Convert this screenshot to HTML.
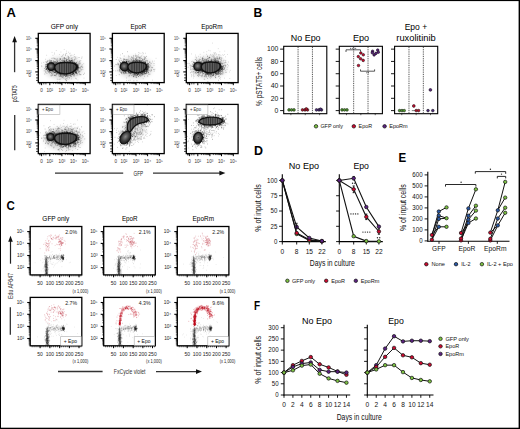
<!DOCTYPE html><html><head><meta charset="utf-8"><style>html,body{margin:0;padding:0;background:#fff;}svg{display:block;font-family:"Liberation Sans", sans-serif;}</style></head><body><svg width="520" height="429" viewBox="0 0 520 429" font-family='"Liberation Sans", sans-serif'><defs><filter id="blur2" x="-50%" y="-50%" width="200%" height="200%"><feGaussianBlur stdDeviation="2.5"/></filter><radialGradient id="sph" cx="0.45" cy="0.45" r="0.6"><stop offset="0" stop-color="#8a8a8a"/><stop offset="0.6" stop-color="#3a3a3a"/><stop offset="1" stop-color="#1a1a1a"/></radialGradient></defs><rect x="0" y="0" width="520" height="429" fill="#000"/><rect x="1" y="1.1" width="517.6" height="426.6" fill="#fff"/><text x="6.6" y="16.8" font-size="13" text-anchor="start" font-weight="bold" fill="#000">A</text><text x="253.6" y="17.1" font-size="13" text-anchor="start" font-weight="bold" fill="#000" textLength="8.8" lengthAdjust="spacingAndGlyphs">B</text><text x="6.6" y="209.5" font-size="13" text-anchor="start" font-weight="bold" fill="#000" textLength="8.3" lengthAdjust="spacingAndGlyphs">C</text><text x="253.9" y="155.4" font-size="13" text-anchor="start" font-weight="bold" fill="#000" textLength="9" lengthAdjust="spacingAndGlyphs">D</text><text x="398.4" y="161.9" font-size="13" text-anchor="start" font-weight="bold" fill="#000" textLength="7.7" lengthAdjust="spacingAndGlyphs">E</text><text x="253.9" y="310" font-size="13" text-anchor="start" font-weight="bold" fill="#000" textLength="6.1" lengthAdjust="spacingAndGlyphs">F</text><rect x="38.3" y="33.4" width="51.8" height="49.2" fill="none" stroke="#000" stroke-width="1.3"/><line x1="35.3" y1="38.3" x2="38.3" y2="38.3" stroke="#000" stroke-width="1.1"/><line x1="36.7" y1="45.78" x2="38.3" y2="45.78" stroke="#000" stroke-width="0.6"/><line x1="36.7" y1="43.89" x2="38.3" y2="43.89" stroke="#000" stroke-width="0.6"/><line x1="36.7" y1="42.56" x2="38.3" y2="42.56" stroke="#000" stroke-width="0.6"/><line x1="36.7" y1="41.52" x2="38.3" y2="41.52" stroke="#000" stroke-width="0.6"/><line x1="36.7" y1="40.67" x2="38.3" y2="40.67" stroke="#000" stroke-width="0.6"/><line x1="36.7" y1="39.96" x2="38.3" y2="39.96" stroke="#000" stroke-width="0.6"/><line x1="36.7" y1="39.34" x2="38.3" y2="39.34" stroke="#000" stroke-width="0.6"/><line x1="36.7" y1="38.79" x2="38.3" y2="38.79" stroke="#000" stroke-width="0.6"/><text x="31.7" y="39.9" font-size="4.6" text-anchor="end" font-weight="normal" fill="#444" textLength="5.8" lengthAdjust="spacingAndGlyphs">10⁵</text><line x1="35.3" y1="49" x2="38.3" y2="49" stroke="#000" stroke-width="1.1"/><line x1="36.7" y1="57.11" x2="38.3" y2="57.11" stroke="#000" stroke-width="0.6"/><line x1="36.7" y1="55.07" x2="38.3" y2="55.07" stroke="#000" stroke-width="0.6"/><line x1="36.7" y1="53.62" x2="38.3" y2="53.62" stroke="#000" stroke-width="0.6"/><line x1="36.7" y1="52.49" x2="38.3" y2="52.49" stroke="#000" stroke-width="0.6"/><line x1="36.7" y1="51.57" x2="38.3" y2="51.57" stroke="#000" stroke-width="0.6"/><line x1="36.7" y1="50.8" x2="38.3" y2="50.8" stroke="#000" stroke-width="0.6"/><line x1="36.7" y1="50.12" x2="38.3" y2="50.12" stroke="#000" stroke-width="0.6"/><line x1="36.7" y1="49.53" x2="38.3" y2="49.53" stroke="#000" stroke-width="0.6"/><text x="31.7" y="50.6" font-size="4.6" text-anchor="end" font-weight="normal" fill="#444" textLength="5.8" lengthAdjust="spacingAndGlyphs">10⁴</text><line x1="35.3" y1="60.6" x2="38.3" y2="60.6" stroke="#000" stroke-width="1.1"/><line x1="36.7" y1="68.5" x2="38.3" y2="68.5" stroke="#000" stroke-width="0.6"/><line x1="36.7" y1="66.51" x2="38.3" y2="66.51" stroke="#000" stroke-width="0.6"/><line x1="36.7" y1="65.1" x2="38.3" y2="65.1" stroke="#000" stroke-width="0.6"/><line x1="36.7" y1="64" x2="38.3" y2="64" stroke="#000" stroke-width="0.6"/><line x1="36.7" y1="63.11" x2="38.3" y2="63.11" stroke="#000" stroke-width="0.6"/><line x1="36.7" y1="62.35" x2="38.3" y2="62.35" stroke="#000" stroke-width="0.6"/><line x1="36.7" y1="61.7" x2="38.3" y2="61.7" stroke="#000" stroke-width="0.6"/><line x1="36.7" y1="61.12" x2="38.3" y2="61.12" stroke="#000" stroke-width="0.6"/><text x="31.7" y="62.2" font-size="4.6" text-anchor="end" font-weight="normal" fill="#444" textLength="5.8" lengthAdjust="spacingAndGlyphs">10³</text><line x1="35.3" y1="71.9" x2="38.3" y2="71.9" stroke="#000" stroke-width="1.1"/><text x="31.7" y="73.5" font-size="4.6" text-anchor="end" font-weight="normal" fill="#444" textLength="5.8" lengthAdjust="spacingAndGlyphs">10²</text><line x1="36.1" y1="74.9" x2="38.3" y2="74.9" stroke="#000" stroke-width="0.8"/><line x1="36.1" y1="77.9" x2="38.3" y2="77.9" stroke="#000" stroke-width="0.8"/><line x1="36.1" y1="80.4" x2="38.3" y2="80.4" stroke="#000" stroke-width="0.8"/><text x="31" y="77.1" font-size="4.6" text-anchor="end" font-weight="normal" fill="#333">0</text><line x1="41.6" y1="82.6" x2="41.6" y2="85.2" stroke="#000" stroke-width="1"/><text x="41.6" y="92.2" font-size="4.6" text-anchor="middle" font-weight="normal" fill="#333">0</text><line x1="49.8" y1="82.6" x2="49.8" y2="85.2" stroke="#000" stroke-width="1"/><text x="49.8" y="92.2" font-size="4.6" text-anchor="middle" font-weight="normal" fill="#333">10²</text><line x1="53.44" y1="82.6" x2="53.44" y2="84.1" stroke="#000" stroke-width="0.6"/><line x1="55.57" y1="82.6" x2="55.57" y2="84.1" stroke="#000" stroke-width="0.6"/><line x1="57.08" y1="82.6" x2="57.08" y2="84.1" stroke="#000" stroke-width="0.6"/><line x1="58.26" y1="82.6" x2="58.26" y2="84.1" stroke="#000" stroke-width="0.6"/><line x1="59.22" y1="82.6" x2="59.22" y2="84.1" stroke="#000" stroke-width="0.6"/><line x1="60.03" y1="82.6" x2="60.03" y2="84.1" stroke="#000" stroke-width="0.6"/><line x1="60.73" y1="82.6" x2="60.73" y2="84.1" stroke="#000" stroke-width="0.6"/><line x1="61.35" y1="82.6" x2="61.35" y2="84.1" stroke="#000" stroke-width="0.6"/><line x1="61.9" y1="82.6" x2="61.9" y2="85.2" stroke="#000" stroke-width="1"/><text x="61.9" y="92.2" font-size="4.6" text-anchor="middle" font-weight="normal" fill="#333">10³</text><line x1="65.39" y1="82.6" x2="65.39" y2="84.1" stroke="#000" stroke-width="0.6"/><line x1="67.43" y1="82.6" x2="67.43" y2="84.1" stroke="#000" stroke-width="0.6"/><line x1="68.88" y1="82.6" x2="68.88" y2="84.1" stroke="#000" stroke-width="0.6"/><line x1="70.01" y1="82.6" x2="70.01" y2="84.1" stroke="#000" stroke-width="0.6"/><line x1="70.93" y1="82.6" x2="70.93" y2="84.1" stroke="#000" stroke-width="0.6"/><line x1="71.7" y1="82.6" x2="71.7" y2="84.1" stroke="#000" stroke-width="0.6"/><line x1="72.38" y1="82.6" x2="72.38" y2="84.1" stroke="#000" stroke-width="0.6"/><line x1="72.97" y1="82.6" x2="72.97" y2="84.1" stroke="#000" stroke-width="0.6"/><line x1="73.5" y1="82.6" x2="73.5" y2="85.2" stroke="#000" stroke-width="1"/><text x="73.5" y="92.2" font-size="4.6" text-anchor="middle" font-weight="normal" fill="#333">10⁴</text><line x1="77.05" y1="82.6" x2="77.05" y2="84.1" stroke="#000" stroke-width="0.6"/><line x1="79.13" y1="82.6" x2="79.13" y2="84.1" stroke="#000" stroke-width="0.6"/><line x1="80.6" y1="82.6" x2="80.6" y2="84.1" stroke="#000" stroke-width="0.6"/><line x1="81.75" y1="82.6" x2="81.75" y2="84.1" stroke="#000" stroke-width="0.6"/><line x1="82.68" y1="82.6" x2="82.68" y2="84.1" stroke="#000" stroke-width="0.6"/><line x1="83.47" y1="82.6" x2="83.47" y2="84.1" stroke="#000" stroke-width="0.6"/><line x1="84.16" y1="82.6" x2="84.16" y2="84.1" stroke="#000" stroke-width="0.6"/><line x1="84.76" y1="82.6" x2="84.76" y2="84.1" stroke="#000" stroke-width="0.6"/><line x1="85.3" y1="82.6" x2="85.3" y2="85.2" stroke="#000" stroke-width="1"/><text x="85.3" y="92.2" font-size="4.6" text-anchor="middle" font-weight="normal" fill="#333">10⁵</text><line x1="39.5" y1="82.6" x2="39.5" y2="84.4" stroke="#000" stroke-width="0.7"/><line x1="40.7" y1="82.6" x2="40.7" y2="84.4" stroke="#000" stroke-width="0.7"/><line x1="43.8" y1="82.6" x2="43.8" y2="84.4" stroke="#000" stroke-width="0.7"/><line x1="45.9" y1="82.6" x2="45.9" y2="84.4" stroke="#000" stroke-width="0.7"/><rect x="38.3" y="104.4" width="51.8" height="49.2" fill="none" stroke="#000" stroke-width="1.3"/><line x1="35.3" y1="109.3" x2="38.3" y2="109.3" stroke="#000" stroke-width="1.1"/><line x1="36.7" y1="116.78" x2="38.3" y2="116.78" stroke="#000" stroke-width="0.6"/><line x1="36.7" y1="114.89" x2="38.3" y2="114.89" stroke="#000" stroke-width="0.6"/><line x1="36.7" y1="113.56" x2="38.3" y2="113.56" stroke="#000" stroke-width="0.6"/><line x1="36.7" y1="112.52" x2="38.3" y2="112.52" stroke="#000" stroke-width="0.6"/><line x1="36.7" y1="111.67" x2="38.3" y2="111.67" stroke="#000" stroke-width="0.6"/><line x1="36.7" y1="110.96" x2="38.3" y2="110.96" stroke="#000" stroke-width="0.6"/><line x1="36.7" y1="110.34" x2="38.3" y2="110.34" stroke="#000" stroke-width="0.6"/><line x1="36.7" y1="109.79" x2="38.3" y2="109.79" stroke="#000" stroke-width="0.6"/><text x="31.7" y="110.9" font-size="4.6" text-anchor="end" font-weight="normal" fill="#444" textLength="5.8" lengthAdjust="spacingAndGlyphs">10⁵</text><line x1="35.3" y1="120" x2="38.3" y2="120" stroke="#000" stroke-width="1.1"/><line x1="36.7" y1="128.11" x2="38.3" y2="128.11" stroke="#000" stroke-width="0.6"/><line x1="36.7" y1="126.07" x2="38.3" y2="126.07" stroke="#000" stroke-width="0.6"/><line x1="36.7" y1="124.62" x2="38.3" y2="124.62" stroke="#000" stroke-width="0.6"/><line x1="36.7" y1="123.49" x2="38.3" y2="123.49" stroke="#000" stroke-width="0.6"/><line x1="36.7" y1="122.57" x2="38.3" y2="122.57" stroke="#000" stroke-width="0.6"/><line x1="36.7" y1="121.8" x2="38.3" y2="121.8" stroke="#000" stroke-width="0.6"/><line x1="36.7" y1="121.12" x2="38.3" y2="121.12" stroke="#000" stroke-width="0.6"/><line x1="36.7" y1="120.53" x2="38.3" y2="120.53" stroke="#000" stroke-width="0.6"/><text x="31.7" y="121.6" font-size="4.6" text-anchor="end" font-weight="normal" fill="#444" textLength="5.8" lengthAdjust="spacingAndGlyphs">10⁴</text><line x1="35.3" y1="131.6" x2="38.3" y2="131.6" stroke="#000" stroke-width="1.1"/><line x1="36.7" y1="139.5" x2="38.3" y2="139.5" stroke="#000" stroke-width="0.6"/><line x1="36.7" y1="137.51" x2="38.3" y2="137.51" stroke="#000" stroke-width="0.6"/><line x1="36.7" y1="136.1" x2="38.3" y2="136.1" stroke="#000" stroke-width="0.6"/><line x1="36.7" y1="135" x2="38.3" y2="135" stroke="#000" stroke-width="0.6"/><line x1="36.7" y1="134.11" x2="38.3" y2="134.11" stroke="#000" stroke-width="0.6"/><line x1="36.7" y1="133.35" x2="38.3" y2="133.35" stroke="#000" stroke-width="0.6"/><line x1="36.7" y1="132.7" x2="38.3" y2="132.7" stroke="#000" stroke-width="0.6"/><line x1="36.7" y1="132.12" x2="38.3" y2="132.12" stroke="#000" stroke-width="0.6"/><text x="31.7" y="133.2" font-size="4.6" text-anchor="end" font-weight="normal" fill="#444" textLength="5.8" lengthAdjust="spacingAndGlyphs">10³</text><line x1="35.3" y1="142.9" x2="38.3" y2="142.9" stroke="#000" stroke-width="1.1"/><text x="31.7" y="144.5" font-size="4.6" text-anchor="end" font-weight="normal" fill="#444" textLength="5.8" lengthAdjust="spacingAndGlyphs">10²</text><line x1="36.1" y1="145.9" x2="38.3" y2="145.9" stroke="#000" stroke-width="0.8"/><line x1="36.1" y1="148.9" x2="38.3" y2="148.9" stroke="#000" stroke-width="0.8"/><line x1="36.1" y1="151.4" x2="38.3" y2="151.4" stroke="#000" stroke-width="0.8"/><text x="31" y="148.1" font-size="4.6" text-anchor="end" font-weight="normal" fill="#333">0</text><line x1="41.6" y1="153.6" x2="41.6" y2="156.2" stroke="#000" stroke-width="1"/><text x="41.6" y="163.2" font-size="4.6" text-anchor="middle" font-weight="normal" fill="#333">0</text><line x1="49.8" y1="153.6" x2="49.8" y2="156.2" stroke="#000" stroke-width="1"/><text x="49.8" y="163.2" font-size="4.6" text-anchor="middle" font-weight="normal" fill="#333">10²</text><line x1="53.44" y1="153.6" x2="53.44" y2="155.1" stroke="#000" stroke-width="0.6"/><line x1="55.57" y1="153.6" x2="55.57" y2="155.1" stroke="#000" stroke-width="0.6"/><line x1="57.08" y1="153.6" x2="57.08" y2="155.1" stroke="#000" stroke-width="0.6"/><line x1="58.26" y1="153.6" x2="58.26" y2="155.1" stroke="#000" stroke-width="0.6"/><line x1="59.22" y1="153.6" x2="59.22" y2="155.1" stroke="#000" stroke-width="0.6"/><line x1="60.03" y1="153.6" x2="60.03" y2="155.1" stroke="#000" stroke-width="0.6"/><line x1="60.73" y1="153.6" x2="60.73" y2="155.1" stroke="#000" stroke-width="0.6"/><line x1="61.35" y1="153.6" x2="61.35" y2="155.1" stroke="#000" stroke-width="0.6"/><line x1="61.9" y1="153.6" x2="61.9" y2="156.2" stroke="#000" stroke-width="1"/><text x="61.9" y="163.2" font-size="4.6" text-anchor="middle" font-weight="normal" fill="#333">10³</text><line x1="65.39" y1="153.6" x2="65.39" y2="155.1" stroke="#000" stroke-width="0.6"/><line x1="67.43" y1="153.6" x2="67.43" y2="155.1" stroke="#000" stroke-width="0.6"/><line x1="68.88" y1="153.6" x2="68.88" y2="155.1" stroke="#000" stroke-width="0.6"/><line x1="70.01" y1="153.6" x2="70.01" y2="155.1" stroke="#000" stroke-width="0.6"/><line x1="70.93" y1="153.6" x2="70.93" y2="155.1" stroke="#000" stroke-width="0.6"/><line x1="71.7" y1="153.6" x2="71.7" y2="155.1" stroke="#000" stroke-width="0.6"/><line x1="72.38" y1="153.6" x2="72.38" y2="155.1" stroke="#000" stroke-width="0.6"/><line x1="72.97" y1="153.6" x2="72.97" y2="155.1" stroke="#000" stroke-width="0.6"/><line x1="73.5" y1="153.6" x2="73.5" y2="156.2" stroke="#000" stroke-width="1"/><text x="73.5" y="163.2" font-size="4.6" text-anchor="middle" font-weight="normal" fill="#333">10⁴</text><line x1="77.05" y1="153.6" x2="77.05" y2="155.1" stroke="#000" stroke-width="0.6"/><line x1="79.13" y1="153.6" x2="79.13" y2="155.1" stroke="#000" stroke-width="0.6"/><line x1="80.6" y1="153.6" x2="80.6" y2="155.1" stroke="#000" stroke-width="0.6"/><line x1="81.75" y1="153.6" x2="81.75" y2="155.1" stroke="#000" stroke-width="0.6"/><line x1="82.68" y1="153.6" x2="82.68" y2="155.1" stroke="#000" stroke-width="0.6"/><line x1="83.47" y1="153.6" x2="83.47" y2="155.1" stroke="#000" stroke-width="0.6"/><line x1="84.16" y1="153.6" x2="84.16" y2="155.1" stroke="#000" stroke-width="0.6"/><line x1="84.76" y1="153.6" x2="84.76" y2="155.1" stroke="#000" stroke-width="0.6"/><line x1="85.3" y1="153.6" x2="85.3" y2="156.2" stroke="#000" stroke-width="1"/><text x="85.3" y="163.2" font-size="4.6" text-anchor="middle" font-weight="normal" fill="#333">10⁵</text><line x1="39.5" y1="153.6" x2="39.5" y2="155.4" stroke="#000" stroke-width="0.7"/><line x1="40.7" y1="153.6" x2="40.7" y2="155.4" stroke="#000" stroke-width="0.7"/><line x1="43.8" y1="153.6" x2="43.8" y2="155.4" stroke="#000" stroke-width="0.7"/><line x1="45.9" y1="153.6" x2="45.9" y2="155.4" stroke="#000" stroke-width="0.7"/><rect x="112.4" y="33.4" width="51.8" height="49.2" fill="none" stroke="#000" stroke-width="1.3"/><line x1="109.4" y1="38.3" x2="112.4" y2="38.3" stroke="#000" stroke-width="1.1"/><line x1="110.8" y1="45.78" x2="112.4" y2="45.78" stroke="#000" stroke-width="0.6"/><line x1="110.8" y1="43.89" x2="112.4" y2="43.89" stroke="#000" stroke-width="0.6"/><line x1="110.8" y1="42.56" x2="112.4" y2="42.56" stroke="#000" stroke-width="0.6"/><line x1="110.8" y1="41.52" x2="112.4" y2="41.52" stroke="#000" stroke-width="0.6"/><line x1="110.8" y1="40.67" x2="112.4" y2="40.67" stroke="#000" stroke-width="0.6"/><line x1="110.8" y1="39.96" x2="112.4" y2="39.96" stroke="#000" stroke-width="0.6"/><line x1="110.8" y1="39.34" x2="112.4" y2="39.34" stroke="#000" stroke-width="0.6"/><line x1="110.8" y1="38.79" x2="112.4" y2="38.79" stroke="#000" stroke-width="0.6"/><text x="105.8" y="39.9" font-size="4.6" text-anchor="end" font-weight="normal" fill="#444" textLength="5.8" lengthAdjust="spacingAndGlyphs">10⁵</text><line x1="109.4" y1="49" x2="112.4" y2="49" stroke="#000" stroke-width="1.1"/><line x1="110.8" y1="57.11" x2="112.4" y2="57.11" stroke="#000" stroke-width="0.6"/><line x1="110.8" y1="55.07" x2="112.4" y2="55.07" stroke="#000" stroke-width="0.6"/><line x1="110.8" y1="53.62" x2="112.4" y2="53.62" stroke="#000" stroke-width="0.6"/><line x1="110.8" y1="52.49" x2="112.4" y2="52.49" stroke="#000" stroke-width="0.6"/><line x1="110.8" y1="51.57" x2="112.4" y2="51.57" stroke="#000" stroke-width="0.6"/><line x1="110.8" y1="50.8" x2="112.4" y2="50.8" stroke="#000" stroke-width="0.6"/><line x1="110.8" y1="50.12" x2="112.4" y2="50.12" stroke="#000" stroke-width="0.6"/><line x1="110.8" y1="49.53" x2="112.4" y2="49.53" stroke="#000" stroke-width="0.6"/><text x="105.8" y="50.6" font-size="4.6" text-anchor="end" font-weight="normal" fill="#444" textLength="5.8" lengthAdjust="spacingAndGlyphs">10⁴</text><line x1="109.4" y1="60.6" x2="112.4" y2="60.6" stroke="#000" stroke-width="1.1"/><line x1="110.8" y1="68.5" x2="112.4" y2="68.5" stroke="#000" stroke-width="0.6"/><line x1="110.8" y1="66.51" x2="112.4" y2="66.51" stroke="#000" stroke-width="0.6"/><line x1="110.8" y1="65.1" x2="112.4" y2="65.1" stroke="#000" stroke-width="0.6"/><line x1="110.8" y1="64" x2="112.4" y2="64" stroke="#000" stroke-width="0.6"/><line x1="110.8" y1="63.11" x2="112.4" y2="63.11" stroke="#000" stroke-width="0.6"/><line x1="110.8" y1="62.35" x2="112.4" y2="62.35" stroke="#000" stroke-width="0.6"/><line x1="110.8" y1="61.7" x2="112.4" y2="61.7" stroke="#000" stroke-width="0.6"/><line x1="110.8" y1="61.12" x2="112.4" y2="61.12" stroke="#000" stroke-width="0.6"/><text x="105.8" y="62.2" font-size="4.6" text-anchor="end" font-weight="normal" fill="#444" textLength="5.8" lengthAdjust="spacingAndGlyphs">10³</text><line x1="109.4" y1="71.9" x2="112.4" y2="71.9" stroke="#000" stroke-width="1.1"/><text x="105.8" y="73.5" font-size="4.6" text-anchor="end" font-weight="normal" fill="#444" textLength="5.8" lengthAdjust="spacingAndGlyphs">10²</text><line x1="110.2" y1="74.9" x2="112.4" y2="74.9" stroke="#000" stroke-width="0.8"/><line x1="110.2" y1="77.9" x2="112.4" y2="77.9" stroke="#000" stroke-width="0.8"/><line x1="110.2" y1="80.4" x2="112.4" y2="80.4" stroke="#000" stroke-width="0.8"/><text x="105.1" y="77.1" font-size="4.6" text-anchor="end" font-weight="normal" fill="#333">0</text><line x1="115.7" y1="82.6" x2="115.7" y2="85.2" stroke="#000" stroke-width="1"/><text x="115.7" y="92.2" font-size="4.6" text-anchor="middle" font-weight="normal" fill="#333">0</text><line x1="123.9" y1="82.6" x2="123.9" y2="85.2" stroke="#000" stroke-width="1"/><text x="123.9" y="92.2" font-size="4.6" text-anchor="middle" font-weight="normal" fill="#333">10²</text><line x1="127.54" y1="82.6" x2="127.54" y2="84.1" stroke="#000" stroke-width="0.6"/><line x1="129.67" y1="82.6" x2="129.67" y2="84.1" stroke="#000" stroke-width="0.6"/><line x1="131.18" y1="82.6" x2="131.18" y2="84.1" stroke="#000" stroke-width="0.6"/><line x1="132.36" y1="82.6" x2="132.36" y2="84.1" stroke="#000" stroke-width="0.6"/><line x1="133.32" y1="82.6" x2="133.32" y2="84.1" stroke="#000" stroke-width="0.6"/><line x1="134.13" y1="82.6" x2="134.13" y2="84.1" stroke="#000" stroke-width="0.6"/><line x1="134.83" y1="82.6" x2="134.83" y2="84.1" stroke="#000" stroke-width="0.6"/><line x1="135.45" y1="82.6" x2="135.45" y2="84.1" stroke="#000" stroke-width="0.6"/><line x1="136" y1="82.6" x2="136" y2="85.2" stroke="#000" stroke-width="1"/><text x="136" y="92.2" font-size="4.6" text-anchor="middle" font-weight="normal" fill="#333">10³</text><line x1="139.49" y1="82.6" x2="139.49" y2="84.1" stroke="#000" stroke-width="0.6"/><line x1="141.53" y1="82.6" x2="141.53" y2="84.1" stroke="#000" stroke-width="0.6"/><line x1="142.98" y1="82.6" x2="142.98" y2="84.1" stroke="#000" stroke-width="0.6"/><line x1="144.11" y1="82.6" x2="144.11" y2="84.1" stroke="#000" stroke-width="0.6"/><line x1="145.03" y1="82.6" x2="145.03" y2="84.1" stroke="#000" stroke-width="0.6"/><line x1="145.8" y1="82.6" x2="145.8" y2="84.1" stroke="#000" stroke-width="0.6"/><line x1="146.48" y1="82.6" x2="146.48" y2="84.1" stroke="#000" stroke-width="0.6"/><line x1="147.07" y1="82.6" x2="147.07" y2="84.1" stroke="#000" stroke-width="0.6"/><line x1="147.6" y1="82.6" x2="147.6" y2="85.2" stroke="#000" stroke-width="1"/><text x="147.6" y="92.2" font-size="4.6" text-anchor="middle" font-weight="normal" fill="#333">10⁴</text><line x1="151.15" y1="82.6" x2="151.15" y2="84.1" stroke="#000" stroke-width="0.6"/><line x1="153.23" y1="82.6" x2="153.23" y2="84.1" stroke="#000" stroke-width="0.6"/><line x1="154.7" y1="82.6" x2="154.7" y2="84.1" stroke="#000" stroke-width="0.6"/><line x1="155.85" y1="82.6" x2="155.85" y2="84.1" stroke="#000" stroke-width="0.6"/><line x1="156.78" y1="82.6" x2="156.78" y2="84.1" stroke="#000" stroke-width="0.6"/><line x1="157.57" y1="82.6" x2="157.57" y2="84.1" stroke="#000" stroke-width="0.6"/><line x1="158.26" y1="82.6" x2="158.26" y2="84.1" stroke="#000" stroke-width="0.6"/><line x1="158.86" y1="82.6" x2="158.86" y2="84.1" stroke="#000" stroke-width="0.6"/><line x1="159.4" y1="82.6" x2="159.4" y2="85.2" stroke="#000" stroke-width="1"/><text x="159.4" y="92.2" font-size="4.6" text-anchor="middle" font-weight="normal" fill="#333">10⁵</text><line x1="113.6" y1="82.6" x2="113.6" y2="84.4" stroke="#000" stroke-width="0.7"/><line x1="114.8" y1="82.6" x2="114.8" y2="84.4" stroke="#000" stroke-width="0.7"/><line x1="117.9" y1="82.6" x2="117.9" y2="84.4" stroke="#000" stroke-width="0.7"/><line x1="120" y1="82.6" x2="120" y2="84.4" stroke="#000" stroke-width="0.7"/><rect x="112.4" y="104.4" width="51.8" height="49.2" fill="none" stroke="#000" stroke-width="1.3"/><line x1="109.4" y1="109.3" x2="112.4" y2="109.3" stroke="#000" stroke-width="1.1"/><line x1="110.8" y1="116.78" x2="112.4" y2="116.78" stroke="#000" stroke-width="0.6"/><line x1="110.8" y1="114.89" x2="112.4" y2="114.89" stroke="#000" stroke-width="0.6"/><line x1="110.8" y1="113.56" x2="112.4" y2="113.56" stroke="#000" stroke-width="0.6"/><line x1="110.8" y1="112.52" x2="112.4" y2="112.52" stroke="#000" stroke-width="0.6"/><line x1="110.8" y1="111.67" x2="112.4" y2="111.67" stroke="#000" stroke-width="0.6"/><line x1="110.8" y1="110.96" x2="112.4" y2="110.96" stroke="#000" stroke-width="0.6"/><line x1="110.8" y1="110.34" x2="112.4" y2="110.34" stroke="#000" stroke-width="0.6"/><line x1="110.8" y1="109.79" x2="112.4" y2="109.79" stroke="#000" stroke-width="0.6"/><text x="105.8" y="110.9" font-size="4.6" text-anchor="end" font-weight="normal" fill="#444" textLength="5.8" lengthAdjust="spacingAndGlyphs">10⁵</text><line x1="109.4" y1="120" x2="112.4" y2="120" stroke="#000" stroke-width="1.1"/><line x1="110.8" y1="128.11" x2="112.4" y2="128.11" stroke="#000" stroke-width="0.6"/><line x1="110.8" y1="126.07" x2="112.4" y2="126.07" stroke="#000" stroke-width="0.6"/><line x1="110.8" y1="124.62" x2="112.4" y2="124.62" stroke="#000" stroke-width="0.6"/><line x1="110.8" y1="123.49" x2="112.4" y2="123.49" stroke="#000" stroke-width="0.6"/><line x1="110.8" y1="122.57" x2="112.4" y2="122.57" stroke="#000" stroke-width="0.6"/><line x1="110.8" y1="121.8" x2="112.4" y2="121.8" stroke="#000" stroke-width="0.6"/><line x1="110.8" y1="121.12" x2="112.4" y2="121.12" stroke="#000" stroke-width="0.6"/><line x1="110.8" y1="120.53" x2="112.4" y2="120.53" stroke="#000" stroke-width="0.6"/><text x="105.8" y="121.6" font-size="4.6" text-anchor="end" font-weight="normal" fill="#444" textLength="5.8" lengthAdjust="spacingAndGlyphs">10⁴</text><line x1="109.4" y1="131.6" x2="112.4" y2="131.6" stroke="#000" stroke-width="1.1"/><line x1="110.8" y1="139.5" x2="112.4" y2="139.5" stroke="#000" stroke-width="0.6"/><line x1="110.8" y1="137.51" x2="112.4" y2="137.51" stroke="#000" stroke-width="0.6"/><line x1="110.8" y1="136.1" x2="112.4" y2="136.1" stroke="#000" stroke-width="0.6"/><line x1="110.8" y1="135" x2="112.4" y2="135" stroke="#000" stroke-width="0.6"/><line x1="110.8" y1="134.11" x2="112.4" y2="134.11" stroke="#000" stroke-width="0.6"/><line x1="110.8" y1="133.35" x2="112.4" y2="133.35" stroke="#000" stroke-width="0.6"/><line x1="110.8" y1="132.7" x2="112.4" y2="132.7" stroke="#000" stroke-width="0.6"/><line x1="110.8" y1="132.12" x2="112.4" y2="132.12" stroke="#000" stroke-width="0.6"/><text x="105.8" y="133.2" font-size="4.6" text-anchor="end" font-weight="normal" fill="#444" textLength="5.8" lengthAdjust="spacingAndGlyphs">10³</text><line x1="109.4" y1="142.9" x2="112.4" y2="142.9" stroke="#000" stroke-width="1.1"/><text x="105.8" y="144.5" font-size="4.6" text-anchor="end" font-weight="normal" fill="#444" textLength="5.8" lengthAdjust="spacingAndGlyphs">10²</text><line x1="110.2" y1="145.9" x2="112.4" y2="145.9" stroke="#000" stroke-width="0.8"/><line x1="110.2" y1="148.9" x2="112.4" y2="148.9" stroke="#000" stroke-width="0.8"/><line x1="110.2" y1="151.4" x2="112.4" y2="151.4" stroke="#000" stroke-width="0.8"/><text x="105.1" y="148.1" font-size="4.6" text-anchor="end" font-weight="normal" fill="#333">0</text><line x1="115.7" y1="153.6" x2="115.7" y2="156.2" stroke="#000" stroke-width="1"/><text x="115.7" y="163.2" font-size="4.6" text-anchor="middle" font-weight="normal" fill="#333">0</text><line x1="123.9" y1="153.6" x2="123.9" y2="156.2" stroke="#000" stroke-width="1"/><text x="123.9" y="163.2" font-size="4.6" text-anchor="middle" font-weight="normal" fill="#333">10²</text><line x1="127.54" y1="153.6" x2="127.54" y2="155.1" stroke="#000" stroke-width="0.6"/><line x1="129.67" y1="153.6" x2="129.67" y2="155.1" stroke="#000" stroke-width="0.6"/><line x1="131.18" y1="153.6" x2="131.18" y2="155.1" stroke="#000" stroke-width="0.6"/><line x1="132.36" y1="153.6" x2="132.36" y2="155.1" stroke="#000" stroke-width="0.6"/><line x1="133.32" y1="153.6" x2="133.32" y2="155.1" stroke="#000" stroke-width="0.6"/><line x1="134.13" y1="153.6" x2="134.13" y2="155.1" stroke="#000" stroke-width="0.6"/><line x1="134.83" y1="153.6" x2="134.83" y2="155.1" stroke="#000" stroke-width="0.6"/><line x1="135.45" y1="153.6" x2="135.45" y2="155.1" stroke="#000" stroke-width="0.6"/><line x1="136" y1="153.6" x2="136" y2="156.2" stroke="#000" stroke-width="1"/><text x="136" y="163.2" font-size="4.6" text-anchor="middle" font-weight="normal" fill="#333">10³</text><line x1="139.49" y1="153.6" x2="139.49" y2="155.1" stroke="#000" stroke-width="0.6"/><line x1="141.53" y1="153.6" x2="141.53" y2="155.1" stroke="#000" stroke-width="0.6"/><line x1="142.98" y1="153.6" x2="142.98" y2="155.1" stroke="#000" stroke-width="0.6"/><line x1="144.11" y1="153.6" x2="144.11" y2="155.1" stroke="#000" stroke-width="0.6"/><line x1="145.03" y1="153.6" x2="145.03" y2="155.1" stroke="#000" stroke-width="0.6"/><line x1="145.8" y1="153.6" x2="145.8" y2="155.1" stroke="#000" stroke-width="0.6"/><line x1="146.48" y1="153.6" x2="146.48" y2="155.1" stroke="#000" stroke-width="0.6"/><line x1="147.07" y1="153.6" x2="147.07" y2="155.1" stroke="#000" stroke-width="0.6"/><line x1="147.6" y1="153.6" x2="147.6" y2="156.2" stroke="#000" stroke-width="1"/><text x="147.6" y="163.2" font-size="4.6" text-anchor="middle" font-weight="normal" fill="#333">10⁴</text><line x1="151.15" y1="153.6" x2="151.15" y2="155.1" stroke="#000" stroke-width="0.6"/><line x1="153.23" y1="153.6" x2="153.23" y2="155.1" stroke="#000" stroke-width="0.6"/><line x1="154.7" y1="153.6" x2="154.7" y2="155.1" stroke="#000" stroke-width="0.6"/><line x1="155.85" y1="153.6" x2="155.85" y2="155.1" stroke="#000" stroke-width="0.6"/><line x1="156.78" y1="153.6" x2="156.78" y2="155.1" stroke="#000" stroke-width="0.6"/><line x1="157.57" y1="153.6" x2="157.57" y2="155.1" stroke="#000" stroke-width="0.6"/><line x1="158.26" y1="153.6" x2="158.26" y2="155.1" stroke="#000" stroke-width="0.6"/><line x1="158.86" y1="153.6" x2="158.86" y2="155.1" stroke="#000" stroke-width="0.6"/><line x1="159.4" y1="153.6" x2="159.4" y2="156.2" stroke="#000" stroke-width="1"/><text x="159.4" y="163.2" font-size="4.6" text-anchor="middle" font-weight="normal" fill="#333">10⁵</text><line x1="113.6" y1="153.6" x2="113.6" y2="155.4" stroke="#000" stroke-width="0.7"/><line x1="114.8" y1="153.6" x2="114.8" y2="155.4" stroke="#000" stroke-width="0.7"/><line x1="117.9" y1="153.6" x2="117.9" y2="155.4" stroke="#000" stroke-width="0.7"/><line x1="120" y1="153.6" x2="120" y2="155.4" stroke="#000" stroke-width="0.7"/><rect x="186.3" y="33.4" width="51.8" height="49.2" fill="none" stroke="#000" stroke-width="1.3"/><line x1="183.3" y1="38.3" x2="186.3" y2="38.3" stroke="#000" stroke-width="1.1"/><line x1="184.7" y1="45.78" x2="186.3" y2="45.78" stroke="#000" stroke-width="0.6"/><line x1="184.7" y1="43.89" x2="186.3" y2="43.89" stroke="#000" stroke-width="0.6"/><line x1="184.7" y1="42.56" x2="186.3" y2="42.56" stroke="#000" stroke-width="0.6"/><line x1="184.7" y1="41.52" x2="186.3" y2="41.52" stroke="#000" stroke-width="0.6"/><line x1="184.7" y1="40.67" x2="186.3" y2="40.67" stroke="#000" stroke-width="0.6"/><line x1="184.7" y1="39.96" x2="186.3" y2="39.96" stroke="#000" stroke-width="0.6"/><line x1="184.7" y1="39.34" x2="186.3" y2="39.34" stroke="#000" stroke-width="0.6"/><line x1="184.7" y1="38.79" x2="186.3" y2="38.79" stroke="#000" stroke-width="0.6"/><text x="179.7" y="39.9" font-size="4.6" text-anchor="end" font-weight="normal" fill="#444" textLength="5.8" lengthAdjust="spacingAndGlyphs">10⁵</text><line x1="183.3" y1="49" x2="186.3" y2="49" stroke="#000" stroke-width="1.1"/><line x1="184.7" y1="57.11" x2="186.3" y2="57.11" stroke="#000" stroke-width="0.6"/><line x1="184.7" y1="55.07" x2="186.3" y2="55.07" stroke="#000" stroke-width="0.6"/><line x1="184.7" y1="53.62" x2="186.3" y2="53.62" stroke="#000" stroke-width="0.6"/><line x1="184.7" y1="52.49" x2="186.3" y2="52.49" stroke="#000" stroke-width="0.6"/><line x1="184.7" y1="51.57" x2="186.3" y2="51.57" stroke="#000" stroke-width="0.6"/><line x1="184.7" y1="50.8" x2="186.3" y2="50.8" stroke="#000" stroke-width="0.6"/><line x1="184.7" y1="50.12" x2="186.3" y2="50.12" stroke="#000" stroke-width="0.6"/><line x1="184.7" y1="49.53" x2="186.3" y2="49.53" stroke="#000" stroke-width="0.6"/><text x="179.7" y="50.6" font-size="4.6" text-anchor="end" font-weight="normal" fill="#444" textLength="5.8" lengthAdjust="spacingAndGlyphs">10⁴</text><line x1="183.3" y1="60.6" x2="186.3" y2="60.6" stroke="#000" stroke-width="1.1"/><line x1="184.7" y1="68.5" x2="186.3" y2="68.5" stroke="#000" stroke-width="0.6"/><line x1="184.7" y1="66.51" x2="186.3" y2="66.51" stroke="#000" stroke-width="0.6"/><line x1="184.7" y1="65.1" x2="186.3" y2="65.1" stroke="#000" stroke-width="0.6"/><line x1="184.7" y1="64" x2="186.3" y2="64" stroke="#000" stroke-width="0.6"/><line x1="184.7" y1="63.11" x2="186.3" y2="63.11" stroke="#000" stroke-width="0.6"/><line x1="184.7" y1="62.35" x2="186.3" y2="62.35" stroke="#000" stroke-width="0.6"/><line x1="184.7" y1="61.7" x2="186.3" y2="61.7" stroke="#000" stroke-width="0.6"/><line x1="184.7" y1="61.12" x2="186.3" y2="61.12" stroke="#000" stroke-width="0.6"/><text x="179.7" y="62.2" font-size="4.6" text-anchor="end" font-weight="normal" fill="#444" textLength="5.8" lengthAdjust="spacingAndGlyphs">10³</text><line x1="183.3" y1="71.9" x2="186.3" y2="71.9" stroke="#000" stroke-width="1.1"/><text x="179.7" y="73.5" font-size="4.6" text-anchor="end" font-weight="normal" fill="#444" textLength="5.8" lengthAdjust="spacingAndGlyphs">10²</text><line x1="184.1" y1="74.9" x2="186.3" y2="74.9" stroke="#000" stroke-width="0.8"/><line x1="184.1" y1="77.9" x2="186.3" y2="77.9" stroke="#000" stroke-width="0.8"/><line x1="184.1" y1="80.4" x2="186.3" y2="80.4" stroke="#000" stroke-width="0.8"/><text x="179" y="77.1" font-size="4.6" text-anchor="end" font-weight="normal" fill="#333">0</text><line x1="189.6" y1="82.6" x2="189.6" y2="85.2" stroke="#000" stroke-width="1"/><text x="189.6" y="92.2" font-size="4.6" text-anchor="middle" font-weight="normal" fill="#333">0</text><line x1="197.8" y1="82.6" x2="197.8" y2="85.2" stroke="#000" stroke-width="1"/><text x="197.8" y="92.2" font-size="4.6" text-anchor="middle" font-weight="normal" fill="#333">10²</text><line x1="201.44" y1="82.6" x2="201.44" y2="84.1" stroke="#000" stroke-width="0.6"/><line x1="203.57" y1="82.6" x2="203.57" y2="84.1" stroke="#000" stroke-width="0.6"/><line x1="205.08" y1="82.6" x2="205.08" y2="84.1" stroke="#000" stroke-width="0.6"/><line x1="206.26" y1="82.6" x2="206.26" y2="84.1" stroke="#000" stroke-width="0.6"/><line x1="207.22" y1="82.6" x2="207.22" y2="84.1" stroke="#000" stroke-width="0.6"/><line x1="208.03" y1="82.6" x2="208.03" y2="84.1" stroke="#000" stroke-width="0.6"/><line x1="208.73" y1="82.6" x2="208.73" y2="84.1" stroke="#000" stroke-width="0.6"/><line x1="209.35" y1="82.6" x2="209.35" y2="84.1" stroke="#000" stroke-width="0.6"/><line x1="209.9" y1="82.6" x2="209.9" y2="85.2" stroke="#000" stroke-width="1"/><text x="209.9" y="92.2" font-size="4.6" text-anchor="middle" font-weight="normal" fill="#333">10³</text><line x1="213.39" y1="82.6" x2="213.39" y2="84.1" stroke="#000" stroke-width="0.6"/><line x1="215.43" y1="82.6" x2="215.43" y2="84.1" stroke="#000" stroke-width="0.6"/><line x1="216.88" y1="82.6" x2="216.88" y2="84.1" stroke="#000" stroke-width="0.6"/><line x1="218.01" y1="82.6" x2="218.01" y2="84.1" stroke="#000" stroke-width="0.6"/><line x1="218.93" y1="82.6" x2="218.93" y2="84.1" stroke="#000" stroke-width="0.6"/><line x1="219.7" y1="82.6" x2="219.7" y2="84.1" stroke="#000" stroke-width="0.6"/><line x1="220.38" y1="82.6" x2="220.38" y2="84.1" stroke="#000" stroke-width="0.6"/><line x1="220.97" y1="82.6" x2="220.97" y2="84.1" stroke="#000" stroke-width="0.6"/><line x1="221.5" y1="82.6" x2="221.5" y2="85.2" stroke="#000" stroke-width="1"/><text x="221.5" y="92.2" font-size="4.6" text-anchor="middle" font-weight="normal" fill="#333">10⁴</text><line x1="225.05" y1="82.6" x2="225.05" y2="84.1" stroke="#000" stroke-width="0.6"/><line x1="227.13" y1="82.6" x2="227.13" y2="84.1" stroke="#000" stroke-width="0.6"/><line x1="228.6" y1="82.6" x2="228.6" y2="84.1" stroke="#000" stroke-width="0.6"/><line x1="229.75" y1="82.6" x2="229.75" y2="84.1" stroke="#000" stroke-width="0.6"/><line x1="230.68" y1="82.6" x2="230.68" y2="84.1" stroke="#000" stroke-width="0.6"/><line x1="231.47" y1="82.6" x2="231.47" y2="84.1" stroke="#000" stroke-width="0.6"/><line x1="232.16" y1="82.6" x2="232.16" y2="84.1" stroke="#000" stroke-width="0.6"/><line x1="232.76" y1="82.6" x2="232.76" y2="84.1" stroke="#000" stroke-width="0.6"/><line x1="233.3" y1="82.6" x2="233.3" y2="85.2" stroke="#000" stroke-width="1"/><text x="233.3" y="92.2" font-size="4.6" text-anchor="middle" font-weight="normal" fill="#333">10⁵</text><line x1="187.5" y1="82.6" x2="187.5" y2="84.4" stroke="#000" stroke-width="0.7"/><line x1="188.7" y1="82.6" x2="188.7" y2="84.4" stroke="#000" stroke-width="0.7"/><line x1="191.8" y1="82.6" x2="191.8" y2="84.4" stroke="#000" stroke-width="0.7"/><line x1="193.9" y1="82.6" x2="193.9" y2="84.4" stroke="#000" stroke-width="0.7"/><rect x="186.3" y="104.4" width="51.8" height="49.2" fill="none" stroke="#000" stroke-width="1.3"/><line x1="183.3" y1="109.3" x2="186.3" y2="109.3" stroke="#000" stroke-width="1.1"/><line x1="184.7" y1="116.78" x2="186.3" y2="116.78" stroke="#000" stroke-width="0.6"/><line x1="184.7" y1="114.89" x2="186.3" y2="114.89" stroke="#000" stroke-width="0.6"/><line x1="184.7" y1="113.56" x2="186.3" y2="113.56" stroke="#000" stroke-width="0.6"/><line x1="184.7" y1="112.52" x2="186.3" y2="112.52" stroke="#000" stroke-width="0.6"/><line x1="184.7" y1="111.67" x2="186.3" y2="111.67" stroke="#000" stroke-width="0.6"/><line x1="184.7" y1="110.96" x2="186.3" y2="110.96" stroke="#000" stroke-width="0.6"/><line x1="184.7" y1="110.34" x2="186.3" y2="110.34" stroke="#000" stroke-width="0.6"/><line x1="184.7" y1="109.79" x2="186.3" y2="109.79" stroke="#000" stroke-width="0.6"/><text x="179.7" y="110.9" font-size="4.6" text-anchor="end" font-weight="normal" fill="#444" textLength="5.8" lengthAdjust="spacingAndGlyphs">10⁵</text><line x1="183.3" y1="120" x2="186.3" y2="120" stroke="#000" stroke-width="1.1"/><line x1="184.7" y1="128.11" x2="186.3" y2="128.11" stroke="#000" stroke-width="0.6"/><line x1="184.7" y1="126.07" x2="186.3" y2="126.07" stroke="#000" stroke-width="0.6"/><line x1="184.7" y1="124.62" x2="186.3" y2="124.62" stroke="#000" stroke-width="0.6"/><line x1="184.7" y1="123.49" x2="186.3" y2="123.49" stroke="#000" stroke-width="0.6"/><line x1="184.7" y1="122.57" x2="186.3" y2="122.57" stroke="#000" stroke-width="0.6"/><line x1="184.7" y1="121.8" x2="186.3" y2="121.8" stroke="#000" stroke-width="0.6"/><line x1="184.7" y1="121.12" x2="186.3" y2="121.12" stroke="#000" stroke-width="0.6"/><line x1="184.7" y1="120.53" x2="186.3" y2="120.53" stroke="#000" stroke-width="0.6"/><text x="179.7" y="121.6" font-size="4.6" text-anchor="end" font-weight="normal" fill="#444" textLength="5.8" lengthAdjust="spacingAndGlyphs">10⁴</text><line x1="183.3" y1="131.6" x2="186.3" y2="131.6" stroke="#000" stroke-width="1.1"/><line x1="184.7" y1="139.5" x2="186.3" y2="139.5" stroke="#000" stroke-width="0.6"/><line x1="184.7" y1="137.51" x2="186.3" y2="137.51" stroke="#000" stroke-width="0.6"/><line x1="184.7" y1="136.1" x2="186.3" y2="136.1" stroke="#000" stroke-width="0.6"/><line x1="184.7" y1="135" x2="186.3" y2="135" stroke="#000" stroke-width="0.6"/><line x1="184.7" y1="134.11" x2="186.3" y2="134.11" stroke="#000" stroke-width="0.6"/><line x1="184.7" y1="133.35" x2="186.3" y2="133.35" stroke="#000" stroke-width="0.6"/><line x1="184.7" y1="132.7" x2="186.3" y2="132.7" stroke="#000" stroke-width="0.6"/><line x1="184.7" y1="132.12" x2="186.3" y2="132.12" stroke="#000" stroke-width="0.6"/><text x="179.7" y="133.2" font-size="4.6" text-anchor="end" font-weight="normal" fill="#444" textLength="5.8" lengthAdjust="spacingAndGlyphs">10³</text><line x1="183.3" y1="142.9" x2="186.3" y2="142.9" stroke="#000" stroke-width="1.1"/><text x="179.7" y="144.5" font-size="4.6" text-anchor="end" font-weight="normal" fill="#444" textLength="5.8" lengthAdjust="spacingAndGlyphs">10²</text><line x1="184.1" y1="145.9" x2="186.3" y2="145.9" stroke="#000" stroke-width="0.8"/><line x1="184.1" y1="148.9" x2="186.3" y2="148.9" stroke="#000" stroke-width="0.8"/><line x1="184.1" y1="151.4" x2="186.3" y2="151.4" stroke="#000" stroke-width="0.8"/><text x="179" y="148.1" font-size="4.6" text-anchor="end" font-weight="normal" fill="#333">0</text><line x1="189.6" y1="153.6" x2="189.6" y2="156.2" stroke="#000" stroke-width="1"/><text x="189.6" y="163.2" font-size="4.6" text-anchor="middle" font-weight="normal" fill="#333">0</text><line x1="197.8" y1="153.6" x2="197.8" y2="156.2" stroke="#000" stroke-width="1"/><text x="197.8" y="163.2" font-size="4.6" text-anchor="middle" font-weight="normal" fill="#333">10²</text><line x1="201.44" y1="153.6" x2="201.44" y2="155.1" stroke="#000" stroke-width="0.6"/><line x1="203.57" y1="153.6" x2="203.57" y2="155.1" stroke="#000" stroke-width="0.6"/><line x1="205.08" y1="153.6" x2="205.08" y2="155.1" stroke="#000" stroke-width="0.6"/><line x1="206.26" y1="153.6" x2="206.26" y2="155.1" stroke="#000" stroke-width="0.6"/><line x1="207.22" y1="153.6" x2="207.22" y2="155.1" stroke="#000" stroke-width="0.6"/><line x1="208.03" y1="153.6" x2="208.03" y2="155.1" stroke="#000" stroke-width="0.6"/><line x1="208.73" y1="153.6" x2="208.73" y2="155.1" stroke="#000" stroke-width="0.6"/><line x1="209.35" y1="153.6" x2="209.35" y2="155.1" stroke="#000" stroke-width="0.6"/><line x1="209.9" y1="153.6" x2="209.9" y2="156.2" stroke="#000" stroke-width="1"/><text x="209.9" y="163.2" font-size="4.6" text-anchor="middle" font-weight="normal" fill="#333">10³</text><line x1="213.39" y1="153.6" x2="213.39" y2="155.1" stroke="#000" stroke-width="0.6"/><line x1="215.43" y1="153.6" x2="215.43" y2="155.1" stroke="#000" stroke-width="0.6"/><line x1="216.88" y1="153.6" x2="216.88" y2="155.1" stroke="#000" stroke-width="0.6"/><line x1="218.01" y1="153.6" x2="218.01" y2="155.1" stroke="#000" stroke-width="0.6"/><line x1="218.93" y1="153.6" x2="218.93" y2="155.1" stroke="#000" stroke-width="0.6"/><line x1="219.7" y1="153.6" x2="219.7" y2="155.1" stroke="#000" stroke-width="0.6"/><line x1="220.38" y1="153.6" x2="220.38" y2="155.1" stroke="#000" stroke-width="0.6"/><line x1="220.97" y1="153.6" x2="220.97" y2="155.1" stroke="#000" stroke-width="0.6"/><line x1="221.5" y1="153.6" x2="221.5" y2="156.2" stroke="#000" stroke-width="1"/><text x="221.5" y="163.2" font-size="4.6" text-anchor="middle" font-weight="normal" fill="#333">10⁴</text><line x1="225.05" y1="153.6" x2="225.05" y2="155.1" stroke="#000" stroke-width="0.6"/><line x1="227.13" y1="153.6" x2="227.13" y2="155.1" stroke="#000" stroke-width="0.6"/><line x1="228.6" y1="153.6" x2="228.6" y2="155.1" stroke="#000" stroke-width="0.6"/><line x1="229.75" y1="153.6" x2="229.75" y2="155.1" stroke="#000" stroke-width="0.6"/><line x1="230.68" y1="153.6" x2="230.68" y2="155.1" stroke="#000" stroke-width="0.6"/><line x1="231.47" y1="153.6" x2="231.47" y2="155.1" stroke="#000" stroke-width="0.6"/><line x1="232.16" y1="153.6" x2="232.16" y2="155.1" stroke="#000" stroke-width="0.6"/><line x1="232.76" y1="153.6" x2="232.76" y2="155.1" stroke="#000" stroke-width="0.6"/><line x1="233.3" y1="153.6" x2="233.3" y2="156.2" stroke="#000" stroke-width="1"/><text x="233.3" y="163.2" font-size="4.6" text-anchor="middle" font-weight="normal" fill="#333">10⁵</text><line x1="187.5" y1="153.6" x2="187.5" y2="155.4" stroke="#000" stroke-width="0.7"/><line x1="188.7" y1="153.6" x2="188.7" y2="155.4" stroke="#000" stroke-width="0.7"/><line x1="191.8" y1="153.6" x2="191.8" y2="155.4" stroke="#000" stroke-width="0.7"/><line x1="193.9" y1="153.6" x2="193.9" y2="155.4" stroke="#000" stroke-width="0.7"/><ellipse cx="63.7" cy="68.2" rx="18.8" ry="10.8" transform="rotate(0 63.7 68.2)" fill="#000" opacity="0.16" filter="url(#blur2)"/><path d="M72.17 72.91h0.7M59.44 73.46h0.7M48.33 68.34h0.7M71.74 63.27h0.7M75.52 65.56h0.7M77.48 69.18h0.7M53.07 71.33h0.7M47.17 63.82h0.7M77.23 70.94h0.7M54.6 72.56h0.7M62.69 72.26h0.7M45.28 64.51h0.7M63.61 74.24h0.7M67.09 63.14h0.7M49.54 61.69h0.7M60.59 72.36h0.7M56.21 67.27h0.7M61.62 63.55h0.7M77.75 66.97h0.7M61.46 62.91h0.7M56.02 69.89h0.7M49.22 71.97h0.7M45.12 66.94h0.7M73.08 64.77h0.7M75.08 63.81h0.7M51.78 71.77h0.7M66.13 74.51h0.7M57 65.07h0.7M56.93 63.57h0.7M69.51 60.36h0.7M57.83 73.05h0.7M54.77 68.87h0.7M77.42 70.24h0.7M51.39 69.82h0.7M72.59 74.46h0.7M76.4 69.26h0.7M54.68 69.15h0.7M64.99 73.79h0.7M54.01 65.35h0.7M73.59 68.63h0.7M61.77 63.5h0.7M49.5 62.48h0.7M69.07 70.92h0.7M70.59 60.35h0.7M47.33 66.44h0.7M50.4 72.23h0.7M58.3 68.76h0.7M58.22 73.85h0.7M50.26 68.19h0.7M52.86 67.1h0.7M51.14 62.25h0.7M55.21 71.13h0.7M70.63 61.99h0.7M76.53 65.35h0.7M55.3 68.28h0.7M54.8 63.08h0.7M54.79 66.47h0.7M55.88 62.61h0.7M74.15 62.86h0.7M62.71 76h0.7M57.51 73.36h0.7M52.06 68.43h0.7M74.18 65.07h0.7M76.45 69.24h0.7M53.02 64.38h0.7M54.1 67.41h0.7M69.49 63.08h0.7M50.79 68.71h0.7M67.63 61.18h0.7M52.12 67.83h0.7M51.28 67.32h0.7M74.92 63.43h0.7M76.95 65.41h0.7M48.61 68.34h0.7M49.99 60.65h0.7M50.03 62.37h0.7M77.67 70.08h0.7M56.59 68.55h0.7M46.66 68.03h0.7M49.61 69.71h0.7M56.06 70.63h0.7M57.6 69.2h0.7M77.92 67.71h0.7M51.78 63.64h0.7M75.97 63.96h0.7M52.61 63.93h0.7M54.14 66.64h0.7M53.07 63.45h0.7M55.86 64.75h0.7M56.73 72.56h0.7M72.74 72.61h0.7M53.98 70.01h0.7M61.83 73.05h0.7M70.63 74.07h0.7M77.07 67.17h0.7M48.11 66.94h0.7M52.67 70.88h0.7M52.7 64.52h0.7M70.94 60.94h0.7M59.67 73.58h0.7M50.96 63.68h0.7M54.54 62.08h0.7M65.88 75.88h0.7M47.44 71.15h0.7M54.72 69.74h0.7M59.77 73.15h0.7M54.57 69.56h0.7M51.98 70.99h0.7M54.55 68.01h0.7M54.3 65.15h0.7M73.22 64.6h0.7M72.25 71.44h0.7M54.51 62.27h0.7M71.13 63.59h0.7M72.42 60.49h0.7M73.95 62.45h0.7M55.65 68.23h0.7M51.39 62.77h0.7M60.7 62.5h0.7M63.96 61.87h0.7M76.23 69.75h0.7M50.72 69.41h0.7M75.89 67.29h0.7M61.2 60.65h0.7M76.55 71.94h0.7M61.62 74.05h0.7M49.83 68.51h0.7M61.31 74.14h0.7M74.91 71.93h0.7M77.81 65.9h0.7M76.09 67.27h0.7M55.11 67.02h0.7M48.21 65.84h0.7M55.65 66.53h0.7M53.87 64.41h0.7M46.46 67.13h0.7M48.14 71.95h0.7M51.57 62.34h0.7M63.91 61.45h0.7M58.36 72.11h0.7M55.2 71.36h0.7M52.4 66.38h0.7M49.99 70.22h0.7M78.64 64.91h0.7M77.15 64.34h0.7M76.59 68.71h0.7M58.47 63.64h0.7M72.61 72.93h0.7M65.9 61.77h0.7M60.84 73.72h0.7M53.89 72.47h0.7M71.5 71.96h0.7M73.32 73.57h0.7M75.52 72.61h0.7M74.51 62.76h0.7M53.39 68.07h0.7M51.22 70.11h0.7M58.33 62.93h0.7M64.67 75.33h0.7M72.63 62.88h0.7M51.44 62.12h0.7M74.99 70.08h0.7M73.8 63.06h0.7M51.34 69.38h0.7M62.32 60.23h0.7M56.9 66.76h0.7M53.77 63.94h0.7M49.84 68.78h0.7M52.85 67.92h0.7M67.46 74.3h0.7M56.26 69.26h0.7M54.33 70.15h0.7M62.34 62.41h0.7M59.52 63.08h0.7M76.09 65.68h0.7M55.16 70.43h0.7M64.03 61.89h0.7M61.71 73.18h0.7M50.55 65.98h0.7M70.38 75.35h0.7M77.49 67.24h0.7M55.12 66.33h0.7M50.46 67.29h0.7M78.35 67.62h0.7M54.6 64.82h0.7M56.49 73.38h0.7M54.67 67.86h0.7M74.83 72.42h0.7M71.35 61.28h0.7M45.52 69.31h0.7M49.02 69.19h0.7M70.13 62h0.7M55.5 67.54h0.7M74.47 65.33h0.7M56.94 66.03h0.7M66.02 74.47h0.7M58.24 63.4h0.7M50.65 66.31h0.7M64.25 75.15h0.7M71.13 71.93h0.7M66.45 61.24h0.7M58.31 72.49h0.7M51.28 63.38h0.7M46.03 68.64h0.7M77.22 68.26h0.7M47.15 65.27h0.7M46.58 67.11h0.7M72 62.47h0.7M61.4 73.75h0.7M69.36 75.16h0.7M52.94 63.59h0.7M76.34 67.86h0.7M59.68 62.99h0.7M72.13 60.06h0.7M50.81 70.74h0.7M56.78 64.52h0.7M54.55 72.43h0.7M73.34 71.06h0.7M49.24 70h0.7M55.78 63.8h0.7M49.11 69.12h0.7M69.51 72.66h0.7M52.87 69.81h0.7M76.48 73.33h0.7M62.15 77.37h0.7M54.26 66.7h0.7M76.73 68.72h0.7M71.83 74.34h0.7M68.43 64h0.7M73.4 73.73h0.7M77.02 65.78h0.7M54.75 68.87h0.7M77.22 66.31h0.7M77.27 67.54h0.7M76.74 67.28h0.7M58.35 71.26h0.7M72.1 72.63h0.7M72.7 62.29h0.7M46.94 68.64h0.7M50.83 67.56h0.7M47.8 64.83h0.7M72.94 71.49h0.7M60.18 74.94h0.7M58.09 63.36h0.7M47.54 64.15h0.7M67.08 62.22h0.7M75.73 73.12h0.7M47.37 67.9h0.7M75.55 69.07h0.7M75.37 70.28h0.7M76.01 69.57h0.7M71.58 65.87h0.7M77.55 66.11h0.7M77.32 66.02h0.7M72.82 72.86h0.7M69.97 73.1h0.7M49.76 70.24h0.7M54.35 72.56h0.7M76 66.34h0.7M46.76 64.96h0.7M52.43 64.76h0.7M54 65.49h0.7M66.33 74.37h0.7M66.01 62.21h0.7M77.19 69.18h0.7M75.6 66.58h0.7M78.02 68.43h0.7M52.38 70.58h0.7M51.57 70.04h0.7M49.89 70.28h0.7M47.25 64.28h0.7M56.27 71.48h0.7M54.92 70.63h0.7M67.2 62.62h0.7M47.82 63.22h0.7M56.77 69.57h0.7M55.78 64.93h0.7M68.71 75.29h0.7M48.36 65.18h0.7M46.46 64.19h0.7M70.59 74.83h0.7M54.47 62.21h0.7M53.22 62.08h0.7M54.71 70.66h0.7M53.68 69.35h0.7M72 62h0.7M55.4 69.13h0.7M59.31 63.1h0.7M77.18 69.75h0.7M76.58 64.9h0.7M60.4 76.58h0.7M59.79 59.19h0.7M71.07 60.45h0.7M62.85 61.5h0.7M51.07 65.37h0.7M57.19 69.08h0.7M73.36 73.17h0.7M57.27 61.5h0.7M46.51 66.42h0.7M77.09 65.28h0.7M77.29 66.59h0.7M56.18 65.45h0.7M70.25 61.8h0.7M54.26 67.85h0.7M56.4 71.23h0.7M62.45 62.89h0.7M55.18 66.6h0.7M45.98 69.4h0.7M61.56 61.94h0.7M75.8 70.89h0.7M52.57 66.55h0.7M45.19 66.94h0.7M46.09 68.74h0.7M76.4 66.91h0.7M55.53 69.44h0.7M51.33 60.84h0.7M57.5 73.92h0.7M75.87 71.26h0.7M52.14 69.4h0.7M74.5 65.44h0.7M66.06 60.03h0.7M61.73 75.86h0.7M65.79 63.13h0.7M56.52 66.22h0.7M66.97 75.51h0.7M72.57 63.58h0.7M48.73 69.77h0.7M72.09 73.72h0.7M55.83 66.5h0.7M68.78 60.77h0.7M49.5 64.33h0.7M75.18 70.9h0.7M53.12 67.11h0.7M46.49 65.56h0.7M53.27 69.91h0.7M66.79 71.81h0.7M63.3 60.64h0.7M53.88 71.69h0.7M48.38 66.38h0.7M64.42 75.16h0.7M54.57 68.92h0.7M49.34 62.28h0.7M78.73 67.59h0.7M53.4 62.4h0.7M45.9 64.4h0.7M59.02 61.98h0.7M77.18 68.09h0.7M69.32 64.53h0.7M76.37 71.69h0.7M46.21 69.37h0.7M64.94 76.58h0.7M54.72 69.43h0.7M69.99 75.96h0.7M56.35 63.81h0.7M53.69 67.25h0.7M69.32 62.65h0.7M74.51 71.61h0.7M63.72 75.16h0.7M72.33 74.03h0.7M65.59 75.9h0.7M57.49 62.38h0.7M75.06 64.06h0.7M69.72 63.94h0.7M80.44 69.02h0.7M66.28 74.93h0.7M51.38 63.57h0.7M70.05 64.5h0.7M66.62 59.62h0.7M72.49 64.74h0.7M62.62 62.92h0.7M64.72 75.18h0.7M75.82 70.61h0.7M51.59 67.63h0.7M51.56 63.82h0.7M70.99 63.85h0.7M74.82 69.67h0.7M47.11 61.5h0.7M75.73 67.38h0.7M76.68 67.75h0.7M72.21 64.49h0.7M67.53 63.3h0.7M55.26 65.14h0.7M55.12 71.76h0.7M75.86 65.31h0.7M60.43 75.59h0.7M70.19 62.56h0.7M55.61 66.76h0.7M54.13 69.2h0.7M70.02 61.13h0.7M57.01 62.04h0.7M67.69 73.08h0.7M75.18 72.27h0.7M74.95 63.93h0.7M67.41 61.68h0.7M54.9 72.43h0.7M77.9 66.22h0.7M54.55 67.53h0.7M56.03 70.39h0.7M77.89 65.62h0.7M74.44 71.26h0.7M56.85 67.02h0.7M57.05 67.2h0.7M54.69 66.06h0.7M72.28 74.71h0.7M72.77 62.69h0.7M59.84 62.85h0.7M76.97 66.61h0.7M49.26 63.11h0.7M65.51 64.18h0.7M75.35 71.77h0.7M61.98 64.39h0.7M57.66 62.24h0.7M70.46 61.29h0.7M65.91 75.58h0.7M70.25 64.17h0.7M70.47 62.04h0.7M73.14 65.51h0.7M75.29 63.38h0.7M49.37 71.1h0.7M76.89 64.75h0.7M72.56 63.08h0.7M68.62 59.66h0.7M73.49 70.64h0.7M52.07 62.51h0.7M59.74 62.73h0.7M66.16 60.51h0.7M52.62 62.19h0.7M76.14 63.36h0.7M56.2 65.64h0.7M48.99 64.35h0.7M54.4 67.84h0.7M58.99 73.82h0.7M71.17 72.75h0.7M81.08 69.84h0.7M53.22 68.33h0.7M57.43 70.29h0.7M76.99 67.13h0.7M53.12 70.17h0.7M70.63 64.44h0.7M75.3 69.92h0.7M54.7 67.34h0.7M76.24 65.36h0.7M75.86 72.65h0.7M54.75 68.7h0.7M75.49 64.3h0.7M60.5 59.09h0.7M53.57 66.44h0.7M60.36 73.02h0.7M49.51 70.58h0.7M71.43 74.41h0.7M77.09 67.86h0.7M55.08 67.96h0.7M75.48 65.23h0.7M55.54 63.47h0.7M60.15 72.2h0.7M73.02 73.56h0.7M56.36 68.2h0.7M56.41 72.37h0.7M60.57 74.95h0.7M77.94 66.97h0.7M53.68 63.55h0.7M63.04 75.21h0.7M80.24 67.81h0.7M50.65 69.92h0.7M62.8 74.23h0.7M59.48 73.56h0.7M54.81 68.43h0.7M67.36 74.07h0.7M51.47 62.09h0.7M53.18 67.57h0.7M67.31 72.94h0.7M55.78 65.52h0.7M55.9 71.21h0.7M61.2 71.44h0.7M78.5 68.02h0.7M65.48 76.73h0.7M70.49 74.86h0.7M46.05 66.66h0.7M51.44 60.61h0.7M61.31 63.56h0.7" stroke="#000" stroke-opacity="0.55" stroke-width="0.7" fill="none"/><path d="M57.14 62.95h0.7M53.72 66.86h0.7M68.18 75.69h0.7M71.78 62.71h0.7M73.66 74.58h0.7M53.81 65.96h0.7M64.79 62.46h0.7M53.82 69.67h0.7M68.27 69.73h0.7M47.84 63.17h0.7M74.02 67.81h0.7M48.59 71.55h0.7M59.74 76.26h0.7M79.44 61.22h0.7M75.8 64.24h0.7M76.34 68.82h0.7M56.94 72.72h0.7M55.74 68.23h0.7M71.55 60.35h0.7M74.97 63.49h0.7M63.51 72.31h0.7M74.37 63.75h0.7M57.45 70h0.7M61.67 65.93h0.7M53.76 71h0.7M73.75 74.38h0.7M55.51 73.87h0.7M49.86 62.06h0.7M60.33 67.6h0.7M52.06 64.13h0.7M66.9 78.03h0.7M58.53 65.18h0.7M63.26 73.27h0.7M75.81 72.66h0.7M56.81 65.77h0.7M43.83 70.8h0.7M56.53 69.01h0.7M46.58 73.36h0.7M74.09 59.84h0.7M65.42 58.51h0.7M64.06 61.31h0.7M77.69 64.41h0.7M74.18 65.38h0.7M71.5 61.85h0.7M54.08 67.38h0.7M52.82 67.81h0.7M69.24 63.1h0.7M52.37 73.19h0.7M77.9 70.23h0.7M73.76 62.32h0.7M76.45 64.91h0.7M58.64 65.82h0.7M73.7 67.74h0.7M54.26 75.37h0.7M75.05 62.9h0.7M45.46 71.47h0.7M77.53 63.12h0.7M60.23 63.69h0.7M71.62 64.74h0.7M69.59 62.49h0.7M65.34 54.1h0.7M56.88 73.27h0.7M54.83 69.77h0.7M50.68 72.02h0.7M72.41 72.65h0.7M64.03 62.4h0.7M54.78 63.22h0.7M54.31 70.44h0.7M74.54 66.69h0.7M53.33 68.26h0.7M47.44 69.06h0.7M70.18 62.48h0.7M59.97 71.11h0.7M56.08 74.08h0.7M56.13 74.24h0.7M47.46 60.48h0.7M57.26 64.78h0.7M70.25 69.11h0.7M55.78 69.57h0.7M76.86 69.22h0.7M65.55 80.1h0.7M68.86 63.98h0.7M72.65 73.56h0.7M71.51 71.74h0.7M80.34 74.64h0.7M66.95 76.78h0.7M53.4 65.05h0.7M52.17 64.35h0.7M68.41 74.72h0.7M69.07 77.34h0.7M78.82 73.68h0.7M65.83 74.9h0.7M68.14 72.13h0.7M64.36 73.19h0.7M70.28 72.29h0.7M63.99 64.87h0.7M60.4 74.86h0.7M51.48 67.61h0.7M45.5 67.9h0.7M75.51 72.73h0.7M49.82 65.97h0.7M71.93 57.97h0.7M55.03 71.09h0.7M55.04 75.56h0.7M67.41 72.2h0.7M75.49 78.32h0.7M63.83 62.29h0.7M51.42 72.88h0.7M48.6 68.59h0.7M54.73 63.26h0.7M60.97 62.54h0.7M67.42 62.85h0.7M58.79 64.92h0.7M53.8 69.47h0.7M74.62 68.62h0.7M70.95 63.93h0.7M59.56 69.14h0.7M69 60.3h0.7M46.78 64.66h0.7M73.83 71.83h0.7M69.41 66.05h0.7M55.98 62.79h0.7M47.17 70.54h0.7M72.09 68.66h0.7M48.15 69.98h0.7M56.89 79.2h0.7M45.02 69.94h0.7M68.63 65.8h0.7M55.02 64.09h0.7M48.99 71.76h0.7M52.01 74.64h0.7M72.98 75.32h0.7M71.81 73.88h0.7M69.85 64.3h0.7M57.71 67.94h0.7M69.61 73.95h0.7M53.68 58.19h0.7M65.64 76.14h0.7M53.11 60.82h0.7M52.69 58.12h0.7M54.39 58.66h0.7M71.54 71.63h0.7M50.84 70.35h0.7M50.92 65.83h0.7M68.48 58.09h0.7M55.49 70.33h0.7M75.18 69.58h0.7M77.82 67.47h0.7M69.88 73.85h0.7M73.55 60.16h0.7M56.46 62.56h0.7M52.13 65.72h0.7M70.72 76.73h0.7M59.42 74.53h0.7M60.91 68.57h0.7M81.2 66.2h0.7M74.65 66.84h0.7M58.52 64.47h0.7M58.71 79.4h0.7M51.17 67.09h0.7M46.48 66.32h0.7M51.54 65.83h0.7M55.68 67.54h0.7M53.57 65.12h0.7M61.78 74.76h0.7M50.61 67.31h0.7M74.88 71.88h0.7M68.77 61.95h0.7M79.21 72.07h0.7M51.56 64.51h0.7M55.25 64.16h0.7M76.79 73.31h0.7M48.71 67h0.7M58.53 68.33h0.7M60.27 62.77h0.7M48.33 67.18h0.7M73.09 64.62h0.7M76.53 65.3h0.7M69.94 70.26h0.7M53.46 62.88h0.7M49.79 64.45h0.7M59.01 70.53h0.7M46.57 69.79h0.7M75.5 70.53h0.7M70.32 62.16h0.7M66.37 73.25h0.7M79.3 74.64h0.7M54.9 72.4h0.7M59.48 69.16h0.7M50.77 76.06h0.7M78.24 72.39h0.7M53.3 67.08h0.7M47.64 65.36h0.7M78.87 68.14h0.7M63.54 77.93h0.7M47.76 64.23h0.7M72.25 67.63h0.7M64.61 58.81h0.7M65.12 68.53h0.7M59.15 67.28h0.7M52.28 65.75h0.7M58.59 72.72h0.7M74.42 68.08h0.7M50.61 71.6h0.7M50.63 64.86h0.7M62.49 75.13h0.7M60.98 70.32h0.7M62.95 71.62h0.7M45.03 65.63h0.7M62.04 64.61h0.7M49.46 65.53h0.7M78.39 71.15h0.7M66.37 75.56h0.7M72.13 61.86h0.7M76.01 66.03h0.7M73.05 65.13h0.7M50.64 62.73h0.7M66.11 78.74h0.7M54.92 69.27h0.7M52.06 69.68h0.7M52.22 67.09h0.7M80.71 66.99h0.7M72.96 67.21h0.7M76.28 73.07h0.7M76.73 68.68h0.7M51.72 63.39h0.7M59.93 71.39h0.7M67.09 59.38h0.7M74.86 68.01h0.7M76.78 66.21h0.7M59.63 60.17h0.7M67.34 73.14h0.7M56.95 70.67h0.7M73.18 72.87h0.7M52.31 63.17h0.7M55.23 65.07h0.7M52.29 66.16h0.7M51.56 75.56h0.7M54.77 64.65h0.7M76.91 64.87h0.7M79.8 63.71h0.7M50.91 73.49h0.7M52.52 65.84h0.7M78.1 71.78h0.7M55.22 62.06h0.7M70.28 65.18h0.7M77.08 68.08h0.7M49.14 67.07h0.7M50.62 68.14h0.7M76.88 66.6h0.7M83.37 74.4h0.7M57.2 68.62h0.7M52.47 68.64h0.7M74.51 59.05h0.7M77.57 74.79h0.7M74.8 69.62h0.7M83.98 73.2h0.7M76.61 66.23h0.7M49.84 72.32h0.7M49.46 62.9h0.7M56.53 66.99h0.7M58.43 62.59h0.7M70.72 74.98h0.7M44.3 68.48h0.7M75.62 64.58h0.7M51.52 58.37h0.7M61.25 63.58h0.7M74.89 69.06h0.7M73.23 73.13h0.7M75.96 69.51h0.7M66.85 75.9h0.7M68.96 61.52h0.7M58.18 70.82h0.7M82.08 67.11h0.7M45.99 62.47h0.7M48.54 60.99h0.7M52.52 71.43h0.7M58.03 71.14h0.7M47.77 70.73h0.7M60.26 61.53h0.7M56.82 67.86h0.7M55.13 65.08h0.7M48.66 64.33h0.7M75.42 63.65h0.7M72.06 61.32h0.7M53.42 72h0.7M52.97 67.73h0.7M76.19 65h0.7M69.26 60.48h0.7M55.73 72.59h0.7M59.06 73.9h0.7M49.62 65.68h0.7M62.91 76.42h0.7M71.55 67.14h0.7M49.02 64.3h0.7M74.18 70.93h0.7M58.82 76.62h0.7M55.78 75.84h0.7M74.52 73.23h0.7M59.28 63.77h0.7M53.81 71.96h0.7M70.18 62.55h0.7M56.08 67.06h0.7M71.41 65.48h0.7M68.58 58.26h0.7M75.3 66.34h0.7M68.71 63.38h0.7M53.76 64h0.7M59.3 67.26h0.7M58.5 70.43h0.7M61.2 64.96h0.7M70.95 76.32h0.7M54.53 68.65h0.7M67.75 71.54h0.7M57.95 72.03h0.7M70.86 60.42h0.7M51.88 67.12h0.7M51.65 67.2h0.7M72.61 72.34h0.7M46.74 69.37h0.7M59.74 79.13h0.7M64.15 58.29h0.7M70.55 67.78h0.7M47.21 67.37h0.7M74.58 69.88h0.7M56.05 62.5h0.7M59.86 64.57h0.7M74.54 72.19h0.7M55.83 61.49h0.7M59.1 69.42h0.7M76.57 75.02h0.7M52.51 65.53h0.7M59.23 73.28h0.7M61.41 72.38h0.7M76.61 67.9h0.7M58.98 67.04h0.7M47.16 64.27h0.7M75.16 71h0.7M80.7 66.68h0.7M59.01 69.83h0.7M69.41 72.25h0.7M55.88 67.47h0.7M75.99 62.5h0.7M70.68 64.91h0.7M76.07 65.24h0.7M54.76 75.1h0.7M51.73 64.09h0.7M70.26 70.08h0.7M57.96 70.47h0.7M51.63 66.56h0.7M56.58 71.13h0.7M51.82 70.3h0.7M54.98 70.05h0.7M70.58 72.52h0.7M49.49 70.53h0.7M58.91 75.76h0.7M54.17 75.32h0.7M81.82 64.88h0.7M64.52 60.15h0.7M52.54 64.83h0.7M45.82 68.62h0.7M73.78 70.35h0.7M67.9 61h0.7M49.06 64.35h0.7M62.64 59.79h0.7M54.82 69.49h0.7M54.75 72.22h0.7M50.08 61.37h0.7M73.75 75.07h0.7M82.48 67.16h0.7M55.3 61.86h0.7M59.43 67.43h0.7M72.33 64.68h0.7M76.16 72.61h0.7M76.71 66.71h0.7M68.01 57.21h0.7M57.44 66.01h0.7M65.77 73.31h0.7M79.54 71.35h0.7M72.04 64.83h0.7M60.12 74.78h0.7M58.76 65.39h0.7M66.19 60.44h0.7M72.32 66.81h0.7M58.85 60.1h0.7M48.95 67h0.7M52.96 69.25h0.7M64.82 78.94h0.7M64.7 75.53h0.7M51.97 65.83h0.7M55.08 64.66h0.7M53.45 69.52h0.7M49.16 60.18h0.7M57.53 67.23h0.7M70.87 72.49h0.7M80.57 74.66h0.7M69.91 65.13h0.7M50.04 62.65h0.7M79.64 62.72h0.7M41.48 66.6h0.7M57.59 60.71h0.7M63.48 60.62h0.7M82.5 69.26h0.7M50.11 67.59h0.7M64.16 61.15h0.7M79.31 71.14h0.7M47.22 64.24h0.7M63.97 60.01h0.7M59.72 73.43h0.7M60.34 58.89h0.7M75.84 62.3h0.7M66.8 71.01h0.7M61.35 76.14h0.7M71.65 71.73h0.7M75.78 73.09h0.7M77.97 69.1h0.7M68.08 77.07h0.7M48.64 72.12h0.7M66.35 80.76h0.7M68.34 58.87h0.7" stroke="#000" stroke-opacity="0.45" stroke-width="0.7" fill="none"/><path d="M64.61 73.99h0.6M57.81 74.22h0.6M44.58 74.51h0.6M57.04 67.1h0.6M60.41 74.18h0.6M71.36 58.31h0.6M72.01 70.82h0.6M67.46 65.51h0.6M63.7 66.69h0.6M53.84 61.41h0.6M56.89 81.41h0.6M63.72 58h0.6M74.08 54.45h0.6M66.3 58.4h0.6M57.06 63.61h0.6M73.82 75.69h0.6M67.27 62.6h0.6M63.32 66.35h0.6M63.52 66.35h0.6M53.01 73.16h0.6M51.64 63.47h0.6M72.05 69.91h0.6M58.95 67.31h0.6M77.23 73.73h0.6M65.84 76.41h0.6M46.71 61.62h0.6M67.68 75.46h0.6M60.83 75.9h0.6M46.47 55.26h0.6M74.74 57.63h0.6M57.08 60.35h0.6M69.12 78.6h0.6M67.2 74.04h0.6M70.42 65.76h0.6M63.73 63.38h0.6M57.13 70.96h0.6M60.39 69.2h0.6M68.76 61.55h0.6M59.5 69.5h0.6M51.3 69.87h0.6M78.58 67.12h0.6M63.54 61.67h0.6M62.83 77.95h0.6M75.36 73.76h0.6M56.17 59.92h0.6M45.6 66.77h0.6M59.44 58.38h0.6M71.05 71.72h0.6M45.41 72.52h0.6M61.41 64.74h0.6M70.33 68.27h0.6M74.61 69.94h0.6M74.52 71.72h0.6M58.12 75.28h0.6M52.66 55.27h0.6M66.82 64.77h0.6M59.85 62.77h0.6M48.74 66.45h0.6M78.44 63.43h0.6M47.81 66.38h0.6M66.49 72.09h0.6M64.69 70.02h0.6M80.44 70.87h0.6M49.68 60.21h0.6M52.49 64.2h0.6M73.52 57.16h0.6M78.53 64.47h0.6M62.47 76.81h0.6M62.46 73.92h0.6M83.5 63.74h0.6M75.13 72.12h0.6M80.58 60.48h0.6M74.54 56.45h0.6M71.03 78.82h0.6M58.2 72.5h0.6M44.61 73.43h0.6M70.16 72.22h0.6M68.05 52.22h0.6M45.05 59.28h0.6M74.06 72.85h0.6M46.41 64.46h0.6M57.14 67.06h0.6M55.1 68.9h0.6M73.76 76.53h0.6M45.78 72.35h0.6M69.8 64.2h0.6M77.67 79.99h0.6M66.34 65.5h0.6M63.93 68.28h0.6M57.29 66.92h0.6M61.61 67.32h0.6M67.72 79.37h0.6M47.17 69.78h0.6M50.05 75.15h0.6M67.58 76.25h0.6M61.89 63.55h0.6M74.41 66.67h0.6M50.47 68.91h0.6M65.7 71.9h0.6M56.02 65.83h0.6M41.49 65.47h0.6M74.41 64.25h0.6M53.38 71.85h0.6M72.44 64.09h0.6M60.82 66.35h0.6M54.1 67.08h0.6M55.02 69.79h0.6M60.21 67.74h0.6M51.73 52.37h0.6M70.82 74.01h0.6M76.17 70.97h0.6M41.07 63.08h0.6M68.94 66.28h0.6M64.94 79.37h0.6M62.54 69.7h0.6M74.44 74.25h0.6M64.84 68.71h0.6M61.05 69.07h0.6M74.58 75.61h0.6M50.76 62.14h0.6M62.87 75.25h0.6M65.8 73.11h0.6M60.35 63.27h0.6M64.02 67.24h0.6M68.14 56.92h0.6M51.17 66.72h0.6M61.03 76.25h0.6M70.23 66.24h0.6M57.87 68.89h0.6M72.07 63.57h0.6M49.42 73.57h0.6M69.75 61.24h0.6M66.79 69.73h0.6M65.09 71.91h0.6M43.51 62.43h0.6M60.18 69.33h0.6M78.57 69.25h0.6M55.9 50.54h0.6M51.04 74.79h0.6M68.96 61.49h0.6M47.83 67.99h0.6M56.61 69.43h0.6M65.6 62.45h0.6M66.68 73.49h0.6M58.63 72.21h0.6M45.74 61.58h0.6M64.78 68.37h0.6M56.71 66.41h0.6M59.59 81.46h0.6M76.18 78.94h0.6M73.89 69.76h0.6M66.71 69.01h0.6M60.02 74.54h0.6M76.21 73.72h0.6M65.45 61.44h0.6M64.77 68.75h0.6M79.72 60.97h0.6M68.85 75.69h0.6M61.13 77.77h0.6M65.47 73.33h0.6M49.96 70.51h0.6M49.11 68.01h0.6M58.26 72.95h0.6M71.85 65.6h0.6M68.99 67.44h0.6M58.95 70.65h0.6M64.8 60.33h0.6M83.7 78.11h0.6M52.16 71.71h0.6M54.26 66.01h0.6M49.94 66.6h0.6M51.9 75.4h0.6M79.48 63.72h0.6M55.83 66.47h0.6M54.31 61.67h0.6M54.23 68.95h0.6M63.45 65.54h0.6M52.97 62.79h0.6M62.38 55.72h0.6M71.26 68.78h0.6M64.44 73.81h0.6M64.89 64.87h0.6M62.96 64.47h0.6M64.95 60.8h0.6M66.12 80.37h0.6M73.82 61.3h0.6M64.36 61.61h0.6M53.1 75.08h0.6M67.13 69.58h0.6M52.06 63.35h0.6M56.05 73.72h0.6M66.5 69.61h0.6M54.4 64.57h0.6M53.5 61.89h0.6M64.2 63.05h0.6M57.95 66.12h0.6M46.87 63.08h0.6M52.44 67.51h0.6M61.98 60.64h0.6M49.02 66.32h0.6M68.84 71.65h0.6M60.84 72.48h0.6M45.68 61.94h0.6M54.18 54.07h0.6M76.82 67.83h0.6M62.14 63.73h0.6M73.31 66.68h0.6M59.56 74.67h0.6M61.74 75.83h0.6M62.78 71.02h0.6M62.45 62.1h0.6M61.91 73.43h0.6M74.18 71.01h0.6M55.91 68.44h0.6M72.85 64.04h0.6M49.01 65.45h0.6" stroke="#000" stroke-opacity="0.38" stroke-width="0.6" fill="none"/><path d="M69.56 64.52h0.6M60.82 66.27h0.6M76.59 64.77h0.6M66.02 51.15h0.6M59.63 66.86h0.6M73.24 62.48h0.6M60.65 52.07h0.6M56.62 59.1h0.6M66.52 65.87h0.6M54.83 67.2h0.6M70.21 66.8h0.6M69.28 61.28h0.6M63.87 57.48h0.6M57.2 64.22h0.6M64.36 64.68h0.6M58.37 66.47h0.6M67.59 61.3h0.6M73.83 62.65h0.6M70.51 55.93h0.6M74.33 62.99h0.6M78.82 63.44h0.6M60.02 59.02h0.6M75.62 59.32h0.6M66.4 53.18h0.6M72.59 62.08h0.6M77.95 57.54h0.6M71.38 60.46h0.6M60.27 62.52h0.6M54.84 59.09h0.6M81.76 56.81h0.6M70.68 61.7h0.6M76.64 58.55h0.6M63.08 54.36h0.6M75.37 57.29h0.6M68.29 56.43h0.6M74.09 66.38h0.6M67.21 56.02h0.6M76.62 57.14h0.6M72.72 55.21h0.6M71.01 58.2h0.6M69.51 64.54h0.6M70.42 60.69h0.6M69.01 66.56h0.6M73.42 61.66h0.6M70.75 55.31h0.6M63.92 58.34h0.6M71.76 59.71h0.6M63.3 66.35h0.6M69.49 53.72h0.6M59.02 54.51h0.6M76.86 65.43h0.6M69.54 64.4h0.6M57.98 69.67h0.6M81.69 57.86h0.6M55.95 60.46h0.6M70.74 55.17h0.6M74.61 56.66h0.6M62.11 61.65h0.6M58.54 64.22h0.6M66.81 57.24h0.6M62.76 55.11h0.6M64.42 60.39h0.6M56.84 58.97h0.6M57.35 58.89h0.6M61.81 56.75h0.6M68.61 63.58h0.6M75.48 67.6h0.6M69.43 57.46h0.6M60.72 65.1h0.6M59.3 64.64h0.6M69.01 62.5h0.6M75.4 70.32h0.6M57.72 66.51h0.6M78.11 62.04h0.6M66.49 53.42h0.6M75.1 58.36h0.6M63.88 58.03h0.6M63.94 57.58h0.6M55.46 58.83h0.6M67.76 61.84h0.6M68.31 64.88h0.6M63.08 58.7h0.6M62.42 58.48h0.6M72.05 62.89h0.6M61.69 63.3h0.6M66.65 64.91h0.6M66.34 59.56h0.6M75.94 63.09h0.6M66.55 64.28h0.6M61.1 56.59h0.6M79.39 62.01h0.6M63.86 49.45h0.6M67.47 66.83h0.6M68.25 63.04h0.6M66.14 59.88h0.6M65.13 55.45h0.6M73.62 62.07h0.6M54.41 52.94h0.6M68.23 60.08h0.6M55.95 64.17h0.6M70.58 58.28h0.6M79.4 57.51h0.6M77.15 61.16h0.6M65.04 66.9h0.6M65.09 55.2h0.6M81.34 58.28h0.6M58.02 63.46h0.6M62.43 64.32h0.6M61.75 66.12h0.6M69.81 53.17h0.6" stroke="#000" stroke-opacity="0.35" stroke-width="0.6" fill="none"/><circle cx="51.2" cy="66.6" r="3.7" fill="url(#sph)" stroke="#111" stroke-width="1.2"/><clipPath id="c267321505"><path d="M54.6 67.27 C54.6 63.79 58.6 62.4 65.7 62.4 C72.8 62.4 76.8 63.33 76.8 66.58 C76.8 70.75 70.58 74 65.26 74 C59.04 74 54.6 71.1 54.6 67.27 Z"/></clipPath><path d="M54.6 67.27 C54.6 63.79 58.6 62.4 65.7 62.4 C72.8 62.4 76.8 63.33 76.8 66.58 C76.8 70.75 70.58 74 65.26 74 C59.04 74 54.6 71.1 54.6 67.27 Z" fill="#5e5e5e"/><path d="M59.48 61.4V75M61.83 61.4V75M64.29 61.4V75M66.52 61.4V75M68.75 61.4V75M70.8 61.4V75M73.23 61.4V75M75.11 61.4V75M77.14 61.4V75" stroke="#2a2a2a" stroke-width="0.8" clip-path="url(#c267321505)"/><path d="M54.6 67.27 C54.6 63.79 58.6 62.4 65.7 62.4 C72.8 62.4 76.8 63.33 76.8 66.58 C76.8 70.75 70.58 74 65.26 74 C59.04 74 54.6 71.1 54.6 67.27 Z" fill="none" stroke="#111" stroke-width="1.5"/><ellipse cx="135.2" cy="67.6" rx="17.05" ry="10.3" transform="rotate(0 135.2 67.6)" fill="#000" opacity="0.16" filter="url(#blur2)"/><path d="M137.24 60.29h0.7M144.47 72.05h0.7M145.12 67.87h0.7M132.22 72.09h0.7M127.21 71.4h0.7M143.11 65.51h0.7M127.05 66.52h0.7M128.77 71.73h0.7M126.63 70.83h0.7M135.25 73.85h0.7M134.63 62.33h0.7M138.27 73.58h0.7M122.08 70.39h0.7M144.56 72.87h0.7M148.37 67.07h0.7M125.28 61.85h0.7M146.14 72.2h0.7M119.96 64.17h0.7M123.97 61.76h0.7M139.07 61.41h0.7M127.68 66.56h0.7M134.16 74.88h0.7M147.21 69.32h0.7M130.54 63.37h0.7M120.07 63.27h0.7M127.16 67.29h0.7M120.62 63.42h0.7M117.9 64.77h0.7M130.71 65.17h0.7M147.19 64.65h0.7M136.31 63.33h0.7M127.49 67.49h0.7M130.1 73.85h0.7M121.18 66.57h0.7M137.11 74.94h0.7M127.65 67.67h0.7M135.82 60.89h0.7M132.24 64.57h0.7M129.47 70.56h0.7M129.56 66.69h0.7M130.81 72.85h0.7M144.33 71.39h0.7M122.37 68.8h0.7M144.51 68.46h0.7M146.6 70.73h0.7M126.64 65.41h0.7M143.56 64.92h0.7M136.92 62.5h0.7M142.45 72.75h0.7M141.15 60.69h0.7M145.06 70.52h0.7M145.12 73.69h0.7M119.86 62.55h0.7M143.31 71.78h0.7M148.39 66.06h0.7M128.75 67.51h0.7M125.51 72.12h0.7M141.91 73.91h0.7M125.62 63.11h0.7M134.04 72.55h0.7M125.82 63.52h0.7M148.09 68.19h0.7M145.8 64.5h0.7M143.36 64.82h0.7M142.11 59.46h0.7M125.44 70.32h0.7M123.62 70.71h0.7M138.54 62.28h0.7M130.4 61.21h0.7M129.96 72.26h0.7M147.47 67.08h0.7M142.03 72.75h0.7M131.58 64.52h0.7M135.97 73.92h0.7M129.57 63.44h0.7M143.33 65.61h0.7M117.97 64.16h0.7M141.7 72.17h0.7M125.69 70.4h0.7M128.51 69.22h0.7M127.08 65.77h0.7M137.18 74.53h0.7M141.71 72.08h0.7M130.3 70.23h0.7M129.34 68.39h0.7M122.87 65.19h0.7M129.74 64.06h0.7M146.33 67.71h0.7M122.99 72.91h0.7M143.91 68.51h0.7M125.56 73.1h0.7M144.19 72.89h0.7M125.66 69.87h0.7M145.3 64.64h0.7M128.24 68.09h0.7M131.92 74.17h0.7M137.25 74.21h0.7M136.31 60.26h0.7M137.3 64.22h0.7M141.56 62.77h0.7M132 62.93h0.7M143.38 68.97h0.7M147 69.43h0.7M127.08 68.12h0.7M131.34 62.94h0.7M146.73 68.92h0.7M127.43 67.36h0.7M129.24 68.89h0.7M133.76 62.71h0.7M146.41 69.59h0.7M133.05 60.8h0.7M146.1 65.03h0.7M130.23 71.44h0.7M138.23 73.37h0.7M125.06 66.05h0.7M131.23 65.82h0.7M120.32 68.5h0.7M142.51 73.54h0.7M144.83 71.7h0.7M132.79 59.87h0.7M139.87 63.22h0.7M128.29 65.22h0.7M140.43 62.23h0.7M131.46 61.66h0.7M145.3 73.4h0.7M127.42 67.72h0.7M145.16 66.24h0.7M147.49 70.57h0.7M140.73 71.06h0.7M134.53 73.1h0.7M130.92 72.18h0.7M144.24 70.71h0.7M133.71 71.96h0.7M138.7 72.59h0.7M129.21 65.63h0.7M147.99 63.84h0.7M122.13 67.07h0.7M123.95 69.62h0.7M145.5 65.59h0.7M134.38 72.32h0.7M125.04 67.9h0.7M129.15 70.45h0.7M129.09 65.25h0.7M128.17 71.8h0.7M119.45 67.69h0.7M127.95 68.19h0.7M140.4 74.48h0.7M126.75 70.6h0.7M145.5 65.41h0.7M129.31 67.82h0.7M143.02 63.13h0.7M148.33 63.66h0.7M146.61 73.27h0.7M137.69 73.59h0.7M142.05 63.7h0.7M136.59 72.59h0.7M133.45 63.34h0.7M128.12 67.96h0.7M136.57 60.84h0.7M143.87 63.82h0.7M143.86 64.32h0.7M130.32 68.62h0.7M131.33 72.92h0.7M134.61 62.76h0.7M146.76 71.12h0.7M136.36 74.75h0.7M126.15 69.76h0.7M133.77 62.79h0.7M132.6 61.53h0.7M122.86 64.04h0.7M129.74 68.97h0.7M146 69.82h0.7M127.56 62.26h0.7M125.24 71.09h0.7M131.01 71.52h0.7M127.96 63.79h0.7M128.89 73.79h0.7M128.35 61.04h0.7M126.89 68.28h0.7M135 72.44h0.7M145.18 66.12h0.7M127.1 67.74h0.7M129.39 67.76h0.7M138.88 60.93h0.7M126.9 69.26h0.7M121.32 66.54h0.7M143.86 69.83h0.7M123.26 72.95h0.7M145.29 62h0.7M143.4 62.42h0.7M123.14 65.07h0.7M123.1 70.04h0.7M134.3 61.1h0.7M142.09 74.69h0.7M136.2 58.25h0.7M131.23 65.61h0.7M142.66 72.05h0.7M140.46 73.17h0.7M133.71 74.38h0.7M148.35 71.2h0.7M125.75 61.03h0.7M143.94 72.17h0.7M148.62 67.29h0.7M134.79 62h0.7M128.32 64.78h0.7M147.39 69.01h0.7M139.85 73.48h0.7M147.7 66.76h0.7M122.79 63.01h0.7M128.43 67.8h0.7M120.83 64.37h0.7M147.63 67.71h0.7M146.15 69.74h0.7M133.45 60.86h0.7M144.79 71.27h0.7M131.17 65h0.7M143.76 71.84h0.7M131.21 64.35h0.7M119.82 64.87h0.7M132.36 69.87h0.7M120.67 69.28h0.7M128.91 72.04h0.7M133.52 72.68h0.7M127.09 68.68h0.7M129.61 73.16h0.7M127.38 67.33h0.7M143.45 62.36h0.7M127.84 65.03h0.7M142.14 72.78h0.7M141.38 65.08h0.7M127.44 63.33h0.7M124.16 70.8h0.7M139.9 63.66h0.7M145.22 62.56h0.7M128.43 64.49h0.7M142.82 67.72h0.7M138.77 74.53h0.7M126.52 69.76h0.7M124.61 71.95h0.7M145.42 63.9h0.7M136.75 72.28h0.7M128.66 76.02h0.7M145.28 68.95h0.7M142.06 62.63h0.7M124.31 70.71h0.7M130.73 71.71h0.7M126.24 71.06h0.7M136.57 62.35h0.7M128.67 70.5h0.7M141.85 64.36h0.7M146.9 68.49h0.7M127.47 61.48h0.7M143.26 69.61h0.7M145.87 71.07h0.7M138.66 71.84h0.7M129.88 63.81h0.7M127.37 69.11h0.7M128.48 65.92h0.7M126.81 65.6h0.7M148.15 66.12h0.7M135.65 60.74h0.7M129.86 62.98h0.7M130.05 67.83h0.7M143.74 65.87h0.7M134.34 72.54h0.7M138.57 60.33h0.7M128.46 70.5h0.7M130.34 71.22h0.7M141.47 74.1h0.7M127.43 69.97h0.7M136.23 62.78h0.7M145.1 62.01h0.7M129.82 69.52h0.7M139.21 75.55h0.7M135.24 75.14h0.7M132.01 73.02h0.7M120.95 68.84h0.7M130.84 71.69h0.7M128.2 71.66h0.7M120.08 67.9h0.7M121.13 66.12h0.7M133.63 63.19h0.7M125.19 70.47h0.7M128.11 66.85h0.7M122.56 64.54h0.7M146.4 69.68h0.7M124.63 67.91h0.7M129.75 63.26h0.7M132.92 72.49h0.7M120.53 66.3h0.7M145.52 68.41h0.7M122.26 66.17h0.7M147.23 68.56h0.7M143.65 73.83h0.7M131.35 72.32h0.7M132.65 71.48h0.7M134.63 75.35h0.7M141.37 73.75h0.7M129.37 66.69h0.7M119.99 62.48h0.7M125.96 69.34h0.7M131.87 65.58h0.7M127.11 65.09h0.7M140.46 72.45h0.7M121.27 62.52h0.7M131.91 71.2h0.7M128.83 67.25h0.7M143.85 61.92h0.7M126.08 64.44h0.7M141.25 63.46h0.7M147.95 72.53h0.7M146.24 69.65h0.7M120.7 66.57h0.7M125.85 71h0.7M121.64 65.8h0.7M137.79 74.41h0.7M142.75 70.82h0.7M145.91 68.82h0.7M145.22 62.94h0.7M123.64 63.76h0.7M129.66 66.43h0.7M125.71 70.85h0.7M145.67 71.12h0.7M123.2 70.6h0.7M123.68 72.49h0.7M133.94 73.79h0.7M129.2 69.86h0.7M127.83 65.39h0.7M146.35 63.97h0.7M129.03 67.09h0.7M128.52 70.15h0.7M138.84 62.88h0.7M135.1 59.21h0.7M128.84 72.28h0.7M129.25 61.84h0.7M143.91 71.68h0.7M126.29 62.51h0.7M128.57 72.44h0.7M122.48 62.15h0.7M146.82 65.93h0.7M147.02 71.34h0.7M121.08 65.41h0.7M141 71.96h0.7M128.35 68.93h0.7M127.69 68.44h0.7M138.15 72.15h0.7M144.14 62.74h0.7M136.05 70.14h0.7M124.04 70.48h0.7M142.63 72.2h0.7M128.98 65.49h0.7M147.75 66.13h0.7M141.31 69.05h0.7M135.26 71.46h0.7M129.11 65.95h0.7M124.21 65.43h0.7M138.61 60.16h0.7M122.63 61.64h0.7M144.62 67.38h0.7M122.17 62.92h0.7M128.18 64.67h0.7M136.05 72.93h0.7M139.37 60.29h0.7M139.41 61.05h0.7M134.31 62.91h0.7M138.29 72.83h0.7M127.69 64.01h0.7M132.41 61.02h0.7M131.98 71.88h0.7M145.86 69.86h0.7M127 66.16h0.7M123.19 70.59h0.7M147.74 68.84h0.7M143.66 59.85h0.7M144.08 71.28h0.7M135.06 74.43h0.7M141.16 73.52h0.7M136.25 75.06h0.7M127.34 64.59h0.7M122.81 61.79h0.7M127.6 64.74h0.7M144.29 63.3h0.7M125.6 66.48h0.7M146.49 68.54h0.7M120.37 67.63h0.7M132.58 63.15h0.7M144.99 71.45h0.7M126.99 65.37h0.7M128.19 64.69h0.7M125.95 62.06h0.7M131.11 70.79h0.7M147 67.32h0.7M143.83 73.87h0.7M126.2 67.95h0.7M125.13 72.85h0.7M144.19 66.94h0.7M128.39 61.53h0.7M146.95 66.34h0.7M137.64 74.89h0.7M147.36 65.24h0.7M122.71 64.93h0.7M131.16 70.99h0.7M132.91 61.5h0.7M120.96 66.02h0.7M144.06 68.72h0.7M144.84 71.22h0.7M129.74 63.51h0.7M144.8 64.42h0.7M129.54 65h0.7M119.36 69.17h0.7M129.33 65.14h0.7M124.87 71.97h0.7M136.3 73.38h0.7M137.92 63.3h0.7M127.81 64.42h0.7M142.88 63.4h0.7M131.82 71.64h0.7M126.16 61.39h0.7M120.29 68.54h0.7M129.69 64.09h0.7M147.4 64.89h0.7M142.63 64.08h0.7M127.84 62.05h0.7M133.63 74.45h0.7M124.55 71.25h0.7M128.97 67.07h0.7M132.42 63.84h0.7M127.34 70.2h0.7M132.64 72.54h0.7M130.04 68.48h0.7M126.65 68.43h0.7M139.58 75.29h0.7M140.11 60.77h0.7M125.81 68.07h0.7M132.51 71.16h0.7M135.9 72.24h0.7M147.34 70.34h0.7M147.19 67.32h0.7M129.52 69.87h0.7M123.5 61.32h0.7M118.93 67h0.7M135.32 61.91h0.7M133.93 73.22h0.7M124.93 70.1h0.7M138.54 73.94h0.7M140.83 73.06h0.7M139.23 62.17h0.7M125.91 69.03h0.7M120.1 65.05h0.7M126.02 62.14h0.7M130.02 70.45h0.7M124.28 63.52h0.7M143.14 69.24h0.7M119.61 68.26h0.7M121.6 65.66h0.7M125.08 67.24h0.7M125.67 69.75h0.7M128.21 70.74h0.7M143.1 63.87h0.7M128.81 70.29h0.7M144.18 70.54h0.7M139.19 72.53h0.7M142.68 71.36h0.7M137.1 61.43h0.7M146.22 65.02h0.7M131.02 65.19h0.7M131.2 71.95h0.7M128.44 64.08h0.7M126.28 61.55h0.7M139.16 60.73h0.7M147.1 64.2h0.7M120.93 66.56h0.7M137.14 62.29h0.7M127.48 65.08h0.7M125.25 64.11h0.7M138.26 71.67h0.7M126.2 63.72h0.7M140.41 72.26h0.7M147.51 68.74h0.7M126.7 68.17h0.7" stroke="#000" stroke-opacity="0.55" stroke-width="0.7" fill="none"/><path d="M126.57 62.59h0.7M125.12 70.65h0.7M133.2 75.34h0.7M126.99 70.19h0.7M127.34 65.73h0.7M114.47 66.03h0.7M123.85 62.82h0.7M123.55 63.07h0.7M135.45 76.94h0.7M130.93 69.11h0.7M128.82 67.16h0.7M126.83 68.08h0.7M135.58 60.58h0.7M127.5 64.92h0.7M132.55 57.36h0.7M123.98 69.4h0.7M129.15 64h0.7M143.53 74.61h0.7M118.85 70.22h0.7M134.37 64.54h0.7M140.5 62.73h0.7M128.03 69.25h0.7M121.95 69.31h0.7M126.4 64.84h0.7M140.95 68.79h0.7M123.43 70.61h0.7M148.63 64.89h0.7M123.35 71.03h0.7M125.53 72.36h0.7M129.85 67.01h0.7M122.16 53.68h0.7M147.18 67.75h0.7M126.59 66.25h0.7M153.36 69.47h0.7M115.81 59.45h0.7M140.22 76.27h0.7M143.43 69.74h0.7M132.61 65.38h0.7M127.3 59.89h0.7M146.09 71.15h0.7M123.8 67.37h0.7M141.05 64.13h0.7M133.54 80.85h0.7M134.98 56.01h0.7M143.21 69.21h0.7M143.58 70.39h0.7M148.4 68.05h0.7M126.93 71.08h0.7M126.74 68.19h0.7M143.48 69.7h0.7M130.1 62.51h0.7M145.83 67.01h0.7M117.5 63.12h0.7M122.13 62.4h0.7M143.14 71.65h0.7M144.1 67.1h0.7M128.15 71.62h0.7M136.41 73.55h0.7M130.93 64.79h0.7M142.49 67.1h0.7M146.27 68.72h0.7M144.19 76.23h0.7M144.44 62.13h0.7M135.09 65.46h0.7M138.75 73.66h0.7M135.18 59.72h0.7M137.04 74.81h0.7M132.86 68.39h0.7M136.21 59.93h0.7M130.02 71.96h0.7M135.91 72.85h0.7M127.84 71.19h0.7M126.31 61.42h0.7M129.91 71.84h0.7M121.55 73.08h0.7M129.82 69.19h0.7M128.5 68.71h0.7M142.41 71.1h0.7M119.66 66.13h0.7M131.17 69.52h0.7M140.8 71.52h0.7M144.53 64.12h0.7M119.95 70.94h0.7M130.49 66.38h0.7M132.07 58.18h0.7M135.54 73.54h0.7M150.51 71.6h0.7M148.41 66.96h0.7M140.85 72.55h0.7M143.48 72.73h0.7M122.77 72.25h0.7M128.3 69.95h0.7M134.49 70.32h0.7M133.86 69.79h0.7M124.72 69.47h0.7M127.43 69.66h0.7M126.35 62.83h0.7M127.1 67.22h0.7M144.89 62.56h0.7M133.29 70.77h0.7M141.21 64.93h0.7M121.94 67.97h0.7M128.23 64.12h0.7M132.41 71.54h0.7M130.23 72.91h0.7M142.1 64.37h0.7M131.88 70.32h0.7M133.72 62.34h0.7M153.76 71.14h0.7M134.12 72.51h0.7M119.06 67.14h0.7M119.18 71.35h0.7M124.29 64.51h0.7M148.7 70.45h0.7M145.9 68.74h0.7M153.67 63.58h0.7M139.04 72.6h0.7M138.8 71.52h0.7M131.31 60.68h0.7M144.34 63.8h0.7M149.48 61.8h0.7M143.36 64.53h0.7M122.9 61.07h0.7M144.25 73.06h0.7M141.98 60.94h0.7M136.21 75.42h0.7M144.52 68.26h0.7M121.38 72.84h0.7M133.09 70.61h0.7M146.38 72.15h0.7M140.29 72.81h0.7M141.36 65.93h0.7M119.07 65.23h0.7M127.95 59.89h0.7M125.97 61.51h0.7M135.63 73.33h0.7M127.48 71.22h0.7M131.14 69.69h0.7M143.91 57.24h0.7M126.09 69.7h0.7M127.95 68.27h0.7M128.9 69.8h0.7M125.64 63.13h0.7M150.54 70.36h0.7M130.3 71.28h0.7M121.96 70.28h0.7M143.31 71.72h0.7M133.54 60.57h0.7M135.71 70.74h0.7M131.1 69.06h0.7M140.46 69.5h0.7M126.62 64.86h0.7M127.81 67.58h0.7M138.3 76.47h0.7M145.87 69.69h0.7M142.56 73.49h0.7M149.28 62.39h0.7M146.98 64.76h0.7M136.56 73.55h0.7M119.89 63.66h0.7M127.94 67.25h0.7M122.39 62.26h0.7M127.22 51.73h0.7M123.01 67.39h0.7M125.89 65.59h0.7M141.39 64.96h0.7M140.28 72.35h0.7M141 61.25h0.7M135.68 55.38h0.7M118.87 74.65h0.7M130.21 63.99h0.7M147.17 69.45h0.7M133.07 76.6h0.7M132.91 63.23h0.7M124.95 71.62h0.7M138.02 67.53h0.7M137.67 63.67h0.7M138.57 62.39h0.7M144.19 59.55h0.7M136.06 63.95h0.7M127.38 69.12h0.7M142.68 72.57h0.7M132.96 65.87h0.7M124.78 68.91h0.7M121.88 66.78h0.7M134.63 75.83h0.7M119.1 61.51h0.7M120.11 72.44h0.7M141.32 61.76h0.7M129.47 67.24h0.7M131.47 68.05h0.7M128.17 71.51h0.7M127.68 73.45h0.7M125.38 68.86h0.7M146.79 66.1h0.7M124.24 68.86h0.7M151.51 67.31h0.7M138.85 61.39h0.7M131.55 70.57h0.7M122.96 71.06h0.7M131.53 68.23h0.7M137.14 75.64h0.7M148.67 74.02h0.7M128.59 65.67h0.7M143.88 69.96h0.7M142.27 72.22h0.7M144.32 71.76h0.7M128.14 69.12h0.7M129.85 72.36h0.7M117.46 64.22h0.7M129.42 75.57h0.7M141.47 72.96h0.7M128.05 67.1h0.7M141.91 74.39h0.7M142.44 62.44h0.7M143.13 72.28h0.7M124.1 59.33h0.7M142.55 71.11h0.7M127.56 62.01h0.7M128.8 72.43h0.7M121.48 71.38h0.7M132.87 76.26h0.7M142.11 71.73h0.7M130.59 64.78h0.7M136.37 77.55h0.7M143.38 72.05h0.7M147.45 65.89h0.7M143.82 68.7h0.7M123.39 64.5h0.7M126.32 63.3h0.7M121.86 67.6h0.7M122.18 61.91h0.7M126.49 65.39h0.7M128.99 62.47h0.7M145.9 68.17h0.7M140.53 75.52h0.7M120.48 66.76h0.7M131.1 56.93h0.7M141.42 63h0.7M147.29 71.82h0.7M138.11 76.52h0.7M124.55 71.42h0.7M144.99 70.19h0.7M123.54 64.72h0.7M123.4 63.04h0.7M124.27 68.57h0.7M129.74 80.24h0.7M140.16 61.38h0.7M141.01 68.15h0.7M126.04 63.98h0.7M115.49 64.37h0.7M146.68 69.93h0.7M138.35 73.4h0.7M149.41 67.25h0.7M146.22 60.86h0.7M141.81 67.13h0.7M126.18 66.22h0.7M143.82 73.3h0.7M147.79 66.2h0.7M121.45 68.38h0.7M148.38 64.1h0.7M124.43 65.08h0.7M130.94 65.18h0.7M122.06 71.34h0.7M134.73 72.08h0.7M127.44 70.7h0.7M129.18 71.27h0.7M131.31 73.26h0.7M123.14 59.19h0.7M151.19 70.51h0.7M147.31 66.75h0.7M139.59 57.23h0.7M145.16 63.39h0.7M125.98 69.1h0.7M138.81 62.85h0.7M131.48 66.32h0.7M121.91 67.92h0.7M139.76 57.84h0.7M143.07 68.67h0.7M138.96 73.17h0.7M150.87 63.38h0.7M126.45 60.93h0.7M142.57 65.81h0.7M131.24 70.74h0.7M130.88 64.35h0.7M124.79 59.73h0.7M142.73 61.34h0.7M124.59 70.27h0.7M126.5 68.55h0.7M144.54 71.47h0.7M137.85 60.71h0.7M128.76 66.53h0.7M147.15 60.83h0.7M127.65 71.98h0.7M119.59 69.32h0.7M145.87 67.4h0.7M129.77 65.45h0.7M121.06 72.74h0.7M143.9 62.72h0.7M116.44 64.67h0.7M120.86 60.42h0.7M140.38 70.15h0.7M132.83 61.08h0.7M134.1 61.01h0.7M146.39 66.13h0.7M124.08 69.88h0.7M136.62 80.69h0.7M136.12 76.84h0.7M133.48 70.42h0.7M131.89 70.5h0.7M124.83 66.65h0.7M135.31 63.35h0.7M132.22 71.09h0.7M126.61 68.16h0.7M133.75 60.16h0.7M146.15 73.45h0.7M123.79 56.06h0.7M127.29 69.02h0.7M130.28 73.7h0.7M133.18 58.9h0.7M140.57 64.85h0.7M129.72 73.42h0.7M140.03 72.57h0.7M146.28 71.55h0.7M143.83 68.84h0.7M145.65 73.78h0.7M145.34 68.48h0.7M143.65 69.72h0.7M135.49 63.07h0.7M128.67 62.7h0.7M148.36 65.39h0.7M129.08 72.55h0.7M129.27 64.21h0.7M146.89 63.57h0.7M148.17 69.54h0.7M131.81 63.76h0.7M138.4 71.34h0.7M145.98 71.91h0.7M131.8 66.97h0.7M145.88 70.17h0.7M126.32 64.73h0.7M124.09 61.61h0.7M125.4 69.92h0.7M139.41 57.86h0.7M146.08 70.44h0.7M141.35 75.72h0.7M144.37 69h0.7M129.46 60.38h0.7M130.8 59.47h0.7M143.26 67.61h0.7M123.9 69.72h0.7M136.57 60.63h0.7M129.4 68.61h0.7M127.37 66.98h0.7M141.05 73.83h0.7M136.53 56.85h0.7M142.71 68.32h0.7M121.43 72.83h0.7M140.41 73.92h0.7M133.21 72.79h0.7M142.71 63.49h0.7M127.83 67.92h0.7M128.15 65.88h0.7M123.18 64.27h0.7M150.35 65.87h0.7M129.65 67.65h0.7M121.58 63.42h0.7M120.82 65.52h0.7M125.78 69.13h0.7M145.83 68.7h0.7M122.53 63.78h0.7M145.04 64.26h0.7M142.22 60.39h0.7M125.94 62.72h0.7M143.5 63.29h0.7M141.82 70.79h0.7M136.31 71.69h0.7M124.23 68.4h0.7M122.08 68.76h0.7M132.28 69.5h0.7M147.78 72.8h0.7M151.74 67.67h0.7M139.6 67.22h0.7M129.14 67.11h0.7M128.13 64.63h0.7M131.3 69.72h0.7M144.03 69.85h0.7M123.82 73.33h0.7M140.15 66.76h0.7M141.93 68.4h0.7M132.08 67.62h0.7M124.27 59.31h0.7M134.51 74.72h0.7M137.48 65.62h0.7M150.9 69.41h0.7M135.92 70.82h0.7M126.06 59.49h0.7M115.47 70.88h0.7M148.62 74.41h0.7M142.43 62.45h0.7M136.42 61.77h0.7M147.71 64.05h0.7M128.64 64.87h0.7M143.6 69.92h0.7M128.38 70.13h0.7M134.09 67.78h0.7M133.66 76.46h0.7M145.46 66.28h0.7M127.32 69.5h0.7M134.34 73.3h0.7M118.98 70.26h0.7M135.27 61.1h0.7M137.9 74.27h0.7M137.32 60.08h0.7M125.71 73.5h0.7M120.56 58.68h0.7M133.01 74.04h0.7M133.87 65.71h0.7M118.54 60.02h0.7M126.11 64.38h0.7" stroke="#000" stroke-opacity="0.45" stroke-width="0.7" fill="none"/><path d="M122.81 61.83h0.6M132.98 76.26h0.6M139.75 72.94h0.6M132.66 68.5h0.6M138.35 64.93h0.6M138.45 64.95h0.6M137.93 72.49h0.6M130.88 65.54h0.6M131.8 70.64h0.6M119.89 58.12h0.6M138.91 74.72h0.6M141.18 69.75h0.6M137.54 73.97h0.6M125.36 68.91h0.6M128.73 67.36h0.6M138.05 54.41h0.6M120.37 71.05h0.6M133.75 65.58h0.6M137.05 74.66h0.6M123.5 60.69h0.6M140.66 68.37h0.6M120.19 65.49h0.6M144.12 66.97h0.6M142.14 66.45h0.6M140.49 67.36h0.6M142.12 75.21h0.6M135.2 61.05h0.6M134.64 68.87h0.6M142.96 74.33h0.6M132.1 66.49h0.6M141.47 58.26h0.6M123.76 65.4h0.6M119.68 57.84h0.6M126.2 61.22h0.6M137.05 67.82h0.6M134.75 61.7h0.6M139.48 71.71h0.6M147.45 62.41h0.6M128.02 71.93h0.6M134.85 69.3h0.6M123.72 74.14h0.6M135.35 64.37h0.6M147.8 67.46h0.6M130.93 62.81h0.6M141.39 61.35h0.6M127.75 68.97h0.6M129.03 67.94h0.6M126.39 71.94h0.6M132.59 66.29h0.6M144.66 61.84h0.6M120.31 54.95h0.6M137.42 65.19h0.6M132.65 62.9h0.6M147.25 75.71h0.6M132.17 65.97h0.6M132.4 71.68h0.6M134.95 64.81h0.6M133.54 70.39h0.6M140.94 64.41h0.6M135.77 77.06h0.6M132.96 71.28h0.6M134.27 73.8h0.6M131.71 64.05h0.6M152.5 67.71h0.6M140.24 66.68h0.6M138.04 63.76h0.6M154.23 69.68h0.6M140.17 70.11h0.6M122.6 72.03h0.6M142.26 62.14h0.6M150.1 62.86h0.6M133.6 58.11h0.6M131.66 61.95h0.6M117.72 71.11h0.6M148.62 69.95h0.6M137.95 60.07h0.6M129.93 61.72h0.6M137.47 65.01h0.6M147.37 69.35h0.6M129.91 58.59h0.6M128.31 71.64h0.6M139.07 62.18h0.6M120.71 71.13h0.6M125.06 67.94h0.6M135.91 71.36h0.6M136.81 63.16h0.6M136.78 59.18h0.6M134.92 68.34h0.6M145.17 69.75h0.6M127.5 68.35h0.6M129.13 68.27h0.6M128.34 73.02h0.6M127.24 64.71h0.6M143.32 67.67h0.6M123.84 63.32h0.6M121.73 73.98h0.6M135.41 58.55h0.6M123.21 62.77h0.6M146.07 70.7h0.6M144.81 64.8h0.6M130.23 72.69h0.6M120.98 68.69h0.6M149.68 64.62h0.6M125.34 67.04h0.6M152.06 80.18h0.6M128.22 64.89h0.6M154.68 69.21h0.6M136.76 57.54h0.6M142.86 78.78h0.6M133.52 70.49h0.6M124.43 69.48h0.6M134.15 66.15h0.6M128.03 72.04h0.6M123.19 59.65h0.6M128.91 69.76h0.6M144.18 58.6h0.6M152.17 61.03h0.6M130 64.27h0.6M133.46 66.63h0.6M127.93 71.8h0.6M128.37 57.94h0.6M123.35 64.88h0.6M139.61 72.27h0.6M121.17 69.93h0.6M147.54 76.35h0.6M133.19 62.76h0.6M141.26 69.65h0.6M129.19 56.77h0.6M149.86 74.19h0.6M128.11 55.97h0.6M139.36 63.83h0.6M137.24 68.66h0.6M124.49 68.33h0.6M117.92 63.68h0.6M120.58 64.82h0.6M134.04 68.4h0.6M134.08 71.62h0.6M115.9 75.5h0.6M131.72 74.25h0.6M117.46 57.36h0.6M132.52 64.51h0.6M138.05 70.56h0.6M140.96 69.94h0.6M140.22 66.86h0.6M119.48 60.91h0.6M136.62 61.26h0.6M128.9 61.1h0.6M129.49 72.59h0.6M129.39 72.21h0.6M123.54 64.81h0.6M127.07 66.32h0.6M130.98 75.65h0.6M123.4 67.16h0.6M128.86 68.12h0.6M124.2 73.62h0.6M135.32 74.1h0.6M134.72 69.94h0.6M137.59 62.83h0.6M136.84 70.15h0.6M132.1 62.18h0.6M147.11 63.62h0.6M137.26 55.82h0.6M142.41 62.39h0.6M125.46 71.67h0.6M125.1 59.87h0.6M124.41 61.57h0.6M131.62 75.51h0.6M125.88 62.08h0.6M131.82 69.92h0.6M117.05 70.35h0.6M130.54 70.03h0.6M126.29 70.25h0.6M126.33 67.09h0.6M133.65 77.23h0.6M148.16 72.62h0.6M117.85 65.83h0.6M134.89 66.62h0.6M113.46 70.43h0.6M137.2 64.36h0.6M126.12 80.43h0.6M120.1 68.78h0.6M119.69 70.11h0.6M142.06 69.09h0.6M141.02 64.76h0.6M130.42 65.21h0.6M135.87 68.48h0.6M140.2 61.87h0.6M136.06 71.26h0.6M125.69 70.21h0.6M145.48 73.74h0.6M128.06 80.42h0.6M136.59 69.17h0.6M146.09 72.06h0.6M132.55 75.6h0.6M139.75 74.02h0.6M137.89 68.85h0.6M138.72 70.74h0.6M146.32 72.6h0.6M136.49 60.15h0.6M142.52 52.43h0.6M126.97 70.87h0.6M124.29 68.4h0.6M135.56 67.86h0.6M136.05 66.57h0.6M125.92 72.91h0.6M141.44 65.01h0.6M137.57 64.36h0.6M132.44 67.73h0.6M136.82 71.16h0.6M152.52 62.03h0.6M123.7 63.55h0.6M126.34 77.98h0.6M137.72 71.2h0.6M134.22 67.66h0.6" stroke="#000" stroke-opacity="0.38" stroke-width="0.6" fill="none"/><path d="M136.01 64.9h0.6M132.95 57.89h0.6M126.1 59.41h0.6M133.17 55.97h0.6M143.03 53.3h0.6M133.42 62.79h0.6M140.99 58.5h0.6M139.81 63.57h0.6M135.72 67.44h0.6M142.08 65.45h0.6M137.05 59.87h0.6M136.67 68.19h0.6M140.63 53.31h0.6M138.45 66.01h0.6M132.2 61.22h0.6M139.99 69.85h0.6M135.07 62.97h0.6M136.42 59.14h0.6M145.67 58.46h0.6M143.6 63.78h0.6M139.7 60.87h0.6M149.09 66.24h0.6M135.56 61.43h0.6M145.18 62.52h0.6M143.03 60.83h0.6M139.07 57.81h0.6M138.22 61.35h0.6M135.48 59.24h0.6M142.64 53.99h0.6M134.65 58.74h0.6M144.95 58.57h0.6M134.95 56.12h0.6M136.23 56.01h0.6M140.44 61.3h0.6M153.93 61.05h0.6M131.6 62.72h0.6M129.33 63.79h0.6M131.71 58.24h0.6M139.85 56.62h0.6M135.36 54.04h0.6M133.58 55.41h0.6M128.45 56.28h0.6M123.6 58.46h0.6M134.16 68h0.6M142.03 59.1h0.6M138.3 57.12h0.6M138.41 56.98h0.6M145.93 60.3h0.6M144.77 60.18h0.6M142.53 66.11h0.6M142.02 62.04h0.6M144.91 56.97h0.6M133.53 65.38h0.6M155.74 58.31h0.6M144.24 58.44h0.6M133.78 64.42h0.6M142.64 65.67h0.6M139.64 61.46h0.6M129.78 66.46h0.6M142.78 62.34h0.6M138.47 57.84h0.6M143.6 56.43h0.6M145.61 62.33h0.6M147.25 63.76h0.6M143.12 59.33h0.6M138.34 70.38h0.6M145.28 53.26h0.6M139.82 58.85h0.6M146.04 56.34h0.6M139.31 62.67h0.6M140.16 61.1h0.6M146.21 56.5h0.6M132.43 60.86h0.6M136.2 57.71h0.6M153.73 65.44h0.6M143.81 61.65h0.6M133.17 56.19h0.6M141.61 55.51h0.6M138.26 55.93h0.6M131 59.59h0.6M134.4 60.66h0.6M140.61 58.17h0.6M145.3 57.57h0.6M132.84 59.9h0.6M131.89 62.74h0.6M137.7 62.2h0.6M137.34 56.87h0.6M139.06 53.06h0.6M138.39 52.48h0.6M143.45 61.56h0.6M141.28 56.38h0.6M147.2 61.01h0.6M141.25 60.87h0.6M131.4 57.65h0.6M137.13 65.92h0.6M140.33 63.24h0.6M128.76 64.24h0.6M140.1 64.16h0.6M144.32 57.08h0.6M132.81 62.78h0.6M137.05 62.12h0.6M139.59 62.68h0.6M140.3 59.96h0.6M145.09 60.69h0.6M127.47 59.96h0.6M145.33 57.4h0.6M143.82 58.77h0.6M136.33 64.59h0.6M139.08 58.25h0.6M144.23 64.6h0.6" stroke="#000" stroke-opacity="0.35" stroke-width="0.6" fill="none"/><circle cx="124.5" cy="66.6" r="4.2" fill="url(#sph)" stroke="#111" stroke-width="1.2"/><clipPath id="c458515596"><path d="M127.8 66.75 C127.8 63.57 131.18 62.3 137.2 62.3 C143.22 62.3 146.6 63.15 146.6 66.12 C146.6 69.93 141.34 72.9 136.82 72.9 C131.56 72.9 127.8 70.25 127.8 66.75 Z"/></clipPath><path d="M127.8 66.75 C127.8 63.57 131.18 62.3 137.2 62.3 C143.22 62.3 146.6 63.15 146.6 66.12 C146.6 69.93 141.34 72.9 136.82 72.9 C131.56 72.9 127.8 70.25 127.8 66.75 Z" fill="#5e5e5e"/><path d="M131.94 61.3V73.9M134.4 61.3V73.9M136.8 61.3V73.9M139.3 61.3V73.9M141.69 61.3V73.9M143.68 61.3V73.9M145.87 61.3V73.9" stroke="#2a2a2a" stroke-width="0.8" clip-path="url(#c458515596)"/><path d="M127.8 66.75 C127.8 63.57 131.18 62.3 137.2 62.3 C143.22 62.3 146.6 63.15 146.6 66.12 C146.6 69.93 141.34 72.9 136.82 72.9 C131.56 72.9 127.8 70.25 127.8 66.75 Z" fill="none" stroke="#111" stroke-width="1.5"/><ellipse cx="208.9" cy="67.5" rx="17.3" ry="10.4" transform="rotate(0 208.9 67.5)" fill="#000" opacity="0.16" filter="url(#blur2)"/><path d="M210.57 73.54h0.7M198.06 68.57h0.7M200.52 64.75h0.7M197.99 60.93h0.7M214.83 60.08h0.7M222.11 68.45h0.7M211.48 62.62h0.7M196.86 63.4h0.7M213.94 61.16h0.7M215.5 71.24h0.7M205.3 63.38h0.7M201.33 63.89h0.7M215.38 58.81h0.7M199.1 68.57h0.7M220.44 64.16h0.7M220.96 67.8h0.7M217.76 69.51h0.7M210.58 59.7h0.7M210.15 71.87h0.7M199.02 69.18h0.7M204.92 71.85h0.7M198.78 64.21h0.7M194.16 69.48h0.7M202.23 71.76h0.7M196.27 63.15h0.7M202.42 69.13h0.7M220.68 65.05h0.7M213.32 74.53h0.7M218.13 71.26h0.7M204.04 70.43h0.7M204.14 71.89h0.7M216.76 64.69h0.7M202.24 71.44h0.7M203.83 70.42h0.7M202.58 66.21h0.7M213.97 72.31h0.7M200.04 66.35h0.7M214.87 73.34h0.7M202.4 72.18h0.7M199.75 61.64h0.7M202.46 70.53h0.7M223.45 65.65h0.7M219 70.67h0.7M215.38 72.35h0.7M199.35 63.24h0.7M213.39 63.75h0.7M200.6 69.69h0.7M210.44 75.79h0.7M202.17 63.49h0.7M204.18 64.17h0.7M215.63 62.08h0.7M204.59 61.04h0.7M217.35 62.3h0.7M221.27 67.06h0.7M203.05 70.44h0.7M212.66 75.55h0.7M219.94 71.11h0.7M205.83 74.04h0.7M203.09 71.13h0.7M194.68 68.82h0.7M200.65 63.53h0.7M201.22 70.02h0.7M207.46 73.14h0.7M218.77 71.22h0.7M212.69 72.93h0.7M208.54 71.63h0.7M219.39 67h0.7M204.98 73.05h0.7M197.16 63.87h0.7M207.8 61.74h0.7M223.41 69.31h0.7M194.55 68.55h0.7M214.99 72.86h0.7M204.1 64.74h0.7M213.22 59.83h0.7M194.18 68.59h0.7M218.13 70.63h0.7M200.38 63.75h0.7M201.85 64.84h0.7M211.81 72.55h0.7M211.63 76.25h0.7M200.21 71.55h0.7M197.62 64.69h0.7M201.71 64.07h0.7M201.98 63.32h0.7M202 66.64h0.7M218.53 70.43h0.7M193.81 67.07h0.7M201.39 66.35h0.7M204.81 67.74h0.7M196 63.89h0.7M197.27 66.27h0.7M218.9 63.51h0.7M210.09 73.24h0.7M199.91 66.95h0.7M208.09 60.35h0.7M220.73 65.74h0.7M217.71 64.78h0.7M208.79 75.21h0.7M202.92 68.11h0.7M211.16 73.85h0.7M215.79 61.44h0.7M194.43 68.31h0.7M217.44 73.17h0.7M221.13 68.9h0.7M200.11 68.65h0.7M217.9 72.42h0.7M194.84 64.9h0.7M195.84 63.75h0.7M194.44 66.56h0.7M202.43 65.43h0.7M200.2 68.77h0.7M208.68 63.03h0.7M194.54 68.26h0.7M209.64 62.02h0.7M217.95 63.9h0.7M207.37 61.98h0.7M215.12 62.77h0.7M203.43 62.93h0.7M215.39 72.17h0.7M207.72 74.43h0.7M205.91 64.55h0.7M217.98 63.03h0.7M210.41 61.32h0.7M197.89 61.33h0.7M195.36 66.04h0.7M199.79 72.39h0.7M217.98 64.15h0.7M217.61 71.85h0.7M204.42 71.8h0.7M215.03 64.19h0.7M217.03 61.23h0.7M205.95 59.65h0.7M201.34 62.55h0.7M207.27 74.32h0.7M212.47 71.84h0.7M206.34 70.78h0.7M208.63 60.35h0.7M210.97 72.6h0.7M220.43 69.95h0.7M215.21 72.01h0.7M222.16 67.7h0.7M213.06 62.4h0.7M219.82 67.64h0.7M199.88 62.73h0.7M220.33 68.41h0.7M200.55 62.76h0.7M196.47 63.45h0.7M199.91 68.99h0.7M209.69 71.28h0.7M204.39 65.77h0.7M201.11 66.86h0.7M220.51 67.43h0.7M221.42 66.58h0.7M222.84 67.21h0.7M215.18 72.69h0.7M201.81 65.14h0.7M202.34 63.88h0.7M199.93 62.52h0.7M195.92 66.1h0.7M215.92 59.92h0.7M195.62 68.36h0.7M204.94 71.84h0.7M206.94 74.25h0.7M217.81 72.84h0.7M205.73 59.95h0.7M195.11 66.53h0.7M210.49 72.52h0.7M207.13 63.99h0.7M222.12 70.43h0.7M207.8 60.7h0.7M214.94 61.58h0.7M198.9 70.81h0.7M205.97 72.25h0.7M219.36 63.13h0.7M215.05 73.44h0.7M204.42 66.97h0.7M217.83 63.17h0.7M202.57 73.35h0.7M206.4 73.2h0.7M220.25 64.42h0.7M208.32 73.47h0.7M216.39 72.62h0.7M194.64 63.86h0.7M220.95 60.6h0.7M198.38 68.86h0.7M198.48 65.42h0.7M218.26 72.7h0.7M199.87 65.01h0.7M201.21 69.42h0.7M202.31 68.17h0.7M198.61 69.31h0.7M212.8 73.29h0.7M211.28 63.14h0.7M219.02 69.18h0.7M203.74 65.11h0.7M211.54 60.74h0.7M202 67.59h0.7M202.04 69.06h0.7M219.99 65.96h0.7M198.67 71.99h0.7M203.4 68.84h0.7M198.8 63.32h0.7M193.64 67.16h0.7M213.5 74.48h0.7M200.74 70.01h0.7M196.1 60.86h0.7M201.68 69.73h0.7M200.96 70.3h0.7M202.64 70.15h0.7M209.62 74.45h0.7M202.42 64.29h0.7M198.39 64.06h0.7M211.89 72.26h0.7M200 63.51h0.7M220.27 67.24h0.7M217.09 61.51h0.7M220.78 66.33h0.7M195.56 70.91h0.7M220 70.1h0.7M195.49 65.81h0.7M217.13 62.96h0.7M195 63.54h0.7M196.81 61.95h0.7M192.3 64.13h0.7M220.52 69.21h0.7M205.72 71.09h0.7M194.09 67.25h0.7M194.95 69.21h0.7M197.84 63.04h0.7M220.22 64.63h0.7M200.96 67.83h0.7M214.28 70.24h0.7M201.23 66.13h0.7M197.81 62.04h0.7M200.79 70.51h0.7M211.18 72.56h0.7M202.21 70.75h0.7M201.91 66.16h0.7M217.89 62.98h0.7M201.56 70.49h0.7M200.86 70.73h0.7M195.42 65.15h0.7M200.57 65.35h0.7M215.22 73.76h0.7M209.02 73.62h0.7M202.29 66.48h0.7M199.34 69.83h0.7M218.96 65.5h0.7M219.38 62.12h0.7M204.83 68.02h0.7M219.4 63.3h0.7M209.83 74.27h0.7M219.48 66.51h0.7M215.28 61.2h0.7M195.55 65.35h0.7M211.38 72.93h0.7M214.17 60.51h0.7M205.79 62.57h0.7M219.65 63.4h0.7M201.79 64.88h0.7M211.18 71.46h0.7M202.28 70.33h0.7M206.74 73.23h0.7M201.51 71.19h0.7M198.06 64.01h0.7M211.87 75.25h0.7M220.33 65.41h0.7M197.96 71.56h0.7M203.09 65.31h0.7M195.87 69.74h0.7M198.79 69.33h0.7M205.77 74.9h0.7M197.45 62.52h0.7M202.19 66.45h0.7M204.5 61.74h0.7M218.36 64.72h0.7M216.88 60.54h0.7M220.72 67.86h0.7M199.33 71.79h0.7M210.51 71.37h0.7M204.99 71.79h0.7M201.29 68.82h0.7M202.16 68.23h0.7M206.84 72.91h0.7M221.47 66.21h0.7M216.3 62.8h0.7M201.41 66.42h0.7M219.91 67.13h0.7M203.88 68.07h0.7M199.15 69.52h0.7M218.15 73.09h0.7M217.96 62.69h0.7M194.71 66.07h0.7M204.01 61.19h0.7M196.92 62.54h0.7M205.79 74.21h0.7M216.48 74.06h0.7M194.2 66.21h0.7M214.79 74.63h0.7M199 67.89h0.7M220.47 66.98h0.7M203.39 63.39h0.7M218.86 71.98h0.7M200.43 67.93h0.7M200.83 65.38h0.7M221.02 69.77h0.7M205.66 62.55h0.7M199.92 70.47h0.7M199.86 66.26h0.7M203.86 68.37h0.7M201.66 72.29h0.7M195.37 66.99h0.7M221.95 69.28h0.7M208.63 73.45h0.7M218.27 70.54h0.7M209.87 61.92h0.7M218.02 61.55h0.7M213.39 71.31h0.7M222.71 65.69h0.7M201.29 65.19h0.7M224.22 68.8h0.7M196.52 70.29h0.7M216.96 64.28h0.7M194.08 62.57h0.7M207.39 72.91h0.7M198.45 62.41h0.7M200.21 65.43h0.7M205.38 61.62h0.7M218.05 65.61h0.7M194.03 67.27h0.7M203.78 71.18h0.7M206.26 62.91h0.7M203.6 67.48h0.7M219.66 71h0.7M210.7 74.33h0.7M197.94 70.34h0.7M217.74 73.61h0.7M207.06 73.57h0.7M203.78 70.64h0.7M210.69 61.95h0.7M219.24 65.45h0.7M214.03 70.58h0.7M204.3 68.41h0.7M197.77 66.19h0.7M202.24 69.59h0.7M195.19 66.7h0.7M201.78 65.65h0.7M201.37 66.7h0.7M200.65 69.99h0.7M201.46 67h0.7M219.19 65.46h0.7M193.57 66.47h0.7M202.04 65.27h0.7M221.83 70.25h0.7M201.5 66.62h0.7M201.85 70.89h0.7M202.96 68.3h0.7M222.96 66.3h0.7M209.51 72.07h0.7M216.86 70.19h0.7M217.28 74.11h0.7M202.75 62.91h0.7M201.59 64.06h0.7M204.59 62.77h0.7M202.46 64.73h0.7M208.41 74.02h0.7M202.52 68.34h0.7M213.54 72.47h0.7M204.26 64.19h0.7M192.79 66.37h0.7M202.14 67.73h0.7M216.75 62.51h0.7M199.48 64.62h0.7M219.68 70.55h0.7M211.59 63.63h0.7M200.55 68.34h0.7M193.21 65.22h0.7M219.24 72.15h0.7M195.74 67.81h0.7M204.65 63.04h0.7M209.8 63.62h0.7M221.22 69.33h0.7M220.6 64.11h0.7M219.84 67.53h0.7M199.23 60.83h0.7M204.54 64.5h0.7M200.45 64.27h0.7M221.24 68.75h0.7M202.01 63.5h0.7M216.49 64.79h0.7M217.22 63.92h0.7M212.47 75.41h0.7M220.36 65.88h0.7M199.72 62.88h0.7M219.4 66.28h0.7M195.96 70.08h0.7M218.21 74.11h0.7M217.3 70.6h0.7M195.46 70.03h0.7M218.88 68.71h0.7M196.76 63.62h0.7M200.78 65.3h0.7M201.8 71.01h0.7M201.86 64.75h0.7M200.1 69.93h0.7M204.35 62.71h0.7M199.65 64.89h0.7M220.05 69.08h0.7M219 63.3h0.7M215.56 63.79h0.7M200.55 67.68h0.7M219.92 72.24h0.7M200.17 70.44h0.7M204.32 72.91h0.7M201.94 64.57h0.7M202.5 65.4h0.7M202.62 65.5h0.7M220.23 67.37h0.7M213.44 72.53h0.7M210.17 61.06h0.7M210.13 73.98h0.7M206.79 72.75h0.7M201.8 68.89h0.7M199.12 64.64h0.7M219.87 71.51h0.7M197.63 69.94h0.7M211.59 61.85h0.7M206.53 73.46h0.7M219.35 67.89h0.7M213.35 74.24h0.7M214.74 62.51h0.7M222.63 68.31h0.7M215.24 75.41h0.7M221.41 67.26h0.7M196.69 65.46h0.7M209.56 74.48h0.7M220.62 68.25h0.7M217.5 73.36h0.7M221.27 63.18h0.7M204.01 64.07h0.7M199.54 71.17h0.7M210.7 60.76h0.7M196.49 70.44h0.7M219.88 63.42h0.7M192.66 69.16h0.7M201.31 64.03h0.7M203.59 68.93h0.7M222.39 68.81h0.7M207.67 74.04h0.7M218.56 70.49h0.7M192.95 65.18h0.7M199.87 69.58h0.7M200.24 67.56h0.7M202.48 64.59h0.7M221.52 69.06h0.7M204.51 64.49h0.7M214.94 73.1h0.7M219.67 66.1h0.7M217.05 70.16h0.7M196.5 70.65h0.7M203.08 64.4h0.7M193.23 62.67h0.7M216.48 70.98h0.7M194.25 67.27h0.7M202.15 64.95h0.7M201.98 64.35h0.7M221.77 71.66h0.7M203.37 66.77h0.7M194.08 62.58h0.7M214.07 73.27h0.7M212.94 73.36h0.7M214.18 72.13h0.7M218.49 61.49h0.7M199.85 62.23h0.7M201.72 71.01h0.7M205.35 64.2h0.7M197.63 70.83h0.7M216.02 61.27h0.7M205.32 72.43h0.7" stroke="#000" stroke-opacity="0.55" stroke-width="0.7" fill="none"/><path d="M202.3 58.2h0.7M198.39 65.03h0.7M218.29 66.05h0.7M203.82 76.66h0.7M208.01 61.41h0.7M214.23 58.44h0.7M224.16 68.07h0.7M196.95 66.57h0.7M219.02 66.37h0.7M203.27 61.29h0.7M225.88 72.31h0.7M225.47 65.41h0.7M193.86 64.84h0.7M202.63 73.37h0.7M218.28 60.04h0.7M196.57 68.21h0.7M204.44 62.63h0.7M216.97 63.31h0.7M200.27 72.7h0.7M215.25 69.12h0.7M209.14 61.57h0.7M199.25 61.7h0.7M204.94 68.16h0.7M214.01 67.55h0.7M216.81 58.52h0.7M198.37 68.5h0.7M202.63 65.87h0.7M199.45 61.22h0.7M204.8 70.7h0.7M217.86 61.9h0.7M215.61 63.6h0.7M197.18 68.22h0.7M222.45 66.96h0.7M195.09 69.29h0.7M212.44 63.7h0.7M205.46 67.02h0.7M200.87 67.02h0.7M197.32 62.47h0.7M217.78 72.31h0.7M197.91 62.06h0.7M199.71 69.06h0.7M203 65.23h0.7M197.04 64.47h0.7M205.64 74.7h0.7M204.5 68.68h0.7M197.93 68.2h0.7M187.62 63.4h0.7M208.58 76.1h0.7M223.62 69.62h0.7M206.92 70.38h0.7M199.05 63.06h0.7M206.19 68.43h0.7M195.11 72.6h0.7M201.81 69.1h0.7M205.13 69.19h0.7M199.12 68.16h0.7M191.57 66.32h0.7M200.87 67.64h0.7M221.14 71.3h0.7M218.74 71.44h0.7M216.53 73.9h0.7M215.71 60.95h0.7M214.55 62.94h0.7M200.97 63.15h0.7M202.44 63.06h0.7M205.28 65.09h0.7M199.55 68.34h0.7M196.12 71.56h0.7M211.18 71.13h0.7M209.91 66.98h0.7M219.86 65.34h0.7M203.24 61h0.7M218.98 68.09h0.7M202.77 60.93h0.7M215.44 61.18h0.7M214.83 63.73h0.7M215.31 77.47h0.7M216.8 68.31h0.7M198.6 74.21h0.7M191.47 65.87h0.7M217.64 66.06h0.7M198.84 63.9h0.7M199.14 59.6h0.7M220.65 69.88h0.7M208.63 62.7h0.7M207.2 78.42h0.7M196.3 62.55h0.7M218.25 61.07h0.7M211 74.21h0.7M201.16 63.67h0.7M198.08 72.56h0.7M201.49 65.68h0.7M207.34 65.14h0.7M221.45 69.21h0.7M206.34 68.75h0.7M193.4 62.66h0.7M204.83 74.23h0.7M211.79 74.37h0.7M205.76 61.26h0.7M214.16 59.14h0.7M219.96 64.91h0.7M208.66 63.12h0.7M205.47 63.65h0.7M211.6 59.73h0.7M205.61 64.88h0.7M207.11 63.85h0.7M208.37 75.62h0.7M219.12 71.09h0.7M207.35 71.4h0.7M192.51 66.42h0.7M198.98 65.79h0.7M212.14 69.85h0.7M198.97 70.44h0.7M201.42 75.9h0.7M212.5 64.54h0.7M221.29 69.05h0.7M213.13 75.31h0.7M214.87 61.19h0.7M204.27 63.35h0.7M217.6 74.47h0.7M225.54 62.56h0.7M202.92 69.28h0.7M202.8 71.1h0.7M198.22 68.58h0.7M221.75 63.22h0.7M225.05 65.22h0.7M198.21 63.43h0.7M200.71 62.63h0.7M199.71 66.11h0.7M216.41 62.55h0.7M202.25 58.62h0.7M207.28 63.6h0.7M200.2 69.92h0.7M220.45 73.46h0.7M197.82 65.48h0.7M215.99 66.57h0.7M190.02 67.05h0.7M195.64 59.32h0.7M205.55 59.9h0.7M205.25 67.96h0.7M210.96 63.23h0.7M204.73 69.31h0.7M203.19 64.35h0.7M190.99 71.98h0.7M197.22 67.61h0.7M215.73 70.22h0.7M201.76 71.9h0.7M202.4 74.43h0.7M192.76 68.75h0.7M206.93 73.4h0.7M203.06 73.59h0.7M216.26 73.53h0.7M193.29 66.96h0.7M218.26 70.95h0.7M192.56 71.99h0.7M206.94 69.06h0.7M214.84 66.48h0.7M198.02 65.53h0.7M198.31 72.51h0.7M218.36 70.62h0.7M204.24 70.8h0.7M203.3 60.81h0.7M204.59 62.4h0.7M218.1 80.21h0.7M222.55 71.84h0.7M222.02 66.44h0.7M220.86 59.45h0.7M201.75 58.31h0.7M212.48 66.72h0.7M218.93 69.8h0.7M210.99 60.02h0.7M195.85 69.5h0.7M219.18 73.81h0.7M210.91 61.01h0.7M194.88 59.6h0.7M216.51 73.41h0.7M212.76 68.38h0.7M204.98 65.7h0.7M220.24 62.7h0.7M210.15 64.51h0.7M201.01 67.34h0.7M201.09 67.65h0.7M195.88 64.87h0.7M204.29 64.7h0.7M200.12 68.71h0.7M206.57 62.41h0.7M202.62 63.53h0.7M221.03 66.64h0.7M209.48 57.91h0.7M201.59 67.05h0.7M214.48 64.15h0.7M218.09 76.22h0.7M201.65 76.68h0.7M215.94 69.93h0.7M197.62 70.02h0.7M204.42 79.24h0.7M198.23 69.85h0.7M205 63.61h0.7M197.06 66.78h0.7M198.41 73.26h0.7M205.86 61.42h0.7M203.55 58.99h0.7M200.57 64.61h0.7M202.06 60.13h0.7M223.88 62.79h0.7M203.88 70.61h0.7M223.41 72.94h0.7M215.95 72.41h0.7M204.53 76.6h0.7M216.82 70.07h0.7M221.19 66.96h0.7M201.17 67.67h0.7M204.52 71.24h0.7M219.87 68.88h0.7M213.14 64.78h0.7M196.3 70.2h0.7M219.6 57.23h0.7M212.24 65.23h0.7M203.01 65.76h0.7M190.45 68.88h0.7M212.59 71.14h0.7M212.7 61.24h0.7M212.42 62.56h0.7M207.39 56.57h0.7M196.36 57.99h0.7M219.36 63.72h0.7M204.98 63.13h0.7M221.76 68.66h0.7M202.62 66.91h0.7M193.33 69.26h0.7M217.55 69.34h0.7M202.09 75.57h0.7M203.62 69.12h0.7M207.99 73.17h0.7M202.97 66.36h0.7M205.63 75.46h0.7M222.66 66.92h0.7M211.53 70.57h0.7M201.09 70.66h0.7M198.96 75.23h0.7M212.18 62.48h0.7M202.44 64.37h0.7M216.2 70.83h0.7M203.43 69.29h0.7M204 67.62h0.7M189.99 72.72h0.7M222.33 68.57h0.7M201.7 66.95h0.7M196.18 66.99h0.7M196.22 60.94h0.7M222.81 60.9h0.7M210.89 64.9h0.7M205.19 73.7h0.7M215.41 61.83h0.7M197.87 71.88h0.7M200.31 73.11h0.7M197.42 75.19h0.7M216.76 64.37h0.7M221.74 73.53h0.7M214.77 76.54h0.7M199.98 66.73h0.7M203.07 63.54h0.7M193.6 76.33h0.7M209.38 62.2h0.7M189.67 65.21h0.7M213.29 62.3h0.7M218.18 71.63h0.7M201.73 67.98h0.7M200.86 65.22h0.7M206.81 58.91h0.7M202.77 63.92h0.7M193.61 63.16h0.7M201.35 63.74h0.7M208.45 74.38h0.7M204.76 60.18h0.7M195.87 69.43h0.7M220.43 68.06h0.7M223.88 67.74h0.7M207.58 81.64h0.7M200.64 66.68h0.7M217.86 70.86h0.7M198.89 71.17h0.7M227.36 64.45h0.7M201.44 68.11h0.7M210.97 61.15h0.7M196.92 72.46h0.7M201.62 61.98h0.7M193.68 73.08h0.7M222.33 66.64h0.7M216.03 67.02h0.7M197.29 72.56h0.7M220.13 74.6h0.7M215.39 60.17h0.7M219.16 73.77h0.7M215.13 71.66h0.7M200.17 65.27h0.7M204.59 64.41h0.7M217.37 65.05h0.7M199.66 66.25h0.7M200.43 63.68h0.7M212.03 68.89h0.7M225.18 66.73h0.7M213.68 61.4h0.7M203.26 63.39h0.7M202.49 65.61h0.7M216.65 69.03h0.7M217.82 58.06h0.7M199.54 62.49h0.7M200.05 59.6h0.7M219.25 76.14h0.7M209.69 71.96h0.7M200.58 75.63h0.7M203.79 69.72h0.7M213.06 75.55h0.7M194.86 72.34h0.7M220.61 61.98h0.7M205.3 65.21h0.7M217.94 65.34h0.7M194.84 67.56h0.7M220.65 74.1h0.7M219.51 67.39h0.7M199.71 70.22h0.7M187.71 67.22h0.7M222.45 74.26h0.7M211.13 64.35h0.7M201.23 71.6h0.7M209.18 62.31h0.7M207.38 63.46h0.7M197.04 66.44h0.7M192.01 66.38h0.7M211.47 67.9h0.7M221.97 69.51h0.7M213.67 71.33h0.7M210.11 76.35h0.7M197.51 64.07h0.7M209.62 77.24h0.7M215.47 63.43h0.7M215.42 69.31h0.7M220.53 73.96h0.7M222.07 67.16h0.7M216.53 62.34h0.7M202.44 71.37h0.7M196.3 66.04h0.7M198.12 75.95h0.7M195.09 63.26h0.7M219.57 67.91h0.7M201.65 62.97h0.7M200.49 71.01h0.7M200.65 61.55h0.7M206.28 76.93h0.7M210.32 72.04h0.7M205.88 60.73h0.7M208.71 65.78h0.7M206 73.17h0.7M217.61 71.72h0.7M219.52 70.36h0.7M210.38 72.37h0.7M196.24 68.3h0.7M207.99 72.21h0.7M219.94 72.51h0.7M190.63 69.73h0.7M204.14 59.91h0.7M217.26 72.54h0.7M213.51 66.62h0.7M222.34 63.45h0.7M205.34 69.56h0.7M215.87 72.91h0.7M219.37 57.57h0.7M198.51 74.4h0.7M214.54 63.1h0.7M216.12 74.85h0.7M220.79 73.89h0.7M197 63.66h0.7M202.91 70.13h0.7M203.76 59.32h0.7M214.62 62.05h0.7M203.48 68.65h0.7M216.15 70.51h0.7M199.02 67.01h0.7M217.68 60.96h0.7M197.43 72.29h0.7M209.48 57.73h0.7M199.08 63.29h0.7M214.97 63.91h0.7M205.17 64.66h0.7M220.1 70.22h0.7M193.17 61.84h0.7M197.6 60.01h0.7M200.85 66.39h0.7M209.41 57.33h0.7M221.49 67.83h0.7M195.32 70.28h0.7M216 74.41h0.7M201.31 62.91h0.7M204.88 69.95h0.7M193.36 71.59h0.7M211.09 61.73h0.7M224 65.18h0.7M196.77 69.95h0.7M195.8 72.75h0.7M203.62 67.41h0.7M212.19 69.09h0.7M205.85 76.39h0.7M212.95 60.16h0.7M207.93 75.98h0.7M200.92 66.03h0.7M216.69 70.33h0.7M218.19 66.25h0.7M218.14 70.45h0.7M201.47 66.07h0.7M211.74 74.96h0.7M195.63 70.28h0.7M202.92 69.44h0.7M210.21 66.49h0.7M215.96 72.21h0.7M207.42 66.77h0.7M217.95 63.31h0.7M204.91 75.14h0.7M191.17 74.97h0.7" stroke="#000" stroke-opacity="0.45" stroke-width="0.7" fill="none"/><path d="M211.7 56.77h0.6M213.59 52.7h0.6M197.31 64.46h0.6M209.75 64.93h0.6M196.45 73.58h0.6M204.64 69.53h0.6M211.36 74.84h0.6M215.15 59.19h0.6M218.68 67.12h0.6M196.09 65.27h0.6M208.86 64.05h0.6M197.29 70.24h0.6M193.36 74.37h0.6M217.25 65.62h0.6M219.54 68.69h0.6M214.73 58.22h0.6M229.91 70.3h0.6M219.8 62.72h0.6M219 73.49h0.6M197.17 75.62h0.6M195.9 57.2h0.6M223.31 69.6h0.6M215.15 77.59h0.6M199.61 62.07h0.6M205.05 64.39h0.6M216.21 73.88h0.6M211.16 62.46h0.6M211.04 67.1h0.6M225.27 72.41h0.6M190.19 65.25h0.6M220.69 67.95h0.6M216.62 61.25h0.6M209.01 57.43h0.6M201.99 64.57h0.6M210.67 67.05h0.6M214.76 71.84h0.6M206.72 67.63h0.6M194.42 65.85h0.6M218.6 58.81h0.6M210.06 54.41h0.6M210.56 61.7h0.6M218.22 73.8h0.6M197.16 72.73h0.6M200.06 57.09h0.6M210.42 69.23h0.6M218.47 71.54h0.6M204.92 74.65h0.6M213.97 62.87h0.6M208.34 64.01h0.6M204.07 67.59h0.6M191.11 76.68h0.6M205.18 72.51h0.6M209.34 65.55h0.6M218.1 69.87h0.6M205.82 70.4h0.6M208.79 71.98h0.6M207.16 67.53h0.6M225.05 70.65h0.6M201.57 68.02h0.6M210.36 65.21h0.6M194.29 70.6h0.6M213.02 66.31h0.6M207.45 69.84h0.6M218.47 74.6h0.6M224.68 60.34h0.6M208.01 67.98h0.6M207.38 66.39h0.6M192.85 75.49h0.6M213.54 65.15h0.6M197.12 61.41h0.6M206.16 61.71h0.6M209.8 69.8h0.6M195.88 68.35h0.6M197.77 64.32h0.6M218.89 67.81h0.6M205.17 71.07h0.6M199.19 63.28h0.6M202.95 71.82h0.6M209.04 69.55h0.6M210.03 75.65h0.6M213.74 70.89h0.6M198.31 71.96h0.6M202.53 60.48h0.6M199.83 54.3h0.6M207.29 60.79h0.6M219.39 78.46h0.6M223.51 63.3h0.6M192.98 78.04h0.6M229.38 72.03h0.6M207.31 74.3h0.6M204.09 75.46h0.6M210.98 76.12h0.6M216.63 68.99h0.6M197.48 63.48h0.6M200.29 66.16h0.6M213.84 64.02h0.6M195.53 73.74h0.6M215.32 62.97h0.6M194.62 70.98h0.6M218.31 65.67h0.6M220.64 55.61h0.6M225.02 56.84h0.6M218.05 76.76h0.6M219.39 67.8h0.6M212.44 62.67h0.6M203.7 70.61h0.6M211.42 60.33h0.6M216.57 54.76h0.6M208.66 68.22h0.6M197.99 56.37h0.6M207.21 72.8h0.6M195.09 55.06h0.6M196.86 65.56h0.6M202.79 70.34h0.6M191.33 53.95h0.6M199.05 66.51h0.6M201.29 60.38h0.6M203.72 79.09h0.6M204.35 63.24h0.6M193.47 65.73h0.6M212.55 72.81h0.6M215.04 60.4h0.6M194.09 62.19h0.6M216.2 70.64h0.6M202.32 66.99h0.6M203.42 66.28h0.6M198.38 76.24h0.6M215.7 77.93h0.6M222.18 64.45h0.6M215.85 63.51h0.6M208.41 65.79h0.6M217.27 74.43h0.6M199.59 65.84h0.6M209.21 63.02h0.6M224.22 78.18h0.6M189.16 63.42h0.6M210.78 66.31h0.6M201.53 61.53h0.6M217.48 63.38h0.6M204.91 76.87h0.6M219.67 69.13h0.6M196.5 60.91h0.6M216.37 62.13h0.6M211.93 72.5h0.6M197.1 69.1h0.6M205.19 69.97h0.6M209.39 66.83h0.6M221.9 72.59h0.6M202.58 57.54h0.6M194.09 65.59h0.6M226.93 67.27h0.6M219.65 67.82h0.6M213.9 67.81h0.6M196.82 65.15h0.6M200.77 67.18h0.6M207.13 58.41h0.6M221.23 71.28h0.6M216.17 73.82h0.6M199.36 68.12h0.6M199.31 66.67h0.6M216.1 70.67h0.6M208.56 50.35h0.6M202.62 63h0.6M206.54 60.4h0.6M204.89 72.99h0.6M206.32 65.79h0.6M205.53 67.1h0.6M218.18 62.12h0.6M194.88 56.99h0.6M214.79 73.24h0.6M211.7 63.19h0.6M206.2 69.63h0.6M210.16 78.36h0.6M193.06 64.47h0.6M215.93 66.18h0.6M201.8 64.36h0.6M206.49 69.56h0.6M208.84 74.52h0.6M195.47 63.2h0.6M207.37 65.86h0.6M199.74 69.97h0.6M215.23 70.67h0.6M200.2 66.66h0.6M217.06 58.09h0.6M198.88 67.26h0.6M201.84 59.78h0.6M191.22 61.58h0.6M203.34 68.71h0.6M208.35 62.06h0.6M198.61 63.76h0.6M200.93 64.31h0.6M201.32 61.93h0.6M209.99 65.45h0.6M215.18 65.64h0.6M208.07 74.49h0.6M206.39 73.86h0.6M217.37 59.58h0.6M213.72 55.37h0.6M203.55 71.58h0.6M206.18 63.28h0.6M207.64 64.99h0.6M201.46 72.47h0.6M220.16 79.18h0.6M214.45 68.88h0.6M220.97 57.34h0.6M229.54 78.51h0.6M204.6 68.99h0.6M192.29 61.27h0.6M210.96 77.45h0.6M198.85 73.37h0.6M208.24 58.13h0.6M219.89 77.51h0.6M214.34 72.27h0.6M217.38 58.06h0.6M216.02 60.81h0.6M205.52 69.98h0.6M228.01 62.04h0.6M208.06 62.28h0.6M221.7 71.59h0.6" stroke="#000" stroke-opacity="0.38" stroke-width="0.6" fill="none"/><path d="M207.26 56.58h0.6M209.79 63.89h0.6M206.48 60.48h0.6M203.34 58.68h0.6M216.63 60.25h0.6M207.26 63.95h0.6M218.28 63.66h0.6M220.15 61.13h0.6M215.54 55.08h0.6M218.63 54.73h0.6M198.61 60.38h0.6M228.04 65.75h0.6M206.2 54.33h0.6M219.14 59.33h0.6M219.68 63.98h0.6M213.18 63.5h0.6M213.62 57.38h0.6M214.25 64.76h0.6M213.94 59.54h0.6M224.27 54.56h0.6M215.31 62.03h0.6M214.47 57.42h0.6M212.51 54.41h0.6M212.02 65.8h0.6M201.81 60.11h0.6M203.32 62.75h0.6M224.97 62.65h0.6M213.89 63.72h0.6M213.73 66.56h0.6M222.11 54.8h0.6M209.99 68.34h0.6M218.75 55.67h0.6M222.54 58.11h0.6M224.52 51.11h0.6M211.6 59.31h0.6M212.15 56.63h0.6M215.72 63.04h0.6M214.7 52.92h0.6M221.8 69.45h0.6M217.07 61.4h0.6M206.7 59.2h0.6M213.74 54.29h0.6M214.18 53.33h0.6M218.4 65.14h0.6M207.93 65.11h0.6M215.23 59.23h0.6M213.41 55.66h0.6M218.17 54.77h0.6M208.62 63.24h0.6M197.27 66.14h0.6M207.06 55.59h0.6M226.72 69.51h0.6M220.24 58.71h0.6M219.63 54.57h0.6M206.53 51.73h0.6M202 59.22h0.6M217.36 64.21h0.6M206.27 61.89h0.6M227.18 54.45h0.6M214.02 56.65h0.6M212.94 63.88h0.6M213.68 59.92h0.6M212.85 57.97h0.6M214.54 65.56h0.6M216.29 53.89h0.6M218.7 58.98h0.6M203.88 67.9h0.6M219.38 56.82h0.6M217.84 59.1h0.6M218.97 58.49h0.6M220.51 61.59h0.6M202.34 61.96h0.6M202.7 64.61h0.6M208.76 60.12h0.6M221.45 66.02h0.6M218.65 61.54h0.6M216.26 57.74h0.6M213.5 56.16h0.6M210.69 67.17h0.6M211.82 55.47h0.6M217.06 57.06h0.6M215.48 68.63h0.6M218.69 64.64h0.6M212.49 63.71h0.6M211.07 60.19h0.6M225.6 60.65h0.6M209.85 50.86h0.6M221.13 58.55h0.6M219.56 51.78h0.6M216.66 63.72h0.6M211.9 64.17h0.6M208.83 57.19h0.6M209.47 57.61h0.6M212.25 61.09h0.6M216.28 56.67h0.6M210.87 61.38h0.6M215.26 62.47h0.6M218.76 63.9h0.6M223.22 55.33h0.6M210.88 61.47h0.6M214.65 70.34h0.6M215.61 63.87h0.6M213.89 59.59h0.6M220.09 59.5h0.6M217.34 59.84h0.6M211.89 61.97h0.6M218.75 62.6h0.6M211.12 58.44h0.6M204.48 67.75h0.6M206.77 63.05h0.6M221.63 63.37h0.6M212.17 61.71h0.6M208.66 69.92h0.6M205.13 59.06h0.6M204.35 61.63h0.6M218.98 58.2h0.6M215.46 66.95h0.6M200.14 64.87h0.6M204.48 62.62h0.6M202.48 58.01h0.6M212 60.11h0.6M216.89 58.41h0.6M216.64 61.11h0.6M198.87 58.79h0.6M215.72 63.15h0.6M213.89 60.4h0.6M223.6 60.05h0.6M207.22 60.39h0.6M208.61 67.17h0.6M211.75 60.3h0.6M208.28 60.47h0.6M209.7 55.81h0.6M220.48 57.58h0.6M207.1 58.96h0.6M225.14 61.27h0.6M208.6 58.66h0.6M215.48 60.98h0.6M221.33 58.18h0.6M215.36 52.85h0.6M215.84 65.06h0.6M209.82 67.28h0.6M213.99 60.53h0.6M214.5 65.48h0.6M207.97 57.65h0.6M202.32 59.41h0.6M209 65.77h0.6M217.98 61.29h0.6M206.34 70.38h0.6M217.89 48.65h0.6M203.59 52.31h0.6M211.99 43.12h0.6M210.82 55.1h0.6M217.44 65.66h0.6M207.93 66.21h0.6M215.68 58.91h0.6M216.31 58.26h0.6M215.35 59.59h0.6M217.62 56.38h0.6M219.17 58.41h0.6M214.58 54.2h0.6M215.46 57.73h0.6M209 61.51h0.6M208.53 62.51h0.6M213.84 61.23h0.6M203.06 56.3h0.6M208.15 58.75h0.6M213.62 58.52h0.6M207.64 65.53h0.6M211.78 59.17h0.6M219.36 58.26h0.6M210.47 69.42h0.6M213.44 56.84h0.6M215.11 65.01h0.6M207.11 65.59h0.6M210.96 65.07h0.6M209.62 61.55h0.6" stroke="#000" stroke-opacity="0.35" stroke-width="0.6" fill="none"/><circle cx="198" cy="66.4" r="4.1" fill="url(#sph)" stroke="#111" stroke-width="1.2"/><clipPath id="c640861274"><path d="M201.2 66.64 C201.2 63.4 204.69 62.1 210.9 62.1 C217.11 62.1 220.6 62.96 220.6 65.99 C220.6 69.88 215.17 72.9 210.51 72.9 C205.08 72.9 201.2 70.2 201.2 66.64 Z"/></clipPath><path d="M201.2 66.64 C201.2 63.4 204.69 62.1 210.9 62.1 C217.11 62.1 220.6 62.96 220.6 65.99 C220.6 69.88 215.17 72.9 210.51 72.9 C205.08 72.9 201.2 70.2 201.2 66.64 Z" fill="#5e5e5e"/><path d="M205.47 61.1V73.9M207.38 61.1V73.9M209.91 61.1V73.9M212.41 61.1V73.9M214.86 61.1V73.9M216.93 61.1V73.9M219.46 61.1V73.9" stroke="#2a2a2a" stroke-width="0.8" clip-path="url(#c640861274)"/><path d="M201.2 66.64 C201.2 63.4 204.69 62.1 210.9 62.1 C217.11 62.1 220.6 62.96 220.6 65.99 C220.6 69.88 215.17 72.9 210.51 72.9 C205.08 72.9 201.2 70.2 201.2 66.64 Z" fill="none" stroke="#111" stroke-width="1.5"/><ellipse cx="63.55" cy="138.85" rx="19" ry="10.65" transform="rotate(0 63.55 138.85)" fill="#000" opacity="0.16" filter="url(#blur2)"/><path d="M59.67 143.83h0.7M74.39 134.28h0.7M66.29 133.26h0.7M54.72 137.91h0.7M61.29 147.08h0.7M55.4 133.66h0.7M72.41 134.57h0.7M54.88 134.48h0.7M52.56 137.53h0.7M74.09 144.33h0.7M64.65 129.92h0.7M49.92 134.66h0.7M58.19 134.54h0.7M64.91 132.36h0.7M78.32 138.23h0.7M77.61 137.01h0.7M62.05 133.91h0.7M53.81 139.31h0.7M48.88 132.72h0.7M75.22 139.02h0.7M73.61 138.16h0.7M56.53 134.83h0.7M66.92 132.87h0.7M59.68 146.4h0.7M78.46 140.33h0.7M77.16 133.98h0.7M54.68 143.18h0.7M68.53 141.76h0.7M68.65 146.24h0.7M47.02 136.46h0.7M47.55 137.26h0.7M60.2 144.13h0.7M61.72 144.58h0.7M65.06 144.76h0.7M55.43 134.55h0.7M74.17 143.55h0.7M66.95 132.58h0.7M46.44 139.99h0.7M56.57 136.32h0.7M78.93 139.25h0.7M78.57 137.08h0.7M57.54 131.85h0.7M66.77 144.85h0.7M78.03 139.46h0.7M77.11 139.45h0.7M68.16 146.83h0.7M74.25 142.54h0.7M54.57 140.18h0.7M77.53 142.27h0.7M57.58 135.95h0.7M45.68 135.76h0.7M65.78 132.77h0.7M76.71 139.32h0.7M69.61 133.61h0.7M51.39 140.62h0.7M75.41 134.88h0.7M54.84 137.58h0.7M52.22 138.53h0.7M59.63 144.23h0.7M66.37 130.79h0.7M57.23 133.83h0.7M77.36 135.99h0.7M55.94 138.13h0.7M76.53 139.97h0.7M73.61 145.62h0.7M73.36 144.85h0.7M76.99 140.22h0.7M52.39 134.72h0.7M49.94 134.38h0.7M64.62 131.97h0.7M52.42 137.69h0.7M53.17 140.26h0.7M56.36 133.64h0.7M47.66 136.57h0.7M66.32 132.48h0.7M63.8 134.25h0.7M66.6 131.84h0.7M52 141.77h0.7M74 134.07h0.7M52.96 139.81h0.7M59.39 139.81h0.7M58.67 144.81h0.7M72.64 133.9h0.7M60.38 144.26h0.7M59.88 145.39h0.7M75.8 144.7h0.7M57.17 140.51h0.7M50.77 132.62h0.7M77.18 135.75h0.7M45.95 134.93h0.7M62.04 134.41h0.7M75.04 135.3h0.7M77.59 136.89h0.7M64.18 140.6h0.7M67.58 134.52h0.7M47.6 138.23h0.7M72.8 135.22h0.7M66.67 142.27h0.7M64.29 132.15h0.7M68.18 144.58h0.7M53.44 134.54h0.7M73.27 135.12h0.7M55.79 142.67h0.7M77.96 138.66h0.7M53.66 135.3h0.7M51.01 135.68h0.7M75.33 143.74h0.7M53.57 141.09h0.7M60.55 135.65h0.7M53.75 138.1h0.7M58.64 132.22h0.7M50.17 139.52h0.7M52.91 139.11h0.7M59.87 142.69h0.7M47.6 137.38h0.7M47.56 137.9h0.7M48.11 139.36h0.7M75.08 146.15h0.7M55.79 137.81h0.7M54.95 134.43h0.7M49.25 138.74h0.7M60.84 146.35h0.7M55.25 140.85h0.7M47.46 133.39h0.7M52.03 139.13h0.7M54.82 141.52h0.7M50.59 133.14h0.7M75.54 137.29h0.7M54.61 139.15h0.7M64.88 133.08h0.7M76.93 136.04h0.7M65.86 144.83h0.7M59 133.72h0.7M55.76 140.45h0.7M66.58 134.54h0.7M55.09 141.17h0.7M62.4 132.61h0.7M55.98 132.89h0.7M46.42 134.52h0.7M66.04 132.91h0.7M77.07 138.68h0.7M56.22 138.97h0.7M50.97 132.58h0.7M68.38 145.85h0.7M46.92 140.69h0.7M56.67 141.03h0.7M75.11 139.45h0.7M50.12 135.49h0.7M67.17 133.06h0.7M74.47 140.45h0.7M47.37 134.88h0.7M74.35 140.81h0.7M76.52 143.04h0.7M46.6 134.73h0.7M48.8 136.51h0.7M61.61 132.21h0.7M76.83 139.6h0.7M61.5 130.89h0.7M55.8 141.4h0.7M58.62 144.16h0.7M60.72 145.38h0.7M73.25 143.26h0.7M71.89 133.34h0.7M70.32 142.1h0.7M68.34 144.82h0.7M65.66 145.91h0.7M67.83 144.84h0.7M69.59 132.31h0.7M52.3 139.6h0.7M61.08 145.39h0.7M56.32 136.35h0.7M69.75 145.56h0.7M71.44 135.28h0.7M47.34 140.08h0.7M48.06 136.28h0.7M55.78 139.37h0.7M46.56 134.65h0.7M65.77 145.85h0.7M50.13 138.65h0.7M76.32 140.22h0.7M61.68 133.6h0.7M68.61 133.69h0.7M51.6 131.54h0.7M75.51 140.56h0.7M64.48 145.69h0.7M68.8 134.28h0.7M45.86 134.98h0.7M59.4 143.26h0.7M56.29 136.31h0.7M47.26 139.87h0.7M67.83 144.33h0.7M54.06 136.24h0.7M58.16 133.92h0.7M58.45 133.64h0.7M76.17 140.21h0.7M60.9 132.21h0.7M55.73 139.89h0.7M64.8 145.13h0.7M73.83 138.12h0.7M72.66 137.04h0.7M50.19 140.63h0.7M54.98 138.42h0.7M49.36 139.86h0.7M76.77 137.62h0.7M57.69 135.67h0.7M49.87 136.68h0.7M76.21 135.72h0.7M64.48 145.17h0.7M51.63 139.25h0.7M70.56 132.56h0.7M75.17 136.25h0.7M70.92 134.12h0.7M66.45 145.27h0.7M75.66 138.26h0.7M66.56 133.27h0.7M65.27 135.06h0.7M62.28 147.42h0.7M51.33 133.95h0.7M55.49 137.7h0.7M75.09 143.88h0.7M71.71 135.58h0.7M72.01 137.5h0.7M66.55 145.07h0.7M46.66 137.62h0.7M50.35 134.24h0.7M77.39 142.45h0.7M56.3 137.5h0.7M65.61 146.35h0.7M55.51 136.53h0.7M49.23 133.5h0.7M50.61 134.92h0.7M68.31 146.89h0.7M62.98 146.72h0.7M55.33 136.44h0.7M50.49 140.05h0.7M60.9 142.31h0.7M53.32 137.1h0.7M56.36 143.39h0.7M55.54 139.91h0.7M60.65 145.67h0.7M59.58 142.13h0.7M74.64 136.34h0.7M65.72 144.15h0.7M76.36 136.51h0.7M62.67 130.6h0.7M58.41 143.25h0.7M50.06 135.28h0.7M66.75 133.56h0.7M69.43 144.64h0.7M64.65 146.02h0.7M55.55 137.73h0.7M78.59 139.6h0.7M72.66 142.95h0.7M67.63 143.74h0.7M53.93 138.13h0.7M74.81 135.95h0.7M59.21 144.4h0.7M77.99 135.75h0.7M74.81 134.66h0.7M72.52 136.15h0.7M56.09 137.42h0.7M53.06 133.24h0.7M73.39 142.19h0.7M63.53 134.27h0.7M50.52 138.68h0.7M55.45 136.34h0.7M63.33 133.39h0.7M68.88 132.43h0.7M57.19 143.38h0.7M59.04 134.51h0.7M70.17 146.34h0.7M55.96 141.44h0.7M52.82 136.34h0.7M53.05 133.3h0.7M51.75 139.66h0.7M62.42 133.56h0.7M77.88 142.17h0.7M53.76 134.78h0.7M46.62 136.69h0.7M61.96 132.22h0.7M74.28 137.32h0.7M74.21 143.03h0.7M56.06 135.83h0.7M63.38 145.98h0.7M56.8 134.45h0.7M72.28 133.51h0.7M75.82 136.9h0.7M65.28 145.96h0.7M77.72 139.7h0.7M74.09 135.45h0.7M67.48 132.51h0.7M58.09 144.2h0.7M49.49 139.57h0.7M51.44 135.43h0.7M60.11 133.68h0.7M76.33 140.6h0.7M69.21 145.82h0.7M55.81 141.66h0.7M76.53 140.51h0.7M70.37 131.19h0.7M54.73 135.14h0.7M67.36 132.1h0.7M60.4 143.04h0.7M64.4 143.71h0.7M76.87 135.07h0.7M69.96 142.89h0.7M69.24 145.33h0.7M51.78 134.09h0.7M62.08 146.14h0.7M51.96 141.15h0.7M58.06 142.08h0.7M50.82 137.11h0.7M75.58 136.53h0.7M54.81 141.8h0.7M59.6 131.45h0.7M49.12 134.46h0.7M78 139.17h0.7M54.25 137.55h0.7M76.16 135.99h0.7M75.19 134.41h0.7M66.13 131.31h0.7M52.9 136.4h0.7M54.92 138.8h0.7M52.77 133.14h0.7M59.57 133.14h0.7M57.4 135.86h0.7M72.77 140.74h0.7M55.3 143.05h0.7M53.32 137.17h0.7M51.87 134.74h0.7M69.78 132.8h0.7M54.72 138.02h0.7M57.31 143.07h0.7M75.7 134.5h0.7M53.82 137.6h0.7M52.7 136.58h0.7M75.55 143.59h0.7M54.77 139.99h0.7M55.27 138.71h0.7M75.43 143.76h0.7M48.15 139.3h0.7M77.28 141.58h0.7M54.27 133.85h0.7M53.84 132.56h0.7M74.43 143.11h0.7M52.25 139.82h0.7M57.22 136.21h0.7M75.7 140.13h0.7M46.94 140h0.7M45.96 134.27h0.7M77.43 134.39h0.7M72.26 143.11h0.7M47.37 138.11h0.7M50.38 137.82h0.7M78.08 137.53h0.7M53.18 137.7h0.7M54.55 140.04h0.7M67.11 136.48h0.7M52.34 133.19h0.7M60.36 142.95h0.7M57.37 137.46h0.7M69.42 134.3h0.7M49.67 137.61h0.7M56.65 138.76h0.7M76.16 134.43h0.7M76.04 140.52h0.7M51.22 135.99h0.7M53.53 137.39h0.7M63.84 132.65h0.7M52.33 137.88h0.7M55.95 142.97h0.7M70.31 135.25h0.7M75.79 142.06h0.7M52.91 133.05h0.7M64.74 133.02h0.7M45.94 136.14h0.7M63.32 146.94h0.7M53.34 134.06h0.7M56.21 135.31h0.7M69.64 132.38h0.7M79 137.5h0.7M63.6 132.73h0.7M75.41 137.57h0.7M52.09 139.3h0.7M76.48 136.75h0.7M53.4 141.93h0.7M46.43 136.05h0.7M54.34 137.96h0.7M45.69 137.56h0.7M75.69 138.67h0.7M64.94 142.67h0.7M70.74 135.92h0.7M46.11 137.65h0.7M66.36 133.63h0.7M48.71 140.41h0.7M67.57 131.84h0.7M66.67 145.48h0.7M73.83 146.04h0.7M71.94 132.68h0.7M54.46 140.28h0.7M55.9 142.92h0.7M77.99 137.55h0.7M71.26 144.57h0.7M77.37 137.58h0.7M76.19 138.84h0.7M62.24 132.69h0.7M53.52 134.75h0.7M52.15 139.58h0.7M65.44 146.21h0.7M70.2 146.03h0.7M71.24 131.2h0.7M75.3 137.64h0.7M48.47 141.44h0.7M66.68 132.45h0.7M57.81 142.02h0.7M59.33 141.43h0.7M68.76 130.31h0.7M72.93 141.91h0.7M74.42 137.79h0.7M73.14 143.65h0.7M75.38 137.51h0.7M53.64 132.19h0.7M47.28 133.31h0.7M50.85 133.14h0.7M49.72 133.01h0.7M59.92 143.68h0.7M55.52 141.23h0.7M50.93 138.36h0.7M60.09 133.82h0.7M55.37 135.8h0.7M68.08 133h0.7M76.16 140.01h0.7M48.8 136.92h0.7M75 143.83h0.7M61.76 132.92h0.7M70.21 145.38h0.7M57.5 145.34h0.7M56.03 137.32h0.7M74.2 136.09h0.7M61.99 134.08h0.7M49.83 135.83h0.7M55.7 135.69h0.7M65.63 131.97h0.7M54.22 138.7h0.7M76.46 137.24h0.7M58.13 143.66h0.7M52.17 131.63h0.7M60.21 143.62h0.7M57.3 141.48h0.7M47.72 133.69h0.7M70.08 142.78h0.7M71.53 140.89h0.7M71.75 146.46h0.7M54.27 137.35h0.7M53.58 140.99h0.7M74.76 136.26h0.7M77.35 136.16h0.7M55.59 140.75h0.7M59.33 133.24h0.7M49.69 134.33h0.7M53.18 138.57h0.7M59.27 133.56h0.7M48.44 131.02h0.7M63.22 132.4h0.7M74.44 132.95h0.7M56.32 134.21h0.7M75.37 141.45h0.7M74.64 134.2h0.7M54.6 137.42h0.7M50.81 135.09h0.7M60.91 144.47h0.7M75.33 141.49h0.7M54.27 134.44h0.7M62.42 133.25h0.7M52.2 139.4h0.7M74.52 141.33h0.7M59.3 133.14h0.7M58.28 137.12h0.7M61.77 135.44h0.7M67.89 134.27h0.7" stroke="#000" stroke-opacity="0.55" stroke-width="0.7" fill="none"/><path d="M54.4 133.2h0.7M50.71 138.57h0.7M50.43 145.44h0.7M80.03 134.26h0.7M71.06 136.04h0.7M76.87 132.28h0.7M52.65 132.03h0.7M72.63 129.94h0.7M56.9 132.67h0.7M72.45 130.06h0.7M77.14 138.35h0.7M80.12 137.1h0.7M50.58 140.88h0.7M75.28 145.96h0.7M65 128.1h0.7M73.36 137.1h0.7M58.87 144.07h0.7M48.65 136.9h0.7M49.17 139.97h0.7M52.06 134.21h0.7M50.68 129.76h0.7M55.1 137.36h0.7M63.42 144.07h0.7M61.51 143.39h0.7M81.97 135.33h0.7M50.99 141.21h0.7M68.72 132.79h0.7M48.39 143.75h0.7M47.97 135.79h0.7M59.62 133.94h0.7M53.69 136.67h0.7M72.96 140.88h0.7M50.38 137.65h0.7M60.62 137.56h0.7M55.35 145.07h0.7M57.64 137.05h0.7M58.9 133.27h0.7M48.81 134.99h0.7M51.12 143.13h0.7M79.7 147.51h0.7M75.16 134.52h0.7M56.58 145.6h0.7M67.02 132.57h0.7M81.8 142.58h0.7M51.42 129.07h0.7M73.43 138.31h0.7M61.17 133.44h0.7M50.66 130.91h0.7M53.03 141.76h0.7M52.38 137.43h0.7M52.13 134.66h0.7M50.11 137.65h0.7M62.58 144.2h0.7M79.81 142.39h0.7M54.69 132.39h0.7M75.54 139.53h0.7M57.91 134.18h0.7M61.67 144.3h0.7M70.77 131.7h0.7M47.06 143.13h0.7M76.56 139.81h0.7M73.76 143.77h0.7M64.81 129.68h0.7M66.18 150.66h0.7M57.78 143.75h0.7M57.15 144.75h0.7M64.3 141.1h0.7M60.49 142.95h0.7M75.76 137.67h0.7M75.82 140.62h0.7M56.94 134.22h0.7M44.73 129.05h0.7M59.55 135.38h0.7M59.76 133.62h0.7M53.24 131.43h0.7M60.66 132.71h0.7M44.72 135.44h0.7M69.85 128.4h0.7M71.69 140.44h0.7M71.83 133.5h0.7M69.49 135.53h0.7M69.95 147.03h0.7M76.42 138.08h0.7M56.7 140.34h0.7M60.81 138.78h0.7M55.07 134.26h0.7M55.01 139.57h0.7M68.3 134.17h0.7M57.61 137.06h0.7M74.87 137.22h0.7M49.95 132.33h0.7M48.59 140.76h0.7M69.81 136.63h0.7M53.13 138.28h0.7M73.34 145.86h0.7M74.87 136.47h0.7M75.12 135.68h0.7M66.22 134.29h0.7M54.88 136.32h0.7M52.39 132.9h0.7M63.52 146.3h0.7M76.06 131.74h0.7M64.51 146.4h0.7M41.21 138.11h0.7M51.86 142.26h0.7M75.4 133.75h0.7M56.77 126.44h0.7M49.33 132.18h0.7M75.53 138.05h0.7M48.28 134.02h0.7M46.3 138.31h0.7M53.85 140.7h0.7M49.16 135.42h0.7M71.75 140.43h0.7M75.44 139.26h0.7M60.79 132.91h0.7M52.91 135.85h0.7M76.52 138.26h0.7M63.73 126.27h0.7M55.41 131.65h0.7M51.62 138.53h0.7M52.13 136.22h0.7M47.82 133.89h0.7M58.65 136.44h0.7M49.56 129.71h0.7M58.37 133.91h0.7M52.99 141.52h0.7M63.79 131.53h0.7M73.29 128.97h0.7M54.34 133.56h0.7M56.19 134.07h0.7M62.58 146.11h0.7M72.4 141.79h0.7M57.84 149.95h0.7M49.79 141.88h0.7M56.98 135.26h0.7M69.65 146.4h0.7M76.42 131.14h0.7M75.14 141.85h0.7M79.94 141.57h0.7M76.42 137.8h0.7M49.56 132.72h0.7M50.83 138.34h0.7M63.27 146.61h0.7M71.37 138.95h0.7M65.26 129.53h0.7M47.18 134.61h0.7M77.59 137.05h0.7M66.89 132.03h0.7M62.77 132.04h0.7M66.95 147.78h0.7M58.93 145.77h0.7M77.45 135.43h0.7M61.75 142.6h0.7M80.4 143.53h0.7M54.52 132.79h0.7M78.94 137.21h0.7M71.43 129.83h0.7M56.83 139.81h0.7M73.91 137h0.7M72.05 143.79h0.7M54.22 142.11h0.7M72.68 135.86h0.7M53.45 139.54h0.7M54.02 136.27h0.7M70.79 129.44h0.7M61.15 144.91h0.7M51.2 139.78h0.7M56.95 129.17h0.7M79.21 132.69h0.7M70.94 142.87h0.7M82.74 136.64h0.7M55.61 135.72h0.7M65.97 145.01h0.7M57.41 136.27h0.7M50.07 139.88h0.7M62.08 135.42h0.7M54.71 134.11h0.7M55.79 135.15h0.7M74.08 139.71h0.7M48.36 140.39h0.7M70.4 146.8h0.7M56.44 143.92h0.7M61.11 149.51h0.7M68.09 141.92h0.7M68.64 132.91h0.7M77.41 143.36h0.7M50.01 131.92h0.7M58.29 132.86h0.7M48.17 141.26h0.7M72.73 139.31h0.7M77.73 132.09h0.7M50.5 137.49h0.7M75.1 142.48h0.7M59.02 149h0.7M74.06 139.79h0.7M50.4 135.88h0.7M66.71 132.56h0.7M75.05 137.61h0.7M54.05 133.26h0.7M45.92 141.71h0.7M53.66 135.47h0.7M76.2 139.75h0.7M72.84 135.52h0.7M72.85 141.22h0.7M60.15 147.72h0.7M56.53 135.28h0.7M71.66 128.86h0.7M57.8 142.01h0.7M74.55 142.05h0.7M52.99 135.86h0.7M71.34 137.18h0.7M70.51 145.81h0.7M49.08 140.25h0.7M61.12 136.81h0.7M73.6 137.12h0.7M62.12 132.38h0.7M66.12 147.85h0.7M45.47 139.25h0.7M84.47 138.93h0.7M48.68 140.19h0.7M53.6 136.23h0.7M78.32 146.68h0.7M78.49 135.49h0.7M50.5 135.18h0.7M56.98 133.99h0.7M69.12 140.71h0.7M59.77 146.5h0.7M78.75 139.06h0.7M72.84 143.62h0.7M43.16 135.74h0.7M59.75 140.1h0.7M66.52 141.01h0.7M52.28 137h0.7M51.41 134.8h0.7M51.31 138.18h0.7M54.9 140.26h0.7M73.55 139.88h0.7M43.84 138.23h0.7M55.94 130.53h0.7M48.61 132.57h0.7M55.03 138.9h0.7M52.39 137.97h0.7M49.92 136.15h0.7M50.77 143.88h0.7M58.7 132.77h0.7M49.75 134.39h0.7M53.41 147.85h0.7M71.59 142.52h0.7M49.19 142.25h0.7M55.48 138.46h0.7M60.93 139.82h0.7M65.9 134.05h0.7M64.64 129.2h0.7M71.89 136.82h0.7M51.56 146.06h0.7M72.04 132.48h0.7M52.59 131.85h0.7M67.81 147.96h0.7M77.62 135.14h0.7M71.76 132.13h0.7M62.39 144.66h0.7M73.59 144.22h0.7M72.07 134.49h0.7M53.37 129.65h0.7M76.27 136.46h0.7M72.25 139.97h0.7M65.66 142.67h0.7M69.66 132.76h0.7M61.63 146.84h0.7M53.14 135.55h0.7M50.58 138.86h0.7M74.04 139.8h0.7M66.4 143.28h0.7M73.77 144.39h0.7M47.63 139.06h0.7M73.84 135.8h0.7M68.45 150.09h0.7M78.03 135.38h0.7M76.43 140.04h0.7M59.37 138.7h0.7M57.16 135.88h0.7M52.62 131.56h0.7M78.83 136.66h0.7M62.61 136.89h0.7M51.07 139.58h0.7M52.35 137.1h0.7M45.3 134.2h0.7M61.13 144.51h0.7M54.36 141.93h0.7M79.59 140.02h0.7M45.04 138.25h0.7M78.38 139.76h0.7M52.3 140.49h0.7M57.86 128.02h0.7M58.64 140.45h0.7M73.48 139.32h0.7M77.74 138.23h0.7M70.49 141.93h0.7M52.59 139.82h0.7M57.18 136.6h0.7M57.75 139.45h0.7M53.48 142.44h0.7M60.67 147.98h0.7M54.86 134.22h0.7M74.77 142.35h0.7M77.51 135.04h0.7M67.02 142.65h0.7M53.5 134.79h0.7M45.02 132.78h0.7M80.66 140.56h0.7M58.88 144.39h0.7M45.67 135.47h0.7M50.56 139.36h0.7M60.25 140.75h0.7M75.49 143.99h0.7M81.8 132.14h0.7M49.08 126.79h0.7M49.72 138.57h0.7M70.32 143.37h0.7M53.6 139.24h0.7M62.26 140.17h0.7M73.68 139.75h0.7M54.96 133.38h0.7M70.33 133.62h0.7M48.48 135.11h0.7M68.24 148.87h0.7M52.13 142.89h0.7M70.01 132.22h0.7M68.13 145.44h0.7M73.08 137.78h0.7M55.38 140.68h0.7M73.87 142.55h0.7M52.76 131.77h0.7M71.86 131.53h0.7M77.42 149.56h0.7M74.04 139h0.7M70.24 144.59h0.7M60.77 136.51h0.7M66.05 134.03h0.7M63.86 133.91h0.7M49.79 137.77h0.7M73.62 132.58h0.7M45.96 133.26h0.7M68.26 129.7h0.7M61.6 129.92h0.7M71.6 134.02h0.7M58.57 138.41h0.7M49.15 138.64h0.7M54.58 139.17h0.7M45.23 143.14h0.7M66.46 145.57h0.7M62.54 138.67h0.7M68.16 145.33h0.7M58.51 139.31h0.7M72.41 131.61h0.7M44.39 135.09h0.7M69.84 132.23h0.7M53.65 147.07h0.7M62.32 140.87h0.7M56.08 142.31h0.7M51.26 141.16h0.7M65.79 139.69h0.7M56.39 140.75h0.7M76.8 141h0.7M57.75 142.5h0.7M46.45 139.15h0.7M56.92 132.98h0.7M51.89 142.77h0.7M68.27 128.47h0.7M49.11 139.76h0.7M64.4 134.66h0.7M62.35 150.32h0.7M68.46 137.52h0.7M64.27 132.23h0.7M66.45 141.71h0.7M52.73 139.74h0.7M66.75 129.11h0.7M60.8 142.45h0.7M48.89 129.46h0.7M74.42 141.35h0.7M78.76 144.56h0.7M73.96 141.8h0.7M46.35 133.73h0.7M56.2 141.68h0.7M63.71 131.87h0.7M78.34 139.11h0.7M76.15 134.84h0.7M72.68 145.61h0.7M68.3 132.28h0.7M55.66 133.86h0.7M60.39 135.74h0.7M78.48 142.34h0.7M63.29 141.13h0.7M77.84 138.73h0.7M75.63 144.81h0.7M58.66 134.13h0.7M48.85 136.85h0.7M68.48 138.65h0.7M56.58 133.34h0.7M64.54 138.05h0.7M52.24 139.97h0.7M58.17 130.62h0.7M47.75 144.06h0.7M76.13 136.6h0.7M75.8 140.18h0.7M70.45 133.65h0.7M51.16 136.4h0.7M52.78 129.11h0.7M49.29 136.54h0.7M56.53 134.03h0.7M53.32 140.37h0.7M52.46 137.93h0.7M59.53 132.65h0.7M56.75 138.05h0.7M77.85 137.8h0.7M64.99 135.89h0.7M50.71 133.32h0.7M73.86 140.03h0.7" stroke="#000" stroke-opacity="0.45" stroke-width="0.7" fill="none"/><path d="M52.92 129.17h0.6M48.28 134.58h0.6M63.43 137.24h0.6M49.07 135.36h0.6M68.06 137.41h0.6M78.16 144.62h0.6M56 129.04h0.6M62.32 135.58h0.6M74.47 146.57h0.6M65.87 147.09h0.6M53.91 143.64h0.6M67.75 127.66h0.6M51.5 145.6h0.6M52.07 133.76h0.6M49.31 141.58h0.6M48.52 138.86h0.6M50.28 126.68h0.6M44.48 137.9h0.6M76.63 134.05h0.6M54.24 133.55h0.6M55.05 140.98h0.6M48.37 128.09h0.6M66.48 129.75h0.6M52.46 144.13h0.6M66.02 141h0.6M45.38 143.52h0.6M48.39 138.2h0.6M75.55 137.98h0.6M65.41 151.58h0.6M69.76 137.11h0.6M74.75 144.46h0.6M45.79 142.82h0.6M57.68 135.1h0.6M63.72 143.48h0.6M73.43 134.04h0.6M72.01 129.56h0.6M68.54 147.1h0.6M71.46 146.21h0.6M58.2 131.73h0.6M68.47 136.46h0.6M54.51 143.22h0.6M70.53 129.14h0.6M61.71 135.21h0.6M61.42 138.74h0.6M45.08 132.31h0.6M68.71 137.62h0.6M43.42 141.33h0.6M74.99 148.34h0.6M69.74 140.38h0.6M56.47 131.35h0.6M69.06 132.97h0.6M54.78 138.74h0.6M59.93 144.97h0.6M60.42 137.62h0.6M62.44 138.95h0.6M72.36 150.52h0.6M42.87 137.5h0.6M61.92 130.52h0.6M50.13 128.48h0.6M61.82 134.1h0.6M62.58 135.73h0.6M70.29 141.44h0.6M47.85 142.98h0.6M64.17 137.77h0.6M63.04 123.46h0.6M74.96 131.49h0.6M60.52 133.96h0.6M53.44 134.61h0.6M61.96 138.23h0.6M67.01 133.71h0.6M61.14 137.28h0.6M66.21 142.4h0.6M66.44 139.4h0.6M67.9 142.07h0.6M43.77 139.36h0.6M64.86 141.84h0.6M57.95 127.91h0.6M48.18 139.09h0.6M52.8 135.07h0.6M53.74 124.44h0.6M50.6 144.56h0.6M58.48 138.61h0.6M46.17 135.29h0.6M47.84 143.22h0.6M57.26 133.42h0.6M66.02 143.76h0.6M68.6 142.04h0.6M66.84 137.22h0.6M68.84 145.06h0.6M68.31 145.64h0.6M59.48 128.66h0.6M73.69 123.88h0.6M55.08 135.39h0.6M63.06 135.71h0.6M67.88 140.35h0.6M61.82 145.94h0.6M54.63 143.38h0.6M79.17 136.17h0.6M79.88 129.82h0.6M55.89 134.91h0.6M72.21 130.72h0.6M50.72 139.25h0.6M76.84 128.54h0.6M44.83 148h0.6M50.52 130.53h0.6M69.21 126.44h0.6M59.39 134.56h0.6M47.19 138.61h0.6M70.12 126.27h0.6M65.97 129.19h0.6M56.02 134.63h0.6M57.68 149.58h0.6M45.56 140.68h0.6M62.85 141.77h0.6M61.52 136.77h0.6M79.43 129.85h0.6M79.22 131.34h0.6M52.2 132.05h0.6M56.87 142.88h0.6M53.79 135.28h0.6M58.65 135.97h0.6M61.18 139.29h0.6M78.46 145.57h0.6M80.45 138.63h0.6M62.89 140.04h0.6M55.42 138.06h0.6M77.55 138.8h0.6M49.25 134.33h0.6M57.91 137.48h0.6M65.84 126.91h0.6M57.73 128.11h0.6M67.7 133.38h0.6M61.36 127.49h0.6M80.56 135.3h0.6M58.76 136.94h0.6M75.16 141.31h0.6M53.48 139.89h0.6M50.8 132.73h0.6M39.23 144.04h0.6M55.2 144.4h0.6M70.7 130.19h0.6M59.02 151.02h0.6M58.18 149.25h0.6M64.34 133h0.6M49.37 130.5h0.6M68.32 136.84h0.6M66.09 143.25h0.6M46.55 132.64h0.6M57.65 144.81h0.6M64.37 137.72h0.6M66.61 150.09h0.6M58.14 149.66h0.6M56.67 131.11h0.6M54.19 132.06h0.6M69.2 131.92h0.6M47.49 137.38h0.6M55.16 128.79h0.6M73.23 133.37h0.6M41.68 138.45h0.6M43.67 125.79h0.6M71.46 136.33h0.6M75.34 139.63h0.6M76.06 136.27h0.6M65.35 131.92h0.6M59.69 140h0.6M74.65 146.47h0.6M60.55 144.13h0.6M76.36 140.36h0.6M69.62 138.9h0.6M48.56 127.76h0.6M59.77 142.84h0.6M62.85 138.01h0.6M64.05 138.36h0.6M76.02 135.51h0.6M60.54 141.15h0.6M45.71 131.38h0.6M69.64 149.51h0.6M45.95 131.72h0.6M51.08 139.05h0.6M47.28 140.67h0.6M57.9 143.39h0.6M66.83 136.82h0.6M65.93 146.83h0.6M62.36 147.46h0.6M81.06 126.86h0.6M72.69 147.38h0.6M51.79 136.01h0.6M46.68 142.03h0.6M47.6 136.62h0.6M46.51 138.34h0.6M47.04 136.56h0.6M39.24 135.42h0.6M73.59 143h0.6M75.54 146.79h0.6M63.96 138.24h0.6M73.91 140.72h0.6M67.98 137.76h0.6M63.91 140.64h0.6M75.49 142.92h0.6M77.87 131.98h0.6M73.5 141.35h0.6M57.88 144.67h0.6M81.16 138.4h0.6M70.35 134.1h0.6M50.23 120.66h0.6M61.98 135.34h0.6M63.5 136.56h0.6M43.46 140.6h0.6M50.96 131.78h0.6M54.8 142.41h0.6M44.38 151.46h0.6M67.03 139h0.6M70.7 135.34h0.6M40.24 132.8h0.6M66.6 138.61h0.6M57.08 134.99h0.6M70.33 135.85h0.6M48.43 127.57h0.6" stroke="#000" stroke-opacity="0.38" stroke-width="0.6" fill="none"/><path d="M71.53 134.9h0.6M74.26 127.95h0.6M59.67 127.05h0.6M75.59 134.13h0.6M66.94 127.37h0.6M76.48 134.31h0.6M72.94 124.53h0.6M63.97 129h0.6M83.59 131.29h0.6M57.83 128.89h0.6M74.87 124.16h0.6M67.09 130.56h0.6M57.04 128.57h0.6M53.74 131.04h0.6M60.37 125.09h0.6M60.96 134.12h0.6M65.88 133.38h0.6M66.82 126.4h0.6M75.47 130.95h0.6M77.42 133.69h0.6M75.95 130.14h0.6M57.29 129.92h0.6M58.65 129.26h0.6M67.58 134.17h0.6M74.23 131.1h0.6M68.75 128.31h0.6M66.37 139.27h0.6M70.46 130.24h0.6M68.92 129.3h0.6M72.82 128.52h0.6M67.47 132.65h0.6M76.93 128.01h0.6M71.08 133.3h0.6M57.74 137.21h0.6M73.59 133.04h0.6M63.71 120.25h0.6M67.7 130.23h0.6M67.7 134.12h0.6M62.41 136.81h0.6M66.5 126.42h0.6M58.14 128.86h0.6M61 140.78h0.6M47.5 132.41h0.6M68.55 130.25h0.6M64.55 132.23h0.6M74 137.91h0.6M65.68 132.7h0.6M76.53 130.79h0.6M75.82 131.13h0.6M74.47 130.81h0.6M69.41 136.05h0.6M66.79 132.77h0.6M61.92 131.05h0.6M67.12 124.98h0.6M71.62 127.23h0.6M84.5 133.43h0.6M73.63 132.05h0.6M62.65 134.29h0.6M63.18 142.1h0.6M67.46 134.74h0.6M76.74 134.85h0.6M60.01 129.05h0.6M66.3 131.56h0.6M58.63 133.52h0.6M59.88 138.13h0.6M68.02 136.81h0.6M75.65 127.36h0.6M77.11 139.07h0.6M76.73 128.21h0.6M64.87 127.59h0.6M79.23 128.69h0.6M60.95 132.86h0.6M77.1 128.13h0.6M68.03 133.23h0.6M74.81 128.71h0.6M65.8 127.15h0.6M55.11 143.92h0.6M71.36 129.75h0.6M66.48 131.53h0.6M66.89 134.89h0.6M55.57 130.61h0.6M59.27 128.47h0.6M64.81 130.97h0.6M70.99 125.84h0.6M68.12 132.92h0.6M66.69 132.44h0.6M56.81 130.76h0.6M77.8 126.94h0.6M61.73 131.23h0.6M55.81 135.05h0.6M82.37 137.16h0.6M60.42 133.04h0.6M81.5 126.85h0.6M77 120.09h0.6M65.33 133.87h0.6M59.14 130.56h0.6M65.27 136.08h0.6M70.55 123.48h0.6M73.39 132.48h0.6M78.05 132.75h0.6M79.91 134.62h0.6M58.47 128.27h0.6M61.58 129.65h0.6M66.42 133.53h0.6M70.71 126.5h0.6M62.53 126.28h0.6M59.46 144.57h0.6M64.12 129.03h0.6M70.16 133.72h0.6M61.78 137.08h0.6" stroke="#000" stroke-opacity="0.35" stroke-width="0.6" fill="none"/><circle cx="50.6" cy="137" r="3.5" fill="url(#sph)" stroke="#111" stroke-width="1.2"/><clipPath id="c841020752"><path d="M54.5 137.95 C54.5 134.56 58.48 133.2 65.55 133.2 C72.62 133.2 76.6 134.1 76.6 137.27 C76.6 141.34 70.41 144.5 65.11 144.5 C58.92 144.5 54.5 141.68 54.5 137.95 Z"/></clipPath><path d="M54.5 137.95 C54.5 134.56 58.48 133.2 65.55 133.2 C72.62 133.2 76.6 134.1 76.6 137.27 C76.6 141.34 70.41 144.5 65.11 144.5 C58.92 144.5 54.5 141.68 54.5 137.95 Z" fill="#5e5e5e"/><path d="M59.36 132.2V145.5M61.53 132.2V145.5M64.01 132.2V145.5M66.03 132.2V145.5M68.56 132.2V145.5M70.86 132.2V145.5M73.14 132.2V145.5M75.11 132.2V145.5M77.25 132.2V145.5" stroke="#2a2a2a" stroke-width="0.8" clip-path="url(#c841020752)"/><path d="M54.5 137.95 C54.5 134.56 58.48 133.2 65.55 133.2 C72.62 133.2 76.6 134.1 76.6 137.27 C76.6 141.34 70.41 144.5 65.11 144.5 C58.92 144.5 54.5 141.68 54.5 137.95 Z" fill="none" stroke="#111" stroke-width="1.5"/><ellipse cx="134" cy="128" rx="12" ry="10" transform="rotate(-35 134 128)" fill="#000" opacity="0.12" filter="url(#blur2)"/><path d="M144.33 114.97h0.7M129.99 129.44h0.7M132.02 122.51h0.7M118.66 140.75h0.7M145.12 117.34h0.7M140.95 121.75h0.7M123.2 142.47h0.7M143.77 121.13h0.7M129.02 122.98h0.7M142.51 122.6h0.7M143.85 116.86h0.7M129.68 121.88h0.7M129.36 135.73h0.7M149.01 121.07h0.7M141.49 119.47h0.7M131.77 117.57h0.7M142.69 114.77h0.7M132.15 124.33h0.7M138.02 117.79h0.7M125.79 129.05h0.7M127.5 141.91h0.7M128.9 133.1h0.7M139.9 121.86h0.7M130.43 119.16h0.7M142.92 119.08h0.7M131.32 122.94h0.7M131.68 128.87h0.7M133.67 123.36h0.7M124.44 128.9h0.7M130.77 123.76h0.7M128.69 121.03h0.7M127.36 141.42h0.7M144.27 120.52h0.7M131.33 139.92h0.7M144.81 115.3h0.7M121.44 137.87h0.7M130.53 132.08h0.7M145.78 121.04h0.7M135.06 116.29h0.7M143.14 119.61h0.7M132.71 123.92h0.7M148.2 119.76h0.7M127.62 132.71h0.7M141.07 116.38h0.7M134.66 120.13h0.7M132.37 116.24h0.7M146.43 120.56h0.7M145.04 118.51h0.7M129.91 134.98h0.7M141.29 124.44h0.7M143.95 121.23h0.7M130.31 120.3h0.7M144.52 114.43h0.7M130.8 118.88h0.7M150.25 119.21h0.7M126.84 124.48h0.7M143.96 121.92h0.7M146.04 117.78h0.7M137.06 122.68h0.7M127.87 128.44h0.7M146.08 119.49h0.7M126.96 127.23h0.7M129.92 133.23h0.7M147.37 118.4h0.7M145.13 119.14h0.7M127.34 125.18h0.7M141.52 121.51h0.7M120.37 139.16h0.7M135.3 115.05h0.7M137.53 121.51h0.7M135.63 117.02h0.7M128.76 133.25h0.7M144.06 119.38h0.7M143.63 120.69h0.7M147.63 117.47h0.7M143.01 122.98h0.7M129.57 126.44h0.7M137.09 117.22h0.7M141.38 120.17h0.7M133.47 121.41h0.7M127.75 115.14h0.7M138.06 121.26h0.7M126.4 122.63h0.7M144.45 115.05h0.7M145.14 119.52h0.7M140.91 121.32h0.7M141.9 116.13h0.7M140.87 120.84h0.7M120.4 136.75h0.7M123.31 134.57h0.7M135.16 118.59h0.7M143.38 120.56h0.7M134.97 123.69h0.7M142 118.37h0.7M127.15 143.16h0.7M128.52 132h0.7M129.96 138.92h0.7M134.68 123.21h0.7M142.75 121.53h0.7M125.15 141.92h0.7M132.56 121.93h0.7M131.54 127.36h0.7M121.99 142.9h0.7M129.97 121.83h0.7M128.93 135.89h0.7M140.85 114.26h0.7M126.23 135.85h0.7M141.08 120.33h0.7M133.09 117.26h0.7M146.51 120.97h0.7M124.29 142.43h0.7M120.35 136.73h0.7M146.57 120.87h0.7M143.97 120.53h0.7M128.37 141.44h0.7M128.29 134.56h0.7M131.43 135.25h0.7M132.43 127.99h0.7M141.65 121.72h0.7M141.67 116.59h0.7M125.62 125.65h0.7M132.72 122.74h0.7M123.39 141.08h0.7M123.25 131.94h0.7M131.62 142.83h0.7M121.55 137.65h0.7M146.24 122.6h0.7M128.8 129.81h0.7M143.19 118.93h0.7M128.48 120.9h0.7M129.59 121.8h0.7M119.73 138.23h0.7M122.32 131.85h0.7M147.99 121.31h0.7M143 122.05h0.7M142.89 119.79h0.7M132.41 121.25h0.7M144.74 119.61h0.7M127.82 124.46h0.7M136.49 121.65h0.7M136.96 123.23h0.7M133.79 115.55h0.7M137.9 115.98h0.7M130.86 118.62h0.7M130.94 127.4h0.7M144.35 116.93h0.7M133.45 118.07h0.7M140.72 123.31h0.7M131.4 120.56h0.7M141.63 119.24h0.7M129.24 137.56h0.7M135.67 121.19h0.7M125.14 145.01h0.7M129.76 142.75h0.7M137.24 121.61h0.7M130.38 121.28h0.7M122.28 140.72h0.7M146.38 119.98h0.7M135.83 116.42h0.7M128.62 118.03h0.7M126.04 144.63h0.7M147.21 116.17h0.7M139.31 117.65h0.7M143.95 116.28h0.7M136.62 118.32h0.7M131.19 122.48h0.7M122.28 127.23h0.7M142.56 115.09h0.7M123.57 132.67h0.7M127.35 122.72h0.7M143.56 118.61h0.7M143.51 126.05h0.7M131.25 121.38h0.7M135.17 123.05h0.7M137.77 124.69h0.7M131.71 129.36h0.7M133.39 120.7h0.7M129.59 139.74h0.7M135.28 121.9h0.7M136.75 114.9h0.7M127.49 143.94h0.7M141.94 121.76h0.7M122.39 133.92h0.7M144.54 120.38h0.7M133.42 118.99h0.7M127.14 143.66h0.7M130.2 122.11h0.7M127.73 143.5h0.7M147.25 119.38h0.7M125.93 130.67h0.7M126.96 129.19h0.7M130.55 119.01h0.7M119.04 136.54h0.7M132.15 136.6h0.7M144 118.05h0.7M130.28 116.85h0.7M134.78 121.56h0.7M145.36 120.36h0.7M147.37 120.72h0.7M131.22 115.07h0.7M121.45 142.09h0.7M142.42 119.16h0.7M134.83 126.81h0.7M122.73 133.42h0.7M145.53 114.21h0.7M142.47 116.92h0.7M143.27 121.71h0.7M130.29 127.14h0.7M145.64 121.49h0.7M138.72 122.49h0.7M126.96 138.03h0.7M129.83 137.96h0.7M143.3 120.21h0.7M131.28 133.02h0.7M136.78 115.42h0.7M128.43 133.91h0.7M142.16 115.87h0.7M133.78 120.47h0.7M128.97 144.08h0.7M122.67 136.13h0.7M145.93 119.72h0.7M129.19 129.5h0.7M130.79 129.67h0.7M143.51 116.91h0.7M127.42 130.84h0.7M131 117.3h0.7M140.62 119.41h0.7M121.35 135.87h0.7M144.68 117.49h0.7M133.68 121.49h0.7M129.31 133.41h0.7M129.46 128.88h0.7M143.17 119.62h0.7M140.98 123.81h0.7M131.77 126.12h0.7M127.05 143.26h0.7M126.7 130.74h0.7M119.23 137.46h0.7M142.08 116.65h0.7M144.06 118.1h0.7M132.16 127.5h0.7M132.36 126.87h0.7M141.34 116.7h0.7M128.98 141.12h0.7M132.78 121.89h0.7M122.98 140.98h0.7M147.45 120.16h0.7M131.84 118.02h0.7M120.72 139.89h0.7M144.59 117.08h0.7M128.73 127.5h0.7M142.31 120.21h0.7M144.2 117.12h0.7M120.12 144.63h0.7M134.35 117.66h0.7M149.18 121.35h0.7M122.67 135.66h0.7M128.49 120.15h0.7M139.42 116.91h0.7M128 126.28h0.7M122.36 135.93h0.7M123.91 131.61h0.7M132.31 123.93h0.7M124.82 132.4h0.7M127.41 144.54h0.7M120.97 134.86h0.7M141.27 117.17h0.7M144.04 122.02h0.7M131.25 121.48h0.7M126.72 142.87h0.7M145.05 119.56h0.7M141.96 118.74h0.7M117.88 141.31h0.7M129.2 130.52h0.7M142.97 117.78h0.7M130.58 120.61h0.7M129.9 121.44h0.7M143.33 119.58h0.7M139.82 122.94h0.7M142.23 120.6h0.7M129.87 142.35h0.7M141.4 117.51h0.7M121.94 133.28h0.7M129.43 132.37h0.7M132.05 136.27h0.7M130.26 120.91h0.7M147.81 122.34h0.7M149.56 119.33h0.7M140.8 123.35h0.7M129.61 126.99h0.7M128.86 133.6h0.7M129.18 134.38h0.7M130.63 133.4h0.7M130.97 121.4h0.7M129.48 120.61h0.7M130.54 121.37h0.7M130.27 137.66h0.7M132.87 122.29h0.7M133.6 122.15h0.7M141.93 119.52h0.7M144.29 119.44h0.7M144.85 119.86h0.7M133.1 117.67h0.7M130.54 128.34h0.7M129.01 145.63h0.7M130.43 138.26h0.7M127.57 142.69h0.7M129.44 121.98h0.7M130.44 138.75h0.7M131.65 136.14h0.7M132.02 117.92h0.7M141.55 124.76h0.7M129.12 120.44h0.7M146.46 122.44h0.7M130.44 131.47h0.7M132.31 122.6h0.7M122.02 138.38h0.7M135.36 115.67h0.7M128.22 133h0.7M144.38 119.3h0.7M134.24 123.08h0.7M122.23 134.42h0.7M143.08 116.21h0.7M144.32 118.06h0.7M131.18 120.13h0.7M143.8 118.98h0.7M130.97 120.51h0.7M118.64 136.27h0.7M146.08 116.45h0.7M120.41 138.43h0.7M121.48 134.25h0.7M126.39 145.25h0.7M130.56 118.28h0.7M134.27 121.29h0.7M128.82 119.08h0.7M129.54 119.11h0.7M137.8 125.63h0.7M132.19 118.65h0.7M126.05 143.33h0.7M122.15 132.89h0.7M142.53 116.73h0.7M130.86 118.33h0.7M132.15 128.35h0.7M128.08 125.28h0.7M130.8 118.6h0.7M135.49 121.99h0.7M119.91 133.05h0.7M147.12 117.1h0.7M141.12 120.17h0.7M129.44 121.35h0.7M131.52 127.22h0.7M144.66 118.87h0.7M118.6 134.22h0.7M130.22 122.23h0.7M127.48 123.48h0.7M129.7 141.3h0.7M125.76 127.11h0.7M127.21 137.99h0.7M132.85 118.31h0.7M143.48 117.83h0.7M138.84 119.6h0.7M141.23 119.24h0.7M123.91 142.39h0.7M125.77 130.12h0.7M140.79 115.43h0.7M120.59 145.38h0.7M122.26 133.68h0.7M127.39 125.76h0.7M143.99 121.4h0.7M119.94 137.33h0.7M124.87 132.44h0.7M141.49 114.84h0.7M134.13 122.08h0.7M127.31 143.05h0.7M144.46 117.4h0.7M131.04 121.39h0.7M121.1 137.24h0.7M129.42 125.38h0.7M125.81 132.24h0.7M144.12 120.3h0.7M137.28 118.57h0.7M129.02 144h0.7M142.86 122.57h0.7M145.59 122.54h0.7M143.67 117.59h0.7M131.47 123.51h0.7M131.55 145.53h0.7M119.81 141.25h0.7M137.03 115.59h0.7M142.52 116.94h0.7M145.75 118.87h0.7M129.62 117.83h0.7M140.67 121.65h0.7M148.88 120.38h0.7M143.16 121.03h0.7M123.71 131.79h0.7M121.45 135.64h0.7M147.2 116.22h0.7M132.56 127.99h0.7M142.48 118.95h0.7M137.46 117.52h0.7M121.06 143.29h0.7M135.41 121.93h0.7M128.62 132.73h0.7M126.04 132.95h0.7M126.25 122.19h0.7M140.49 116.6h0.7M137.84 114.28h0.7M126.49 124.1h0.7M143.49 119.88h0.7M141.39 115.16h0.7M133.63 115.82h0.7M132.82 127.9h0.7M141.86 117.93h0.7M119.48 139.88h0.7M129.97 121.35h0.7M140.52 121.57h0.7M119.4 133.93h0.7M134.94 122.14h0.7M126.7 132.26h0.7" stroke="#000" stroke-opacity="0.6" stroke-width="0.7" fill="none"/><path d="M120.59 145.84h0.7M120.61 130.93h0.7M149 121.84h0.7M127.98 117.7h0.7M151.69 114.49h0.7M131.86 126.01h0.7M134.63 118.17h0.7M126.13 118.36h0.7M143.54 115.4h0.7M141.73 114.87h0.7M139.86 119.82h0.7M136.27 113.15h0.7M154.03 116.67h0.7M125.15 127.47h0.7M126.98 135.71h0.7M129.66 142.78h0.7M145.56 118.69h0.7M142.32 117.48h0.7M123.8 134.34h0.7M127.37 136.47h0.7M146 121.73h0.7M138.99 112.33h0.7M127.9 128.86h0.7M128.55 127.41h0.7M127 120.79h0.7M126.71 128.37h0.7M119.92 135.76h0.7M129.75 121.2h0.7M143.25 118.26h0.7M118.05 138.48h0.7M140.09 110.85h0.7M147.55 126.39h0.7M147.25 115.79h0.7M129.41 114.11h0.7M136.36 123.15h0.7M125.55 140.78h0.7M147.21 115.66h0.7M143.56 115.84h0.7M143.88 120.27h0.7M129.98 140.37h0.7M145.49 126.72h0.7M121.51 143.52h0.7M123.19 131.52h0.7M129.32 119.1h0.7M129.48 145.15h0.7M132.51 125.35h0.7M132.55 115.97h0.7M144.62 120.66h0.7M128.69 142.03h0.7M130.93 124.07h0.7M137.24 125.1h0.7M122.63 126.54h0.7M121.62 131.44h0.7M129.05 117.91h0.7M128.69 126.81h0.7M124.72 143.48h0.7M122.08 148.45h0.7M129.2 118.48h0.7M135.54 121.15h0.7M130.33 117.77h0.7M146.73 113.46h0.7M142.05 125.06h0.7M135.38 121.33h0.7M129.6 119.48h0.7M140.17 115.36h0.7M148 118.15h0.7M144.5 124.28h0.7M125 130.6h0.7M126.58 147.71h0.7M122.51 130.62h0.7M136.5 120.13h0.7M128.91 146.3h0.7M148.98 118.5h0.7M141.42 125.91h0.7M127.63 124.33h0.7M136.65 122.34h0.7M140.12 123h0.7M129.61 126.82h0.7M130.01 137.01h0.7M142.67 121.4h0.7M143.97 120.7h0.7M141.75 120.67h0.7M121.82 138.53h0.7M136.2 116.07h0.7M141.72 115.95h0.7M144.22 116.67h0.7M122.71 147.9h0.7M127.13 126.87h0.7M124.13 140.38h0.7M128.24 138.09h0.7M125.75 142.43h0.7M150.53 119.87h0.7M149.96 122.84h0.7M134.99 124.59h0.7M134.41 121.53h0.7M132.84 125.09h0.7M143.14 124.77h0.7M140.02 120.54h0.7M144.2 124.56h0.7M125.06 131.02h0.7M130.95 124.73h0.7M127.6 123.03h0.7M141.03 117.77h0.7M133.76 133.69h0.7M137.48 116.42h0.7M137.36 129.05h0.7M132.13 130.77h0.7M132.96 122.65h0.7M132.56 116.57h0.7M130.25 121.98h0.7M123.9 115.77h0.7M131.32 116.5h0.7M120.78 135.16h0.7M124.16 144.79h0.7M133.04 132.54h0.7M146.72 117.72h0.7M138.26 118.05h0.7M123.92 144.98h0.7M131.32 124.43h0.7M143.1 116.57h0.7M144.65 117.7h0.7M136.27 134.99h0.7M126.91 140.4h0.7M146.18 120.24h0.7M144.89 124.97h0.7M147.02 113.6h0.7M130.74 122.37h0.7M135.34 120.53h0.7M125.28 140.04h0.7M143.76 120.63h0.7M121.7 131.98h0.7M129 117.08h0.7M124.66 122.61h0.7M127.22 123.06h0.7M123.81 137.81h0.7M129.31 118.93h0.7M151.33 121.6h0.7M120.17 136.47h0.7M122.37 135.39h0.7M130.71 119.54h0.7M133.4 128.05h0.7M142.32 120.58h0.7M136.73 114.39h0.7M133.56 135.31h0.7M134.98 136.88h0.7M127.72 138.98h0.7M131.9 124.66h0.7M130.56 141.3h0.7M132.13 123.06h0.7M125.99 138.25h0.7M131.28 127.24h0.7M144.49 115.2h0.7M130.19 131.84h0.7M122.93 143.48h0.7M143.53 118.49h0.7M119.68 132.07h0.7M131.61 127.46h0.7M138.25 121h0.7M143.05 119.66h0.7M139.35 121.49h0.7M144.66 116.02h0.7M133.18 120.44h0.7M141.61 120.21h0.7M138.7 114.86h0.7M125.73 121.94h0.7M127.96 117.65h0.7M122.3 137.96h0.7M122.07 135.08h0.7M125.32 141.04h0.7M131.99 126.32h0.7M126.41 118.9h0.7M143.5 121.91h0.7M128.51 134.54h0.7M132.55 112.5h0.7M136.37 124.3h0.7M121.64 144.24h0.7M137.06 115.63h0.7M128.01 132.98h0.7M129 120.8h0.7M135.28 131.14h0.7M131.15 117.09h0.7M116.44 132.58h0.7M139.83 119.25h0.7M128.25 127.55h0.7M129.14 121.74h0.7M126.42 132.4h0.7M130.09 143.86h0.7M132.45 121.39h0.7M121.07 140.99h0.7M135.87 116.88h0.7M139.29 121.59h0.7M128.57 137.74h0.7M129.48 126.54h0.7M145.1 116.57h0.7M142.29 114.03h0.7M129.61 127.48h0.7M142.75 123.57h0.7M126.74 129.58h0.7M131.84 117.93h0.7M141.7 119.89h0.7M146.95 121.32h0.7M146.37 118.72h0.7M136.03 117.57h0.7M131.44 123.49h0.7M128.2 130.27h0.7M130.59 113.23h0.7M129.9 129.66h0.7M133.5 135.34h0.7M136.46 124.61h0.7M148.88 125.1h0.7M128.74 128.43h0.7M132.54 120.62h0.7M132.52 124.39h0.7M130.46 115.57h0.7M128.47 121.64h0.7M140.3 120.95h0.7M125.65 130.19h0.7M133.93 124.16h0.7M133.35 121.29h0.7M145.13 115.16h0.7M127.6 142.39h0.7M129.72 118.71h0.7M128.38 117.37h0.7M130.67 128.16h0.7M119.21 140.07h0.7M133.04 117.13h0.7M135.32 120.39h0.7M133.19 139.79h0.7M127.76 116.91h0.7M145.36 125.04h0.7M114.63 137.28h0.7M125.52 128.04h0.7M146.01 119.95h0.7M132.03 128.31h0.7M144.35 117.89h0.7M133.64 116.74h0.7M147.79 119.65h0.7M130 130.6h0.7M148.48 123.13h0.7M130.22 118.16h0.7M128.74 139.4h0.7M143.83 121.74h0.7M134.89 121.59h0.7M130.32 118.2h0.7M151.81 115.05h0.7M130.01 123.35h0.7M127.22 133.93h0.7M131.67 110.58h0.7M134.07 115.5h0.7M144.54 121.62h0.7M140.44 118.07h0.7M130.55 139h0.7M134.06 138.93h0.7M136.4 128.91h0.7M120.96 133.79h0.7M134.89 120.41h0.7M127.49 121.23h0.7M131.61 119.64h0.7M126.42 121.72h0.7M142.3 119.74h0.7M123.58 133.09h0.7M143.84 112.66h0.7M133.68 122.49h0.7M143.29 113.03h0.7M135.88 119.59h0.7M121.52 138.8h0.7M122.63 138.5h0.7M134.4 123.4h0.7M129.8 116.9h0.7M117.51 138.02h0.7M151.75 119.32h0.7M121.98 141.81h0.7M132.05 134.35h0.7M120.46 136.1h0.7M138.21 119.42h0.7M143.65 122.94h0.7M130.33 141.27h0.7M148.87 115.93h0.7M145.17 118.28h0.7M140.54 120.5h0.7M132.36 118.03h0.7M146.98 120.02h0.7M146.03 122.79h0.7M143.03 118.31h0.7M119.45 137.52h0.7M145.81 126.44h0.7M125.54 149.06h0.7M126.15 123.98h0.7M143.71 121.59h0.7M140.88 120.44h0.7M126.75 118.91h0.7M131.86 136.21h0.7M130.85 120.8h0.7M129.83 114.9h0.7M128.6 112.37h0.7M134.84 120.53h0.7M142.24 120.89h0.7M131.78 114.62h0.7M131.67 119.58h0.7M137.42 114.74h0.7" stroke="#000" stroke-opacity="0.5" stroke-width="0.7" fill="none"/><path d="M130.62 139.19h0.6M146.47 121.78h0.6M126.93 143.46h0.6M135.95 124.18h0.6M129.08 126.38h0.6M147.77 121.84h0.6M142.11 117.81h0.6M141.99 122.62h0.6M126.39 132.63h0.6M143.91 120.26h0.6M136.41 113.31h0.6M129.86 125.47h0.6M135.04 124.73h0.6M136.86 121.96h0.6M125.18 119.02h0.6M128.74 141.32h0.6M117.08 142.51h0.6M125.31 142.67h0.6M135.51 128.41h0.6M122.29 143.2h0.6M138.63 118.75h0.6M138.08 126.25h0.6M125.47 119.87h0.6M148.14 120.63h0.6M140.75 122.64h0.6M146.89 105.21h0.6M130.29 129.5h0.6M127.83 118.84h0.6M137.97 123.33h0.6M129.83 119.06h0.6M134.56 127.72h0.6M131.83 129.41h0.6M143.72 129.96h0.6M131.22 142.47h0.6M141.66 126.71h0.6M145.42 112.02h0.6M125.92 132.94h0.6M133.09 125.97h0.6M132.89 123.39h0.6M132.64 120.65h0.6M133.34 123.37h0.6M129.63 125.69h0.6M126.1 121.48h0.6M131.41 119.72h0.6M120.32 135.32h0.6M134.39 117.95h0.6M146.73 113.07h0.6M144.59 117.68h0.6M136.93 116.2h0.6M132.73 140.58h0.6M128.85 142.47h0.6M132.22 116.29h0.6M142.06 132.16h0.6M137.17 141.34h0.6M132.82 126h0.6M134.15 125.8h0.6M151.96 121.69h0.6M149.5 121.5h0.6M133.07 136.91h0.6M125.82 119.45h0.6M131.7 120.99h0.6M141.93 114.44h0.6M130.18 129.27h0.6M122.68 145.65h0.6M136.26 114.35h0.6M131.52 116.89h0.6M134.43 133.24h0.6M117.38 147.41h0.6M139.45 123.51h0.6M131.61 117.07h0.6M143.89 123.34h0.6M131.8 116.03h0.6M131.32 108.96h0.6M145.55 116.47h0.6M143.39 113.84h0.6M127.76 123.49h0.6M133.28 117.34h0.6M123.02 135.32h0.6M124.57 126.23h0.6M123.11 137.05h0.6M147.56 125.86h0.6M134.61 121.21h0.6M127.31 119.8h0.6M132.06 117.06h0.6M132.77 134.29h0.6M147.86 126.68h0.6M126.57 123.17h0.6M130.81 137.04h0.6M150.37 116.72h0.6M139.98 116.61h0.6M128.12 139.58h0.6M135.39 129.13h0.6M150.38 122.32h0.6M142.38 130h0.6M135.05 118.25h0.6M149.5 124.33h0.6M134.22 137.2h0.6M122.17 139.74h0.6M137.14 125.03h0.6M139.06 118.09h0.6M113.85 144.11h0.6M124.38 141.3h0.6M130.74 127.03h0.6M131.57 121.41h0.6M133.68 143.82h0.6M137.98 133.98h0.6M140.29 121.65h0.6M129.31 138.19h0.6M119.57 143.75h0.6M123.13 122.15h0.6M130 114.71h0.6M139.4 117.68h0.6M132.51 128.39h0.6M130.42 118.44h0.6M136.06 117.74h0.6M129.98 131.63h0.6M116.79 128.35h0.6M136.02 117.38h0.6M148.8 120.69h0.6M145.76 126.76h0.6M118.44 131.15h0.6M121.62 139.28h0.6M130.96 118.96h0.6M139.81 119.39h0.6M140.03 113.89h0.6M143.16 118.17h0.6M142.44 111.48h0.6M133.09 115.31h0.6M121.09 132.48h0.6M126.98 138.26h0.6M145.11 118.01h0.6M134.33 128.84h0.6M134.39 131.78h0.6M139.32 121.91h0.6M128.86 137.22h0.6M141.76 114.97h0.6M136.67 122.86h0.6M127.74 133.06h0.6M122.27 131.14h0.6M124.63 133.07h0.6M125.99 118.78h0.6M135.81 120.96h0.6M114.37 128.64h0.6M115.98 130.22h0.6M128.91 151.44h0.6M130.6 135.22h0.6M131.43 127.4h0.6M144.21 116.28h0.6M148.1 121.85h0.6M144.11 114.11h0.6M134.76 131.76h0.6M124.39 122.31h0.6M129.76 138.4h0.6M138.38 116.13h0.6M130.56 140.98h0.6M128.23 123.74h0.6M143.56 123.7h0.6M142.16 121.91h0.6" stroke="#000" stroke-opacity="0.45" stroke-width="0.6" fill="none"/><path d="M134.39 131.03h0.6M139.05 132.64h0.6M129.37 132.68h0.6M142.54 135.31h0.6M140.89 139.55h0.6M129.34 136.98h0.6M141.14 133.62h0.6M135.49 127.35h0.6M137.07 129.3h0.6M141.07 128.56h0.6M144.15 137.09h0.6M135.22 136.88h0.6M139.78 134.71h0.6M139.8 132.55h0.6M135.64 136.5h0.6M136.02 133.48h0.6M138.65 140.05h0.6M137.25 138.71h0.6M150.59 133.9h0.6M135.66 132.61h0.6M150.38 134.6h0.6M139.57 129.23h0.6M131.86 134.13h0.6M135.06 128.79h0.6M137.99 139.1h0.6M140.03 131.62h0.6M141 136.86h0.6M144.12 126.1h0.6M136.89 126.77h0.6M140.53 134.51h0.6M138.97 133.01h0.6M139.86 124.58h0.6M129.98 135.17h0.6M150.72 131.38h0.6M137.15 128.15h0.6M137.73 130.57h0.6M132.92 127.84h0.6M133.3 139.11h0.6M143.5 137.66h0.6M133.88 129.81h0.6M131.3 130.05h0.6M134.19 136.97h0.6M146.31 129.5h0.6M130.62 137.92h0.6M137.02 123.51h0.6M134.85 142.28h0.6M138.77 138.5h0.6M140.91 132.99h0.6M138.15 132.45h0.6M140.57 129.35h0.6M143.77 131h0.6M129.69 136.24h0.6M135.22 140.26h0.6M142.28 130.93h0.6M145.81 134.68h0.6M134.87 139.64h0.6M140.66 138.8h0.6M139.66 137.77h0.6M145.42 130.99h0.6M132.96 134.2h0.6M142.19 129.38h0.6M131.62 129.22h0.6M141.78 126.82h0.6M140.73 127.89h0.6M135.18 131.95h0.6M144.97 135.37h0.6M136.02 134.17h0.6M131.62 128.83h0.6M139.7 131.53h0.6M142.36 129.88h0.6M142.35 141.92h0.6M133.96 136.61h0.6M146.15 126.48h0.6M138.97 133.18h0.6M138.04 142.38h0.6M136.63 132.91h0.6M134.23 126.26h0.6M135.04 132.11h0.6M130.5 132.52h0.6M125.96 130.17h0.6M137.62 134.25h0.6M134.18 139.33h0.6M137.39 133.8h0.6M134.36 135.31h0.6M132.48 129.91h0.6M135.17 136.27h0.6M133.86 138.57h0.6M133.04 144.64h0.6M144.56 138.49h0.6M143.51 138.54h0.6M139.79 139.55h0.6M134.18 133.45h0.6M141.43 133.43h0.6M136.22 139.22h0.6M134.95 129.61h0.6M137.21 136.98h0.6M140.63 136.77h0.6M132.04 140.9h0.6M137.26 138.07h0.6M137.27 139.31h0.6M146.59 131h0.6M135.4 136.56h0.6M136.01 133.04h0.6M130.6 126.14h0.6M137.49 132.89h0.6M136.64 132.57h0.6M137.24 130.74h0.6M135.85 136h0.6M143.02 134.25h0.6M140.46 138.75h0.6M138.83 138.05h0.6M133.71 134.12h0.6M132.42 131.78h0.6M146.69 136.56h0.6M131.19 128.97h0.6M140.36 132.98h0.6M140.3 134.26h0.6M137.64 135.94h0.6M141.23 132.3h0.6M134.57 140.46h0.6M138.3 138.36h0.6M142 134.15h0.6M141.51 134.08h0.6M147.26 133.28h0.6M140.49 130.79h0.6M140.84 136.89h0.6M139.53 127.52h0.6M137.91 134.39h0.6M136.69 136.88h0.6M139.14 134.66h0.6M145.25 132.2h0.6M149.5 135.53h0.6M130.95 138.31h0.6M145.93 132.72h0.6M138.21 127.26h0.6M131.23 134.07h0.6M133.52 133.44h0.6M134.36 131.84h0.6M141.4 138.9h0.6M134.4 122.57h0.6" stroke="#000" stroke-opacity="0.4" stroke-width="0.6" fill="none"/><clipPath id="c220503116"><ellipse cx="125.4" cy="137.6" rx="4.7" ry="6.9" transform="rotate(35 125.4 137.6)"/></clipPath><ellipse cx="125.4" cy="137.6" rx="4.7" ry="6.9" transform="rotate(35 125.4 137.6)" fill="url(#sph)"/><ellipse cx="125.4" cy="137.6" rx="4.7" ry="6.9" transform="rotate(35 125.4 137.6)" fill="none" stroke="#111" stroke-width="1.1"/><clipPath id="c437212745"><path d="M127.4 129.5 C126.8 125.5 128 121.5 131 119.3 C134 117.2 138 116.4 142 116.6 C145.5 116.8 148 118.2 148.4 120.2 C146.5 122 143 122.5 139.5 123.4 C135.5 124.5 133 127.5 130.8 131.2 C129.5 132.3 128 131.5 127.4 129.5 Z"/></clipPath><path d="M127.4 129.5 C126.8 125.5 128 121.5 131 119.3 C134 117.2 138 116.4 142 116.6 C145.5 116.8 148 118.2 148.4 120.2 C146.5 122 143 122.5 139.5 123.4 C135.5 124.5 133 127.5 130.8 131.2 C129.5 132.3 128 131.5 127.4 129.5 Z" fill="#626262"/><path d="M130.5 115V133M133.01 115V133M135.36 115V133M137.47 115V133M139.87 115V133M141.9 115V133M144.32 115V133M146.66 115V133M148.6 115V133" stroke="#2a2a2a" stroke-width="0.8" clip-path="url(#c437212745)"/><path d="M127.4 129.5 C126.8 125.5 128 121.5 131 119.3 C134 117.2 138 116.4 142 116.6 C145.5 116.8 148 118.2 148.4 120.2 C146.5 122 143 122.5 139.5 123.4 C135.5 124.5 133 127.5 130.8 131.2 C129.5 132.3 128 131.5 127.4 129.5 Z" fill="none" stroke="#111" stroke-width="1.3"/><path d="M194.08 137.86h0.7M204.3 140.13h0.7M198.23 122.63h0.7M193.86 137.78h0.7M199.67 119.65h0.7M214.75 114.95h0.7M217.08 125.19h0.7M204.22 125.7h0.7M204.46 126.36h0.7M196.21 120.41h0.7M202 117.48h0.7M221.36 119.58h0.7M203.13 141.25h0.7M196.32 134.87h0.7M195.59 131.88h0.7M220.55 124.95h0.7M193.08 135.37h0.7M201.32 117.84h0.7M222.41 120.21h0.7M200.69 122.18h0.7M204.06 131.7h0.7M201.89 140.99h0.7M196.92 123.49h0.7M194.34 132.03h0.7M223.39 121.13h0.7M194.85 132.41h0.7M201.48 135.72h0.7M208.05 124.02h0.7M203.84 124.82h0.7M196.06 135.15h0.7M203.27 124.18h0.7M196.25 134.42h0.7M223.98 122.1h0.7M206.18 119.69h0.7M201.66 125.82h0.7M218.11 120.82h0.7M218.32 115.9h0.7M220.27 124.45h0.7M197.76 142.14h0.7M222.62 121.38h0.7M222.02 122.05h0.7M198.48 145.62h0.7M215.7 116.78h0.7M216.75 124.26h0.7M202.81 116.78h0.7M205.52 122.86h0.7M193.9 138.45h0.7M202.18 118.82h0.7M198.49 141.17h0.7M221.8 117.35h0.7M198.5 120.3h0.7M193.63 139h0.7M196.58 142.88h0.7M197.53 121.77h0.7M200.36 133.49h0.7M215.08 115.77h0.7M197.91 143.4h0.7M200.36 122.95h0.7M194.24 133.84h0.7M192.91 140.35h0.7M203.11 141.04h0.7M205.98 117.3h0.7M197.92 121.69h0.7M196.08 143.52h0.7M199.63 118.71h0.7M199.67 122.41h0.7M201.66 136.77h0.7M198.5 121.77h0.7M211.11 126.56h0.7M199.53 121h0.7M221.03 119.9h0.7M207.53 123.04h0.7M193.71 136.65h0.7M223.44 121.29h0.7M222.32 125.02h0.7M209.13 116h0.7M215.41 125.83h0.7M205.41 117.2h0.7M203.09 137.31h0.7M205.87 138.53h0.7M201.55 121.99h0.7M222.56 120.2h0.7M202.33 134.5h0.7M202.07 131.63h0.7M199.18 121.26h0.7M203.2 117.71h0.7M193.45 136.85h0.7M208.88 117.35h0.7M209.66 119.2h0.7M201.27 121.21h0.7M201.2 122.76h0.7M220.77 121.12h0.7M203.37 135.79h0.7M215.13 114.12h0.7M203.53 138.17h0.7M222.11 122.84h0.7M201.57 122.72h0.7M222.2 118.5h0.7M202.32 142.11h0.7M220.46 124.39h0.7M194.89 143.48h0.7M202.35 134.68h0.7M204 141.2h0.7M220.36 123.46h0.7M212.76 118.27h0.7M201.9 123.74h0.7M221.64 119.03h0.7M195.47 139.22h0.7M197.82 119.85h0.7M210.3 125.35h0.7M198.21 133.49h0.7M196.49 140.56h0.7M212.31 126.83h0.7M203.07 133.77h0.7M219.85 124.47h0.7M218.38 117.47h0.7M218.04 118.37h0.7M194.08 134.07h0.7M214.94 124.23h0.7M191.56 136.96h0.7M198.57 117.36h0.7M204.02 135.33h0.7M219.4 124.29h0.7M198.97 122.46h0.7M202.06 115.99h0.7M199.47 121.39h0.7M202.84 122.35h0.7M203.83 125.84h0.7M195.63 138.52h0.7M211.77 119.99h0.7M219.37 124.91h0.7M194.36 139.15h0.7M194.76 135.45h0.7M199.74 134.33h0.7M198.25 124.44h0.7M197.6 120.88h0.7M199.04 134.31h0.7M203.2 125.1h0.7M198.16 143.92h0.7M202.1 123.9h0.7M207.61 115.54h0.7M222.66 119.14h0.7M205.57 123.79h0.7M206.76 126.26h0.7M216.64 119.88h0.7M193.67 131.78h0.7M195.14 134.4h0.7M222.92 123.09h0.7M197.33 119.84h0.7M213.12 116.46h0.7M194.67 138.75h0.7M199.61 120.6h0.7M207.12 114.95h0.7M219.84 122.23h0.7M222.62 120.2h0.7M218.86 116.22h0.7M202.05 124.98h0.7M200.43 120.14h0.7M198.98 143.04h0.7M199.9 123.94h0.7M201.26 129.99h0.7M211.96 125.57h0.7M203.7 115.89h0.7M202.86 115.86h0.7M201.84 138.67h0.7M199.98 132.29h0.7M218.86 124.48h0.7M195.28 131.16h0.7M220.61 117.85h0.7M200.14 118.84h0.7M221.19 118.2h0.7M219.91 121.72h0.7M196.36 130.9h0.7M193 135.07h0.7M211.65 126.64h0.7M195.13 135.49h0.7M207.4 117.95h0.7M211.19 122.92h0.7M198.57 122.43h0.7M204.34 116.5h0.7M203.33 118.01h0.7M209.04 126.09h0.7M202.71 138.83h0.7M201.46 135.98h0.7M203.98 125.07h0.7M201.34 141.45h0.7M193.6 136.77h0.7M221.9 121.51h0.7M200.95 134.17h0.7M196.98 143.03h0.7M210.16 116.98h0.7M196.24 143.07h0.7M201.22 120.71h0.7M205.32 125.62h0.7M200.85 141.38h0.7M202.66 122.33h0.7M215.48 115.83h0.7M200.28 141.7h0.7M218.6 125.53h0.7M201.37 118.84h0.7M198.04 130.55h0.7M206.99 118.32h0.7M197.39 143.68h0.7M201.17 116.67h0.7M220.62 121.78h0.7M222.72 117.85h0.7M199.73 121.26h0.7M204.72 119.48h0.7M198.77 122.17h0.7M213.8 119.4h0.7M196.11 133.92h0.7M221.02 119.6h0.7M203.22 124.26h0.7M219.29 125.2h0.7M205.92 118.94h0.7M212.67 119.37h0.7M199.45 121.22h0.7M202.99 139.76h0.7M202.03 117.45h0.7M213.62 125.22h0.7M199.07 123.92h0.7M198.55 121.65h0.7M212.37 117.25h0.7M203.26 119.87h0.7M217.86 119.25h0.7M205.9 125.24h0.7M207.68 123.97h0.7M199.64 133.55h0.7M223.85 120.81h0.7M199.88 126.03h0.7M213.17 124.49h0.7M202.33 138.15h0.7M193.73 138.94h0.7M222.09 120.47h0.7M214.04 124.37h0.7M220.41 119.91h0.7M218.33 122.92h0.7M204.07 136.91h0.7M202.33 118.48h0.7M197.65 119.04h0.7M215.14 125.37h0.7M194.7 143.09h0.7M222.09 118.85h0.7M200.34 121.84h0.7M205.23 138.03h0.7M216.68 126.51h0.7M196.38 143.48h0.7M199.78 142.32h0.7M197.78 132.59h0.7M204.11 119.02h0.7M201.33 137.15h0.7M199.07 120.57h0.7M207.15 117.14h0.7M194.56 134.2h0.7M202.6 142.67h0.7M220.41 120.53h0.7M224.32 122.15h0.7M194.95 142.69h0.7M211.68 114.88h0.7M219.83 118.6h0.7M200.92 122.78h0.7M195.49 136.34h0.7M199.03 132.85h0.7M204.69 118.22h0.7M220.63 125.94h0.7M215.23 114.98h0.7M194.27 136.01h0.7M201.09 136.04h0.7M199.17 131.16h0.7M210.61 126.61h0.7M215.67 117.97h0.7M201.69 120.97h0.7M200.82 132.6h0.7M214.96 125.53h0.7M200.81 121.34h0.7M222.18 119.53h0.7M223.19 117.95h0.7M214.89 114.86h0.7M219.3 123.46h0.7M193.67 136.83h0.7M223.84 119.81h0.7M194.72 136.87h0.7M203.03 124.22h0.7M206.28 117.28h0.7M221.34 121.41h0.7M218.91 123.57h0.7M200.07 133.16h0.7M201.17 117.08h0.7M214.74 125.54h0.7M210.67 117.57h0.7M223.63 125.67h0.7M202.56 141.85h0.7M218.38 118.8h0.7M222.43 122.12h0.7M223.36 122.39h0.7M198.2 133.5h0.7M198.64 142.61h0.7M212.87 123.54h0.7M199.31 143.93h0.7M192.24 140.14h0.7M204.75 119.24h0.7M199.77 142.3h0.7M194.54 141.63h0.7M199.43 134.55h0.7M202.5 117.84h0.7M223.5 121.01h0.7M199.55 135.19h0.7M203.45 116.63h0.7M200.31 142.24h0.7M201.42 141.59h0.7M223.87 121.08h0.7M201.4 141.08h0.7M202.21 116h0.7M215.74 114.67h0.7M214.22 117.72h0.7M196.93 144.81h0.7M204.96 117.99h0.7M213.86 124.71h0.7M219.49 115.64h0.7M197.45 144.59h0.7M199.84 143.15h0.7M194.75 143.8h0.7M198.59 125.06h0.7M203.9 117.27h0.7M200.41 138.55h0.7M206.17 117.71h0.7M203.09 118.04h0.7M218.37 120.01h0.7M201.14 125.58h0.7M201.24 124.92h0.7M200.3 124.58h0.7M207.39 118.35h0.7M221.66 121.69h0.7M220.29 119.36h0.7M201.43 135.06h0.7M195.61 140.01h0.7M204.39 122.14h0.7M217.38 119.35h0.7M210.42 125.11h0.7M221 122.36h0.7M198.52 120.97h0.7M193.43 137.79h0.7M215.77 127.14h0.7M197.94 144.32h0.7M201.07 135.87h0.7M212.97 118.09h0.7M215.7 124.88h0.7M200.49 131.8h0.7M224.96 125.62h0.7M210.51 116.17h0.7M197.66 131.65h0.7M223.09 119.38h0.7M222.61 123.04h0.7M201.4 136.41h0.7M220.46 120.52h0.7M200.12 130.28h0.7M199.82 121.22h0.7M216.11 119.22h0.7M197.82 131.92h0.7M217.28 116.26h0.7M204.54 119.3h0.7M197.9 132.62h0.7M222.88 121.66h0.7M194.57 137.13h0.7M198.94 134.56h0.7M217.8 124.39h0.7M202.68 132.22h0.7M194.29 137.92h0.7M203.78 125.97h0.7M199.12 143.11h0.7M204.12 123.6h0.7M208.9 124.28h0.7M198.27 143.18h0.7M221.53 121.58h0.7M201.35 118.19h0.7M201.14 133.4h0.7M193.8 140.54h0.7M201.68 118.17h0.7M202.91 118.91h0.7M201.54 132.18h0.7M198.64 140.59h0.7M205.74 125h0.7M195.16 139.75h0.7M207.43 117.25h0.7M205.18 121.88h0.7M206.65 116.6h0.7M203.42 118.29h0.7M207.81 117.42h0.7M204.18 126.75h0.7M201.6 134.56h0.7M202.25 136.82h0.7M198.24 122.44h0.7M207.15 115.85h0.7M222.74 123.45h0.7M201.1 137.43h0.7M200.96 120.64h0.7M205.92 118.85h0.7M207.57 116.68h0.7M199.09 118.24h0.7M199.54 133.14h0.7M224.22 120.65h0.7M198.41 122.44h0.7M203 125.02h0.7M212.52 117.18h0.7M200.42 133.54h0.7M203.11 137.44h0.7M222.03 120.08h0.7M197.79 142.69h0.7M199.26 144.23h0.7M209.08 125.08h0.7M202.83 136.69h0.7M195.89 144.6h0.7M217.21 126.33h0.7M207.62 117.71h0.7M194.72 138.04h0.7M192.97 138.61h0.7M196.75 133.39h0.7M199.16 143.36h0.7M200.61 117h0.7M207.69 116.32h0.7" stroke="#000" stroke-opacity="0.6" stroke-width="0.7" fill="none"/><path d="M218.01 129.29h0.7M215.01 117.27h0.7M203.82 123.85h0.7M195.79 133.55h0.7M206.36 122.6h0.7M197.54 144h0.7M201.61 120h0.7M203.6 134.59h0.7M225.05 116.16h0.7M210.94 124.5h0.7M200.97 137.13h0.7M209.89 122.68h0.7M195.23 121.3h0.7M200.47 117.63h0.7M199.39 120.81h0.7M208.67 126.13h0.7M199.62 134.75h0.7M196.77 141.7h0.7M194.9 147.03h0.7M188.01 141.06h0.7M195.65 134.2h0.7M196.9 139.87h0.7M199.98 134.84h0.7M199.8 140.67h0.7M209.86 117.93h0.7M215.02 115.06h0.7M206.53 141.83h0.7M203.66 128.31h0.7M201.18 145.99h0.7M214.18 125.58h0.7M201.98 141.8h0.7M208.51 115.5h0.7M218.2 122.51h0.7M194.78 137.17h0.7M203.97 124.11h0.7M191.97 146.04h0.7M198.35 124.46h0.7M197.75 119.73h0.7M223.26 118.67h0.7M216.25 118.27h0.7M205.82 124.81h0.7M209.83 126.06h0.7M212.49 126.33h0.7M198.65 142.86h0.7M221.08 124.53h0.7M223.31 119.9h0.7M223.88 122.04h0.7M193.46 129.17h0.7M195.95 121.08h0.7M206.2 117.55h0.7M201.47 122.55h0.7M192.47 139.98h0.7M195.7 137.7h0.7M216.91 126.06h0.7M199.81 122.5h0.7M219.97 124.85h0.7M210.79 124.82h0.7M208.32 126.59h0.7M209.64 115.33h0.7M195.36 140.66h0.7M210.97 125.73h0.7M204.99 141.55h0.7M207.44 119.7h0.7M202.35 116.48h0.7M197.43 115.04h0.7M194.87 130.75h0.7M199.91 120.51h0.7M192.19 146.44h0.7M195.04 141.69h0.7M220.65 123.66h0.7M198.36 141.2h0.7M221.76 119.1h0.7M206.14 136.56h0.7M227.5 114.31h0.7M196.92 138.13h0.7M197.05 111.45h0.7M203.56 113.99h0.7M220.59 123.43h0.7M200.43 124.18h0.7M222.46 123.58h0.7M219.48 119.13h0.7M221.21 127.7h0.7M198.44 125.59h0.7M201.53 147.04h0.7M204.58 127.9h0.7M194.96 140.86h0.7M217.56 122.4h0.7M195.97 121.89h0.7M196 144.53h0.7M201.35 120.93h0.7M208.42 120.1h0.7M196.31 139.1h0.7M195.29 138.52h0.7M197.95 122.17h0.7M201.53 121.52h0.7M225.44 123.86h0.7M200.81 123.26h0.7M222.63 117.3h0.7M197.79 135.83h0.7M217.16 120.81h0.7M203.35 122.94h0.7M220.19 119.21h0.7M215.62 124.44h0.7M201.27 126.52h0.7M202.81 137.94h0.7M210.78 127.61h0.7M205.2 126.88h0.7M218.86 121.89h0.7M201.74 127.33h0.7M205.98 123.37h0.7M199.48 114.89h0.7M196.3 125.91h0.7M207.03 114.11h0.7M201.12 120.89h0.7M198.39 115.4h0.7M200.28 147.28h0.7M210.25 118.19h0.7M196.37 131.71h0.7M206.99 124.31h0.7M187.46 141.77h0.7M203.29 134.23h0.7M214.25 124.73h0.7M192.93 122.92h0.7M193.81 139.03h0.7M218.64 123.66h0.7M190.18 133.52h0.7M194.1 127.66h0.7M203.72 120.94h0.7M211.31 120.44h0.7M205.59 126.77h0.7M199.87 130.82h0.7M206.15 123.53h0.7M202.71 143.58h0.7M197.53 145.02h0.7M207.33 143.99h0.7M193.13 134.03h0.7M222.27 120.08h0.7M224.9 119.66h0.7M210.24 120.54h0.7M203.89 143.7h0.7M213.44 117.99h0.7M204.55 132.79h0.7M201.8 123.96h0.7M198.22 134.42h0.7M192.46 131.45h0.7M206.14 115.05h0.7M201.07 126.1h0.7M218.35 127.7h0.7M204.94 122.54h0.7M219.07 123.94h0.7M217.66 119.94h0.7M192.56 149.72h0.7M197.01 135.24h0.7M219.46 124.76h0.7M208.47 120.01h0.7M216.32 127.66h0.7M215.7 116.98h0.7M203.69 130.27h0.7M217.05 115.83h0.7M222.11 118.62h0.7M199.24 136.38h0.7M221.84 118.14h0.7M199.27 117.58h0.7M203.69 115.7h0.7M202.74 139h0.7M193.39 136.69h0.7M203.69 121.09h0.7M206.41 135.94h0.7M223.46 121.4h0.7M199.62 135.65h0.7M210.24 122.5h0.7M216.61 114.54h0.7M203.55 123.31h0.7M225.86 119.3h0.7M214.94 116.65h0.7M217.93 117.55h0.7M221.55 127.08h0.7M206.65 118.75h0.7M203.63 127.83h0.7M199.01 137.63h0.7M215.37 120.01h0.7M221.1 120.12h0.7M201.94 134.23h0.7M220.86 115.86h0.7M201.76 139.7h0.7M199.93 121.61h0.7M219.13 125.33h0.7M220.09 119.9h0.7M206.83 113.78h0.7M200.99 114.96h0.7M209.98 126.34h0.7M210.34 111.59h0.7M201.9 122.92h0.7M223.53 121.7h0.7M221 127.79h0.7M222.76 120.42h0.7M200.64 120.7h0.7M203.02 134.03h0.7M202.5 137.53h0.7M198.98 122.76h0.7M201.15 139.35h0.7M192.19 132.43h0.7M213.74 118.35h0.7M192.66 136.85h0.7M217.36 120.79h0.7M199.84 134.89h0.7M222.77 128.12h0.7M196.37 120.08h0.7M212.25 127.05h0.7M199.99 130.38h0.7M207.66 116.91h0.7M200.91 120.56h0.7M206.64 133.94h0.7M221.2 119.15h0.7M196.5 137.72h0.7M218.28 115h0.7M221.28 123.19h0.7M223.67 121.85h0.7M195.38 127.39h0.7M218.1 124.73h0.7M217.6 115.18h0.7M202.81 137.4h0.7M213.15 125.16h0.7M210.92 128.1h0.7M192.64 134.08h0.7M198.97 124.76h0.7M198.87 120.79h0.7M202.7 122.54h0.7M209.03 123.39h0.7M198.09 135.28h0.7M195.42 134.07h0.7M196.87 146.55h0.7M221.45 120.3h0.7M197.43 135.79h0.7M198.78 123.38h0.7M191.87 135.03h0.7M211.55 130.47h0.7M197.8 130.81h0.7M194.12 144.48h0.7M198.04 141.43h0.7M194.85 137.36h0.7M205.57 122.57h0.7M203.38 137.44h0.7M225.6 118.41h0.7M222.27 117.64h0.7M205.46 147.9h0.7M203.94 110.26h0.7M220.8 125.11h0.7M209.06 122.42h0.7M211.4 118.65h0.7M223.26 129.15h0.7M204.96 121.44h0.7M191.28 125.43h0.7M202.93 138.29h0.7M221.04 115.52h0.7M206.73 123.45h0.7M201.66 118.55h0.7M220.04 119.15h0.7M216.02 122h0.7M195.05 141.76h0.7M200.24 120.68h0.7M204.54 124.21h0.7M196.8 135.18h0.7M211.07 119.56h0.7M223.89 117.38h0.7M203.24 139.28h0.7M202.5 123.35h0.7M216.39 121.97h0.7M204.55 119.11h0.7M223.8 121.18h0.7M202.86 134h0.7M210.68 117.56h0.7M224.99 122.72h0.7M197.4 133.94h0.7M207.6 125.77h0.7M209.16 116.48h0.7M209.5 116.91h0.7M217.95 121.81h0.7M222.21 119.1h0.7" stroke="#000" stroke-opacity="0.5" stroke-width="0.7" fill="none"/><path d="M213.76 123.62h0.6M202.59 122.49h0.6M203.31 132.54h0.6M219.61 119.27h0.6M214.58 126.16h0.6M194.61 136.06h0.6M211.47 119.98h0.6M188.03 119.41h0.6M198.39 128.85h0.6M201.75 118.74h0.6M212.16 112.86h0.6M200.04 145.3h0.6M216.27 127.3h0.6M206.69 138.18h0.6M215.19 119.56h0.6M207.64 123.43h0.6M216.92 112.94h0.6M218.38 123.99h0.6M201.11 147.51h0.6M203.8 115.7h0.6M198.91 142.08h0.6M198.55 145.33h0.6M221.83 125.03h0.6M200.07 133.17h0.6M193.46 140.63h0.6M207.38 134.28h0.6M195.49 137.72h0.6M215.33 128.75h0.6M210.76 112.8h0.6M218.2 133.38h0.6M193.05 144.97h0.6M205.66 118.51h0.6M187.24 136.48h0.6M204.66 117.1h0.6M204.6 111.58h0.6M214.11 121.12h0.6M194.88 145.04h0.6M200.56 121.56h0.6M204.09 142.28h0.6M210.43 123.8h0.6M215.79 115.98h0.6M201.65 121.31h0.6M197.25 131.59h0.6M210.84 114.92h0.6M196.27 137.19h0.6M197.45 124.84h0.6M198.76 120.36h0.6M213.14 108.69h0.6M203.27 119.5h0.6M204.17 128.84h0.6M206.4 126.71h0.6M203.45 120.22h0.6M218.81 109.77h0.6M212.82 115.39h0.6M197 136.42h0.6M198.32 128.98h0.6M212.34 139.3h0.6M203.48 125.16h0.6M207.02 111.81h0.6M216.25 131.53h0.6M227.67 124.01h0.6M213.63 130.65h0.6M208.19 115.9h0.6M199.54 127.22h0.6M204.69 146.81h0.6M204.63 137.16h0.6M201.25 127.65h0.6M210.19 133.67h0.6M204.81 122.76h0.6M204.98 116.61h0.6M195.45 120.47h0.6M194.73 136.99h0.6M219.18 123.05h0.6M207.5 126.17h0.6M203.59 114.14h0.6M213.01 113.5h0.6M195.55 133.32h0.6M220.66 115.26h0.6M213.2 116.6h0.6M226.62 123.16h0.6M194.68 110.64h0.6M193.17 125.51h0.6M223.83 124.87h0.6M218.66 126.79h0.6M215.8 133.08h0.6M220.98 125.09h0.6M223.63 123.2h0.6M208.21 120.42h0.6M200.03 137.89h0.6M196.37 148.18h0.6M218.49 120.72h0.6M205.73 128.3h0.6M199.85 137.97h0.6M215.05 117.46h0.6M212.34 127.58h0.6M203.57 121.55h0.6M201.81 131.97h0.6M208.43 117.55h0.6M204.1 120.97h0.6M198.73 142.35h0.6M216.58 123.6h0.6M198.67 137.94h0.6M196.7 141.75h0.6M208.81 130.24h0.6M199.39 139.89h0.6M203.39 119.46h0.6M191.87 138.95h0.6M194.7 141.06h0.6M206.25 140.54h0.6M216.05 126.86h0.6M189.44 138.49h0.6M216.94 122.62h0.6M207.82 121.53h0.6M217.95 116.09h0.6M214.45 107.93h0.6M213.46 127.51h0.6M217.06 117.96h0.6M211.1 119.04h0.6M217.43 128.94h0.6M206.37 121.65h0.6M187.88 147.98h0.6M201.85 120.47h0.6M202.82 128.11h0.6M221.45 109.74h0.6M196.91 115.18h0.6M223.63 127.34h0.6M204.58 125.79h0.6M218.16 117.42h0.6M212.2 127.39h0.6M204.08 118.35h0.6M206.72 131.62h0.6M202.8 137.21h0.6M201.35 140.02h0.6M215.09 111.34h0.6M191.41 144.1h0.6M224.41 120.51h0.6M203.33 129.83h0.6M206.71 132.82h0.6M197.21 140.56h0.6" stroke="#000" stroke-opacity="0.45" stroke-width="0.6" fill="none"/><path d="M204.93 130.96h0.6M201.65 128.17h0.6M196.09 130.57h0.6M206.21 125.95h0.6M211.45 137.35h0.6M206.55 131.7h0.6M201.12 128.29h0.6M199.8 129.27h0.6M206.38 124.45h0.6M204.7 136.07h0.6M198.6 125.27h0.6M209.32 127.24h0.6M201.9 132.26h0.6M218.21 136.07h0.6M206.01 134.83h0.6M209.47 134.54h0.6M204.58 124.28h0.6M203.93 124.95h0.6M204.19 133.09h0.6M210.61 132.31h0.6M205.71 124.52h0.6M207.99 132.39h0.6M204.52 124.65h0.6M212.81 133.19h0.6M198.34 132.11h0.6M207.34 127.41h0.6M205.69 135.35h0.6M208.45 127.57h0.6M203.72 127.46h0.6M209.52 134.41h0.6M200.11 134.72h0.6M204.66 125.11h0.6M202.97 132.15h0.6M203.66 140.38h0.6M198.24 134.33h0.6M209.28 126.14h0.6M203.29 120.36h0.6M206.58 129.67h0.6M201.38 136.73h0.6M214.51 132.21h0.6M205.81 133.59h0.6M202.1 127.62h0.6M200.68 124.6h0.6M207.52 128.81h0.6M210.88 127.5h0.6M209.74 124.58h0.6M199.15 120.23h0.6M207.01 140.4h0.6M208.99 132.33h0.6M203.7 134.97h0.6M195.27 128.04h0.6M204.31 130.31h0.6M210.25 122.98h0.6M202.47 133.79h0.6M204.27 138.25h0.6M207.15 138.35h0.6M207.93 136.2h0.6M213.89 135.65h0.6M190.8 133.04h0.6M204.5 132.68h0.6M210.98 123.23h0.6M197.43 129.8h0.6M204.9 127.69h0.6M212.45 135.51h0.6M212.48 136.61h0.6M208.13 134.16h0.6M211.85 133.29h0.6M206.49 134.81h0.6M211.25 134.98h0.6M196.52 127.86h0.6M199.5 126.65h0.6M209.14 131.13h0.6M203.26 127.37h0.6M207.7 127.94h0.6M208.88 122.75h0.6M203.65 133.7h0.6M202.05 133.85h0.6M207.66 127.09h0.6M208.26 121.57h0.6M206.64 127.87h0.6M197.98 125.95h0.6M207.37 127.6h0.6M212.39 134.63h0.6M214.5 130.73h0.6M208.06 128h0.6M204.82 128.83h0.6M207.4 127.78h0.6M206.11 127.44h0.6M199.71 133.33h0.6M210.3 125.11h0.6M205.13 129.6h0.6M208.6 125.41h0.6M210.85 134.51h0.6M212.04 134.58h0.6M204.99 132.88h0.6M209.17 130.16h0.6M204 133.89h0.6M202.6 137.88h0.6M213.04 130.35h0.6M201.18 128.97h0.6M208.78 132.47h0.6M208.26 126.38h0.6M206.07 136.41h0.6M201.93 135.61h0.6M218.94 134.42h0.6M203.28 134.56h0.6M209.79 126.75h0.6M206.36 127.07h0.6M212.28 139.36h0.6M210.13 129.7h0.6M200.8 139.47h0.6M206.16 129.78h0.6M209.03 134.91h0.6M211.89 130.55h0.6M202.04 132.75h0.6M208.35 134.26h0.6M211.21 136.03h0.6M209.04 131.85h0.6M191.03 129.2h0.6M205.71 133.38h0.6" stroke="#000" stroke-opacity="0.38" stroke-width="0.6" fill="none"/><clipPath id="c435645243"><ellipse cx="210.8" cy="121.1" rx="11.6" ry="3.9" transform="rotate(-1.5 210.8 121.1)"/></clipPath><ellipse cx="210.8" cy="121.1" rx="11.6" ry="3.9" transform="rotate(-1.5 210.8 121.1)" fill="#626262"/><path d="M203.84 105.6V136.6M206.11 105.6V136.6M208.45 105.6V136.6M210.6 105.6V136.6M212.77 105.6V136.6M215.2 105.6V136.6M217.5 105.6V136.6M219.95 105.6V136.6M221.86 105.6V136.6" stroke="#2a2a2a" stroke-width="0.8" clip-path="url(#c435645243)"/><ellipse cx="210.8" cy="121.1" rx="11.6" ry="3.9" transform="rotate(-1.5 210.8 121.1)" fill="none" stroke="#111" stroke-width="1.3"/><clipPath id="c747678738"><ellipse cx="198.1" cy="137.8" rx="4.4" ry="5.5" transform="rotate(12 198.1 137.8)"/></clipPath><ellipse cx="198.1" cy="137.8" rx="4.4" ry="5.5" transform="rotate(12 198.1 137.8)" fill="url(#sph)"/><ellipse cx="198.1" cy="137.8" rx="4.4" ry="5.5" transform="rotate(12 198.1 137.8)" fill="none" stroke="#111" stroke-width="1.1"/><circle cx="198.2" cy="137.6" r="0.6" fill="#222"/><rect x="38.9" y="105" width="21" height="9.4" fill="#fff" stroke="#b0b0b0" stroke-width="0.6"/><text x="41.9" y="111.4" font-size="4.5" text-anchor="start" font-weight="normal" fill="#333" textLength="11.2" lengthAdjust="spacingAndGlyphs">+ Epo</text><rect x="113" y="105" width="21" height="9.4" fill="#fff" stroke="#b0b0b0" stroke-width="0.6"/><text x="116" y="111.4" font-size="4.5" text-anchor="start" font-weight="normal" fill="#333" textLength="11.2" lengthAdjust="spacingAndGlyphs">+ Epo</text><rect x="186.9" y="105" width="21" height="9.4" fill="#fff" stroke="#b0b0b0" stroke-width="0.6"/><text x="189.9" y="111.4" font-size="4.5" text-anchor="start" font-weight="normal" fill="#333" textLength="11.2" lengthAdjust="spacingAndGlyphs">+ Epo</text><text x="64.3" y="28.6" font-size="7.3" text-anchor="middle" font-weight="normal" fill="#000" textLength="27.3" lengthAdjust="spacingAndGlyphs">GFP only</text><text x="138.4" y="28.6" font-size="7.3" text-anchor="middle" font-weight="normal" fill="#000" textLength="15.7" lengthAdjust="spacingAndGlyphs">EpoR</text><text x="211.9" y="28.6" font-size="7.3" text-anchor="middle" font-weight="normal" fill="#000" textLength="21.3" lengthAdjust="spacingAndGlyphs">EpoRm</text><line x1="14.6" y1="40" x2="14.6" y2="72.2" stroke="#333" stroke-width="1.3"/><path d="M14.6 36 L12.2 42.2 L17 42.2 Z" fill="#111"/><text x="17.1" y="93.6" font-size="6.4" text-anchor="middle" font-weight="normal" fill="#222" textLength="16.6" lengthAdjust="spacingAndGlyphs" transform="rotate(-90 17.1 93.6)">pSTAT5</text><line x1="14.7" y1="115" x2="14.7" y2="150.2" stroke="#333" stroke-width="1.3"/><line x1="55" y1="173.1" x2="123.2" y2="173.1" stroke="#333" stroke-width="1.3"/><text x="138.3" y="175.6" font-size="6.4" text-anchor="middle" font-weight="normal" fill="#222" textLength="9.6" lengthAdjust="spacingAndGlyphs">GFP</text><line x1="153" y1="173.1" x2="221" y2="173.1" stroke="#333" stroke-width="1.3"/><path d="M225.4 173.1 L219.4 170.7 L219.4 175.5 Z" fill="#111"/><rect x="283.7" y="46.3" width="43.1" height="67.4" fill="none" stroke="#000" stroke-width="1.1"/><line x1="280.1" y1="110.6" x2="283.7" y2="110.6" stroke="#000" stroke-width="0.9"/><text x="278.3" y="112.9" font-size="6.6" text-anchor="end" font-weight="normal" fill="#111" textLength="3.8" lengthAdjust="spacingAndGlyphs">0</text><line x1="280.1" y1="98.31" x2="283.7" y2="98.31" stroke="#000" stroke-width="0.9"/><text x="278.3" y="100.61" font-size="6.6" text-anchor="end" font-weight="normal" fill="#111" textLength="7.6" lengthAdjust="spacingAndGlyphs">20</text><line x1="280.1" y1="86.01" x2="283.7" y2="86.01" stroke="#000" stroke-width="0.9"/><text x="278.3" y="88.31" font-size="6.6" text-anchor="end" font-weight="normal" fill="#111" textLength="7.6" lengthAdjust="spacingAndGlyphs">40</text><line x1="280.1" y1="73.72" x2="283.7" y2="73.72" stroke="#000" stroke-width="0.9"/><text x="278.3" y="76.02" font-size="6.6" text-anchor="end" font-weight="normal" fill="#111" textLength="7.6" lengthAdjust="spacingAndGlyphs">60</text><line x1="280.1" y1="61.42" x2="283.7" y2="61.42" stroke="#000" stroke-width="0.9"/><text x="278.3" y="63.72" font-size="6.6" text-anchor="end" font-weight="normal" fill="#111" textLength="7.6" lengthAdjust="spacingAndGlyphs">80</text><line x1="280.1" y1="49.13" x2="283.7" y2="49.13" stroke="#000" stroke-width="0.9"/><text x="278.3" y="51.43" font-size="6.6" text-anchor="end" font-weight="normal" fill="#111" textLength="11.4" lengthAdjust="spacingAndGlyphs">100</text><line x1="298.07" y1="47.1" x2="298.07" y2="112.9" stroke="#111" stroke-width="0.8" stroke-dasharray="0.9 0.9"/><line x1="312.43" y1="47.1" x2="312.43" y2="112.9" stroke="#111" stroke-width="0.8" stroke-dasharray="0.9 0.9"/><line x1="290.88" y1="113.7" x2="290.88" y2="115.2" stroke="#000" stroke-width="0.6"/><line x1="305.25" y1="113.7" x2="305.25" y2="115.2" stroke="#000" stroke-width="0.6"/><line x1="319.62" y1="113.7" x2="319.62" y2="115.2" stroke="#000" stroke-width="0.6"/><rect x="339.3" y="46.3" width="43.1" height="67.4" fill="none" stroke="#000" stroke-width="1.1"/><line x1="335.7" y1="110.6" x2="339.3" y2="110.6" stroke="#000" stroke-width="0.9"/><line x1="335.7" y1="98.31" x2="339.3" y2="98.31" stroke="#000" stroke-width="0.9"/><line x1="335.7" y1="86.01" x2="339.3" y2="86.01" stroke="#000" stroke-width="0.9"/><line x1="335.7" y1="73.72" x2="339.3" y2="73.72" stroke="#000" stroke-width="0.9"/><line x1="335.7" y1="61.42" x2="339.3" y2="61.42" stroke="#000" stroke-width="0.9"/><line x1="335.7" y1="49.13" x2="339.3" y2="49.13" stroke="#000" stroke-width="0.9"/><line x1="353.67" y1="47.1" x2="353.67" y2="112.9" stroke="#111" stroke-width="0.8" stroke-dasharray="0.9 0.9"/><line x1="368.03" y1="47.1" x2="368.03" y2="112.9" stroke="#111" stroke-width="0.8" stroke-dasharray="0.9 0.9"/><line x1="346.48" y1="113.7" x2="346.48" y2="115.2" stroke="#000" stroke-width="0.6"/><line x1="360.85" y1="113.7" x2="360.85" y2="115.2" stroke="#000" stroke-width="0.6"/><line x1="375.22" y1="113.7" x2="375.22" y2="115.2" stroke="#000" stroke-width="0.6"/><rect x="394.6" y="46.3" width="43.1" height="67.4" fill="none" stroke="#000" stroke-width="1.1"/><line x1="391" y1="110.6" x2="394.6" y2="110.6" stroke="#000" stroke-width="0.9"/><line x1="391" y1="98.31" x2="394.6" y2="98.31" stroke="#000" stroke-width="0.9"/><line x1="391" y1="86.01" x2="394.6" y2="86.01" stroke="#000" stroke-width="0.9"/><line x1="391" y1="73.72" x2="394.6" y2="73.72" stroke="#000" stroke-width="0.9"/><line x1="391" y1="61.42" x2="394.6" y2="61.42" stroke="#000" stroke-width="0.9"/><line x1="391" y1="49.13" x2="394.6" y2="49.13" stroke="#000" stroke-width="0.9"/><line x1="408.97" y1="47.1" x2="408.97" y2="112.9" stroke="#111" stroke-width="0.8" stroke-dasharray="0.9 0.9"/><line x1="423.33" y1="47.1" x2="423.33" y2="112.9" stroke="#111" stroke-width="0.8" stroke-dasharray="0.9 0.9"/><line x1="401.78" y1="113.7" x2="401.78" y2="115.2" stroke="#000" stroke-width="0.6"/><line x1="416.15" y1="113.7" x2="416.15" y2="115.2" stroke="#000" stroke-width="0.6"/><line x1="430.52" y1="113.7" x2="430.52" y2="115.2" stroke="#000" stroke-width="0.6"/><text x="261.8" y="81.4" font-size="8.6" text-anchor="middle" font-weight="normal" fill="#111" textLength="49" lengthAdjust="spacingAndGlyphs" transform="rotate(-90 261.8 81.4)">% pSTAT5+ cells</text><text x="305.7" y="40.9" font-size="9" text-anchor="middle" font-weight="normal" fill="#000" textLength="29.8" lengthAdjust="spacingAndGlyphs">No Epo</text><text x="361" y="40.9" font-size="9" text-anchor="middle" font-weight="normal" fill="#000" textLength="16.2" lengthAdjust="spacingAndGlyphs">Epo</text><text x="415.9" y="30.3" font-size="9" text-anchor="middle" font-weight="normal" fill="#000" textLength="22.5" lengthAdjust="spacingAndGlyphs">Epo +</text><text x="416" y="40.9" font-size="9" text-anchor="middle" font-weight="normal" fill="#000" textLength="39.4" lengthAdjust="spacingAndGlyphs">ruxolitinib</text><circle cx="289" cy="109.9" r="1.35" fill="#4f9a2c" stroke="#111" stroke-width="0.5"/><circle cx="291.5" cy="109.9" r="1.35" fill="#4f9a2c" stroke="#111" stroke-width="0.5"/><circle cx="294" cy="109.9" r="1.35" fill="#4f9a2c" stroke="#111" stroke-width="0.5"/><circle cx="302.5" cy="109.9" r="1.35" fill="#b0142a" stroke="#111" stroke-width="0.5"/><circle cx="305" cy="109.9" r="1.35" fill="#b0142a" stroke="#111" stroke-width="0.5"/><circle cx="307.5" cy="109.9" r="1.35" fill="#b0142a" stroke="#111" stroke-width="0.5"/><circle cx="306.3" cy="108.9" r="1.35" fill="#b0142a" stroke="#111" stroke-width="0.5"/><circle cx="316.5" cy="109.9" r="1.35" fill="#4c2a7a" stroke="#111" stroke-width="0.5"/><circle cx="319" cy="109.9" r="1.35" fill="#4c2a7a" stroke="#111" stroke-width="0.5"/><circle cx="321.5" cy="109.9" r="1.35" fill="#4c2a7a" stroke="#111" stroke-width="0.5"/><circle cx="320.5" cy="109.2" r="1.35" fill="#4c2a7a" stroke="#111" stroke-width="0.5"/><circle cx="342" cy="109.9" r="1.35" fill="#4f9a2c" stroke="#111" stroke-width="0.5"/><circle cx="344.5" cy="109.9" r="1.35" fill="#4f9a2c" stroke="#111" stroke-width="0.5"/><circle cx="347" cy="109.9" r="1.35" fill="#4f9a2c" stroke="#111" stroke-width="0.5"/><circle cx="360.8" cy="53" r="1.3" fill="#cc0a2f" stroke="#111" stroke-width="0.55"/><circle cx="363.3" cy="54.8" r="1.3" fill="#cc0a2f" stroke="#111" stroke-width="0.55"/><circle cx="358.3" cy="56.6" r="1.3" fill="#cc0a2f" stroke="#111" stroke-width="0.55"/><circle cx="360.6" cy="58.8" r="1.3" fill="#cc0a2f" stroke="#111" stroke-width="0.55"/><circle cx="363.2" cy="60.4" r="1.3" fill="#cc0a2f" stroke="#111" stroke-width="0.55"/><circle cx="358.5" cy="65.5" r="1.3" fill="#cc0a2f" stroke="#111" stroke-width="0.55"/><circle cx="372.6" cy="51.2" r="1.3" fill="#5b2281" stroke="#111" stroke-width="0.55"/><circle cx="377.7" cy="50.1" r="1.3" fill="#5b2281" stroke="#111" stroke-width="0.55"/><circle cx="378.3" cy="52.2" r="1.3" fill="#5b2281" stroke="#111" stroke-width="0.55"/><circle cx="375.9" cy="53.4" r="1.3" fill="#5b2281" stroke="#111" stroke-width="0.55"/><circle cx="374.1" cy="54.9" r="1.3" fill="#5b2281" stroke="#111" stroke-width="0.55"/><circle cx="372.3" cy="52.8" r="1.3" fill="#5b2281" stroke="#111" stroke-width="0.55"/><path d="M346 52 V49.8 H360.5 V51.6" fill="none" stroke="#111" stroke-width="0.7"/><circle cx="350.6" cy="48.3" r="0.5" fill="#222"/><circle cx="352.3" cy="48.3" r="0.5" fill="#222"/><circle cx="354" cy="48.3" r="0.5" fill="#222"/><circle cx="355.7" cy="48.3" r="0.5" fill="#222"/><path d="M360.5 69.4 V71.2 H374.6 V69.4" fill="none" stroke="#111" stroke-width="0.7"/><circle cx="366.8" cy="72.8" r="0.5" fill="#222"/><circle cx="368.5" cy="72.8" r="0.5" fill="#222"/><circle cx="399.6" cy="110.6" r="1.35" fill="#4f9a2c" stroke="#111" stroke-width="0.5"/><circle cx="402" cy="110.6" r="1.35" fill="#4f9a2c" stroke="#111" stroke-width="0.5"/><circle cx="404.2" cy="110.6" r="1.35" fill="#4f9a2c" stroke="#111" stroke-width="0.5"/><circle cx="413.8" cy="106" r="1.4" fill="#cc0a2f" stroke="#111" stroke-width="0.55"/><line x1="411.8" y1="110.6" x2="415" y2="110.6" stroke="#000" stroke-width="0.5"/><circle cx="416.2" cy="110.6" r="1.35" fill="#b0142a" stroke="#111" stroke-width="0.5"/><circle cx="418.6" cy="110.6" r="1.35" fill="#b0142a" stroke="#111" stroke-width="0.5"/><circle cx="430.4" cy="89.9" r="1.4" fill="#5b2281" stroke="#111" stroke-width="0.55"/><circle cx="428" cy="110.6" r="1.35" fill="#4c2a7a" stroke="#111" stroke-width="0.5"/><circle cx="432.8" cy="110.6" r="1.35" fill="#4c2a7a" stroke="#111" stroke-width="0.5"/><circle cx="316" cy="126.3" r="1.75" fill="#7dc243" stroke="#111" stroke-width="0.7"/><text x="320.4" y="128.3" font-size="6.1" text-anchor="start" font-weight="normal" fill="#111" textLength="22.5" lengthAdjust="spacingAndGlyphs">GFP only</text><circle cx="353.8" cy="126.3" r="1.75" fill="#cc0a2f" stroke="#111" stroke-width="0.7"/><text x="358.6" y="128.3" font-size="6.1" text-anchor="start" font-weight="normal" fill="#111" textLength="13.5" lengthAdjust="spacingAndGlyphs">EpoR</text><circle cx="384.6" cy="126.3" r="1.75" fill="#5b2281" stroke="#111" stroke-width="0.7"/><text x="389.2" y="128.3" font-size="6.1" text-anchor="start" font-weight="normal" fill="#111" textLength="18.5" lengthAdjust="spacingAndGlyphs">EpoRm</text><rect x="30.2" y="226.5" width="51.6" height="48.4" fill="none" stroke="#000" stroke-width="1.3"/><line x1="27.2" y1="231.6" x2="30.2" y2="231.6" stroke="#000" stroke-width="1.1"/><text x="24" y="233.3" font-size="4.8" text-anchor="end" font-weight="normal" fill="#222">10⁵</text><line x1="28.7" y1="239.85" x2="30.2" y2="239.85" stroke="#000" stroke-width="0.6"/><line x1="28.7" y1="237.77" x2="30.2" y2="237.77" stroke="#000" stroke-width="0.6"/><line x1="28.7" y1="236.3" x2="30.2" y2="236.3" stroke="#000" stroke-width="0.6"/><line x1="28.7" y1="235.15" x2="30.2" y2="235.15" stroke="#000" stroke-width="0.6"/><line x1="28.7" y1="234.22" x2="30.2" y2="234.22" stroke="#000" stroke-width="0.6"/><line x1="28.7" y1="233.43" x2="30.2" y2="233.43" stroke="#000" stroke-width="0.6"/><line x1="28.7" y1="232.74" x2="30.2" y2="232.74" stroke="#000" stroke-width="0.6"/><line x1="28.7" y1="232.14" x2="30.2" y2="232.14" stroke="#000" stroke-width="0.6"/><line x1="27.2" y1="243.4" x2="30.2" y2="243.4" stroke="#000" stroke-width="1.1"/><text x="24" y="245.1" font-size="4.8" text-anchor="end" font-weight="normal" fill="#222">10⁴</text><line x1="28.7" y1="251.86" x2="30.2" y2="251.86" stroke="#000" stroke-width="0.6"/><line x1="28.7" y1="249.73" x2="30.2" y2="249.73" stroke="#000" stroke-width="0.6"/><line x1="28.7" y1="248.22" x2="30.2" y2="248.22" stroke="#000" stroke-width="0.6"/><line x1="28.7" y1="247.04" x2="30.2" y2="247.04" stroke="#000" stroke-width="0.6"/><line x1="28.7" y1="246.08" x2="30.2" y2="246.08" stroke="#000" stroke-width="0.6"/><line x1="28.7" y1="245.27" x2="30.2" y2="245.27" stroke="#000" stroke-width="0.6"/><line x1="28.7" y1="244.57" x2="30.2" y2="244.57" stroke="#000" stroke-width="0.6"/><line x1="28.7" y1="243.95" x2="30.2" y2="243.95" stroke="#000" stroke-width="0.6"/><line x1="27.2" y1="255.5" x2="30.2" y2="255.5" stroke="#000" stroke-width="1.1"/><text x="24" y="257.2" font-size="4.8" text-anchor="end" font-weight="normal" fill="#222">10³</text><line x1="28.7" y1="263.96" x2="30.2" y2="263.96" stroke="#000" stroke-width="0.6"/><line x1="28.7" y1="261.83" x2="30.2" y2="261.83" stroke="#000" stroke-width="0.6"/><line x1="28.7" y1="260.32" x2="30.2" y2="260.32" stroke="#000" stroke-width="0.6"/><line x1="28.7" y1="259.14" x2="30.2" y2="259.14" stroke="#000" stroke-width="0.6"/><line x1="28.7" y1="258.18" x2="30.2" y2="258.18" stroke="#000" stroke-width="0.6"/><line x1="28.7" y1="257.37" x2="30.2" y2="257.37" stroke="#000" stroke-width="0.6"/><line x1="28.7" y1="256.67" x2="30.2" y2="256.67" stroke="#000" stroke-width="0.6"/><line x1="28.7" y1="256.05" x2="30.2" y2="256.05" stroke="#000" stroke-width="0.6"/><line x1="27.2" y1="267.6" x2="30.2" y2="267.6" stroke="#000" stroke-width="1.1"/><text x="24" y="269.3" font-size="4.8" text-anchor="end" font-weight="normal" fill="#222">10²</text><line x1="28.7" y1="273.93" x2="30.2" y2="273.93" stroke="#000" stroke-width="0.6"/><line x1="28.7" y1="272.42" x2="30.2" y2="272.42" stroke="#000" stroke-width="0.6"/><line x1="28.7" y1="271.24" x2="30.2" y2="271.24" stroke="#000" stroke-width="0.6"/><line x1="28.7" y1="270.28" x2="30.2" y2="270.28" stroke="#000" stroke-width="0.6"/><line x1="28.7" y1="269.47" x2="30.2" y2="269.47" stroke="#000" stroke-width="0.6"/><line x1="28.7" y1="268.77" x2="30.2" y2="268.77" stroke="#000" stroke-width="0.6"/><line x1="28.7" y1="268.15" x2="30.2" y2="268.15" stroke="#000" stroke-width="0.6"/><line x1="40.1" y1="274.9" x2="40.1" y2="277.3" stroke="#000" stroke-width="1"/><text x="40.1" y="285.3" font-size="5" text-anchor="middle" font-weight="normal" fill="#222">50</text><line x1="49.9" y1="274.9" x2="49.9" y2="277.3" stroke="#000" stroke-width="1"/><text x="49.9" y="285.3" font-size="5" text-anchor="middle" font-weight="normal" fill="#222">100</text><line x1="59.7" y1="274.9" x2="59.7" y2="277.3" stroke="#000" stroke-width="1"/><text x="59.7" y="285.3" font-size="5" text-anchor="middle" font-weight="normal" fill="#222">150</text><line x1="69.4" y1="274.9" x2="69.4" y2="277.3" stroke="#000" stroke-width="1"/><text x="69.4" y="285.3" font-size="5" text-anchor="middle" font-weight="normal" fill="#222">200</text><line x1="79" y1="274.9" x2="79" y2="277.3" stroke="#000" stroke-width="1"/><text x="79" y="285.3" font-size="5" text-anchor="middle" font-weight="normal" fill="#222">250</text><line x1="32.15" y1="274.9" x2="32.15" y2="276.4" stroke="#000" stroke-width="0.6"/><line x1="34.1" y1="274.9" x2="34.1" y2="276.4" stroke="#000" stroke-width="0.6"/><line x1="36.05" y1="274.9" x2="36.05" y2="276.4" stroke="#000" stroke-width="0.6"/><line x1="38" y1="274.9" x2="38" y2="276.4" stroke="#000" stroke-width="0.6"/><line x1="39.95" y1="274.9" x2="39.95" y2="276.4" stroke="#000" stroke-width="0.6"/><line x1="41.9" y1="274.9" x2="41.9" y2="276.4" stroke="#000" stroke-width="0.6"/><line x1="43.85" y1="274.9" x2="43.85" y2="276.4" stroke="#000" stroke-width="0.6"/><line x1="45.8" y1="274.9" x2="45.8" y2="276.4" stroke="#000" stroke-width="0.6"/><line x1="47.75" y1="274.9" x2="47.75" y2="276.4" stroke="#000" stroke-width="0.6"/><line x1="49.7" y1="274.9" x2="49.7" y2="276.4" stroke="#000" stroke-width="0.6"/><line x1="51.65" y1="274.9" x2="51.65" y2="276.4" stroke="#000" stroke-width="0.6"/><line x1="53.6" y1="274.9" x2="53.6" y2="276.4" stroke="#000" stroke-width="0.6"/><line x1="55.55" y1="274.9" x2="55.55" y2="276.4" stroke="#000" stroke-width="0.6"/><line x1="57.5" y1="274.9" x2="57.5" y2="276.4" stroke="#000" stroke-width="0.6"/><line x1="59.45" y1="274.9" x2="59.45" y2="276.4" stroke="#000" stroke-width="0.6"/><line x1="61.4" y1="274.9" x2="61.4" y2="276.4" stroke="#000" stroke-width="0.6"/><line x1="63.35" y1="274.9" x2="63.35" y2="276.4" stroke="#000" stroke-width="0.6"/><line x1="65.3" y1="274.9" x2="65.3" y2="276.4" stroke="#000" stroke-width="0.6"/><line x1="67.25" y1="274.9" x2="67.25" y2="276.4" stroke="#000" stroke-width="0.6"/><line x1="69.2" y1="274.9" x2="69.2" y2="276.4" stroke="#000" stroke-width="0.6"/><line x1="71.15" y1="274.9" x2="71.15" y2="276.4" stroke="#000" stroke-width="0.6"/><line x1="73.1" y1="274.9" x2="73.1" y2="276.4" stroke="#000" stroke-width="0.6"/><line x1="75.05" y1="274.9" x2="75.05" y2="276.4" stroke="#000" stroke-width="0.6"/><line x1="77" y1="274.9" x2="77" y2="276.4" stroke="#000" stroke-width="0.6"/><line x1="78.95" y1="274.9" x2="78.95" y2="276.4" stroke="#000" stroke-width="0.6"/><line x1="80.9" y1="274.9" x2="80.9" y2="276.4" stroke="#000" stroke-width="0.6"/><text x="88.2" y="292.5" font-size="5" text-anchor="end" font-weight="normal" fill="#222" textLength="15.6" lengthAdjust="spacingAndGlyphs">(x 1,000)</text><rect x="30.2" y="297.4" width="51.6" height="48.4" fill="none" stroke="#000" stroke-width="1.3"/><line x1="27.2" y1="302.5" x2="30.2" y2="302.5" stroke="#000" stroke-width="1.1"/><text x="24" y="304.2" font-size="4.8" text-anchor="end" font-weight="normal" fill="#222">10⁵</text><line x1="28.7" y1="310.75" x2="30.2" y2="310.75" stroke="#000" stroke-width="0.6"/><line x1="28.7" y1="308.67" x2="30.2" y2="308.67" stroke="#000" stroke-width="0.6"/><line x1="28.7" y1="307.2" x2="30.2" y2="307.2" stroke="#000" stroke-width="0.6"/><line x1="28.7" y1="306.05" x2="30.2" y2="306.05" stroke="#000" stroke-width="0.6"/><line x1="28.7" y1="305.12" x2="30.2" y2="305.12" stroke="#000" stroke-width="0.6"/><line x1="28.7" y1="304.33" x2="30.2" y2="304.33" stroke="#000" stroke-width="0.6"/><line x1="28.7" y1="303.64" x2="30.2" y2="303.64" stroke="#000" stroke-width="0.6"/><line x1="28.7" y1="303.04" x2="30.2" y2="303.04" stroke="#000" stroke-width="0.6"/><line x1="27.2" y1="314.3" x2="30.2" y2="314.3" stroke="#000" stroke-width="1.1"/><text x="24" y="316" font-size="4.8" text-anchor="end" font-weight="normal" fill="#222">10⁴</text><line x1="28.7" y1="322.76" x2="30.2" y2="322.76" stroke="#000" stroke-width="0.6"/><line x1="28.7" y1="320.63" x2="30.2" y2="320.63" stroke="#000" stroke-width="0.6"/><line x1="28.7" y1="319.12" x2="30.2" y2="319.12" stroke="#000" stroke-width="0.6"/><line x1="28.7" y1="317.94" x2="30.2" y2="317.94" stroke="#000" stroke-width="0.6"/><line x1="28.7" y1="316.98" x2="30.2" y2="316.98" stroke="#000" stroke-width="0.6"/><line x1="28.7" y1="316.17" x2="30.2" y2="316.17" stroke="#000" stroke-width="0.6"/><line x1="28.7" y1="315.47" x2="30.2" y2="315.47" stroke="#000" stroke-width="0.6"/><line x1="28.7" y1="314.85" x2="30.2" y2="314.85" stroke="#000" stroke-width="0.6"/><line x1="27.2" y1="326.4" x2="30.2" y2="326.4" stroke="#000" stroke-width="1.1"/><text x="24" y="328.1" font-size="4.8" text-anchor="end" font-weight="normal" fill="#222">10³</text><line x1="28.7" y1="334.86" x2="30.2" y2="334.86" stroke="#000" stroke-width="0.6"/><line x1="28.7" y1="332.73" x2="30.2" y2="332.73" stroke="#000" stroke-width="0.6"/><line x1="28.7" y1="331.22" x2="30.2" y2="331.22" stroke="#000" stroke-width="0.6"/><line x1="28.7" y1="330.04" x2="30.2" y2="330.04" stroke="#000" stroke-width="0.6"/><line x1="28.7" y1="329.08" x2="30.2" y2="329.08" stroke="#000" stroke-width="0.6"/><line x1="28.7" y1="328.27" x2="30.2" y2="328.27" stroke="#000" stroke-width="0.6"/><line x1="28.7" y1="327.57" x2="30.2" y2="327.57" stroke="#000" stroke-width="0.6"/><line x1="28.7" y1="326.95" x2="30.2" y2="326.95" stroke="#000" stroke-width="0.6"/><line x1="27.2" y1="338.5" x2="30.2" y2="338.5" stroke="#000" stroke-width="1.1"/><text x="24" y="340.2" font-size="4.8" text-anchor="end" font-weight="normal" fill="#222">10²</text><line x1="28.7" y1="344.83" x2="30.2" y2="344.83" stroke="#000" stroke-width="0.6"/><line x1="28.7" y1="343.32" x2="30.2" y2="343.32" stroke="#000" stroke-width="0.6"/><line x1="28.7" y1="342.14" x2="30.2" y2="342.14" stroke="#000" stroke-width="0.6"/><line x1="28.7" y1="341.18" x2="30.2" y2="341.18" stroke="#000" stroke-width="0.6"/><line x1="28.7" y1="340.37" x2="30.2" y2="340.37" stroke="#000" stroke-width="0.6"/><line x1="28.7" y1="339.67" x2="30.2" y2="339.67" stroke="#000" stroke-width="0.6"/><line x1="28.7" y1="339.05" x2="30.2" y2="339.05" stroke="#000" stroke-width="0.6"/><line x1="40.1" y1="345.8" x2="40.1" y2="348.2" stroke="#000" stroke-width="1"/><text x="40.1" y="356.2" font-size="5" text-anchor="middle" font-weight="normal" fill="#222">50</text><line x1="49.9" y1="345.8" x2="49.9" y2="348.2" stroke="#000" stroke-width="1"/><text x="49.9" y="356.2" font-size="5" text-anchor="middle" font-weight="normal" fill="#222">100</text><line x1="59.7" y1="345.8" x2="59.7" y2="348.2" stroke="#000" stroke-width="1"/><text x="59.7" y="356.2" font-size="5" text-anchor="middle" font-weight="normal" fill="#222">150</text><line x1="69.4" y1="345.8" x2="69.4" y2="348.2" stroke="#000" stroke-width="1"/><text x="69.4" y="356.2" font-size="5" text-anchor="middle" font-weight="normal" fill="#222">200</text><line x1="79" y1="345.8" x2="79" y2="348.2" stroke="#000" stroke-width="1"/><text x="79" y="356.2" font-size="5" text-anchor="middle" font-weight="normal" fill="#222">250</text><line x1="32.15" y1="345.8" x2="32.15" y2="347.3" stroke="#000" stroke-width="0.6"/><line x1="34.1" y1="345.8" x2="34.1" y2="347.3" stroke="#000" stroke-width="0.6"/><line x1="36.05" y1="345.8" x2="36.05" y2="347.3" stroke="#000" stroke-width="0.6"/><line x1="38" y1="345.8" x2="38" y2="347.3" stroke="#000" stroke-width="0.6"/><line x1="39.95" y1="345.8" x2="39.95" y2="347.3" stroke="#000" stroke-width="0.6"/><line x1="41.9" y1="345.8" x2="41.9" y2="347.3" stroke="#000" stroke-width="0.6"/><line x1="43.85" y1="345.8" x2="43.85" y2="347.3" stroke="#000" stroke-width="0.6"/><line x1="45.8" y1="345.8" x2="45.8" y2="347.3" stroke="#000" stroke-width="0.6"/><line x1="47.75" y1="345.8" x2="47.75" y2="347.3" stroke="#000" stroke-width="0.6"/><line x1="49.7" y1="345.8" x2="49.7" y2="347.3" stroke="#000" stroke-width="0.6"/><line x1="51.65" y1="345.8" x2="51.65" y2="347.3" stroke="#000" stroke-width="0.6"/><line x1="53.6" y1="345.8" x2="53.6" y2="347.3" stroke="#000" stroke-width="0.6"/><line x1="55.55" y1="345.8" x2="55.55" y2="347.3" stroke="#000" stroke-width="0.6"/><line x1="57.5" y1="345.8" x2="57.5" y2="347.3" stroke="#000" stroke-width="0.6"/><line x1="59.45" y1="345.8" x2="59.45" y2="347.3" stroke="#000" stroke-width="0.6"/><line x1="61.4" y1="345.8" x2="61.4" y2="347.3" stroke="#000" stroke-width="0.6"/><line x1="63.35" y1="345.8" x2="63.35" y2="347.3" stroke="#000" stroke-width="0.6"/><line x1="65.3" y1="345.8" x2="65.3" y2="347.3" stroke="#000" stroke-width="0.6"/><line x1="67.25" y1="345.8" x2="67.25" y2="347.3" stroke="#000" stroke-width="0.6"/><line x1="69.2" y1="345.8" x2="69.2" y2="347.3" stroke="#000" stroke-width="0.6"/><line x1="71.15" y1="345.8" x2="71.15" y2="347.3" stroke="#000" stroke-width="0.6"/><line x1="73.1" y1="345.8" x2="73.1" y2="347.3" stroke="#000" stroke-width="0.6"/><line x1="75.05" y1="345.8" x2="75.05" y2="347.3" stroke="#000" stroke-width="0.6"/><line x1="77" y1="345.8" x2="77" y2="347.3" stroke="#000" stroke-width="0.6"/><line x1="78.95" y1="345.8" x2="78.95" y2="347.3" stroke="#000" stroke-width="0.6"/><line x1="80.9" y1="345.8" x2="80.9" y2="347.3" stroke="#000" stroke-width="0.6"/><text x="88.2" y="363.4" font-size="5" text-anchor="end" font-weight="normal" fill="#222" textLength="15.6" lengthAdjust="spacingAndGlyphs">(x 1,000)</text><rect x="103.7" y="226.5" width="51.6" height="48.4" fill="none" stroke="#000" stroke-width="1.3"/><line x1="100.7" y1="231.6" x2="103.7" y2="231.6" stroke="#000" stroke-width="1.1"/><text x="97.5" y="233.3" font-size="4.8" text-anchor="end" font-weight="normal" fill="#222">10⁵</text><line x1="102.2" y1="239.85" x2="103.7" y2="239.85" stroke="#000" stroke-width="0.6"/><line x1="102.2" y1="237.77" x2="103.7" y2="237.77" stroke="#000" stroke-width="0.6"/><line x1="102.2" y1="236.3" x2="103.7" y2="236.3" stroke="#000" stroke-width="0.6"/><line x1="102.2" y1="235.15" x2="103.7" y2="235.15" stroke="#000" stroke-width="0.6"/><line x1="102.2" y1="234.22" x2="103.7" y2="234.22" stroke="#000" stroke-width="0.6"/><line x1="102.2" y1="233.43" x2="103.7" y2="233.43" stroke="#000" stroke-width="0.6"/><line x1="102.2" y1="232.74" x2="103.7" y2="232.74" stroke="#000" stroke-width="0.6"/><line x1="102.2" y1="232.14" x2="103.7" y2="232.14" stroke="#000" stroke-width="0.6"/><line x1="100.7" y1="243.4" x2="103.7" y2="243.4" stroke="#000" stroke-width="1.1"/><text x="97.5" y="245.1" font-size="4.8" text-anchor="end" font-weight="normal" fill="#222">10⁴</text><line x1="102.2" y1="251.86" x2="103.7" y2="251.86" stroke="#000" stroke-width="0.6"/><line x1="102.2" y1="249.73" x2="103.7" y2="249.73" stroke="#000" stroke-width="0.6"/><line x1="102.2" y1="248.22" x2="103.7" y2="248.22" stroke="#000" stroke-width="0.6"/><line x1="102.2" y1="247.04" x2="103.7" y2="247.04" stroke="#000" stroke-width="0.6"/><line x1="102.2" y1="246.08" x2="103.7" y2="246.08" stroke="#000" stroke-width="0.6"/><line x1="102.2" y1="245.27" x2="103.7" y2="245.27" stroke="#000" stroke-width="0.6"/><line x1="102.2" y1="244.57" x2="103.7" y2="244.57" stroke="#000" stroke-width="0.6"/><line x1="102.2" y1="243.95" x2="103.7" y2="243.95" stroke="#000" stroke-width="0.6"/><line x1="100.7" y1="255.5" x2="103.7" y2="255.5" stroke="#000" stroke-width="1.1"/><text x="97.5" y="257.2" font-size="4.8" text-anchor="end" font-weight="normal" fill="#222">10³</text><line x1="102.2" y1="263.96" x2="103.7" y2="263.96" stroke="#000" stroke-width="0.6"/><line x1="102.2" y1="261.83" x2="103.7" y2="261.83" stroke="#000" stroke-width="0.6"/><line x1="102.2" y1="260.32" x2="103.7" y2="260.32" stroke="#000" stroke-width="0.6"/><line x1="102.2" y1="259.14" x2="103.7" y2="259.14" stroke="#000" stroke-width="0.6"/><line x1="102.2" y1="258.18" x2="103.7" y2="258.18" stroke="#000" stroke-width="0.6"/><line x1="102.2" y1="257.37" x2="103.7" y2="257.37" stroke="#000" stroke-width="0.6"/><line x1="102.2" y1="256.67" x2="103.7" y2="256.67" stroke="#000" stroke-width="0.6"/><line x1="102.2" y1="256.05" x2="103.7" y2="256.05" stroke="#000" stroke-width="0.6"/><line x1="100.7" y1="267.6" x2="103.7" y2="267.6" stroke="#000" stroke-width="1.1"/><text x="97.5" y="269.3" font-size="4.8" text-anchor="end" font-weight="normal" fill="#222">10²</text><line x1="102.2" y1="273.93" x2="103.7" y2="273.93" stroke="#000" stroke-width="0.6"/><line x1="102.2" y1="272.42" x2="103.7" y2="272.42" stroke="#000" stroke-width="0.6"/><line x1="102.2" y1="271.24" x2="103.7" y2="271.24" stroke="#000" stroke-width="0.6"/><line x1="102.2" y1="270.28" x2="103.7" y2="270.28" stroke="#000" stroke-width="0.6"/><line x1="102.2" y1="269.47" x2="103.7" y2="269.47" stroke="#000" stroke-width="0.6"/><line x1="102.2" y1="268.77" x2="103.7" y2="268.77" stroke="#000" stroke-width="0.6"/><line x1="102.2" y1="268.15" x2="103.7" y2="268.15" stroke="#000" stroke-width="0.6"/><line x1="113.6" y1="274.9" x2="113.6" y2="277.3" stroke="#000" stroke-width="1"/><text x="113.6" y="285.3" font-size="5" text-anchor="middle" font-weight="normal" fill="#222">50</text><line x1="123.4" y1="274.9" x2="123.4" y2="277.3" stroke="#000" stroke-width="1"/><text x="123.4" y="285.3" font-size="5" text-anchor="middle" font-weight="normal" fill="#222">100</text><line x1="133.2" y1="274.9" x2="133.2" y2="277.3" stroke="#000" stroke-width="1"/><text x="133.2" y="285.3" font-size="5" text-anchor="middle" font-weight="normal" fill="#222">150</text><line x1="142.9" y1="274.9" x2="142.9" y2="277.3" stroke="#000" stroke-width="1"/><text x="142.9" y="285.3" font-size="5" text-anchor="middle" font-weight="normal" fill="#222">200</text><line x1="152.5" y1="274.9" x2="152.5" y2="277.3" stroke="#000" stroke-width="1"/><text x="152.5" y="285.3" font-size="5" text-anchor="middle" font-weight="normal" fill="#222">250</text><line x1="105.65" y1="274.9" x2="105.65" y2="276.4" stroke="#000" stroke-width="0.6"/><line x1="107.6" y1="274.9" x2="107.6" y2="276.4" stroke="#000" stroke-width="0.6"/><line x1="109.55" y1="274.9" x2="109.55" y2="276.4" stroke="#000" stroke-width="0.6"/><line x1="111.5" y1="274.9" x2="111.5" y2="276.4" stroke="#000" stroke-width="0.6"/><line x1="113.45" y1="274.9" x2="113.45" y2="276.4" stroke="#000" stroke-width="0.6"/><line x1="115.4" y1="274.9" x2="115.4" y2="276.4" stroke="#000" stroke-width="0.6"/><line x1="117.35" y1="274.9" x2="117.35" y2="276.4" stroke="#000" stroke-width="0.6"/><line x1="119.3" y1="274.9" x2="119.3" y2="276.4" stroke="#000" stroke-width="0.6"/><line x1="121.25" y1="274.9" x2="121.25" y2="276.4" stroke="#000" stroke-width="0.6"/><line x1="123.2" y1="274.9" x2="123.2" y2="276.4" stroke="#000" stroke-width="0.6"/><line x1="125.15" y1="274.9" x2="125.15" y2="276.4" stroke="#000" stroke-width="0.6"/><line x1="127.1" y1="274.9" x2="127.1" y2="276.4" stroke="#000" stroke-width="0.6"/><line x1="129.05" y1="274.9" x2="129.05" y2="276.4" stroke="#000" stroke-width="0.6"/><line x1="131" y1="274.9" x2="131" y2="276.4" stroke="#000" stroke-width="0.6"/><line x1="132.95" y1="274.9" x2="132.95" y2="276.4" stroke="#000" stroke-width="0.6"/><line x1="134.9" y1="274.9" x2="134.9" y2="276.4" stroke="#000" stroke-width="0.6"/><line x1="136.85" y1="274.9" x2="136.85" y2="276.4" stroke="#000" stroke-width="0.6"/><line x1="138.8" y1="274.9" x2="138.8" y2="276.4" stroke="#000" stroke-width="0.6"/><line x1="140.75" y1="274.9" x2="140.75" y2="276.4" stroke="#000" stroke-width="0.6"/><line x1="142.7" y1="274.9" x2="142.7" y2="276.4" stroke="#000" stroke-width="0.6"/><line x1="144.65" y1="274.9" x2="144.65" y2="276.4" stroke="#000" stroke-width="0.6"/><line x1="146.6" y1="274.9" x2="146.6" y2="276.4" stroke="#000" stroke-width="0.6"/><line x1="148.55" y1="274.9" x2="148.55" y2="276.4" stroke="#000" stroke-width="0.6"/><line x1="150.5" y1="274.9" x2="150.5" y2="276.4" stroke="#000" stroke-width="0.6"/><line x1="152.45" y1="274.9" x2="152.45" y2="276.4" stroke="#000" stroke-width="0.6"/><line x1="154.4" y1="274.9" x2="154.4" y2="276.4" stroke="#000" stroke-width="0.6"/><text x="161.7" y="292.5" font-size="5" text-anchor="end" font-weight="normal" fill="#222" textLength="15.6" lengthAdjust="spacingAndGlyphs">(x 1,000)</text><rect x="103.7" y="297.4" width="51.6" height="48.4" fill="none" stroke="#000" stroke-width="1.3"/><line x1="100.7" y1="302.5" x2="103.7" y2="302.5" stroke="#000" stroke-width="1.1"/><text x="97.5" y="304.2" font-size="4.8" text-anchor="end" font-weight="normal" fill="#222">10⁵</text><line x1="102.2" y1="310.75" x2="103.7" y2="310.75" stroke="#000" stroke-width="0.6"/><line x1="102.2" y1="308.67" x2="103.7" y2="308.67" stroke="#000" stroke-width="0.6"/><line x1="102.2" y1="307.2" x2="103.7" y2="307.2" stroke="#000" stroke-width="0.6"/><line x1="102.2" y1="306.05" x2="103.7" y2="306.05" stroke="#000" stroke-width="0.6"/><line x1="102.2" y1="305.12" x2="103.7" y2="305.12" stroke="#000" stroke-width="0.6"/><line x1="102.2" y1="304.33" x2="103.7" y2="304.33" stroke="#000" stroke-width="0.6"/><line x1="102.2" y1="303.64" x2="103.7" y2="303.64" stroke="#000" stroke-width="0.6"/><line x1="102.2" y1="303.04" x2="103.7" y2="303.04" stroke="#000" stroke-width="0.6"/><line x1="100.7" y1="314.3" x2="103.7" y2="314.3" stroke="#000" stroke-width="1.1"/><text x="97.5" y="316" font-size="4.8" text-anchor="end" font-weight="normal" fill="#222">10⁴</text><line x1="102.2" y1="322.76" x2="103.7" y2="322.76" stroke="#000" stroke-width="0.6"/><line x1="102.2" y1="320.63" x2="103.7" y2="320.63" stroke="#000" stroke-width="0.6"/><line x1="102.2" y1="319.12" x2="103.7" y2="319.12" stroke="#000" stroke-width="0.6"/><line x1="102.2" y1="317.94" x2="103.7" y2="317.94" stroke="#000" stroke-width="0.6"/><line x1="102.2" y1="316.98" x2="103.7" y2="316.98" stroke="#000" stroke-width="0.6"/><line x1="102.2" y1="316.17" x2="103.7" y2="316.17" stroke="#000" stroke-width="0.6"/><line x1="102.2" y1="315.47" x2="103.7" y2="315.47" stroke="#000" stroke-width="0.6"/><line x1="102.2" y1="314.85" x2="103.7" y2="314.85" stroke="#000" stroke-width="0.6"/><line x1="100.7" y1="326.4" x2="103.7" y2="326.4" stroke="#000" stroke-width="1.1"/><text x="97.5" y="328.1" font-size="4.8" text-anchor="end" font-weight="normal" fill="#222">10³</text><line x1="102.2" y1="334.86" x2="103.7" y2="334.86" stroke="#000" stroke-width="0.6"/><line x1="102.2" y1="332.73" x2="103.7" y2="332.73" stroke="#000" stroke-width="0.6"/><line x1="102.2" y1="331.22" x2="103.7" y2="331.22" stroke="#000" stroke-width="0.6"/><line x1="102.2" y1="330.04" x2="103.7" y2="330.04" stroke="#000" stroke-width="0.6"/><line x1="102.2" y1="329.08" x2="103.7" y2="329.08" stroke="#000" stroke-width="0.6"/><line x1="102.2" y1="328.27" x2="103.7" y2="328.27" stroke="#000" stroke-width="0.6"/><line x1="102.2" y1="327.57" x2="103.7" y2="327.57" stroke="#000" stroke-width="0.6"/><line x1="102.2" y1="326.95" x2="103.7" y2="326.95" stroke="#000" stroke-width="0.6"/><line x1="100.7" y1="338.5" x2="103.7" y2="338.5" stroke="#000" stroke-width="1.1"/><text x="97.5" y="340.2" font-size="4.8" text-anchor="end" font-weight="normal" fill="#222">10²</text><line x1="102.2" y1="344.83" x2="103.7" y2="344.83" stroke="#000" stroke-width="0.6"/><line x1="102.2" y1="343.32" x2="103.7" y2="343.32" stroke="#000" stroke-width="0.6"/><line x1="102.2" y1="342.14" x2="103.7" y2="342.14" stroke="#000" stroke-width="0.6"/><line x1="102.2" y1="341.18" x2="103.7" y2="341.18" stroke="#000" stroke-width="0.6"/><line x1="102.2" y1="340.37" x2="103.7" y2="340.37" stroke="#000" stroke-width="0.6"/><line x1="102.2" y1="339.67" x2="103.7" y2="339.67" stroke="#000" stroke-width="0.6"/><line x1="102.2" y1="339.05" x2="103.7" y2="339.05" stroke="#000" stroke-width="0.6"/><line x1="113.6" y1="345.8" x2="113.6" y2="348.2" stroke="#000" stroke-width="1"/><text x="113.6" y="356.2" font-size="5" text-anchor="middle" font-weight="normal" fill="#222">50</text><line x1="123.4" y1="345.8" x2="123.4" y2="348.2" stroke="#000" stroke-width="1"/><text x="123.4" y="356.2" font-size="5" text-anchor="middle" font-weight="normal" fill="#222">100</text><line x1="133.2" y1="345.8" x2="133.2" y2="348.2" stroke="#000" stroke-width="1"/><text x="133.2" y="356.2" font-size="5" text-anchor="middle" font-weight="normal" fill="#222">150</text><line x1="142.9" y1="345.8" x2="142.9" y2="348.2" stroke="#000" stroke-width="1"/><text x="142.9" y="356.2" font-size="5" text-anchor="middle" font-weight="normal" fill="#222">200</text><line x1="152.5" y1="345.8" x2="152.5" y2="348.2" stroke="#000" stroke-width="1"/><text x="152.5" y="356.2" font-size="5" text-anchor="middle" font-weight="normal" fill="#222">250</text><line x1="105.65" y1="345.8" x2="105.65" y2="347.3" stroke="#000" stroke-width="0.6"/><line x1="107.6" y1="345.8" x2="107.6" y2="347.3" stroke="#000" stroke-width="0.6"/><line x1="109.55" y1="345.8" x2="109.55" y2="347.3" stroke="#000" stroke-width="0.6"/><line x1="111.5" y1="345.8" x2="111.5" y2="347.3" stroke="#000" stroke-width="0.6"/><line x1="113.45" y1="345.8" x2="113.45" y2="347.3" stroke="#000" stroke-width="0.6"/><line x1="115.4" y1="345.8" x2="115.4" y2="347.3" stroke="#000" stroke-width="0.6"/><line x1="117.35" y1="345.8" x2="117.35" y2="347.3" stroke="#000" stroke-width="0.6"/><line x1="119.3" y1="345.8" x2="119.3" y2="347.3" stroke="#000" stroke-width="0.6"/><line x1="121.25" y1="345.8" x2="121.25" y2="347.3" stroke="#000" stroke-width="0.6"/><line x1="123.2" y1="345.8" x2="123.2" y2="347.3" stroke="#000" stroke-width="0.6"/><line x1="125.15" y1="345.8" x2="125.15" y2="347.3" stroke="#000" stroke-width="0.6"/><line x1="127.1" y1="345.8" x2="127.1" y2="347.3" stroke="#000" stroke-width="0.6"/><line x1="129.05" y1="345.8" x2="129.05" y2="347.3" stroke="#000" stroke-width="0.6"/><line x1="131" y1="345.8" x2="131" y2="347.3" stroke="#000" stroke-width="0.6"/><line x1="132.95" y1="345.8" x2="132.95" y2="347.3" stroke="#000" stroke-width="0.6"/><line x1="134.9" y1="345.8" x2="134.9" y2="347.3" stroke="#000" stroke-width="0.6"/><line x1="136.85" y1="345.8" x2="136.85" y2="347.3" stroke="#000" stroke-width="0.6"/><line x1="138.8" y1="345.8" x2="138.8" y2="347.3" stroke="#000" stroke-width="0.6"/><line x1="140.75" y1="345.8" x2="140.75" y2="347.3" stroke="#000" stroke-width="0.6"/><line x1="142.7" y1="345.8" x2="142.7" y2="347.3" stroke="#000" stroke-width="0.6"/><line x1="144.65" y1="345.8" x2="144.65" y2="347.3" stroke="#000" stroke-width="0.6"/><line x1="146.6" y1="345.8" x2="146.6" y2="347.3" stroke="#000" stroke-width="0.6"/><line x1="148.55" y1="345.8" x2="148.55" y2="347.3" stroke="#000" stroke-width="0.6"/><line x1="150.5" y1="345.8" x2="150.5" y2="347.3" stroke="#000" stroke-width="0.6"/><line x1="152.45" y1="345.8" x2="152.45" y2="347.3" stroke="#000" stroke-width="0.6"/><line x1="154.4" y1="345.8" x2="154.4" y2="347.3" stroke="#000" stroke-width="0.6"/><text x="161.7" y="363.4" font-size="5" text-anchor="end" font-weight="normal" fill="#222" textLength="15.6" lengthAdjust="spacingAndGlyphs">(x 1,000)</text><rect x="177.3" y="226.5" width="51.6" height="48.4" fill="none" stroke="#000" stroke-width="1.3"/><line x1="174.3" y1="231.6" x2="177.3" y2="231.6" stroke="#000" stroke-width="1.1"/><text x="171.1" y="233.3" font-size="4.8" text-anchor="end" font-weight="normal" fill="#222">10⁵</text><line x1="175.8" y1="239.85" x2="177.3" y2="239.85" stroke="#000" stroke-width="0.6"/><line x1="175.8" y1="237.77" x2="177.3" y2="237.77" stroke="#000" stroke-width="0.6"/><line x1="175.8" y1="236.3" x2="177.3" y2="236.3" stroke="#000" stroke-width="0.6"/><line x1="175.8" y1="235.15" x2="177.3" y2="235.15" stroke="#000" stroke-width="0.6"/><line x1="175.8" y1="234.22" x2="177.3" y2="234.22" stroke="#000" stroke-width="0.6"/><line x1="175.8" y1="233.43" x2="177.3" y2="233.43" stroke="#000" stroke-width="0.6"/><line x1="175.8" y1="232.74" x2="177.3" y2="232.74" stroke="#000" stroke-width="0.6"/><line x1="175.8" y1="232.14" x2="177.3" y2="232.14" stroke="#000" stroke-width="0.6"/><line x1="174.3" y1="243.4" x2="177.3" y2="243.4" stroke="#000" stroke-width="1.1"/><text x="171.1" y="245.1" font-size="4.8" text-anchor="end" font-weight="normal" fill="#222">10⁴</text><line x1="175.8" y1="251.86" x2="177.3" y2="251.86" stroke="#000" stroke-width="0.6"/><line x1="175.8" y1="249.73" x2="177.3" y2="249.73" stroke="#000" stroke-width="0.6"/><line x1="175.8" y1="248.22" x2="177.3" y2="248.22" stroke="#000" stroke-width="0.6"/><line x1="175.8" y1="247.04" x2="177.3" y2="247.04" stroke="#000" stroke-width="0.6"/><line x1="175.8" y1="246.08" x2="177.3" y2="246.08" stroke="#000" stroke-width="0.6"/><line x1="175.8" y1="245.27" x2="177.3" y2="245.27" stroke="#000" stroke-width="0.6"/><line x1="175.8" y1="244.57" x2="177.3" y2="244.57" stroke="#000" stroke-width="0.6"/><line x1="175.8" y1="243.95" x2="177.3" y2="243.95" stroke="#000" stroke-width="0.6"/><line x1="174.3" y1="255.5" x2="177.3" y2="255.5" stroke="#000" stroke-width="1.1"/><text x="171.1" y="257.2" font-size="4.8" text-anchor="end" font-weight="normal" fill="#222">10³</text><line x1="175.8" y1="263.96" x2="177.3" y2="263.96" stroke="#000" stroke-width="0.6"/><line x1="175.8" y1="261.83" x2="177.3" y2="261.83" stroke="#000" stroke-width="0.6"/><line x1="175.8" y1="260.32" x2="177.3" y2="260.32" stroke="#000" stroke-width="0.6"/><line x1="175.8" y1="259.14" x2="177.3" y2="259.14" stroke="#000" stroke-width="0.6"/><line x1="175.8" y1="258.18" x2="177.3" y2="258.18" stroke="#000" stroke-width="0.6"/><line x1="175.8" y1="257.37" x2="177.3" y2="257.37" stroke="#000" stroke-width="0.6"/><line x1="175.8" y1="256.67" x2="177.3" y2="256.67" stroke="#000" stroke-width="0.6"/><line x1="175.8" y1="256.05" x2="177.3" y2="256.05" stroke="#000" stroke-width="0.6"/><line x1="174.3" y1="267.6" x2="177.3" y2="267.6" stroke="#000" stroke-width="1.1"/><text x="171.1" y="269.3" font-size="4.8" text-anchor="end" font-weight="normal" fill="#222">10²</text><line x1="175.8" y1="273.93" x2="177.3" y2="273.93" stroke="#000" stroke-width="0.6"/><line x1="175.8" y1="272.42" x2="177.3" y2="272.42" stroke="#000" stroke-width="0.6"/><line x1="175.8" y1="271.24" x2="177.3" y2="271.24" stroke="#000" stroke-width="0.6"/><line x1="175.8" y1="270.28" x2="177.3" y2="270.28" stroke="#000" stroke-width="0.6"/><line x1="175.8" y1="269.47" x2="177.3" y2="269.47" stroke="#000" stroke-width="0.6"/><line x1="175.8" y1="268.77" x2="177.3" y2="268.77" stroke="#000" stroke-width="0.6"/><line x1="175.8" y1="268.15" x2="177.3" y2="268.15" stroke="#000" stroke-width="0.6"/><line x1="187.2" y1="274.9" x2="187.2" y2="277.3" stroke="#000" stroke-width="1"/><text x="187.2" y="285.3" font-size="5" text-anchor="middle" font-weight="normal" fill="#222">50</text><line x1="197" y1="274.9" x2="197" y2="277.3" stroke="#000" stroke-width="1"/><text x="197" y="285.3" font-size="5" text-anchor="middle" font-weight="normal" fill="#222">100</text><line x1="206.8" y1="274.9" x2="206.8" y2="277.3" stroke="#000" stroke-width="1"/><text x="206.8" y="285.3" font-size="5" text-anchor="middle" font-weight="normal" fill="#222">150</text><line x1="216.5" y1="274.9" x2="216.5" y2="277.3" stroke="#000" stroke-width="1"/><text x="216.5" y="285.3" font-size="5" text-anchor="middle" font-weight="normal" fill="#222">200</text><line x1="226.1" y1="274.9" x2="226.1" y2="277.3" stroke="#000" stroke-width="1"/><text x="226.1" y="285.3" font-size="5" text-anchor="middle" font-weight="normal" fill="#222">250</text><line x1="179.25" y1="274.9" x2="179.25" y2="276.4" stroke="#000" stroke-width="0.6"/><line x1="181.2" y1="274.9" x2="181.2" y2="276.4" stroke="#000" stroke-width="0.6"/><line x1="183.15" y1="274.9" x2="183.15" y2="276.4" stroke="#000" stroke-width="0.6"/><line x1="185.1" y1="274.9" x2="185.1" y2="276.4" stroke="#000" stroke-width="0.6"/><line x1="187.05" y1="274.9" x2="187.05" y2="276.4" stroke="#000" stroke-width="0.6"/><line x1="189" y1="274.9" x2="189" y2="276.4" stroke="#000" stroke-width="0.6"/><line x1="190.95" y1="274.9" x2="190.95" y2="276.4" stroke="#000" stroke-width="0.6"/><line x1="192.9" y1="274.9" x2="192.9" y2="276.4" stroke="#000" stroke-width="0.6"/><line x1="194.85" y1="274.9" x2="194.85" y2="276.4" stroke="#000" stroke-width="0.6"/><line x1="196.8" y1="274.9" x2="196.8" y2="276.4" stroke="#000" stroke-width="0.6"/><line x1="198.75" y1="274.9" x2="198.75" y2="276.4" stroke="#000" stroke-width="0.6"/><line x1="200.7" y1="274.9" x2="200.7" y2="276.4" stroke="#000" stroke-width="0.6"/><line x1="202.65" y1="274.9" x2="202.65" y2="276.4" stroke="#000" stroke-width="0.6"/><line x1="204.6" y1="274.9" x2="204.6" y2="276.4" stroke="#000" stroke-width="0.6"/><line x1="206.55" y1="274.9" x2="206.55" y2="276.4" stroke="#000" stroke-width="0.6"/><line x1="208.5" y1="274.9" x2="208.5" y2="276.4" stroke="#000" stroke-width="0.6"/><line x1="210.45" y1="274.9" x2="210.45" y2="276.4" stroke="#000" stroke-width="0.6"/><line x1="212.4" y1="274.9" x2="212.4" y2="276.4" stroke="#000" stroke-width="0.6"/><line x1="214.35" y1="274.9" x2="214.35" y2="276.4" stroke="#000" stroke-width="0.6"/><line x1="216.3" y1="274.9" x2="216.3" y2="276.4" stroke="#000" stroke-width="0.6"/><line x1="218.25" y1="274.9" x2="218.25" y2="276.4" stroke="#000" stroke-width="0.6"/><line x1="220.2" y1="274.9" x2="220.2" y2="276.4" stroke="#000" stroke-width="0.6"/><line x1="222.15" y1="274.9" x2="222.15" y2="276.4" stroke="#000" stroke-width="0.6"/><line x1="224.1" y1="274.9" x2="224.1" y2="276.4" stroke="#000" stroke-width="0.6"/><line x1="226.05" y1="274.9" x2="226.05" y2="276.4" stroke="#000" stroke-width="0.6"/><line x1="228" y1="274.9" x2="228" y2="276.4" stroke="#000" stroke-width="0.6"/><text x="235.3" y="292.5" font-size="5" text-anchor="end" font-weight="normal" fill="#222" textLength="15.6" lengthAdjust="spacingAndGlyphs">(x 1,000)</text><rect x="177.3" y="297.4" width="51.6" height="48.4" fill="none" stroke="#000" stroke-width="1.3"/><line x1="174.3" y1="302.5" x2="177.3" y2="302.5" stroke="#000" stroke-width="1.1"/><text x="171.1" y="304.2" font-size="4.8" text-anchor="end" font-weight="normal" fill="#222">10⁵</text><line x1="175.8" y1="310.75" x2="177.3" y2="310.75" stroke="#000" stroke-width="0.6"/><line x1="175.8" y1="308.67" x2="177.3" y2="308.67" stroke="#000" stroke-width="0.6"/><line x1="175.8" y1="307.2" x2="177.3" y2="307.2" stroke="#000" stroke-width="0.6"/><line x1="175.8" y1="306.05" x2="177.3" y2="306.05" stroke="#000" stroke-width="0.6"/><line x1="175.8" y1="305.12" x2="177.3" y2="305.12" stroke="#000" stroke-width="0.6"/><line x1="175.8" y1="304.33" x2="177.3" y2="304.33" stroke="#000" stroke-width="0.6"/><line x1="175.8" y1="303.64" x2="177.3" y2="303.64" stroke="#000" stroke-width="0.6"/><line x1="175.8" y1="303.04" x2="177.3" y2="303.04" stroke="#000" stroke-width="0.6"/><line x1="174.3" y1="314.3" x2="177.3" y2="314.3" stroke="#000" stroke-width="1.1"/><text x="171.1" y="316" font-size="4.8" text-anchor="end" font-weight="normal" fill="#222">10⁴</text><line x1="175.8" y1="322.76" x2="177.3" y2="322.76" stroke="#000" stroke-width="0.6"/><line x1="175.8" y1="320.63" x2="177.3" y2="320.63" stroke="#000" stroke-width="0.6"/><line x1="175.8" y1="319.12" x2="177.3" y2="319.12" stroke="#000" stroke-width="0.6"/><line x1="175.8" y1="317.94" x2="177.3" y2="317.94" stroke="#000" stroke-width="0.6"/><line x1="175.8" y1="316.98" x2="177.3" y2="316.98" stroke="#000" stroke-width="0.6"/><line x1="175.8" y1="316.17" x2="177.3" y2="316.17" stroke="#000" stroke-width="0.6"/><line x1="175.8" y1="315.47" x2="177.3" y2="315.47" stroke="#000" stroke-width="0.6"/><line x1="175.8" y1="314.85" x2="177.3" y2="314.85" stroke="#000" stroke-width="0.6"/><line x1="174.3" y1="326.4" x2="177.3" y2="326.4" stroke="#000" stroke-width="1.1"/><text x="171.1" y="328.1" font-size="4.8" text-anchor="end" font-weight="normal" fill="#222">10³</text><line x1="175.8" y1="334.86" x2="177.3" y2="334.86" stroke="#000" stroke-width="0.6"/><line x1="175.8" y1="332.73" x2="177.3" y2="332.73" stroke="#000" stroke-width="0.6"/><line x1="175.8" y1="331.22" x2="177.3" y2="331.22" stroke="#000" stroke-width="0.6"/><line x1="175.8" y1="330.04" x2="177.3" y2="330.04" stroke="#000" stroke-width="0.6"/><line x1="175.8" y1="329.08" x2="177.3" y2="329.08" stroke="#000" stroke-width="0.6"/><line x1="175.8" y1="328.27" x2="177.3" y2="328.27" stroke="#000" stroke-width="0.6"/><line x1="175.8" y1="327.57" x2="177.3" y2="327.57" stroke="#000" stroke-width="0.6"/><line x1="175.8" y1="326.95" x2="177.3" y2="326.95" stroke="#000" stroke-width="0.6"/><line x1="174.3" y1="338.5" x2="177.3" y2="338.5" stroke="#000" stroke-width="1.1"/><text x="171.1" y="340.2" font-size="4.8" text-anchor="end" font-weight="normal" fill="#222">10²</text><line x1="175.8" y1="344.83" x2="177.3" y2="344.83" stroke="#000" stroke-width="0.6"/><line x1="175.8" y1="343.32" x2="177.3" y2="343.32" stroke="#000" stroke-width="0.6"/><line x1="175.8" y1="342.14" x2="177.3" y2="342.14" stroke="#000" stroke-width="0.6"/><line x1="175.8" y1="341.18" x2="177.3" y2="341.18" stroke="#000" stroke-width="0.6"/><line x1="175.8" y1="340.37" x2="177.3" y2="340.37" stroke="#000" stroke-width="0.6"/><line x1="175.8" y1="339.67" x2="177.3" y2="339.67" stroke="#000" stroke-width="0.6"/><line x1="175.8" y1="339.05" x2="177.3" y2="339.05" stroke="#000" stroke-width="0.6"/><line x1="187.2" y1="345.8" x2="187.2" y2="348.2" stroke="#000" stroke-width="1"/><text x="187.2" y="356.2" font-size="5" text-anchor="middle" font-weight="normal" fill="#222">50</text><line x1="197" y1="345.8" x2="197" y2="348.2" stroke="#000" stroke-width="1"/><text x="197" y="356.2" font-size="5" text-anchor="middle" font-weight="normal" fill="#222">100</text><line x1="206.8" y1="345.8" x2="206.8" y2="348.2" stroke="#000" stroke-width="1"/><text x="206.8" y="356.2" font-size="5" text-anchor="middle" font-weight="normal" fill="#222">150</text><line x1="216.5" y1="345.8" x2="216.5" y2="348.2" stroke="#000" stroke-width="1"/><text x="216.5" y="356.2" font-size="5" text-anchor="middle" font-weight="normal" fill="#222">200</text><line x1="226.1" y1="345.8" x2="226.1" y2="348.2" stroke="#000" stroke-width="1"/><text x="226.1" y="356.2" font-size="5" text-anchor="middle" font-weight="normal" fill="#222">250</text><line x1="179.25" y1="345.8" x2="179.25" y2="347.3" stroke="#000" stroke-width="0.6"/><line x1="181.2" y1="345.8" x2="181.2" y2="347.3" stroke="#000" stroke-width="0.6"/><line x1="183.15" y1="345.8" x2="183.15" y2="347.3" stroke="#000" stroke-width="0.6"/><line x1="185.1" y1="345.8" x2="185.1" y2="347.3" stroke="#000" stroke-width="0.6"/><line x1="187.05" y1="345.8" x2="187.05" y2="347.3" stroke="#000" stroke-width="0.6"/><line x1="189" y1="345.8" x2="189" y2="347.3" stroke="#000" stroke-width="0.6"/><line x1="190.95" y1="345.8" x2="190.95" y2="347.3" stroke="#000" stroke-width="0.6"/><line x1="192.9" y1="345.8" x2="192.9" y2="347.3" stroke="#000" stroke-width="0.6"/><line x1="194.85" y1="345.8" x2="194.85" y2="347.3" stroke="#000" stroke-width="0.6"/><line x1="196.8" y1="345.8" x2="196.8" y2="347.3" stroke="#000" stroke-width="0.6"/><line x1="198.75" y1="345.8" x2="198.75" y2="347.3" stroke="#000" stroke-width="0.6"/><line x1="200.7" y1="345.8" x2="200.7" y2="347.3" stroke="#000" stroke-width="0.6"/><line x1="202.65" y1="345.8" x2="202.65" y2="347.3" stroke="#000" stroke-width="0.6"/><line x1="204.6" y1="345.8" x2="204.6" y2="347.3" stroke="#000" stroke-width="0.6"/><line x1="206.55" y1="345.8" x2="206.55" y2="347.3" stroke="#000" stroke-width="0.6"/><line x1="208.5" y1="345.8" x2="208.5" y2="347.3" stroke="#000" stroke-width="0.6"/><line x1="210.45" y1="345.8" x2="210.45" y2="347.3" stroke="#000" stroke-width="0.6"/><line x1="212.4" y1="345.8" x2="212.4" y2="347.3" stroke="#000" stroke-width="0.6"/><line x1="214.35" y1="345.8" x2="214.35" y2="347.3" stroke="#000" stroke-width="0.6"/><line x1="216.3" y1="345.8" x2="216.3" y2="347.3" stroke="#000" stroke-width="0.6"/><line x1="218.25" y1="345.8" x2="218.25" y2="347.3" stroke="#000" stroke-width="0.6"/><line x1="220.2" y1="345.8" x2="220.2" y2="347.3" stroke="#000" stroke-width="0.6"/><line x1="222.15" y1="345.8" x2="222.15" y2="347.3" stroke="#000" stroke-width="0.6"/><line x1="224.1" y1="345.8" x2="224.1" y2="347.3" stroke="#000" stroke-width="0.6"/><line x1="226.05" y1="345.8" x2="226.05" y2="347.3" stroke="#000" stroke-width="0.6"/><line x1="228" y1="345.8" x2="228" y2="347.3" stroke="#000" stroke-width="0.6"/><text x="235.3" y="363.4" font-size="5" text-anchor="end" font-weight="normal" fill="#222" textLength="15.6" lengthAdjust="spacingAndGlyphs">(x 1,000)</text><path d="M46.47 271.43h0.7M46.55 264.31h0.7M45.43 259.34h0.7M46.84 258.32h0.7M46.42 263.41h0.7M46.7 267.83h0.7M44.96 273.55h0.7M47.04 267.3h0.7M46.65 273.07h0.7M45.49 262.51h0.7M43.75 267.49h0.7M46.75 271h0.7M45.94 269.4h0.7M44.8 270.75h0.7M46.48 270.42h0.7M45.4 262.68h0.7M45.51 264.92h0.7M47.57 270.09h0.7M44.14 274.04h0.7M46.3 260.03h0.7M45.75 267.85h0.7M45.6 273.74h0.7M45.58 273.25h0.7M45.19 261.21h0.7M45.3 261.61h0.7M46.72 272.31h0.7M44.86 266.95h0.7M46.2 269.58h0.7M44.78 266.9h0.7M46.11 272.72h0.7M44.19 265.29h0.7M46.18 261.29h0.7M46.65 272.72h0.7M47.04 269.64h0.7M46.96 271.16h0.7M46.04 260.08h0.7M46.08 270.41h0.7M46.75 267.18h0.7M46.43 273.2h0.7M46.38 270.61h0.7M46.04 273.49h0.7M46.66 270.61h0.7M46.82 273.6h0.7M46.33 259.8h0.7M45.48 270.22h0.7M43.87 272.04h0.7M45.13 266.43h0.7M46.4 264.52h0.7M47.61 273.39h0.7M45.14 270.5h0.7M46.4 256.93h0.7M46.58 272.74h0.7M46.49 270.66h0.7M45.83 264.35h0.7M44.68 266.81h0.7M44.58 265.68h0.7M46.22 269.51h0.7M47.33 270.99h0.7M45.95 267.6h0.7M47.14 267.53h0.7M47.1 269.54h0.7M47.06 260.04h0.7M46.97 257.61h0.7M45.93 264.22h0.7M47.02 273.62h0.7M46.49 263.03h0.7M46.62 257.82h0.7M46.26 268.8h0.7M45.87 273.01h0.7M46.51 265.1h0.7M46.49 269.08h0.7M46.52 266.75h0.7M45.57 271.5h0.7M45.77 269.87h0.7M45.63 269.93h0.7M46.71 264.91h0.7M46.59 265.45h0.7M47.01 268.81h0.7M46.81 272.63h0.7M45.75 258.85h0.7M47.63 272.23h0.7M45.34 271.52h0.7M47.02 262.38h0.7M47.12 272.1h0.7M46.31 264.3h0.7M45.5 271.11h0.7M47.65 271.69h0.7M47.35 267.25h0.7M45.78 256.77h0.7M48.02 261.57h0.7M45 261.13h0.7M46.46 264.31h0.7M46.44 272.02h0.7M47.23 264.27h0.7M45.92 273.63h0.7M47.34 271.16h0.7M45.71 263.65h0.7M45.63 265.7h0.7M45.32 258.06h0.7M44.18 264.22h0.7M44.68 269.81h0.7M46.39 273.83h0.7M45.07 272.81h0.7M45.92 265.92h0.7M46.04 273.43h0.7M45.75 270.24h0.7M46.36 267.1h0.7M45.99 272.62h0.7M46.05 267.33h0.7M47.03 273.31h0.7M46.83 263.14h0.7M47.19 261.1h0.7M46.12 266.07h0.7M45.13 272.88h0.7M46.33 270.79h0.7M47.28 267.84h0.7M45.22 272.95h0.7M46.84 265.35h0.7M46.74 270.33h0.7M47.15 273.59h0.7M47.01 260.72h0.7M45.96 265.03h0.7M45.62 272.35h0.7M45.61 264.85h0.7M47.15 268.55h0.7M47.76 269.78h0.7M44.7 263.79h0.7M45.87 273.27h0.7M45.72 260.31h0.7M46.23 272.16h0.7M46.13 274.09h0.7M47.63 263.13h0.7M46.02 273.01h0.7M45.27 263.79h0.7M46.36 262.46h0.7M44.81 273.97h0.7M45.64 271.67h0.7M45.91 263.62h0.7M45.11 260.14h0.7M46.53 265.37h0.7M47.89 265.57h0.7M44.98 267.67h0.7M46.02 262.24h0.7M47.23 262.19h0.7M46.09 267.16h0.7M46.54 266.33h0.7M46.54 269.08h0.7M46.19 266.75h0.7M46.74 267.39h0.7M45.4 264.17h0.7M46.73 272.6h0.7M45.96 269.45h0.7M45.92 270.94h0.7M44.65 265.99h0.7M44.15 257.14h0.7M45.67 261.5h0.7M45.31 271.44h0.7M45.87 258.78h0.7M46.23 269.44h0.7M46.49 268.88h0.7M46.53 273.57h0.7M45.37 270.62h0.7M46.32 271.49h0.7M46.1 263.07h0.7M46.16 272.43h0.7M46.09 273.92h0.7M46.33 267.12h0.7M46.2 267.57h0.7M45.75 261.93h0.7M46.26 273.17h0.7M45.46 264.52h0.7M46.96 261.87h0.7M45.61 262.1h0.7M46.25 272.23h0.7M44.71 266.18h0.7M46.21 273.8h0.7M46.87 267.27h0.7M45.89 261.19h0.7M44.56 266.68h0.7M46.44 268.48h0.7M45.63 271.97h0.7M46.76 264.14h0.7M47.2 266.43h0.7M44.84 273.92h0.7M47.21 272.82h0.7M45.25 273.96h0.7M46.31 266.85h0.7M44.18 255.57h0.7M46.93 269.19h0.7M46.85 270.95h0.7M45.45 271.84h0.7" stroke="#000" stroke-opacity="0.28" stroke-width="0.7" fill="none"/><path d="M46.81 257.78h0.6M44.29 262.37h0.6M45.11 267.59h0.6M45.05 270.27h0.6M46.26 269.05h0.6M45.27 266.24h0.6M44.99 264.44h0.6M44.24 259.63h0.6M46.04 261.47h0.6M43.64 268.42h0.6M47.54 268.3h0.6M46.41 259.26h0.6M45.3 266.19h0.6M44.81 269.25h0.6M44.93 267.01h0.6M47.68 269.12h0.6M46.41 266.34h0.6M45.52 258.06h0.6M44.11 270.68h0.6M47.45 267h0.6M46.05 259.46h0.6M45.66 257.85h0.6M42.56 258.78h0.6M44.51 258.89h0.6M42.66 268.88h0.6M46.74 264.9h0.6M45.48 263.65h0.6M46.56 266.35h0.6M47.41 270.72h0.6M48.67 267.66h0.6M47.64 259.36h0.6M43.62 261.88h0.6M44.15 266.34h0.6M45.54 261.06h0.6M47.85 261.04h0.6M46 259.19h0.6M45.55 265.72h0.6M47.43 265.15h0.6M44.7 265.32h0.6M44.35 258.88h0.6M46.1 266.67h0.6M45.37 262.12h0.6M47.92 268.2h0.6M46.04 266.19h0.6M43.79 259.69h0.6M45.49 260.32h0.6M45.68 267.13h0.6M46.21 259.81h0.6M45.14 260.09h0.6M45.2 266.82h0.6M45.49 269.16h0.6M46.02 270.09h0.6M43.13 271.02h0.6M49.6 257.59h0.6M45.76 264.16h0.6M44.93 260.6h0.6M44.2 269.27h0.6M45.6 259.86h0.6M45.12 270.14h0.6M45.26 262.41h0.6M44.68 270.04h0.6M46.49 267.14h0.6M47.68 259h0.6M44.14 267.71h0.6M46.31 260.05h0.6M47.03 265.57h0.6M46.18 271.07h0.6M46.79 264.48h0.6M42.47 262.65h0.6M45.1 264.24h0.6M47.89 269.29h0.6M44.37 264.89h0.6M46.6 263.42h0.6M46.58 258.06h0.6M46.52 269.26h0.6M47.48 263.4h0.6M43.68 266.44h0.6M44.8 268.48h0.6M48.27 264.67h0.6M46.74 264.16h0.6M46.31 264.75h0.6M44.6 264.67h0.6M46.33 265.95h0.6M47.28 265.9h0.6M46.71 264.52h0.6M45.92 265.86h0.6M45.09 258.19h0.6M46.68 263.4h0.6M45.79 270.11h0.6M45.6 258h0.6" stroke="#000" stroke-opacity="0.22" stroke-width="0.6" fill="none"/><path d="M46.1 254.9 Q48.1 263.5 46.1 274.3 Q44.1 263.5 46.1 254.9 Z" fill="#2a2a2a" opacity="0.55"/><path d="M61.66 257.02h0.7M62.48 258.56h0.7M62.83 259.5h0.7M61.65 255.58h0.7M62.2 258.52h0.7M60.66 257.41h0.7M63.34 255.31h0.7M61.42 255.2h0.7M61.75 261.61h0.7M60.98 256.79h0.7M62.19 257.92h0.7M63.21 259.51h0.7M61.63 258.15h0.7M62.11 256.38h0.7M62.8 255.63h0.7M61.61 258.16h0.7M61.51 257.19h0.7M62.18 257.93h0.7M60.94 255.32h0.7M62.91 256.58h0.7M62.1 259.53h0.7M62.49 258.62h0.7M61.93 256.39h0.7M62.74 257.55h0.7M61.58 255.56h0.7M61.62 257.19h0.7M61.94 257.84h0.7M61.12 256.15h0.7M63.17 258.81h0.7M63.02 258.91h0.7M63.3 257.85h0.7M62.75 259.61h0.7M63.48 255.29h0.7M62.56 258.61h0.7M61.42 258.04h0.7M63.12 258.39h0.7M63.24 254.55h0.7M61.92 257.6h0.7M62.14 261.16h0.7M62.06 257.2h0.7M63.55 257.68h0.7M62.98 258.56h0.7M63.06 258.24h0.7M63.41 257.49h0.7M60.94 257.01h0.7M63.02 258.79h0.7M61.81 257.96h0.7M63.09 256.89h0.7M63.11 257.4h0.7M63.19 259.67h0.7M62.94 259.94h0.7M61.74 258.1h0.7M61.28 255.47h0.7M63.25 255.9h0.7M60.46 256.45h0.7M61.68 257.31h0.7M62.86 258.15h0.7M62.97 258.83h0.7M62.48 257.35h0.7M63.03 258.3h0.7M62.56 256.74h0.7M62.96 254.69h0.7M61.49 257.48h0.7M62.23 258.78h0.7M63.5 255.55h0.7M62.68 257.63h0.7M63.56 259.4h0.7M63.51 257.53h0.7M60.22 259.31h0.7M62.01 259.66h0.7M63 257.87h0.7M60.97 256.81h0.7M63.28 258.41h0.7M61.93 256.72h0.7M62.6 256.07h0.7M61.59 260.61h0.7M61.88 257.52h0.7M62.07 256.82h0.7M62.2 257.55h0.7M62.99 258.08h0.7" stroke="#000" stroke-opacity="0.32" stroke-width="0.7" fill="none"/><ellipse cx="62.4" cy="257.7" rx="0.9" ry="1.9" fill="#333" opacity="0.35"/><path d="M63.58 258.33h0.6M52.93 258.05h0.6M60.59 258.64h0.6M50.24 258.18h0.6M55.78 254.78h0.6M54.37 257.98h0.6M59.36 256.7h0.6M46.17 256.7h0.6M59.95 255.79h0.6M57.45 256.25h0.6M58.71 257.32h0.6M61.56 257.01h0.6M50.02 259.72h0.6M53.57 255.96h0.6M60.23 257.96h0.6M53.17 258.48h0.6M48.34 257.55h0.6M56.94 257.5h0.6M47.68 258.66h0.6M59.84 256.05h0.6M49.18 256.52h0.6M60.72 257.19h0.6M54.13 257.74h0.6M56.57 257.61h0.6M61.69 258.63h0.6M59.06 258.57h0.6M53.37 256.49h0.6M54.98 257.36h0.6M51.43 257.72h0.6M61.55 256.67h0.6M61.11 257.69h0.6M55.64 258.2h0.6M50.45 258h0.6M57.87 259.38h0.6M61.41 257.81h0.6M51.19 256.04h0.6M57.58 255.87h0.6M53.71 257.62h0.6M58.01 256.8h0.6M57.71 257.31h0.6M60.57 259.54h0.6M56.65 255.85h0.6M47.49 259.15h0.6M53.1 256.26h0.6M59.3 255.31h0.6M47.19 257.43h0.6M60.58 257.55h0.6M56.7 257.62h0.6M56.65 256.97h0.6M53.21 257.8h0.6M53.59 257.14h0.6M56.4 259.27h0.6M56.19 257.2h0.6M57.1 258.55h0.6M47.83 257.84h0.6M51.82 258.02h0.6M58.45 256.01h0.6M53.31 258.07h0.6M60.06 256.48h0.6M59.75 257.88h0.6M49.69 257.09h0.6M54.24 258.5h0.6M48.42 257.97h0.6M49.62 255.64h0.6M57.18 259.04h0.6M51.3 258.34h0.6M61.74 255.85h0.6M54.94 257.96h0.6M47.27 258.25h0.6M55.7 258.01h0.6M49.4 256.85h0.6M61.19 255.12h0.6M57.65 255.16h0.6M49.24 256.45h0.6M58.94 258.46h0.6M52.18 258.51h0.6M58.63 256.06h0.6M49.65 254.91h0.6M56.67 258.95h0.6M57.11 257h0.6M52.07 258.92h0.6M46.81 255.81h0.6M53.01 256.94h0.6M49.25 257.59h0.6M50.57 259.12h0.6M57.27 256.18h0.6M54.63 255.28h0.6M48.94 258.04h0.6M60.29 259.7h0.6M48.35 259.15h0.6M56.81 257.77h0.6M60.5 257.88h0.6M49.73 258.49h0.6M53.12 257.24h0.6M57.56 256.48h0.6M61.78 254.81h0.6M61.63 258.58h0.6M58.39 259.49h0.6M50.75 259.38h0.6M54.13 255.72h0.6M55.98 255.08h0.6M59.59 259.81h0.6M56.27 256.95h0.6M56.92 259.63h0.6M48.53 257.58h0.6M48.41 258.33h0.6M56.38 256.96h0.6M54.26 257.5h0.6M54.55 258.53h0.6M58.37 259.24h0.6M58.5 255.28h0.6M53.57 256.07h0.6M53.95 257.08h0.6M61.82 255.9h0.6M55.83 259.61h0.6M61.41 256.64h0.6M50.42 259.2h0.6M52.28 254.48h0.6M60.81 255.22h0.6M53.95 255.64h0.6M58.38 257.34h0.6M53.57 256.04h0.6M54.22 258.21h0.6M52.16 258.04h0.6M53.87 255.64h0.6M61.68 257.62h0.6M49.75 258.56h0.6M49.79 259.18h0.6M49.03 257.11h0.6M47.44 257.3h0.6" stroke="#000" stroke-opacity="0.3" stroke-width="0.6" fill="none"/><path d="M54.05 265.72h0.6M52.18 264.28h0.6M40.88 270.89h0.6M44.81 256.03h0.6M45.48 255.65h0.6M54.24 258.77h0.6M47.2 257.65h0.6M52.89 262.46h0.6M51.8 264.32h0.6M55.11 263.97h0.6M63.32 258.05h0.6M63.29 258.55h0.6M49.46 260.07h0.6M68.89 262.77h0.6M66.07 259.71h0.6M56.49 255.15h0.6M53.71 264.18h0.6M49.87 261.08h0.6M45.03 255.5h0.6M52.96 267.11h0.6M57.52 262.76h0.6M51.81 251.54h0.6M49.78 263.37h0.6M62.13 254.25h0.6M40.46 260.28h0.6M54.15 256.63h0.6M34.76 262.75h0.6M70.26 262.24h0.6M57.74 258.27h0.6M56.6 263.18h0.6M53.53 256.81h0.6M52.76 256.11h0.6M55.12 256.24h0.6M61.62 266.72h0.6M62.04 259.51h0.6M47.7 262.08h0.6M58.98 260.68h0.6M49.11 257.13h0.6M63.41 258.82h0.6M60.39 262.12h0.6M50.5 261.92h0.6M51.22 263.92h0.6M53.6 258.12h0.6M51.29 256.27h0.6M44.91 255.89h0.6M47.55 270.2h0.6M58.01 261.29h0.6M53.24 257.37h0.6M59.37 253.82h0.6M50.72 252.28h0.6" stroke="#000" stroke-opacity="0.2" stroke-width="0.6" fill="none"/><path d="M44.85 242.36h0.68M61.98 237.65h0.68M60.32 246.27h0.68M46.35 245.43h0.68M60.96 241.49h0.68M46.46 243.53h0.68M48.36 244.95h0.68M48.69 245.66h0.68M63.77 240.38h0.68M53.44 237.88h0.68M46.21 243.59h0.68M62.67 243.05h0.68M60.22 238.53h0.68M51.67 239.36h0.68M45.69 249.17h0.68M46.91 244.17h0.68M45.76 250.64h0.68M51.19 235.42h0.68M51.35 238.6h0.68M46.85 246.55h0.68M48.91 242.98h0.68M45.18 244.83h0.68M48.67 235.75h0.68M50.2 241.88h0.68M47.98 243.32h0.68M56.74 237.58h0.68M47.95 249.34h0.68M56.42 237.64h0.68M45.81 248.03h0.68M50.44 236.42h0.68M65.06 244h0.68M58.81 239.25h0.68M58.96 234.95h0.68M46.09 245.55h0.68M49.69 235.81h0.68M57.92 235.95h0.68M48.7 240.38h0.68M39.77 248.64h0.68M62.56 238.01h0.68M60.46 242.01h0.68M62.76 243.32h0.68M57.84 239.53h0.68M57.05 236.95h0.68M54.64 238.47h0.68M62 242.87h0.68M55.01 235.16h0.68M61.71 242.21h0.68M46.86 238.92h0.68M54.66 235.82h0.68M46.5 250.82h0.68M46.63 249.42h0.68M55.62 237.42h0.68M48.4 250.7h0.68M61.37 242.75h0.68M43.39 244.38h0.68M47.35 243.51h0.68M47.99 241.26h0.68M59.11 239.5h0.68M56.48 236.38h0.68M47.07 247.66h0.68M48.85 247.62h0.68M58.34 237.1h0.68M61.26 242.87h0.68M58.59 236.4h0.68M45.46 240.57h0.68M64.74 241.27h0.68M45.47 246.08h0.68M47.57 246.34h0.68M50.54 234.77h0.68M52.86 237.05h0.68M47.87 243.92h0.68M44.44 252.99h0.68M44.73 243.99h0.68M55.67 237.81h0.68M52.71 237.76h0.68M47.1 246.52h0.68M46.13 242.37h0.68M52.62 239.69h0.68M56.21 238.83h0.68M59.03 241.31h0.68M50.98 238.55h0.68M60.35 240.35h0.68M48.48 248.21h0.68M61.17 244.54h0.68M57.81 236.65h0.68M50.18 237.85h0.68M58.63 244.57h0.68M48.13 240.84h0.68M51.61 239.19h0.68M55.24 238.89h0.68M49.24 243.95h0.68M60.22 237.78h0.68M47.44 236.77h0.68M51.69 243.76h0.68M54.78 245.44h0.68M60 250.29h0.68M48.4 246.19h0.68M58.65 248.59h0.68M61.04 238.06h0.68M51.16 238.43h0.68M58.53 238.12h0.68M48.6 250.23h0.68M59.36 244.3h0.68M61.93 243.09h0.68M61.15 244.23h0.68M60.22 244.29h0.68M59.31 244.8h0.68M57.09 244.62h0.68M57.99 242.01h0.68M61.61 245.48h0.68M60.37 248.31h0.68M61.51 243.21h0.68M60.98 243.24h0.68M59.57 242.85h0.68M61.75 242.62h0.68M61.46 243.45h0.68M59.92 242.94h0.68M62.04 243.64h0.68M59.68 241.24h0.68M60.07 241.64h0.68M63.12 242.56h0.68M59.29 241.4h0.68M60.26 241.11h0.68M61.48 239.4h0.68M58.88 240.64h0.68M58.79 244.77h0.68M62.02 239.41h0.68M61.45 244.74h0.68M59.97 243.65h0.68M59.65 241.37h0.68M59.49 241.89h0.68M60.93 245.1h0.68M58.18 242.61h0.68M61.21 245.48h0.68M60.9 240.18h0.68M60.57 241.86h0.68M59.66 241.93h0.68M60.45 243.29h0.68M56.2 244.23h0.68M58.22 241.69h0.68" stroke="#b82030" stroke-opacity="0.45" stroke-width="0.68" fill="none"/><text x="77.1" y="234.3" font-size="5.2" text-anchor="end" font-weight="normal" fill="#222">2.0%</text><path d="M118.25 273.27h0.7M120.99 271.11h0.7M119.32 266.89h0.7M118.8 264.45h0.7M119.1 269.18h0.7M117.87 260.47h0.7M118.49 270.98h0.7M119.71 256.42h0.7M118.62 273.38h0.7M120.16 265.34h0.7M118.97 268.44h0.7M119.78 262.55h0.7M117.91 271.8h0.7M118.85 265.55h0.7M120.19 264.48h0.7M118.69 271.66h0.7M118.82 273.48h0.7M117.56 264.84h0.7M118.42 262.65h0.7M119.2 270.47h0.7M120.13 266.32h0.7M119.44 271.39h0.7M119.82 273.14h0.7M118.7 272.9h0.7M119.49 269.27h0.7M118.05 271.82h0.7M118.26 273.18h0.7M118.48 269.91h0.7M118.22 271.48h0.7M117.73 268.62h0.7M118.65 266.88h0.7M119.19 269.27h0.7M118.9 265.91h0.7M118.78 274.05h0.7M118.36 263.19h0.7M117.08 267.13h0.7M117.05 270.12h0.7M118.99 269.33h0.7M119.74 273.33h0.7M118.59 270.33h0.7M117.44 269.53h0.7M118.65 265.92h0.7M118.05 266.82h0.7M117.91 264.74h0.7M118.62 269.51h0.7M119.5 268.65h0.7M117.57 256.5h0.7M118.44 272.26h0.7M119.09 272.16h0.7M118.19 271.03h0.7M120.74 273.67h0.7M116.81 266.06h0.7M118.89 274h0.7M118.56 268.14h0.7M118.38 272.26h0.7M118.92 273.86h0.7M119.23 270.91h0.7M118.41 265.88h0.7M117.65 259.54h0.7M120.63 271.94h0.7M117.79 267.33h0.7M118.83 255.78h0.7M118.6 264.28h0.7M117.07 266.02h0.7M119.67 261.94h0.7M119.28 273.65h0.7M118.38 269.06h0.7M117.99 267.27h0.7M118.06 266.6h0.7M119.41 262.64h0.7M118.23 264.24h0.7M119.47 267.61h0.7M118.59 263.56h0.7M118.62 272.64h0.7M119.87 265.91h0.7M118.11 268.74h0.7M118.17 272.93h0.7M118.52 270.6h0.7M119.01 272.81h0.7M118.77 273.23h0.7M118.51 269.23h0.7M118.09 271.88h0.7M119.04 268.05h0.7M119.88 260.71h0.7M118.05 273.75h0.7M120.67 273.92h0.7M117.57 272.83h0.7M118.26 261.24h0.7M117.9 269.55h0.7M118.13 266.44h0.7M119.82 257.91h0.7M119.12 272.84h0.7M119.99 272.91h0.7M120.67 263.57h0.7M117.5 257.07h0.7M117.61 265.87h0.7M118.72 273.09h0.7M120.71 268.92h0.7M119.07 269.98h0.7M120 272.05h0.7M119.04 263.17h0.7M118.01 270.05h0.7M118.95 270h0.7M119.19 258.04h0.7M121.46 272.83h0.7M117.94 262.46h0.7M118.65 264.66h0.7M119.5 270.18h0.7M118.38 273.63h0.7M118.9 272.09h0.7M118.03 264.64h0.7M118.21 269.66h0.7M118.57 268.56h0.7M119.46 261.4h0.7M117.59 273.04h0.7M117.4 266.15h0.7M119.42 267.03h0.7M118.53 262.25h0.7M119.04 270.13h0.7M117.89 272.01h0.7M118.77 273.83h0.7M119.3 261.85h0.7M118.58 266.86h0.7M115.99 273.63h0.7M117.88 273.21h0.7M119.26 267.76h0.7M117.66 272.93h0.7M119.7 263.62h0.7M117.5 269.36h0.7M120.22 270.92h0.7M118.01 271.03h0.7M118.54 268.5h0.7M119.68 270.12h0.7M118.68 269.15h0.7M120.01 258.73h0.7M118.78 263.87h0.7M119.69 272.04h0.7M118.38 265.8h0.7M117.2 261.04h0.7M119.45 261.97h0.7M119.22 270.91h0.7M118.35 267.54h0.7M119.59 268.09h0.7M117.79 271.5h0.7M119.39 268.85h0.7M119.52 263.12h0.7M120.13 259.49h0.7M117.23 263.61h0.7M118.92 263.37h0.7M117.43 263.32h0.7M120.4 269.35h0.7M119.42 263.47h0.7M117.31 266.43h0.7M118.58 257.93h0.7M119.24 263.89h0.7M119.95 258.74h0.7M117.79 271.45h0.7M119.16 266.43h0.7M117.24 271.52h0.7M116.9 269.29h0.7M119.09 265.59h0.7M118.97 270.96h0.7M117.8 268.06h0.7M118.72 271.32h0.7M117.25 267.37h0.7M119.16 271.86h0.7M118.7 267.15h0.7M119.93 270.64h0.7M119.71 270.71h0.7M118.54 267.68h0.7M119.29 271.94h0.7M118.67 271.29h0.7M119.17 271.58h0.7M117.82 262.23h0.7M118.51 269.65h0.7M118.16 264.53h0.7M118.78 260.13h0.7M119.92 262.22h0.7M117.82 269.68h0.7M118.66 267.79h0.7M118.73 265.58h0.7M118.12 266.35h0.7M116.96 272.18h0.7M120.6 270.03h0.7M119.19 259.72h0.7M119.09 261.72h0.7M118.09 274.08h0.7M117.74 266.26h0.7M119.48 269.67h0.7M119.1 272.35h0.7M119.25 268.83h0.7M118.74 270.83h0.7M117.29 270.3h0.7M119.1 273.56h0.7M119.37 269.49h0.7M118.31 268.46h0.7M117.71 266.25h0.7" stroke="#000" stroke-opacity="0.28" stroke-width="0.7" fill="none"/><path d="M118.88 259.39h0.6M117.53 268.59h0.6M118.44 261.9h0.6M115.85 269.1h0.6M118.47 271.01h0.6M116.46 269.79h0.6M117.69 268.23h0.6M117.34 259.45h0.6M118.94 260.06h0.6M118.07 263.45h0.6M120.62 270.55h0.6M116.77 264.16h0.6M120.46 257.96h0.6M117.74 271.34h0.6M120.02 264.23h0.6M119.93 258.77h0.6M117.65 270.74h0.6M118.61 268.87h0.6M114.69 265.22h0.6M118.18 261.57h0.6M114.13 259.74h0.6M117.24 268.14h0.6M120.53 258.51h0.6M118.83 262.77h0.6M118.67 264.49h0.6M118.52 268.56h0.6M120.12 267.54h0.6M120.19 271.37h0.6M119.21 260.02h0.6M120.15 264.12h0.6M119.09 265.58h0.6M119.02 260.67h0.6M118.88 261.44h0.6M119.07 269.09h0.6M118.94 260.12h0.6M116.35 270.91h0.6M117.18 271.42h0.6M118.64 258.16h0.6M118.7 261.33h0.6M120.45 264.62h0.6M118.74 269.99h0.6M119.66 266.18h0.6M120.3 260.5h0.6M115.01 264.74h0.6M119.55 260.66h0.6M118.5 270.76h0.6M118.41 259.02h0.6M116.46 261.28h0.6M117.91 268.39h0.6M120.05 258.18h0.6M118.23 268.74h0.6M117.66 262.38h0.6M116.93 269.74h0.6M118.03 271.36h0.6M116.82 263.3h0.6M118.02 262.53h0.6M118.22 270.43h0.6M118.93 257.66h0.6M117.28 268.15h0.6M121.19 263.93h0.6M116.53 259.42h0.6M112.97 268.14h0.6M119.13 263.37h0.6M117.53 260.15h0.6M120.17 264.61h0.6M121.64 257.79h0.6M118.5 262.59h0.6M119.86 262.29h0.6M116.96 270.18h0.6M119.95 270.94h0.6M115.37 263.69h0.6M116.77 264.23h0.6M119.24 264.62h0.6M117.39 264.32h0.6M117.34 268.25h0.6M117.15 265.86h0.6M118.91 262.97h0.6M115.96 258.44h0.6M116.17 267.8h0.6M120.65 269.56h0.6M117.48 267.01h0.6M116.83 265.74h0.6M118.79 265.82h0.6M117.7 270.2h0.6M117.25 266.02h0.6M119.42 270.58h0.6M119.47 267.31h0.6M118.22 270.04h0.6M118.11 264.65h0.6M117.5 269.24h0.6" stroke="#000" stroke-opacity="0.22" stroke-width="0.6" fill="none"/><path d="M118.8 254.9 Q120.8 263.5 118.8 274.3 Q116.8 263.5 118.8 254.9 Z" fill="#2a2a2a" opacity="0.55"/><path d="M133.32 255.86h0.7M132.91 255.87h0.7M135.06 256.33h0.7M134.71 259.34h0.7M134.71 258.98h0.7M132.69 257.13h0.7M132.94 256.99h0.7M134.15 258.92h0.7M134.02 258.12h0.7M135.2 258.22h0.7M133.71 258.11h0.7M133.82 257.63h0.7M133.85 256.19h0.7M133.54 256.46h0.7M133.9 257.1h0.7M133.51 258.74h0.7M133.68 259.91h0.7M133.35 258.29h0.7M133.89 256.79h0.7M133.71 257.56h0.7M134.12 256.27h0.7M132.9 258.08h0.7M133.57 255.65h0.7M133.87 257.83h0.7M133.59 257.22h0.7M133.07 258.57h0.7M133.11 258.69h0.7M133.06 258.13h0.7M132.59 258.84h0.7M132.97 257.98h0.7M133.68 257.86h0.7M133.15 255.56h0.7M132.79 255.74h0.7M132.02 258.41h0.7M133.13 258.27h0.7M133.61 256.92h0.7M132.94 258.33h0.7M133.64 258.24h0.7M134.18 257.17h0.7M133.64 257.48h0.7M133.71 257.85h0.7M132.03 257.52h0.7M134.18 259.63h0.7M132.88 257.11h0.7M132.96 257.65h0.7M132.62 258.17h0.7M133.54 258.75h0.7M134.46 258.1h0.7M132.47 258.46h0.7M132.78 258.21h0.7M132.88 256.16h0.7M133.87 256.97h0.7M133.17 257.65h0.7M133.85 256.76h0.7M133.66 257.29h0.7M134.46 259.96h0.7M133.23 256.55h0.7M132.48 260.19h0.7M134.69 258.67h0.7M132.93 257.18h0.7M133.74 260.37h0.7M131.96 258.31h0.7M133.78 259.28h0.7M134.04 257.38h0.7M133.58 257.14h0.7M133.28 256.46h0.7M133.4 259.05h0.7M134.75 258.62h0.7M132.92 257.56h0.7M133.32 257.06h0.7M133.77 255.11h0.7M133.27 257h0.7M134.68 258.92h0.7M133.43 256.68h0.7M132.54 257.49h0.7M133.96 259.42h0.7M132.61 257.55h0.7M133.85 258.37h0.7M132.43 258.37h0.7M133.47 257.77h0.7" stroke="#000" stroke-opacity="0.32" stroke-width="0.7" fill="none"/><ellipse cx="133.5" cy="257.7" rx="0.9" ry="1.9" fill="#333" opacity="0.35"/><path d="M123.65 258.05h0.6M126.08 258.05h0.6M124.57 260.98h0.6M124.6 257.7h0.6M129.69 257.67h0.6M121.6 256.68h0.6M128.51 257.57h0.6M122.85 258.85h0.6M128.43 257.54h0.6M124.7 258.36h0.6M121.77 258.42h0.6M133.36 256.73h0.6M119.24 255.76h0.6M128.5 256.85h0.6M130.69 256.1h0.6M124.18 257.47h0.6M121.62 257.96h0.6M124.5 258.34h0.6M127.87 258.81h0.6M131.04 256.72h0.6M129.09 258.51h0.6M120.38 257.35h0.6M120.84 257.63h0.6M124.86 256.42h0.6M126.52 256.58h0.6M131.35 256.7h0.6M130.42 256.8h0.6M120.66 257.48h0.6M127.55 255.8h0.6M121.88 256.56h0.6M126.5 255.73h0.6M120.88 258.24h0.6M121.06 256.38h0.6M123.07 258.34h0.6M133.73 256.76h0.6M121.28 256.75h0.6M124.98 259.52h0.6M120.47 256.37h0.6M133.52 255.57h0.6M127.54 257.67h0.6M130.18 256.38h0.6M132.38 260.11h0.6M130.45 259.82h0.6M130.29 256.04h0.6M125.44 258.89h0.6M121.92 257.34h0.6M129.73 257.18h0.6M120.15 257.5h0.6M132.38 255.15h0.6M129.89 255.21h0.6M128.35 257.42h0.6M123.14 255.3h0.6M132.18 258.59h0.6M125.64 258.5h0.6M125.52 255.94h0.6M121.72 260.24h0.6M128.19 257.52h0.6M133.36 257.36h0.6M127.39 256.97h0.6M132.54 257.5h0.6M124.12 257.39h0.6M119.95 258.2h0.6M123.63 260.67h0.6M125.13 259.23h0.6M125.37 257.05h0.6M127.07 258.28h0.6M129.45 257.25h0.6M133.51 255.8h0.6M127.03 255.44h0.6M131.12 255.59h0.6M130.14 257.15h0.6M133.07 254.77h0.6M120.39 257.06h0.6M125.01 255.74h0.6M130.25 257.33h0.6M125.54 259.24h0.6M123.54 257.43h0.6M130.47 255.76h0.6M121.52 260.04h0.6M128.04 258.39h0.6M119.37 256.39h0.6M127.26 258.16h0.6M126.95 257.92h0.6M124.41 258.09h0.6M126.48 259.92h0.6M122.97 257.23h0.6M129.98 258.07h0.6M132.99 257.35h0.6M129.01 256.19h0.6M122.92 256.06h0.6M124.06 258.02h0.6M126.07 257.27h0.6M129.19 256.89h0.6M119.94 258.29h0.6M131.86 258.08h0.6M125.67 259.37h0.6M121.17 260.22h0.6M125.74 257.82h0.6M120.35 258.43h0.6M123.65 257.43h0.6M123.78 260.43h0.6M131.1 258.91h0.6M130.52 257.44h0.6M131.04 258.39h0.6M127.1 257.95h0.6M123.04 257.92h0.6M131.64 258.04h0.6M129.86 258.06h0.6M124.81 257.66h0.6M122.33 256.14h0.6M127.77 259.62h0.6M128.64 255.37h0.6M129.54 257.6h0.6M120.5 258.58h0.6M130.37 257.68h0.6M121.06 257.06h0.6M121.94 258.07h0.6M131.3 255.93h0.6M127.72 256.67h0.6M132.9 256.4h0.6M128.95 255.18h0.6M123.84 258.35h0.6M131.57 257.4h0.6M125.67 257.28h0.6M124.61 256.56h0.6M125.88 259.17h0.6M133.06 257.65h0.6M121.85 258.57h0.6M128.22 258.5h0.6M120.08 256.53h0.6" stroke="#000" stroke-opacity="0.3" stroke-width="0.6" fill="none"/><path d="M117.42 261.18h0.6M123.86 265.15h0.6M124.48 262.27h0.6M134.1 261.69h0.6M130.29 257.51h0.6M127.3 269.17h0.6M127.62 251.54h0.6M130.38 252.75h0.6M139.75 267.94h0.6M140.45 250.06h0.6M127.27 244.13h0.6M140.26 263.95h0.6M119.08 266.41h0.6M115.96 262.72h0.6M133.76 266.59h0.6M126.27 260.57h0.6M128.27 261.74h0.6M125.68 263.14h0.6M132.97 263.28h0.6M122.2 266.45h0.6M121.08 256.23h0.6M129.78 253.05h0.6M127.59 266.96h0.6M128.88 253.59h0.6M127.97 259.5h0.6M122.09 257.52h0.6M133.05 263.74h0.6M126.33 261.06h0.6M125.25 262.45h0.6M121.93 267.03h0.6M132.19 262.23h0.6M119.03 262.95h0.6M128.36 250.45h0.6M121.33 258.8h0.6M117.5 257.18h0.6M134.71 267.9h0.6M131.9 256.04h0.6M119.3 259.37h0.6M126.53 254.11h0.6M126.4 260.67h0.6M124.23 257.76h0.6M134.91 258.82h0.6M127.83 252.61h0.6M129.71 252.36h0.6M127.53 251.01h0.6M127.8 258.05h0.6M125.84 253.93h0.6M130.67 255.48h0.6M117.04 264.39h0.6M129.33 267.46h0.6" stroke="#000" stroke-opacity="0.2" stroke-width="0.6" fill="none"/><path d="M126.56 237.33h0.68M132.13 238.73h0.68M132.8 244.48h0.68M118.28 248.11h0.68M129.98 238.64h0.68M121.13 238.77h0.68M126.98 236.62h0.68M123.62 237.02h0.68M133.61 242.12h0.68M129.2 236.29h0.68M125.5 233.77h0.68M124.13 236.11h0.68M122.74 238.42h0.68M119.7 244.85h0.68M119.57 250.7h0.68M128.28 238.82h0.68M126.33 239.49h0.68M128.37 238.35h0.68M131.28 238.34h0.68M133.19 237.8h0.68M119.08 248.68h0.68M131.48 243.24h0.68M117.73 248.39h0.68M118.39 241.16h0.68M123.08 236.88h0.68M130.25 239.1h0.68M119.17 241.34h0.68M121.93 242.81h0.68M117.98 252.44h0.68M133.64 238.25h0.68M134.27 241.7h0.68M123.02 236.01h0.68M135.45 243.25h0.68M119.74 245.84h0.68M126.38 234.31h0.68M120.68 239.54h0.68M119.79 244.98h0.68M126.06 236.86h0.68M118.5 245.31h0.68M131.84 242.86h0.68M119.47 249.32h0.68M132.68 238.27h0.68M128.62 241.15h0.68M128.56 237.86h0.68M120.98 238.94h0.68M117.65 251.14h0.68M121.19 239.59h0.68M127.04 236.62h0.68M128.07 239h0.68M118.22 241.98h0.68M131.99 245.45h0.68M130.97 246.47h0.68M123.21 237.24h0.68M131.29 240.5h0.68M137.02 246.61h0.68M117.21 247.66h0.68M135.41 245.57h0.68M133.58 243.03h0.68M130.02 236.55h0.68M133.78 233.36h0.68M118.5 249.22h0.68M120.39 252.03h0.68M130.08 244.82h0.68M117.13 250h0.68M120.63 240.7h0.68M132.39 239.27h0.68M116.47 250.7h0.68M121.15 244.87h0.68M119.8 243.27h0.68M133.65 246.29h0.68M132.03 241.47h0.68M119.83 249.05h0.68M121.56 241.4h0.68M133.96 242.02h0.68M133.55 243.85h0.68M135.78 243.08h0.68M119.82 241.6h0.68M119.11 243.67h0.68M131.28 236.53h0.68M118.65 244.04h0.68M121.39 244.65h0.68M124.73 245.17h0.68M121.88 236.8h0.68M121.24 245.54h0.68M120.58 242.1h0.68M127.19 240.45h0.68M131.45 245.71h0.68M128.76 239.5h0.68M126.91 240.44h0.68M129.93 241.69h0.68M130.84 241.11h0.68M120.46 243.24h0.68M126.06 241.17h0.68M126.43 245.04h0.68M126.15 246.86h0.68M131.51 247.92h0.68M124.42 239.24h0.68M131.56 238.88h0.68M120.84 242.14h0.68M124.85 247.5h0.68M127.54 245.5h0.68M130.11 246.61h0.68M130.84 243.18h0.68M132.64 240.17h0.68M131.36 243.17h0.68M129.82 239.73h0.68M129.86 242.6h0.68M130.5 243.33h0.68M129.91 241.7h0.68M130.15 241.29h0.68M128.01 241.13h0.68M130.25 241.46h0.68M128.53 241.2h0.68M131.16 244.32h0.68M129.72 241.84h0.68M129.73 242.67h0.68M130 244.96h0.68M131.81 243.91h0.68M130.85 242.48h0.68M133.53 242.87h0.68M133.72 243.4h0.68M131.41 241.74h0.68M130.46 236.67h0.68M132.79 242.51h0.68M129.98 242.73h0.68M127.9 241.92h0.68M129.19 243.99h0.68M133.1 241.97h0.68M133.52 243.1h0.68M131.99 241.96h0.68M131.21 241.57h0.68M131.97 240.42h0.68M130.79 244.44h0.68M131.51 237.81h0.68M129.64 242.68h0.68M132.61 242.31h0.68M132.33 244.53h0.68M129.04 242.15h0.68M132.4 241.8h0.68M131.9 244.85h0.68" stroke="#b82030" stroke-opacity="0.45" stroke-width="0.68" fill="none"/><text x="150.6" y="234.3" font-size="5.2" text-anchor="end" font-weight="normal" fill="#222">2.1%</text><path d="M193.28 266.07h0.7M193.92 271.18h0.7M194.92 272.09h0.7M191.7 272.59h0.7M193.35 262.91h0.7M194.14 260.12h0.7M194.71 269.48h0.7M193.85 269.44h0.7M193.42 270.1h0.7M192.95 263.49h0.7M194.03 273.43h0.7M192.75 263.21h0.7M193.18 267.08h0.7M193.2 272.19h0.7M193.01 266.76h0.7M193.31 272.96h0.7M194.26 272.53h0.7M193.89 273.37h0.7M194.8 268.48h0.7M193.83 266.51h0.7M193.39 269.34h0.7M194.25 262.17h0.7M193.88 270h0.7M193.89 272.25h0.7M193.88 272.44h0.7M193.48 268.06h0.7M193.63 274.04h0.7M193.81 265.46h0.7M193.8 266.55h0.7M194.27 267.45h0.7M193.39 272.64h0.7M194.28 266.01h0.7M193.57 271.74h0.7M194.02 273.34h0.7M192.35 270.36h0.7M194.67 271.87h0.7M194.34 269.9h0.7M194.68 261.45h0.7M192.7 269.54h0.7M192.75 271.22h0.7M193.98 268.58h0.7M192.83 271.38h0.7M193.62 264.92h0.7M194.58 270.93h0.7M193.33 266.53h0.7M193.81 267.32h0.7M193.89 264.47h0.7M194.24 268.01h0.7M193.82 268.92h0.7M192.65 265.32h0.7M192.78 260.46h0.7M193.76 263.06h0.7M193.68 267.85h0.7M193.2 257.24h0.7M194.07 257.85h0.7M194.98 263.61h0.7M192.67 270.08h0.7M195.54 271.79h0.7M194.06 261.33h0.7M192.39 256.71h0.7M193.87 268.84h0.7M193.27 262.72h0.7M193.72 258.1h0.7M194.33 270.8h0.7M194.42 268.53h0.7M192.62 262.64h0.7M193.09 270.43h0.7M193.41 260.88h0.7M194.37 273.9h0.7M192.26 273.89h0.7M190.98 263.65h0.7M194.42 268.75h0.7M192.86 267.01h0.7M195 267.5h0.7M193.88 273.79h0.7M194.76 271.63h0.7M195.28 261.37h0.7M194.22 273.32h0.7M192.09 263.31h0.7M193.7 270.91h0.7M192.85 273.17h0.7M192.62 266h0.7M193.5 273.25h0.7M192.37 269.89h0.7M193.9 268.14h0.7M193.94 260.96h0.7M193.58 270.82h0.7M193.84 266.46h0.7M192.84 270.5h0.7M193.69 273.25h0.7M195.73 273.5h0.7M193.66 263.75h0.7M193 264.71h0.7M193.11 268.39h0.7M194.14 267.21h0.7M194.11 263.84h0.7M193.22 271.24h0.7M193.5 272.58h0.7M192.77 263.57h0.7M193.55 271.63h0.7M194.74 267.26h0.7M194.58 272.71h0.7M193.43 269.58h0.7M194.02 270.82h0.7M192.72 263.02h0.7M192.91 269.11h0.7M193.7 267.86h0.7M193.5 267.7h0.7M195.53 258.48h0.7M193.42 272.28h0.7M191.93 272.99h0.7M193.98 271.78h0.7M193.71 266.01h0.7M195.32 264.57h0.7M193.25 261.74h0.7M193.45 273.69h0.7M193.21 272.01h0.7M193.29 269.45h0.7M193.65 271.07h0.7M192.99 269.83h0.7M194.28 260.85h0.7M193.63 272.32h0.7M192.65 264.28h0.7M194.16 273.94h0.7M193.95 263.5h0.7M192.71 270.74h0.7M193.74 271.3h0.7M194.12 261.08h0.7M193.33 268.54h0.7M195.92 261.97h0.7M193.59 258.65h0.7M192.99 257.64h0.7M194.46 271.94h0.7M194.48 265.27h0.7M194.2 270.13h0.7M194.2 270.32h0.7M194.09 265.31h0.7M192.31 263.17h0.7M193.68 261.69h0.7M194.59 267.85h0.7M192.65 268.65h0.7M194.35 267.81h0.7M193.02 266.69h0.7M193.96 265.39h0.7M193.69 267.54h0.7M193.3 267.96h0.7M195.1 267.99h0.7M193.57 273.29h0.7M194.67 269.29h0.7M193.5 273.46h0.7M192.67 266.29h0.7M194.53 272.64h0.7M192.72 258.69h0.7M194.48 266.46h0.7M193.22 260.59h0.7M193.06 259.27h0.7M194.13 267.25h0.7M194.59 270.46h0.7M193.56 273.1h0.7M193.95 272.1h0.7M194.55 270.08h0.7M193.29 270.41h0.7M193.3 268.82h0.7M194.24 266.25h0.7M193.54 256.79h0.7M193.35 273.19h0.7M194.5 271.53h0.7M192.52 272.14h0.7M193.82 266.6h0.7M192.13 265.75h0.7M193.84 263.06h0.7M192.87 266.91h0.7M193.42 259.99h0.7M194.07 269.67h0.7M193.82 269.67h0.7M194.77 265.09h0.7M193.66 263.76h0.7M193.96 259.26h0.7M192.16 269.18h0.7M192.69 269.3h0.7M194.15 267.42h0.7M193.43 271.51h0.7M193.62 262.26h0.7M194.69 270.29h0.7M193.58 273.19h0.7M192.68 266.93h0.7M192.7 260.36h0.7M193.41 267.58h0.7M193.29 268.76h0.7M194.87 270.56h0.7" stroke="#000" stroke-opacity="0.28" stroke-width="0.7" fill="none"/><path d="M193.45 257.63h0.6M193.71 270.55h0.6M193.51 270.37h0.6M192.39 257.93h0.6M194.78 260.21h0.6M191.39 271.41h0.6M191.89 264.12h0.6M196.16 269.75h0.6M192.26 263.13h0.6M193.91 265.81h0.6M194.46 263.01h0.6M194.51 264.89h0.6M194.24 264.7h0.6M193.01 260.45h0.6M194.2 264.63h0.6M195.12 266.02h0.6M192.25 265.05h0.6M192.44 268.64h0.6M194.58 271.3h0.6M192.73 267.25h0.6M193.5 265.12h0.6M193.18 265.61h0.6M197.02 260.82h0.6M193.82 259.19h0.6M195.59 259.94h0.6M193.85 265.38h0.6M191.74 263.27h0.6M190.39 262.54h0.6M193.77 262.66h0.6M190.35 264.09h0.6M193.15 264.77h0.6M193.95 257.72h0.6M191.13 263.83h0.6M191.96 261.91h0.6M193.25 264.32h0.6M194.88 271.39h0.6M190.73 264.45h0.6M194.95 264.77h0.6M190.81 266.29h0.6M192.6 270.75h0.6M191.16 262.36h0.6M193.29 267.07h0.6M192.3 263.06h0.6M195.03 263.06h0.6M193.71 260.08h0.6M192.51 260.23h0.6M195.07 259.02h0.6M192.99 259.97h0.6M191.86 262.48h0.6M193.42 270.77h0.6M195.88 269.36h0.6M193.68 261.92h0.6M191.35 259.99h0.6M192.79 264.53h0.6M190.98 269.64h0.6M191.23 265.57h0.6M193.38 259.51h0.6M192.21 265.59h0.6M191.68 259.82h0.6M193.67 259.27h0.6M195.3 261.96h0.6M191.67 266.22h0.6M194.8 267.65h0.6M191.46 269.1h0.6M194.35 261.04h0.6M193.83 259.95h0.6M192.92 265.51h0.6M188.96 264.21h0.6M192.73 267.32h0.6M194.53 267.7h0.6M192.64 260.1h0.6M191.58 258.86h0.6M196.66 263.01h0.6M193.53 271.27h0.6M193.7 262.82h0.6M194.35 262.7h0.6M193.17 268.24h0.6M193.61 270.01h0.6M192.3 264.48h0.6M193.66 271.03h0.6M195.83 263.13h0.6M191.4 261.79h0.6M192.12 266.27h0.6M191.64 270.15h0.6M191.85 266.87h0.6M194.05 264.41h0.6M193.6 263.92h0.6M191.76 264.08h0.6M194.16 260.59h0.6M191.72 266.48h0.6" stroke="#000" stroke-opacity="0.22" stroke-width="0.6" fill="none"/><path d="M193.7 254.9 Q195.7 263.5 193.7 274.3 Q191.7 263.5 193.7 254.9 Z" fill="#2a2a2a" opacity="0.55"/><path d="M209.13 260.62h0.7M209.73 259.35h0.7M208.99 257.64h0.7M209.33 255.98h0.7M210 258.39h0.7M209.27 254.39h0.7M209.73 259.17h0.7M210.18 257.4h0.7M209.22 257.37h0.7M209.86 259.71h0.7M210.11 256.28h0.7M210.45 255.45h0.7M209.95 257.57h0.7M209.26 259.79h0.7M210.16 256.97h0.7M210.38 258.74h0.7M209.49 256.13h0.7M210.44 255.22h0.7M208.87 260.8h0.7M209.57 260.17h0.7M209.99 259.61h0.7M208.84 259.45h0.7M208.71 256.53h0.7M210.33 258.56h0.7M209.12 259.87h0.7M209.26 259.1h0.7M210.58 256.56h0.7M208.53 257.83h0.7M207.8 258h0.7M207.92 257.43h0.7M208.89 257.48h0.7M209.59 257.53h0.7M210.16 257.74h0.7M210.65 256.61h0.7M209.54 256.14h0.7M209.41 255.82h0.7M209.17 259.26h0.7M210.6 257.88h0.7M209.15 257.81h0.7M210.43 258.85h0.7M210.8 258.25h0.7M210.23 256.31h0.7M209.6 257.18h0.7M209.86 259.26h0.7M209.54 258h0.7M209.69 257.32h0.7M210.23 258.39h0.7M209.84 257.07h0.7M207.91 257h0.7M209.58 256.31h0.7M209.22 257.03h0.7M209.92 255.84h0.7M209.45 260.49h0.7M211.13 256.57h0.7M209.36 260.29h0.7M208.25 258.43h0.7M209.94 256.38h0.7M208.86 256.13h0.7M209.74 259.14h0.7M211.44 256.1h0.7M210.21 257.06h0.7M210.83 255.06h0.7M209.81 258.27h0.7M208.65 258.53h0.7M209.08 256.12h0.7M211.31 255.84h0.7M209.82 258.17h0.7M209.08 257h0.7M212.5 258.21h0.7M210.64 258.35h0.7M210 257.37h0.7M209.99 256.98h0.7M211.06 255.43h0.7M209.52 258.4h0.7M209.93 258.01h0.7M209.29 257.15h0.7M209.36 259.26h0.7M210.13 255.33h0.7M209.94 258.25h0.7M208.56 259.76h0.7" stroke="#000" stroke-opacity="0.32" stroke-width="0.7" fill="none"/><ellipse cx="209.8" cy="257.7" rx="0.9" ry="1.9" fill="#333" opacity="0.35"/><path d="M209.16 256.78h0.6M203.94 256.92h0.6M204.15 258.26h0.6M201.38 257.22h0.6M206.34 255.42h0.6M200.94 257.72h0.6M196 256.36h0.6M200.84 257.56h0.6M204.78 254.99h0.6M200.02 259.27h0.6M201.87 259.68h0.6M203.6 256.28h0.6M200.14 256.76h0.6M199.62 255.38h0.6M198.83 256.26h0.6M196.41 257.03h0.6M198.92 260.03h0.6M202.42 256.75h0.6M202.31 255.81h0.6M198.17 258.89h0.6M199.69 258.53h0.6M209.83 258.91h0.6M195.43 255.95h0.6M208.18 256.3h0.6M204.32 258.45h0.6M198.92 259.92h0.6M209.5 256.46h0.6M201.95 260.49h0.6M201 256.15h0.6M201.03 255.76h0.6M196.48 258.26h0.6M196.47 259.31h0.6M204.88 258.73h0.6M201.45 258.64h0.6M201.99 255.74h0.6M198 256.12h0.6M208.76 256.69h0.6M195.01 258.53h0.6M203.2 257.62h0.6M194.16 258.49h0.6M208.07 259.42h0.6M200.69 256.67h0.6M204.16 257.32h0.6M200.96 255.96h0.6M204.47 257.71h0.6M198.29 258.46h0.6M204.76 255.77h0.6M196.61 257.84h0.6M203.42 255.74h0.6M209.16 255.58h0.6M202.59 257.54h0.6M198 257.91h0.6M197.69 256.2h0.6M206.4 257.28h0.6M199.88 256.31h0.6M209 259.36h0.6M204.67 258.98h0.6M205.21 257.67h0.6M200.94 257.49h0.6M198.6 257.02h0.6M196.88 259.46h0.6M207.43 257.89h0.6M198.18 255.07h0.6M199.6 258.51h0.6M208.55 259.04h0.6M199.45 257.87h0.6M207.78 257.94h0.6M210.12 259.27h0.6M204.18 259.96h0.6M208.56 258.04h0.6M203.87 256.58h0.6M208.96 258.08h0.6M207.1 257.36h0.6M203.93 260.62h0.6M196.92 256.42h0.6M207.87 254.71h0.6M208.63 259.04h0.6M200.97 259.4h0.6M207.04 257.15h0.6M196.81 260.52h0.6M204.08 256.5h0.6M196.72 259.16h0.6M200.84 256.51h0.6M202.7 257.25h0.6M208.33 254.36h0.6M202.61 254.59h0.6M208.14 258.09h0.6M201.26 257.79h0.6M195.7 257.04h0.6M202.79 256.78h0.6M204.99 260.68h0.6M207.66 255.98h0.6M205.09 257.5h0.6M195.6 256.16h0.6M200.18 262.61h0.6M202.61 257.79h0.6M205.28 254.92h0.6M198.48 253.76h0.6M209.92 256.23h0.6M201.55 257.38h0.6M199.96 256.69h0.6M195.84 258.02h0.6M200.2 260.01h0.6M201.8 259.19h0.6M195.27 257.9h0.6M208.28 255.99h0.6M204.47 259.61h0.6M209.75 257.31h0.6M203.95 257.11h0.6M204.26 256.71h0.6M196.88 258.96h0.6M203.9 258.68h0.6M202.34 256.28h0.6M202.26 256.96h0.6M207.47 256.49h0.6M202.71 256.42h0.6M197.01 256.62h0.6M197.68 257.43h0.6M204.03 257.77h0.6M206.35 256.11h0.6M199.44 256.35h0.6M208.16 256.86h0.6M202.72 257.42h0.6M195.11 259.26h0.6M202.86 257.39h0.6M205.18 256.9h0.6M199.71 256.92h0.6M201.44 258.89h0.6M208.96 257.52h0.6M204.59 257.03h0.6" stroke="#000" stroke-opacity="0.3" stroke-width="0.6" fill="none"/><path d="M201.32 258.4h0.6M213.32 259.68h0.6M202.27 259.17h0.6M199.86 258.49h0.6M215.79 264.43h0.6M206.2 270.22h0.6M204.26 259.74h0.6M209.03 252.74h0.6M200.76 256.03h0.6M196.52 262.63h0.6M199.22 262.63h0.6M199.66 258.86h0.6M202.97 265.86h0.6M195.34 254.47h0.6M190.87 262.31h0.6M215.47 252.05h0.6M193.98 252.82h0.6M200.6 265.38h0.6M193.61 255.09h0.6M205.52 259.25h0.6M206.08 258.12h0.6M200.39 259.62h0.6M204.4 262.85h0.6M201.88 257.77h0.6M207.13 262.77h0.6M198.16 261.44h0.6M208.89 257.23h0.6M193.76 251.62h0.6M206.29 259.63h0.6M195.82 266.72h0.6M194.82 261.5h0.6M191.35 257.06h0.6M183.39 264.11h0.6M192.38 260.62h0.6M198.84 257.64h0.6M203.49 267.74h0.6M203.89 261.4h0.6M194.19 260.95h0.6M208.66 254.63h0.6M203.39 265.44h0.6M197.74 251.99h0.6M206.44 256.36h0.6M206.02 254.17h0.6M223.47 257.46h0.6M198.8 260.54h0.6M207.52 265.7h0.6M209.42 254.95h0.6M199.78 252.01h0.6M199.61 265.65h0.6M202.74 268.4h0.6" stroke="#000" stroke-opacity="0.2" stroke-width="0.6" fill="none"/><path d="M207.81 242.14h0.68M196.49 242.29h0.68M195.46 248.04h0.68M208.07 239.76h0.68M194.61 239.84h0.68M194.15 252.05h0.68M197.35 239.95h0.68M194.78 249.07h0.68M205.5 237.89h0.68M209.81 241.46h0.68M197.14 246.15h0.68M196.01 245.7h0.68M208.02 244.96h0.68M208.12 245.65h0.68M209.27 240.8h0.68M193.99 245.27h0.68M209.7 240.6h0.68M193.2 248.23h0.68M203.23 238.4h0.68M194.5 241.8h0.68M195.99 244.13h0.68M210.13 241.13h0.68M194.95 248h0.68M205.9 236.36h0.68M190.4 246.97h0.68M205.29 242.57h0.68M192.63 244.51h0.68M193.08 244.37h0.68M203.73 236.23h0.68M191.05 251.17h0.68M208.95 240.4h0.68M194.15 245.89h0.68M201.85 233.09h0.68M194.64 237.39h0.68M194.03 238.28h0.68M193.92 245.85h0.68M193.34 242.64h0.68M194.25 251.09h0.68M207.09 236.29h0.68M194.59 250.17h0.68M196.22 242.59h0.68M208.8 242.76h0.68M205.32 237.02h0.68M201.77 239.85h0.68M208.3 238.33h0.68M206.13 239.99h0.68M205.97 238.1h0.68M201.54 238.11h0.68M200.12 235.78h0.68M195.79 243.48h0.68M197.04 248.28h0.68M195.26 246.52h0.68M208.68 245.77h0.68M207.46 239.67h0.68M202.62 235.79h0.68M196.55 239.1h0.68M209.79 245.29h0.68M202.03 233.94h0.68M209.44 242.87h0.68M192.48 247.42h0.68M193.5 238.17h0.68M192.92 241.72h0.68M195.31 244.63h0.68M193.93 241.58h0.68M196.18 248.48h0.68M194.58 240.75h0.68M195.89 240.63h0.68M208.69 239.72h0.68M207.18 242h0.68M195.51 245.37h0.68M197.77 239.84h0.68M207.32 243.64h0.68M196.42 244.51h0.68M197.23 246.06h0.68M197.93 236.24h0.68M194.67 240.69h0.68M196.07 253.01h0.68M195.39 254.43h0.68M200.16 236.66h0.68M196.45 241.07h0.68M203.04 240.46h0.68M201 246.64h0.68M207.86 246.01h0.68M202.24 244.35h0.68M206.18 240.73h0.68M202.22 243.32h0.68M205.56 238.19h0.68M201.61 247.79h0.68M203.85 250.34h0.68M197.58 242.81h0.68M205.52 238.08h0.68M203.58 243.76h0.68M204.34 249.8h0.68M205.28 249.86h0.68M199.07 243.53h0.68M195.4 236.12h0.68M195.49 248.96h0.68M207.5 238.57h0.68M206.16 244.76h0.68M197.87 243.38h0.68M208.31 241.66h0.68M207.4 236.25h0.68M207.35 245.83h0.68M206.93 241.14h0.68M206.5 244.44h0.68M208 240.53h0.68M207.05 242.8h0.68M206.44 242.44h0.68M208.59 238.71h0.68M205.56 240.69h0.68M208.34 243.25h0.68M206.2 239.55h0.68M208.31 243.75h0.68M205.41 240.58h0.68M205.85 241.88h0.68M204.43 242.01h0.68M206.7 242.54h0.68M203.45 241.38h0.68M207.85 241.38h0.68M206.06 239.72h0.68M209.57 242.36h0.68M206.88 241.98h0.68M205.78 244.78h0.68M206.55 243.22h0.68M209.32 239.25h0.68M207.09 239.98h0.68M205.44 242.49h0.68M209.58 243.23h0.68M206.59 240.86h0.68M210.3 244.1h0.68M204.6 240.22h0.68M207.02 244.16h0.68M208.93 243.89h0.68M205.91 242.35h0.68M206.84 243.55h0.68M209.28 240.22h0.68M206.99 240.18h0.68M206.49 244.38h0.68M206.79 239.01h0.68M207.62 242.54h0.68" stroke="#b82030" stroke-opacity="0.45" stroke-width="0.68" fill="none"/><text x="224.2" y="234.3" font-size="5.2" text-anchor="end" font-weight="normal" fill="#222">2.2%</text><path d="M47.78 338.5h0.7M46.96 343.81h0.7M47.36 340.18h0.7M46.59 331.2h0.7M46.57 342.39h0.7M47.63 331.28h0.7M46.59 340.04h0.7M46.37 334.31h0.7M45.16 339.79h0.7M46.51 335.04h0.7M46.59 341.07h0.7M47.34 337.88h0.7M47.2 341h0.7M47.1 338.37h0.7M47.37 344.94h0.7M47.68 338.19h0.7M47.33 340.45h0.7M48.12 339h0.7M48 341.52h0.7M48.38 333.6h0.7M47.65 340.05h0.7M47.99 334.94h0.7M46.17 339.87h0.7M46.94 342.59h0.7M46.97 344.13h0.7M48.07 334.41h0.7M47.73 344.79h0.7M45.9 340.54h0.7M46.6 338.95h0.7M47.07 338.75h0.7M47 343.4h0.7M48.1 342.53h0.7M45.6 338.62h0.7M49.38 336.87h0.7M46.32 341.32h0.7M46.08 338.45h0.7M48.21 338.04h0.7M47.49 331.84h0.7M46.56 329.63h0.7M45.86 343.42h0.7M45.83 333.5h0.7M45.77 336.36h0.7M46.39 342.76h0.7M46.48 342.7h0.7M46.97 339.53h0.7M46.69 344.86h0.7M47.13 329.97h0.7M46.85 333.75h0.7M45.77 341.18h0.7M48.22 344.51h0.7M46.73 342.82h0.7M47.18 335.12h0.7M46.72 328.79h0.7M46.75 338.33h0.7M45.7 339.12h0.7M47.95 342.64h0.7M46.38 333.94h0.7M46.01 336.11h0.7M49.18 341.21h0.7M46.51 342.15h0.7M48.37 344.53h0.7M48.8 340.66h0.7M48.67 335.44h0.7M47.53 342.72h0.7M47.21 335.86h0.7M48.34 339.18h0.7M47.05 336.66h0.7M48.56 343.67h0.7M48.61 344.59h0.7M46.51 337.51h0.7M47.17 338.09h0.7M44.83 341.1h0.7M48.28 342.1h0.7M47.08 335.71h0.7M45.82 340.14h0.7M47.96 332.17h0.7M45.93 343.91h0.7M47.41 341.93h0.7M47.52 337.11h0.7M47.46 344.06h0.7M46.87 332.82h0.7M46.32 338.57h0.7M47.64 340.58h0.7M48.51 338.61h0.7M46.63 334.74h0.7M45.77 340.7h0.7M48.56 336h0.7M46.77 334.34h0.7M47.74 343.09h0.7M47.09 328.86h0.7M46.75 340.36h0.7M47.21 344.82h0.7M47.5 332h0.7M47.45 336.2h0.7M45.96 340.41h0.7M46.85 334.56h0.7M47.85 330.69h0.7M47.68 337.27h0.7M46.32 344.58h0.7M45.29 335.65h0.7M48 334.56h0.7M47.72 340.81h0.7M46.78 343.82h0.7M45.61 333.31h0.7M47.75 337.16h0.7M47.66 337.95h0.7M47.29 340.57h0.7M47.82 336.66h0.7M46.44 336.89h0.7M46.53 339h0.7M46.32 335.28h0.7M47.39 331.21h0.7M46.89 338.7h0.7M47.29 341.41h0.7M46.99 336.13h0.7M46.33 331.87h0.7M47.6 341.94h0.7M47.28 338.96h0.7M47.32 344.37h0.7M46.23 329.46h0.7M47.77 330.62h0.7M46.77 340.47h0.7M46.74 342.11h0.7M47.64 328.09h0.7M46.06 343.56h0.7M46.59 330.19h0.7M47.08 332.66h0.7M47.42 337.45h0.7M45.73 331.62h0.7M47.03 340.32h0.7M46.48 342.82h0.7M47.88 342.7h0.7M48.04 337.62h0.7M48.01 342.32h0.7M46.9 336.51h0.7M46.05 341.13h0.7M47.48 341.51h0.7M47.64 338.6h0.7M47.35 343.47h0.7M46.17 338.03h0.7M48.39 331.13h0.7M46.92 343.19h0.7M48 327.18h0.7M46.93 343.76h0.7M47.66 337.66h0.7M46.39 344.37h0.7M45.47 335.87h0.7M47.54 340.87h0.7M47.32 343.55h0.7M46.82 336.79h0.7M47.6 340.17h0.7M45.83 338.92h0.7M46.14 339.6h0.7M45.28 344.8h0.7M48.06 340.97h0.7M47.71 337.08h0.7M47.81 342.89h0.7M48.02 344.41h0.7M46.99 343.09h0.7M45.47 344.27h0.7M46.78 341.69h0.7M46.54 338.7h0.7M46.2 344.17h0.7M46.33 343.22h0.7M46.56 341.87h0.7M45.88 342.74h0.7M47.92 339.25h0.7M46.21 342.66h0.7M47.59 340.52h0.7M47.75 340.47h0.7M45.42 339.86h0.7M46.93 343.79h0.7M46.45 333.7h0.7M47.25 341.65h0.7M44.47 337.3h0.7M47.96 343.72h0.7M47.42 344.94h0.7M48.43 343.74h0.7M46.7 341.71h0.7M47.36 343.49h0.7M46.94 328.11h0.7M45.53 340.63h0.7M47.58 340.74h0.7M46.79 338.91h0.7M49.04 336.92h0.7M47.37 332.39h0.7M45.6 342.5h0.7M49.36 340.69h0.7M46.59 338.65h0.7M48.5 336.36h0.7" stroke="#000" stroke-opacity="0.28" stroke-width="0.7" fill="none"/><path d="M46.47 342.39h0.6M44.83 340.05h0.6M46.94 329.74h0.6M48.3 331.07h0.6M48.71 331.3h0.6M45.7 334.32h0.6M47.38 338.54h0.6M47.53 339.6h0.6M44.95 339.99h0.6M46.14 340.26h0.6M47.64 336.11h0.6M48.78 330.4h0.6M48.63 339.45h0.6M46.67 339.17h0.6M48.89 339.55h0.6M47.62 337.11h0.6M47.23 338.4h0.6M44.69 339.42h0.6M47.79 341.2h0.6M47.58 342.17h0.6M47.99 330.23h0.6M48.5 329.73h0.6M47.04 333.83h0.6M48.74 337.61h0.6M44.1 339.98h0.6M45.54 330.69h0.6M48.64 336.13h0.6M46.69 336.01h0.6M45.53 333.17h0.6M48.2 340.3h0.6M44.96 331.98h0.6M47.86 337.26h0.6M46.44 342.24h0.6M47.99 336.62h0.6M46.17 339.24h0.6M49.1 328.92h0.6M48.06 337.2h0.6M46.74 338.93h0.6M46.33 342.38h0.6M45.67 333.46h0.6M45.45 341h0.6M46.29 331.33h0.6M45.83 339.56h0.6M46.46 335.76h0.6M50.36 334.05h0.6M47.59 341.08h0.6M49.26 332.97h0.6M48.54 341.79h0.6M45.6 338.87h0.6M48.76 330.18h0.6M45.24 341.62h0.6M43.82 338.88h0.6M47.17 328.62h0.6M46.09 340h0.6M46.71 334.31h0.6M45.02 328.75h0.6M46.25 337.98h0.6M45.94 332.07h0.6M49.16 330.55h0.6M49.02 337.69h0.6M47.73 334.85h0.6M47.38 340.87h0.6M48.19 340.7h0.6M45.76 338.66h0.6M44.97 331.82h0.6M45.88 329.13h0.6M46.88 342.36h0.6M46.1 338.6h0.6M46.98 338.4h0.6M45.23 331.65h0.6M47.7 341.04h0.6M48.6 340.52h0.6M46.76 330.99h0.6M47.35 330.59h0.6M44.89 335.98h0.6M46.58 331.73h0.6M45.7 332.36h0.6M49.73 334.45h0.6M46.27 338.94h0.6M47.85 331.38h0.6M46.91 331.39h0.6M46.96 334.03h0.6M45.46 335.69h0.6M48.26 331.25h0.6M46.77 330.96h0.6M46.87 339.37h0.6M44.33 336.9h0.6M45.9 341.36h0.6M49.64 340.71h0.6M44.68 336.37h0.6" stroke="#000" stroke-opacity="0.22" stroke-width="0.6" fill="none"/><path d="M47.1 325.8 Q49.1 334.4 47.1 345.2 Q45.1 334.4 47.1 325.8 Z" fill="#2a2a2a" opacity="0.55"/><path d="M62.79 326.05h0.7M62.93 329.07h0.7M63.74 329.63h0.7M63.1 330.53h0.7M63.33 328.23h0.7M62.88 326.18h0.7M63.32 327.7h0.7M63.08 329.02h0.7M62.46 326.31h0.7M64.36 327.92h0.7M63.55 327.7h0.7M63.74 329.32h0.7M61.01 330.56h0.7M63.02 328.35h0.7M64.26 327.67h0.7M63.19 329.46h0.7M63.58 328.38h0.7M61.39 328.7h0.7M61.17 330.46h0.7M62.49 327.68h0.7M63.42 328.85h0.7M63.15 328.17h0.7M62.77 329.51h0.7M62.9 328.87h0.7M64.16 328.45h0.7M63.25 328.37h0.7M62.71 327.61h0.7M62.21 330.05h0.7M63.46 327.67h0.7M62.3 327.93h0.7M62.35 328.19h0.7M62.13 327.79h0.7M61.88 327.78h0.7M62.04 328.5h0.7M63.93 328.75h0.7M63.75 327.36h0.7M62.84 329.12h0.7M63.59 329.15h0.7M62.9 328.73h0.7M63.45 327.92h0.7M62.67 329.26h0.7M62.25 327.98h0.7M63.58 328.64h0.7M62.87 328.6h0.7M63.16 327.61h0.7M64.33 331.09h0.7M63.32 330.63h0.7M62.93 328.92h0.7M63.4 328.51h0.7M62.05 329.18h0.7M62.88 330.34h0.7M63.78 327.46h0.7M63 325.62h0.7M62.43 329.16h0.7M63.22 326.52h0.7M63.99 331.21h0.7M62.71 327.58h0.7M63.2 329.86h0.7M63.07 325.26h0.7M63.72 329.36h0.7M62.3 327.76h0.7M63.08 329.8h0.7M63.75 329.13h0.7M63.88 329.29h0.7M63.91 327.02h0.7M62.96 328.55h0.7M62.99 330.46h0.7M62.61 327.23h0.7M64.16 329.07h0.7M64.17 328.65h0.7M62.46 328.97h0.7M62.82 329.15h0.7M64.06 328.61h0.7M64.14 328.92h0.7M63.47 329.63h0.7M62.34 329.65h0.7M63.27 328.55h0.7M63.93 328.88h0.7M62.13 326.7h0.7M62.54 327.8h0.7" stroke="#000" stroke-opacity="0.32" stroke-width="0.7" fill="none"/><ellipse cx="63.2" cy="328.6" rx="0.9" ry="1.9" fill="#333" opacity="0.35"/><path d="M62.63 329.08h0.6M56.85 324.83h0.6M56.68 327.45h0.6M62.32 328.5h0.6M58.57 328.82h0.6M53.74 328.37h0.6M60.05 328.29h0.6M59.92 328.59h0.6M52.19 326.92h0.6M54.49 329.78h0.6M56.36 330.33h0.6M59.94 327.25h0.6M53.21 328.89h0.6M55.5 327.11h0.6M57.69 327.63h0.6M55.2 328.51h0.6M49.76 331.55h0.6M52.89 328.94h0.6M56.28 327.23h0.6M61.88 327.64h0.6M59.54 329.95h0.6M51.49 328.98h0.6M48.67 327.83h0.6M52.89 326.91h0.6M56.6 327.19h0.6M49.61 330.4h0.6M49.77 329.9h0.6M48.53 329.62h0.6M56.41 327.84h0.6M49.64 329.13h0.6M61.42 329.18h0.6M52.79 329.38h0.6M61.86 328.18h0.6M61.89 330.66h0.6M53.08 330.39h0.6M53.79 330.53h0.6M56.8 327.71h0.6M57.9 327.13h0.6M53.3 328.57h0.6M53.03 324.89h0.6M55.33 329.17h0.6M53.77 327.08h0.6M48.58 330.29h0.6M60.8 328.37h0.6M56.34 325.93h0.6M57.94 326.12h0.6M55.81 330.41h0.6M61.53 327.48h0.6M53.98 328.01h0.6M56.98 327.73h0.6M61.7 326.65h0.6M52.8 326.81h0.6M63.34 328.04h0.6M47.96 328.71h0.6M52.3 329.36h0.6M58.87 327.2h0.6M62.47 328.58h0.6M49.74 329.81h0.6M58.37 329.21h0.6M60.6 329.2h0.6M55.22 329.37h0.6M49.66 327.73h0.6M49.29 325.14h0.6M51.84 329.14h0.6M50.23 327.37h0.6M60.21 330.22h0.6M54.11 329.19h0.6M55.48 326.08h0.6M56.35 326.25h0.6M47.7 327.76h0.6M58.51 329.58h0.6M51.69 326.69h0.6M61.38 325.48h0.6M59.52 326.26h0.6M52.71 328.85h0.6M59.24 328.93h0.6M59.49 331.35h0.6M59.64 327.46h0.6M57.4 328.46h0.6M51.82 327.42h0.6M51.61 326.65h0.6M60.25 328.84h0.6M57.34 325.14h0.6M50.03 327.87h0.6M54.63 327.75h0.6M57.68 328.2h0.6M60.31 329.44h0.6M57.99 331.04h0.6M60 330.63h0.6M55.24 331.25h0.6M48.43 326.65h0.6M61.54 328.42h0.6M61.48 330.02h0.6M47.92 324.62h0.6M49.65 328.12h0.6M51.03 330.13h0.6M58.44 328.85h0.6M48.8 328.58h0.6M50.58 325.42h0.6M50.52 327.43h0.6M62.22 327.96h0.6M58.42 329.56h0.6M53.82 329.05h0.6M59.58 328.57h0.6M54.83 328.86h0.6M50.35 331.74h0.6M54.72 327.84h0.6M49.65 327.6h0.6M48.07 325.65h0.6M60.79 326.75h0.6M54.05 328.42h0.6M55.49 329.1h0.6M62.32 330.34h0.6M57.47 330.02h0.6M51.1 327.61h0.6M54.61 332.3h0.6M48.71 327.36h0.6M49.47 330.8h0.6M47.15 328.54h0.6M51.27 329.68h0.6M54.44 328.07h0.6M62.83 327.63h0.6M60.32 329.38h0.6M63.28 328.18h0.6M60.66 328.05h0.6M56.81 326.95h0.6M56.21 325.74h0.6M60.84 328.13h0.6M50.03 328.26h0.6M61.77 328.49h0.6" stroke="#000" stroke-opacity="0.3" stroke-width="0.6" fill="none"/><path d="M66.83 324.41h0.6M48.65 327.27h0.6M51.95 330.31h0.6M52.9 336.3h0.6M57.77 332.15h0.6M61.07 334.67h0.6M60.62 340.69h0.6M45.61 328.5h0.6M66.14 324.03h0.6M55.5 320.86h0.6M59.37 335.34h0.6M57.42 330.04h0.6M37.12 336.89h0.6M51.53 336.16h0.6M57.42 319.92h0.6M48.39 334.27h0.6M64.4 320.01h0.6M54.8 330.98h0.6M66.6 331.81h0.6M62.56 327.35h0.6M47.02 327.53h0.6M53.02 329.2h0.6M74.18 327.1h0.6M58.61 321.99h0.6M65.26 326h0.6M51.1 333.33h0.6M47.25 323.71h0.6M60.69 331.03h0.6M55.6 333.91h0.6M51.16 321.64h0.6M58.93 333.69h0.6M51.56 324.83h0.6M47.58 322.31h0.6M56.01 335.57h0.6M47.51 337.33h0.6M56.03 329.05h0.6M55.04 320.31h0.6M58.23 334.44h0.6M46.58 328.41h0.6M58.92 335.28h0.6M57.24 328.71h0.6M50.69 324.27h0.6M60.53 336.8h0.6M48.44 330.82h0.6M61.68 335.17h0.6M50.33 328.32h0.6M60.86 327.06h0.6M54.51 330.91h0.6M49.15 333.93h0.6M77.31 333.59h0.6" stroke="#000" stroke-opacity="0.2" stroke-width="0.6" fill="none"/><path d="M45.22 319.87h0.68M63.34 312.57h0.68M57.47 308.16h0.68M55.59 308.92h0.68M49.19 318.19h0.68M46.03 313.37h0.68M53.52 311.39h0.68M65.18 316.16h0.68M53.89 307.06h0.68M47.61 309.25h0.68M63.43 313.89h0.68M48.23 319.9h0.68M55 307.63h0.68M49.27 314.63h0.68M48.36 316.42h0.68M56.98 309.12h0.68M52.23 308.76h0.68M59.12 307.92h0.68M44.61 315.9h0.68M47.73 323.3h0.68M47.17 314.8h0.68M60.66 308.68h0.68M51.2 305.72h0.68M55.56 307.23h0.68M63.62 309.18h0.68M51.54 307.95h0.68M60.61 311.03h0.68M45.84 321.9h0.68M46.65 312.98h0.68M46.65 318.51h0.68M52.17 307.57h0.68M65.17 314.62h0.68M47.07 315h0.68M49.76 310.47h0.68M60.95 311.21h0.68M54.35 306.92h0.68M57.26 307.09h0.68M58.06 305.93h0.68M61.44 318.81h0.68M50.11 316.56h0.68M50.62 310.21h0.68M59.38 307.45h0.68M44.37 314.66h0.68M66.08 315h0.68M50.74 312.16h0.68M60.2 308.84h0.68M45.7 318.11h0.68M62.14 316.08h0.68M59.82 311.36h0.68M54.92 308.02h0.68M54.12 307.41h0.68M65.94 314.94h0.68M48.81 317.29h0.68M48.49 310.04h0.68M49.13 323.74h0.68M62.67 311.01h0.68M47.96 308.08h0.68M57.95 306.12h0.68M47.1 313.96h0.68M44.73 320.07h0.68M54.51 310.03h0.68M48.67 316.72h0.68M50.97 309.32h0.68M53.2 309.57h0.68M45.44 317.23h0.68M60.21 309.3h0.68M54.39 307.57h0.68M59.61 306.71h0.68M55.88 312h0.68M63.37 313.71h0.68M53.55 304.71h0.68M49.4 306.61h0.68M60.54 309.25h0.68M51.34 307.99h0.68M59.07 311.37h0.68M48.65 319.07h0.68M47.02 311.28h0.68M48.91 306.57h0.68M52.79 309.52h0.68M62.47 313.49h0.68M49.4 320.28h0.68M49.56 309.24h0.68M56.26 319.69h0.68M52.81 312.43h0.68M53.14 312.19h0.68M53.93 320.67h0.68M53.96 310.67h0.68M53.35 318.45h0.68M55.68 319.21h0.68M61.96 311.78h0.68M59.77 312.66h0.68M62.68 312.32h0.68M49.76 310.24h0.68M48.7 314.08h0.68M53.39 307.83h0.68M58.21 316.33h0.68M62.94 309.33h0.68M57.12 316.35h0.68M49.6 310.55h0.68M53.4 315.58h0.68M62.21 309.57h0.68M53.22 320.66h0.68M55.25 316.73h0.68M59.95 312.74h0.68M60.22 313.86h0.68M62.08 312.93h0.68M60.46 317.07h0.68M57.6 312.82h0.68M61.04 314.2h0.68M60.92 313.88h0.68M61.85 315.61h0.68M62.67 315.4h0.68M62.28 315.15h0.68M59.98 313.03h0.68M64.15 311.67h0.68M60.4 312.74h0.68M62.37 314.04h0.68M62.82 315.38h0.68M58.02 314.37h0.68M60.07 313.84h0.68M62.29 312.35h0.68M58.09 313.45h0.68M61.68 312.57h0.68M59.55 313.48h0.68M61.21 315.74h0.68M60.02 316.99h0.68M61.82 311.78h0.68M58.07 312.97h0.68M60.08 313.62h0.68M61.05 313.46h0.68M59.8 313.04h0.68M61.2 314.35h0.68M62.96 317.12h0.68M62.24 314.96h0.68M57.56 311.22h0.68M57.98 312.54h0.68M58.71 311.6h0.68M61.02 313.66h0.68M62.52 315.78h0.68M60.38 313.7h0.68" stroke="#b82030" stroke-opacity="0.45" stroke-width="0.68" fill="none"/><text x="77.1" y="305.2" font-size="5.2" text-anchor="end" font-weight="normal" fill="#222">2.7%</text><path d="M120.2 337.72h0.7M119.38 341.69h0.7M120.14 339.35h0.7M118.41 344.77h0.7M119.57 344.79h0.7M119.17 334.2h0.7M118.44 337.54h0.7M120.7 337.94h0.7M119.06 338.34h0.7M119.8 332.52h0.7M119.87 339.24h0.7M119.77 342.47h0.7M121.45 342.12h0.7M119.99 330.46h0.7M118.05 338.68h0.7M119.12 340.66h0.7M119.66 335.27h0.7M119.82 342.97h0.7M120.27 342.62h0.7M118.8 332.05h0.7M119.48 338.12h0.7M119.03 344.84h0.7M118.56 343.71h0.7M119.87 344.84h0.7M119.72 329.73h0.7M120.17 343.43h0.7M119.84 337.87h0.7M119.07 334.74h0.7M120.15 335.46h0.7M120.44 335.17h0.7M118.31 339.6h0.7M119.51 337.97h0.7M118.89 339.09h0.7M119.94 337.15h0.7M119.53 334.14h0.7M119.66 338.12h0.7M119.51 332.67h0.7M119.39 344.48h0.7M119.07 338.93h0.7M119.63 338.32h0.7M118.45 340.79h0.7M118.7 338.49h0.7M119.11 335.57h0.7M119.97 341.63h0.7M119.52 333.87h0.7M119.78 334.22h0.7M119.12 338.24h0.7M117.63 336.66h0.7M119.61 337.86h0.7M119.42 338.05h0.7M120.21 338.65h0.7M119.91 331.99h0.7M118.51 337.15h0.7M118.18 338.2h0.7M120.63 341.36h0.7M119.33 331.11h0.7M119.91 335.01h0.7M119.68 343.07h0.7M119.96 335.94h0.7M120.14 339.34h0.7M119.19 344.66h0.7M119.36 343.23h0.7M120.15 337h0.7M119.35 328.5h0.7M120.01 342.16h0.7M120.27 343.52h0.7M119.17 336.17h0.7M120.82 342.26h0.7M119.28 333.2h0.7M121 334.12h0.7M118.28 338.89h0.7M119.16 339.77h0.7M117.95 340.33h0.7M118.35 340.27h0.7M117.18 333.74h0.7M120.08 340.85h0.7M120.17 341.71h0.7M121.01 337.39h0.7M119.23 341.31h0.7M120.18 338.46h0.7M120.05 339.98h0.7M120.04 343.33h0.7M118.99 337.5h0.7M117.9 344.82h0.7M118.93 341.29h0.7M119.89 328.79h0.7M120.82 341.74h0.7M119.76 341.18h0.7M118.03 341.45h0.7M119.14 338.88h0.7M118.83 334.5h0.7M121.8 344.79h0.7M120.26 343.37h0.7M119.82 342.51h0.7M119.27 337.09h0.7M120.26 343.87h0.7M119.16 343.39h0.7M118.27 335.11h0.7M118.94 344.48h0.7M121.11 338.31h0.7M120.09 340.59h0.7M119.02 331.18h0.7M119.64 336.6h0.7M120.17 344.09h0.7M120.25 343.26h0.7M118.75 335.59h0.7M118.43 338.63h0.7M118.32 344.37h0.7M120.44 337.17h0.7M119.23 335.75h0.7M119.88 341.78h0.7M119.39 336.83h0.7M119.8 339.75h0.7M119.74 342.42h0.7M119.19 344.29h0.7M120.42 343.78h0.7M119.85 343.65h0.7M119.2 339.58h0.7M119.75 335.13h0.7M118.41 338.29h0.7M120.23 327.05h0.7M120.06 340.79h0.7M119.37 340.95h0.7M118.35 337.87h0.7M117.72 342.8h0.7M119.3 337.75h0.7M120.72 333.83h0.7M120.71 344.83h0.7M120.11 333.06h0.7M118.69 343.53h0.7M120.37 341.5h0.7M119.67 342.62h0.7M119.15 332.57h0.7M120.56 335.31h0.7M120.31 337.52h0.7M119.03 337.75h0.7M119.56 340.71h0.7M119.55 343.94h0.7M119.01 335.72h0.7M118.16 336.65h0.7M118.96 335.89h0.7M119.67 336.3h0.7M120.64 341.66h0.7M118.29 329.32h0.7M120.8 338.8h0.7M120.5 344.01h0.7M119.86 337.59h0.7M119.65 342.2h0.7M120.52 334.89h0.7M118.21 344.72h0.7M119.53 344.97h0.7M119.85 338.42h0.7M119.76 335.46h0.7M118.64 329.6h0.7M119.27 341.64h0.7M119.99 339.42h0.7M120.5 344.47h0.7M119.06 341.07h0.7M120.93 344.28h0.7M120.08 344.98h0.7M119.68 339.63h0.7M118.31 335.59h0.7M118.73 337.31h0.7M119.2 339.74h0.7M119.81 342.25h0.7M118.38 339.67h0.7M118.92 334.2h0.7M120.74 337.53h0.7M119.38 343.72h0.7M118.83 339.42h0.7M119.1 342.94h0.7M118.92 329.91h0.7M120.98 335.96h0.7M117.72 336.25h0.7M118.62 343.11h0.7M119.4 333.25h0.7M119.29 339.51h0.7M121.06 338.15h0.7M119.49 338.59h0.7M119.42 339.26h0.7M118.76 332.93h0.7M120.19 342.95h0.7M118.3 340.34h0.7M119.46 343.55h0.7M118.97 336.91h0.7M120.15 336.47h0.7M120.11 333.08h0.7M118.84 342.51h0.7M119.9 344.62h0.7M118.91 334.93h0.7M120.1 337.08h0.7M118.33 343.09h0.7M119.97 340.15h0.7M119.04 341.98h0.7M119.39 337.16h0.7" stroke="#000" stroke-opacity="0.28" stroke-width="0.7" fill="none"/><path d="M119.17 329.33h0.6M121.74 341.58h0.6M120.8 337.26h0.6M121.21 330.44h0.6M117.45 342.4h0.6M117.21 328.73h0.6M120.84 332.4h0.6M118.19 331.11h0.6M118.74 330.57h0.6M120.7 331.53h0.6M118.13 332.43h0.6M119.94 337.6h0.6M115.01 328.48h0.6M118.69 336.83h0.6M121.42 340.63h0.6M119.44 337.07h0.6M117.03 336.98h0.6M117.49 339.32h0.6M119.48 339.73h0.6M118.39 338.68h0.6M117.61 339.95h0.6M116.69 333.43h0.6M121.31 332.59h0.6M121.55 334.71h0.6M116.96 342.19h0.6M117.25 332.89h0.6M118.32 328.63h0.6M121.62 330.39h0.6M118.52 335h0.6M121.08 329.91h0.6M117.38 333.68h0.6M118.88 332.46h0.6M120.12 331.46h0.6M119.64 335.48h0.6M118.63 328.97h0.6M118.74 338.07h0.6M119.43 340.52h0.6M118.29 336.54h0.6M115.91 333.45h0.6M118.02 335.9h0.6M118.92 332.86h0.6M118.16 335.5h0.6M120.07 334.39h0.6M118.69 339.24h0.6M120.5 334.52h0.6M120.17 328.83h0.6M119.41 335.45h0.6M119.32 330.76h0.6M116.9 340.81h0.6M119.04 329.84h0.6M118.51 341.09h0.6M117.44 332.73h0.6M119.18 337.21h0.6M116.91 336.06h0.6M119.44 333.79h0.6M118.34 341.03h0.6M119.69 335.77h0.6M120.07 334.65h0.6M121.11 331.27h0.6M116.35 328.74h0.6M117.24 336.26h0.6M121.42 340.21h0.6M117.8 340.32h0.6M118.89 340.7h0.6M119.92 332.97h0.6M120.19 341.89h0.6M118.85 339.62h0.6M117.89 334.48h0.6M117.9 333.87h0.6M120.34 334.48h0.6M120.58 336.34h0.6M117.53 341.79h0.6M120.26 340.16h0.6M118.54 340.98h0.6M121.28 329.08h0.6M118.93 333.98h0.6M120.44 334.72h0.6M117.66 338.22h0.6M119.31 331.49h0.6M116.8 330.31h0.6M120.96 339.51h0.6M120.38 338.99h0.6M117.64 336.14h0.6M118.35 340.22h0.6M119.03 338.31h0.6M120.62 331.09h0.6M119.53 336.01h0.6M117.83 333.53h0.6M118.94 339.43h0.6M121.33 330.81h0.6" stroke="#000" stroke-opacity="0.22" stroke-width="0.6" fill="none"/><path d="M119.6 325.8 Q121.6 334.4 119.6 345.2 Q117.6 334.4 119.6 325.8 Z" fill="#2a2a2a" opacity="0.55"/><path d="M136.07 329.66h0.7M135.56 327.71h0.7M135.79 329.02h0.7M135.71 328.72h0.7M134.96 328.93h0.7M135.4 329.19h0.7M135.6 326.12h0.7M134.84 329.55h0.7M134.83 328.72h0.7M136.32 331.26h0.7M136.45 329.51h0.7M135.96 329.24h0.7M136.81 328.67h0.7M134.02 327.4h0.7M134.56 325.87h0.7M135.36 326.98h0.7M135.81 330.37h0.7M134.09 329.9h0.7M136.17 327.12h0.7M134.13 331.27h0.7M135.27 328.92h0.7M135.71 328.44h0.7M134.51 328.72h0.7M136.72 328.46h0.7M136.32 328.29h0.7M135.4 328.01h0.7M134.36 330.8h0.7M134.52 329.27h0.7M133.93 328.41h0.7M135.18 328.31h0.7M135.04 328.98h0.7M134 329.65h0.7M135.17 328.69h0.7M134.74 328.03h0.7M135.2 329.66h0.7M136.03 328.61h0.7M135.23 329.19h0.7M135.3 328.17h0.7M136.05 324.95h0.7M135.36 329.92h0.7M135.49 326.16h0.7M135.85 327h0.7M136.43 328.14h0.7M135.97 325.68h0.7M135.15 328.92h0.7M134.44 327.78h0.7M135.17 327.9h0.7M133.98 327.85h0.7M135.63 329.07h0.7M134.49 331h0.7M134.71 328.47h0.7M135.36 328.02h0.7M135.5 326.54h0.7M136.02 331.4h0.7M133.9 329.94h0.7M135.15 327.92h0.7M135.49 328.31h0.7M135.79 330.17h0.7M135.31 327.06h0.7M134.35 327.49h0.7M134.94 328.71h0.7M134.71 326.57h0.7M135.41 329.84h0.7M135.11 327.97h0.7M136.02 328.66h0.7M135.63 329.7h0.7M135.1 326.62h0.7M134.73 330.35h0.7M136.12 328.71h0.7M135.02 329.07h0.7M134.73 326.31h0.7M135.39 328.69h0.7M136.29 328.61h0.7M135.87 330.37h0.7M133.9 325.96h0.7M135.09 327.88h0.7M136.81 328.37h0.7M136.17 326.62h0.7M134.74 328.77h0.7M136.14 327.12h0.7" stroke="#000" stroke-opacity="0.32" stroke-width="0.7" fill="none"/><ellipse cx="135.3" cy="328.6" rx="0.9" ry="1.9" fill="#333" opacity="0.35"/><path d="M124.89 327.99h0.6M129.93 328.84h0.6M131.19 327.59h0.6M130.69 327.04h0.6M128.41 330.91h0.6M132.52 326.87h0.6M123.54 329.77h0.6M127.59 328.52h0.6M124.91 326.84h0.6M133.63 326.69h0.6M122.57 328.8h0.6M127.93 326.47h0.6M122.77 329.7h0.6M124.57 331.41h0.6M135.15 329.52h0.6M132.77 327.26h0.6M128.28 327.6h0.6M128.18 328.7h0.6M125.25 328.65h0.6M124.14 329.1h0.6M123.77 328.35h0.6M125.68 327.25h0.6M127.68 329.5h0.6M132.83 326.83h0.6M121.07 328.64h0.6M121.8 330.98h0.6M124.41 327.34h0.6M123.14 329.68h0.6M128.95 328.15h0.6M125.69 327.58h0.6M134.18 329.94h0.6M133.73 329.68h0.6M133.39 331.75h0.6M125.76 329.18h0.6M133.92 328.53h0.6M130.09 328.13h0.6M124.05 329.05h0.6M123.19 329.37h0.6M134.44 326.69h0.6M121.75 327.27h0.6M131.04 328.45h0.6M127.79 328.95h0.6M124.11 330.69h0.6M128.03 328.69h0.6M125.51 325.57h0.6M134.03 328.1h0.6M127.56 329.05h0.6M128.84 328.1h0.6M129.81 330.61h0.6M130.01 325.97h0.6M128.9 328.28h0.6M134.86 330.42h0.6M134.01 329.91h0.6M127.33 327.87h0.6M134.96 324.26h0.6M127.41 326.52h0.6M131.31 328.63h0.6M130.26 325.73h0.6M130.74 328.55h0.6M123.53 328.88h0.6M123.02 326.72h0.6M132.42 328.25h0.6M131.28 328.98h0.6M123.19 327.41h0.6M130.72 328.11h0.6M127.14 331.2h0.6M124.91 328.33h0.6M124.11 325.8h0.6M131.63 329.61h0.6M121.69 326.7h0.6M127.73 326.78h0.6M123.73 328.92h0.6M122.94 329.36h0.6M130.47 327.51h0.6M122.69 327.95h0.6M132.12 327.5h0.6M128.45 326.99h0.6M133.87 327.42h0.6M121.19 327.93h0.6M130.65 327.61h0.6M127.55 328.11h0.6M129.65 328.48h0.6M128.74 326.39h0.6M125.27 328.82h0.6M133.88 329.4h0.6M121 327.77h0.6M129.84 331.23h0.6M131.65 329.84h0.6M129.59 326.24h0.6M123.73 328.79h0.6M134.51 326.59h0.6M128.91 329.42h0.6M126.02 327.81h0.6M134.14 327.65h0.6M135.26 325.79h0.6M125.77 328.94h0.6M125.71 328.73h0.6M128.28 328.96h0.6M122.17 328.98h0.6M128.02 330.29h0.6M127.89 327.02h0.6M126.32 328.48h0.6M133.55 329.82h0.6M131.4 327.94h0.6M131.95 328.09h0.6M125.63 325.23h0.6M125.11 328.49h0.6M126.94 327.42h0.6M121 328.39h0.6M133.77 328.75h0.6M125.44 329.68h0.6M134.81 326.5h0.6M135.74 329.03h0.6M134.5 327.91h0.6M129.39 329.07h0.6M131.06 330.29h0.6M127.79 328.5h0.6M131.47 328.46h0.6M133.17 326.29h0.6M127.11 328.32h0.6M128.12 326.85h0.6M134.15 327.68h0.6M125.26 329.42h0.6M133.88 328.2h0.6M120.36 328.8h0.6M121.33 330.04h0.6M133.2 326.3h0.6M129 327.02h0.6M131.69 330.2h0.6M127.16 327.79h0.6" stroke="#000" stroke-opacity="0.3" stroke-width="0.6" fill="none"/><path d="M131.7 330.6h0.6M119.77 325.86h0.6M129.54 328.32h0.6M125.98 328.17h0.6M122.2 338.05h0.6M142.17 333.83h0.6M131.87 332.06h0.6M110.89 326.51h0.6M113.9 334.45h0.6M129.3 327.83h0.6M133.99 334.03h0.6M130.34 325.87h0.6M127.22 326.04h0.6M128.61 331h0.6M134.32 335.29h0.6M121.96 338.26h0.6M123.08 328.67h0.6M130.33 332h0.6M137.22 334.57h0.6M118.68 320.74h0.6M122.01 333.76h0.6M126.96 325.99h0.6M127.58 342.2h0.6M126.84 330.14h0.6M117.71 321.53h0.6M129.13 335.87h0.6M119.17 336.5h0.6M132.25 337.61h0.6M124.48 326.09h0.6M116.1 324.13h0.6M133.09 332.27h0.6M123.45 334.65h0.6M126.1 326.57h0.6M128.02 325.86h0.6M128.29 331.61h0.6M136.34 325.96h0.6M129.34 336.16h0.6M133.28 327.56h0.6M118.98 331.66h0.6M122.43 330.49h0.6M126.52 335.95h0.6M119.34 329.06h0.6M137.35 328.09h0.6M118.29 326.19h0.6M129.51 334.35h0.6M129.37 324.07h0.6M129.79 330.08h0.6M132.19 327.76h0.6M129.16 326.74h0.6M128.76 333.87h0.6" stroke="#000" stroke-opacity="0.2" stroke-width="0.6" fill="none"/><path d="M119.8 320.03h0.68M119.64 324.25h0.68M120.65 315.47h0.68M119.15 320.08h0.68M133.38 313.14h0.68M119.3 323.27h0.68M118.93 324.54h0.68M119.89 315.28h0.68M121.59 316.29h0.68M120.07 321.37h0.68M119.3 319.11h0.68M135.75 315.27h0.68M128.63 308.78h0.68M119.59 320.46h0.68M134.35 316.6h0.68M135.38 314.87h0.68M122.55 308.79h0.68M120.69 311.96h0.68M138.05 315.85h0.68M125 309.24h0.68M136.27 312.12h0.68M132.95 312.39h0.68M122.01 311.03h0.68M126.26 306.78h0.68M130.67 308.23h0.68M119.22 323.18h0.68M136.52 317.32h0.68M119.75 320.66h0.68M120.67 320.47h0.68M119.3 316.71h0.68M130.6 313.93h0.68M128.6 306.56h0.68M122.4 312.32h0.68M119.47 324.94h0.68M122.28 307.41h0.68M125 308.47h0.68M132.37 311.55h0.68M121 319.96h0.68M119.11 318.13h0.68M119.42 321.28h0.68M125.11 306.49h0.68M119.16 323.09h0.68M120.18 312.94h0.68M134.4 315h0.68M121.74 316.62h0.68M120.06 322.65h0.68M120.45 316.25h0.68M135.23 312.88h0.68M121.89 309.31h0.68M134.52 309.19h0.68M124.73 307.81h0.68M131.36 308.67h0.68M120.6 316.61h0.68M134.71 315.69h0.68M122.31 308.75h0.68M119.46 323.63h0.68M122.31 313.42h0.68M124.97 308.53h0.68M127.22 308.44h0.68M135.64 315.04h0.68M119.94 319.65h0.68M119.42 324.6h0.68M120.01 313.22h0.68M119.41 323.82h0.68M120.17 315.22h0.68M120.34 323.79h0.68M124.47 307.79h0.68M121.1 318.37h0.68M135.11 311.47h0.68M119.41 321.97h0.68M120.46 314.99h0.68M123.74 310.61h0.68M133.66 314.73h0.68M121.16 309.43h0.68M131.83 310.05h0.68M122.5 306.6h0.68M119.61 318.86h0.68M119.51 320.16h0.68M121.06 316.8h0.68M131.58 314.34h0.68M120.14 320.6h0.68M127.42 307.75h0.68M126.42 308.66h0.68M120.24 323.47h0.68M133.65 313.26h0.68M121.97 310.65h0.68M121.79 309.32h0.68M121.11 316.04h0.68M133.38 315.88h0.68M119.71 322.56h0.68M129.78 306.43h0.68M118.78 323.62h0.68M124.62 307.39h0.68M120.49 318.28h0.68M120.23 318.62h0.68M127.07 307.96h0.68M120.55 313.18h0.68M121.57 312.24h0.68M134.81 310.25h0.68M125.02 307.86h0.68M132.4 311.88h0.68M118.64 323.41h0.68M119.2 323.1h0.68M120.94 308.37h0.68M131.31 309.21h0.68M119.38 322.77h0.68M121.57 311.13h0.68M119.86 316.42h0.68M121.68 312.93h0.68M134.14 311.85h0.68M138.38 312.97h0.68M126.17 307.27h0.68M119.67 322.48h0.68M120.42 318.14h0.68M128.92 307.88h0.68M134.01 311.93h0.68M135.17 312.87h0.68M119.12 321.94h0.68M119.14 324.27h0.68M119.99 318.27h0.68M119.51 322.7h0.68M120.8 315.4h0.68M119.67 321.56h0.68M133.74 309.18h0.68M123.46 311.19h0.68M130.65 308.33h0.68M134.28 312.8h0.68M120.08 321.27h0.68M123.69 308.25h0.68M119.36 317.75h0.68M120.07 313.95h0.68M120.36 323.64h0.68M134.64 312.24h0.68M121.02 313.87h0.68M126.72 305.85h0.68M119.23 319.8h0.68M130.46 308.95h0.68M118.74 320.48h0.68M120.78 320.21h0.68M118.82 324.29h0.68M121.78 310.05h0.68M125.85 308.47h0.68M119.4 323.09h0.68M130.71 307.7h0.68M119.57 321.83h0.68M133.23 311.04h0.68M120.6 316.22h0.68M131.41 310.38h0.68M134.38 309.83h0.68M136.15 317.56h0.68M131.99 307.51h0.68M120.29 316.22h0.68M125.31 308.36h0.68M129.65 306.03h0.68M121.61 312.6h0.68M123.74 307.14h0.68M123.24 308.83h0.68M119.29 322.73h0.68M119.55 322.72h0.68M119.97 325.32h0.68M119.41 322.74h0.68M119.49 321.19h0.68M120.57 315.47h0.68M119.32 324.48h0.68M132.79 314.15h0.68M120.63 315.33h0.68M120.4 313.55h0.68M122.48 311.14h0.68M125.52 308.03h0.68M126.48 307.53h0.68M119.47 322.42h0.68M120.17 316.21h0.68M119.51 324.52h0.68M121.6 313.45h0.68M119.49 323.98h0.68M120.63 318.12h0.68M119.59 320.74h0.68M119.67 325.12h0.68M127.92 309.52h0.68M127.29 308.18h0.68M120.13 323.76h0.68M129.94 308.9h0.68M132.22 309.6h0.68M125.28 307.6h0.68M119.52 324.43h0.68M131.43 308.57h0.68M137.61 314.87h0.68M133.11 309.93h0.68M119.64 322.17h0.68M131.62 309.32h0.68M119.43 324.54h0.68M120.79 314.09h0.68M120.84 315.54h0.68M121.96 313.28h0.68M135.56 315.7h0.68M120.83 314.43h0.68M125.91 308.87h0.68M119.21 324.64h0.68M119.24 316.03h0.68M135.81 313.46h0.68M119.28 318.45h0.68M120.21 315.71h0.68M120.02 319.63h0.68M126.65 308.79h0.68M121.3 313.29h0.68M135.79 314.28h0.68M135.46 311.62h0.68M131.14 308.06h0.68M120.75 311.86h0.68M123.91 308.93h0.68M119.21 322.89h0.68M131.65 311.41h0.68M120.92 312.59h0.68M128.81 306.32h0.68M135.99 315.05h0.68M119.79 314.38h0.68M135.38 311.39h0.68M119.4 315.9h0.68M123.36 310.26h0.68M120.98 311.97h0.68M118.98 322.96h0.68M120.6 316.54h0.68M120.09 319.49h0.68M133.1 307.79h0.68M118.79 313.33h0.68M120.72 313.65h0.68M127.23 308.21h0.68M119.78 316.86h0.68M122.81 309.17h0.68M121.6 313.03h0.68M119.65 322.89h0.68M119.4 324.41h0.68M120.39 318.96h0.68M119.96 323.73h0.68M132.15 309.54h0.68M123.42 310.17h0.68M128.37 308.79h0.68M119.83 323.71h0.68M121.34 310.54h0.68M119.96 323.1h0.68M127.82 309.46h0.68M119.4 316.45h0.68M126.03 307.5h0.68M119.32 323.87h0.68M119.48 315.82h0.68M130.89 307.82h0.68M127.7 308.54h0.68M124.44 309.39h0.68M128.09 306.51h0.68M118.85 322.69h0.68M119.91 324.57h0.68M120.2 318.23h0.68M121.5 315.51h0.68M119.94 322.58h0.68M120.67 316h0.68M121.96 314.53h0.68M126.83 306.69h0.68M126.75 305.9h0.68M119.05 322.12h0.68M128.38 306.12h0.68M135.82 312.45h0.68M136.25 314.18h0.68M122.73 309.26h0.68M135.26 314.33h0.68M125.31 308.3h0.68M138.38 312.42h0.68M126.9 308.75h0.68M123.21 309.56h0.68M120.24 320.21h0.68M123.93 310.14h0.68M123.42 309.58h0.68M120.05 314.72h0.68M123.15 308.01h0.68M124.91 308.46h0.68M119.21 323.05h0.68M119.63 319.84h0.68M125.58 308.22h0.68M120.71 320.05h0.68M119.3 322.28h0.68M119.45 320.53h0.68M117.64 315.23h0.68M133.2 314.98h0.68M136.43 314.82h0.68M121.11 319.85h0.68M120.03 317.16h0.68M119.89 321.78h0.68M126.29 307.26h0.68M118.88 323.62h0.68M118.82 321.16h0.68M126.2 306.55h0.68M125.91 306.77h0.68M133.5 312.78h0.68M125.18 308.87h0.68M119.54 323.94h0.68M119.39 324.86h0.68M129.81 308.77h0.68M127.93 306.92h0.68M119.47 321.69h0.68M119.94 320.99h0.68M119.95 317.88h0.68M130.13 314.1h0.68M119.56 308.51h0.68M119.26 322.39h0.68M131.44 310.36h0.68M132.41 307.15h0.68M139.37 314.16h0.68M118.59 324.82h0.68M116.59 320.58h0.68M115.61 323.65h0.68M120.58 320.55h0.68M130.78 307.55h0.68M121.65 310.49h0.68M127.04 307.96h0.68M136.67 311.92h0.68M116.64 317.1h0.68M133.37 317.02h0.68M133.59 312.92h0.68M115.75 322.19h0.68M122.04 323.26h0.68M119.81 308.48h0.68M128.54 314.52h0.68" stroke="#c01020" stroke-opacity="0.5" stroke-width="0.68" fill="none"/><text x="150.6" y="305.2" font-size="5.2" text-anchor="end" font-weight="normal" fill="#222">4.3%</text><path d="M194.49 334.05h0.7M195.36 341.31h0.7M192.78 333.05h0.7M194.16 341.27h0.7M193.95 342.24h0.7M193.94 336.99h0.7M193.82 338.72h0.7M194.12 343.04h0.7M195.63 344.52h0.7M194.67 330.79h0.7M193.67 341.53h0.7M193.6 333.52h0.7M194.65 340.86h0.7M195.32 329.52h0.7M192.18 339.17h0.7M191.92 342.58h0.7M194.84 344.18h0.7M192.48 341.97h0.7M194.85 342.39h0.7M193.8 342.94h0.7M194.18 344.21h0.7M193.28 344.4h0.7M193.33 334.98h0.7M195.45 344.76h0.7M192.63 339.84h0.7M194.06 344.68h0.7M193.71 329.9h0.7M194.81 336.32h0.7M194.2 337.49h0.7M195.27 338.46h0.7M193.83 339.16h0.7M194.27 338.57h0.7M194.84 343.96h0.7M195.46 340.64h0.7M193.2 342.38h0.7M194.17 336.44h0.7M193.63 334.42h0.7M195.15 341.13h0.7M194.57 343.99h0.7M195.96 341.46h0.7M194.22 330.16h0.7M194.04 331.44h0.7M194.71 343.03h0.7M194 334.91h0.7M194.6 337.54h0.7M194.21 343.97h0.7M193.61 342.46h0.7M195.39 331.19h0.7M194.41 339.16h0.7M195.98 342.42h0.7M194.98 339.44h0.7M192.85 331.48h0.7M196.47 342.49h0.7M195.49 343.29h0.7M195.99 328.51h0.7M193.58 344.99h0.7M195.53 341.5h0.7M194.65 330.87h0.7M193.93 343.32h0.7M194.14 343.55h0.7M194.38 339.81h0.7M194.29 332.11h0.7M194.1 332.41h0.7M194.27 332.46h0.7M194.21 332.4h0.7M193.61 330.98h0.7M192.57 338.8h0.7M193.87 333.48h0.7M194.88 344.93h0.7M193.88 328.43h0.7M192.41 343.81h0.7M193.68 344.43h0.7M194.32 338.89h0.7M193.67 341.53h0.7M194.02 328.36h0.7M194.38 332.64h0.7M193.88 336.59h0.7M193.34 341.65h0.7M194.03 340.79h0.7M193.78 335.78h0.7M194.84 343.37h0.7M193.77 342.24h0.7M193.46 344.48h0.7M192.21 339.38h0.7M193.59 340.85h0.7M192.35 339.85h0.7M194.75 340.06h0.7M195.05 343.84h0.7M194 342.43h0.7M194.54 342.53h0.7M193.99 334.76h0.7M195.07 339.94h0.7M194.92 330.18h0.7M194.29 344.02h0.7M194.37 335.91h0.7M192.63 343.78h0.7M192.57 334.12h0.7M194.05 330.6h0.7M192.06 331.2h0.7M193.23 344.27h0.7M195.47 336.37h0.7M192.54 342.31h0.7M193.65 339.17h0.7M193.81 338.63h0.7M193.6 336.54h0.7M195.33 335.83h0.7M194.47 343.91h0.7M195.59 343.96h0.7M193.83 333.32h0.7M193.9 344.67h0.7M193.34 341.39h0.7M193.63 336.31h0.7M194.24 331.07h0.7M193.38 338.28h0.7M194.47 341.25h0.7M193.82 341.86h0.7M194.22 335.55h0.7M194.73 339.92h0.7M194.68 344.02h0.7M194.19 340.67h0.7M195.77 332.38h0.7M194.12 344.68h0.7M193.42 341.96h0.7M193.3 344.19h0.7M194.26 329.34h0.7M194.27 342.51h0.7M194.02 343.21h0.7M194.56 343.32h0.7M193.87 329.79h0.7M193.26 334.81h0.7M194.71 336.1h0.7M194.65 342.94h0.7M193.78 343.41h0.7M192.77 343.53h0.7M192.29 344.57h0.7M196.12 337.96h0.7M194.02 342.14h0.7M195.44 339.77h0.7M194.73 339.32h0.7M195.95 342.2h0.7M194 344.64h0.7M195.46 339.78h0.7M193.36 342.49h0.7M194.06 333.73h0.7M193.76 330.53h0.7M194.72 340.32h0.7M194.58 344.94h0.7M194.03 335.02h0.7M194.54 335.81h0.7M194.81 341.71h0.7M192.17 338.6h0.7M193.8 330.87h0.7M194.74 333.22h0.7M195.31 336.84h0.7M194.61 343.46h0.7M195.41 330.28h0.7M194.22 335.64h0.7M194.48 335.78h0.7M194.25 342.85h0.7M194.72 338.15h0.7M193.71 335.24h0.7M194.73 342.49h0.7M193.09 341.39h0.7M194.71 330.15h0.7M195.89 343.95h0.7M194.49 342.05h0.7M192.92 341.44h0.7M194.06 336.8h0.7M195.64 340.41h0.7M194.27 330.31h0.7M195.17 328.93h0.7M192.76 336.44h0.7M194.51 337.85h0.7M194.39 334.93h0.7M195.01 331.77h0.7M193.87 342.37h0.7M195.28 333.26h0.7M195.01 341.06h0.7M194.95 343.48h0.7M194.3 341.44h0.7M192.6 333.69h0.7M194.27 336.53h0.7M194.09 338.59h0.7M196.11 342.61h0.7M193.55 340.62h0.7M193.95 336.57h0.7M194.47 328.27h0.7M193.91 331.87h0.7M196.03 339.36h0.7M193.48 343.61h0.7M194.56 339.21h0.7" stroke="#000" stroke-opacity="0.28" stroke-width="0.7" fill="none"/><path d="M192.68 341.83h0.6M195.56 329.81h0.6M192.63 335.59h0.6M192.05 339.38h0.6M197.23 332.54h0.6M192.84 339.26h0.6M194.1 330.82h0.6M192.5 329.44h0.6M193.16 336.09h0.6M196.25 333.52h0.6M191.94 333.97h0.6M195.26 332.43h0.6M192.72 337.77h0.6M198.1 337.51h0.6M192.28 331.17h0.6M194.89 334.67h0.6M192.52 330.27h0.6M192.84 336.49h0.6M194.98 339.73h0.6M195.44 339.3h0.6M197.78 337.98h0.6M197.34 337.99h0.6M194.7 337.86h0.6M194.87 335.58h0.6M196 329.22h0.6M192.36 330.2h0.6M194.65 340.12h0.6M194.49 334.74h0.6M194.89 338.02h0.6M194.29 330h0.6M193.14 331.01h0.6M192.99 336.26h0.6M192.03 340.57h0.6M194.81 339.64h0.6M195.81 342.3h0.6M194.9 340.26h0.6M192.41 332.78h0.6M192.56 329.31h0.6M195.12 332.66h0.6M190.45 338.22h0.6M195.68 331.13h0.6M193.35 329.83h0.6M193.11 341.55h0.6M193.84 335.82h0.6M193.01 329.76h0.6M193.51 339.15h0.6M193.86 334.91h0.6M192.6 336.65h0.6M193.44 339.68h0.6M193 334.18h0.6M192.48 332.04h0.6M191.41 335.89h0.6M190.48 339.85h0.6M192.67 338.31h0.6M192.55 334.62h0.6M191.02 331.15h0.6M194.08 338.57h0.6M190.16 329.3h0.6M195.2 341.5h0.6M195.92 338.13h0.6M197.12 341.51h0.6M195.14 334.98h0.6M194.19 334.05h0.6M190.36 328.5h0.6M194.9 340.3h0.6M194.11 338.49h0.6M194.73 338.77h0.6M192.08 337.39h0.6M194.02 340.31h0.6M194 335.82h0.6M194.81 328.68h0.6M193.67 341.08h0.6M193.61 342.16h0.6M190.59 337.95h0.6M194.92 340.63h0.6M194.94 331.43h0.6M193.45 339.47h0.6M196.14 329h0.6M190.21 331.57h0.6M192.28 335.35h0.6M193.98 339.26h0.6M193.73 335.58h0.6M193.88 341.17h0.6M193.18 334.68h0.6M192.56 342.01h0.6M193.85 339.96h0.6M193.04 339.81h0.6M194.18 340.19h0.6M197.65 337.01h0.6M193.24 329.99h0.6" stroke="#000" stroke-opacity="0.22" stroke-width="0.6" fill="none"/><path d="M194.2 325.8 Q196.2 334.4 194.2 345.2 Q192.2 334.4 194.2 325.8 Z" fill="#2a2a2a" opacity="0.55"/><path d="M210.72 328.42h0.7M209.96 329.62h0.7M208.81 327.59h0.7M209.69 328.07h0.7M210 328.27h0.7M211.36 328.82h0.7M210.08 328.55h0.7M210.85 328.4h0.7M209.96 328.8h0.7M209.65 329.44h0.7M209.83 330.75h0.7M209.46 328.62h0.7M211.08 328.04h0.7M210.87 327.26h0.7M210.81 325.89h0.7M210.46 328.83h0.7M210.42 326.38h0.7M211.35 328.67h0.7M209.97 329.86h0.7M211.72 327.4h0.7M208.82 332.21h0.7M209.13 328.42h0.7M210.97 327.79h0.7M211.35 327.11h0.7M209.73 329.7h0.7M210.52 328.4h0.7M211.48 327.4h0.7M210.75 326.07h0.7M209.76 327.38h0.7M209.58 329.7h0.7M209.79 326.85h0.7M211.01 327.85h0.7M210.8 330.26h0.7M211.03 329.61h0.7M210.73 328.98h0.7M210.94 327.92h0.7M209.61 327.24h0.7M210.75 328.87h0.7M209.73 329.32h0.7M210.17 330.71h0.7M210.4 329.16h0.7M211.12 327.41h0.7M210.19 329.58h0.7M210.51 327.42h0.7M209.34 326.8h0.7M210.91 327.27h0.7M210.65 329.37h0.7M210.21 327.71h0.7M210.8 327.12h0.7M210.36 326.09h0.7M211.06 330.4h0.7M209.56 329.92h0.7M209.93 328.91h0.7M210.33 330.72h0.7M209.76 328.58h0.7M209.24 327.8h0.7M210.47 327.78h0.7M212.01 328.11h0.7M210.17 328.39h0.7M209.16 329.11h0.7M210.46 329.38h0.7M209.54 330.89h0.7M210.25 327.68h0.7M210.85 330.95h0.7M210.66 328.69h0.7M209.33 326.44h0.7M210.52 330.56h0.7M210.51 328.7h0.7M210.72 326.71h0.7M209.04 328.62h0.7M210.57 327.77h0.7M210.36 328.94h0.7M209.59 327.19h0.7M210.63 328.16h0.7M209.68 329.07h0.7M209.52 327.91h0.7M211.36 328.59h0.7M211.16 329.79h0.7M209.75 327.03h0.7M210.27 328.36h0.7" stroke="#000" stroke-opacity="0.32" stroke-width="0.7" fill="none"/><ellipse cx="210.3" cy="328.6" rx="0.9" ry="1.9" fill="#333" opacity="0.35"/><path d="M199.7 327.84h0.6M205.46 328.91h0.6M198.5 330.61h0.6M208.67 327.4h0.6M209.73 328.93h0.6M201.04 329h0.6M206.35 328.01h0.6M203.29 329.87h0.6M205.33 330.05h0.6M210.52 328.06h0.6M200.43 328.35h0.6M199.55 327.57h0.6M196.04 331.23h0.6M201.24 328.67h0.6M202.91 329.31h0.6M204.33 327.8h0.6M200.07 330.46h0.6M206.61 328.09h0.6M194.99 327.54h0.6M203.39 327.49h0.6M198.53 328.29h0.6M203.52 329.39h0.6M203.21 328.92h0.6M202.3 327.35h0.6M196.93 330.15h0.6M199.09 329.7h0.6M201.33 330.16h0.6M209.53 329.19h0.6M197.14 328.23h0.6M199 328.58h0.6M204.79 327.49h0.6M202.74 328.12h0.6M203.29 327.33h0.6M200.6 327.45h0.6M204.06 326.54h0.6M205.38 328.16h0.6M203.22 330.64h0.6M209.82 329.12h0.6M196.99 328.69h0.6M206.36 326.43h0.6M204.48 326.92h0.6M203.54 329.43h0.6M205.22 331.01h0.6M205.85 325.69h0.6M207.7 331.18h0.6M199.21 327.9h0.6M205.52 329.22h0.6M209.73 327.58h0.6M196.47 328.95h0.6M201.21 330.4h0.6M207.81 327.56h0.6M195.5 329.19h0.6M206.79 329.31h0.6M198.14 331.43h0.6M209.61 331.12h0.6M202.76 326.88h0.6M208.7 329.94h0.6M208.3 329.1h0.6M200.49 324.87h0.6M203.27 325.93h0.6M197.18 325.48h0.6M199.11 327.81h0.6M199.66 326.55h0.6M200.8 328.72h0.6M209.39 329.02h0.6M195.52 328.57h0.6M199.99 329.78h0.6M199.54 328.97h0.6M205.28 327.04h0.6M199.02 323.02h0.6M206.16 329.45h0.6M199.97 330.11h0.6M195.45 325.49h0.6M206.79 327.47h0.6M204.17 329.1h0.6M205.13 326.69h0.6M201.69 327.5h0.6M198.85 326.54h0.6M203.13 330.74h0.6M207.24 330.09h0.6M197.35 329.07h0.6M206.41 328.22h0.6M205.44 331.46h0.6M209.67 326.44h0.6M209.3 325.68h0.6M205.41 328.2h0.6M196.24 328.06h0.6M209.47 325.63h0.6M207.53 329.47h0.6M207.71 329.81h0.6M201.34 328.81h0.6M207.21 326.41h0.6M203.61 328.8h0.6M205.23 330.45h0.6M203.1 330.04h0.6M196.27 327.67h0.6M207.55 328.13h0.6M198.73 330.01h0.6M200.19 327.12h0.6M197.45 326.05h0.6M208.29 328.23h0.6M205.17 328.15h0.6M204.08 326.48h0.6M207.4 329.78h0.6M200.07 331.32h0.6M197.07 329.09h0.6M195.79 330.26h0.6M207.6 326.67h0.6M210 329.08h0.6M199.12 329.8h0.6M208.03 328.04h0.6M200.45 328.09h0.6M198.35 330.03h0.6M202.93 327.1h0.6M207.73 328.14h0.6M196.94 325.76h0.6M202.96 328.57h0.6M203.17 329.36h0.6M204.61 327.86h0.6M207.77 328.92h0.6M199.47 330.46h0.6M195.88 327.49h0.6M207.62 326.7h0.6M197.92 330.36h0.6M207.55 330.23h0.6M198.43 329.38h0.6M210.14 324.98h0.6M196.88 330.87h0.6M200.47 328.3h0.6M203.75 330.28h0.6" stroke="#000" stroke-opacity="0.3" stroke-width="0.6" fill="none"/><path d="M191.57 325.06h0.6M196.25 324.34h0.6M200.05 334.13h0.6M184.25 337.08h0.6M197.82 335.29h0.6M203.35 336.92h0.6M191.27 331.72h0.6M194.43 325.87h0.6M203.25 318.49h0.6M193.8 335.02h0.6M201.23 317.53h0.6M198.43 325.03h0.6M197.42 328.36h0.6M208.72 324.14h0.6M198.63 339.97h0.6M206.09 334.26h0.6M203.81 332.61h0.6M209.71 328.46h0.6M193.03 318.02h0.6M195.4 330h0.6M190.39 333.85h0.6M201.44 334.38h0.6M203.52 329.09h0.6M197.35 337.28h0.6M197.35 340.75h0.6M207.99 333.68h0.6M204.88 331.51h0.6M194.95 335.58h0.6M208.7 327.15h0.6M202.04 336.4h0.6M197.3 331.19h0.6M182.19 334.94h0.6M208.87 337.75h0.6M198.5 328.63h0.6M183.28 333.86h0.6M217.07 322.58h0.6M196.14 324.73h0.6M209.77 335.79h0.6M203.18 325.12h0.6M213.52 319.82h0.6M198.74 322.54h0.6M212.04 317.51h0.6M201.75 326.79h0.6M216.6 321.7h0.6M200.96 329.73h0.6M195.23 332.67h0.6M206.2 332.63h0.6M196.91 327.88h0.6M186.33 335.06h0.6M193.68 334.32h0.6" stroke="#000" stroke-opacity="0.2" stroke-width="0.6" fill="none"/><path d="M198.22 309.26h0.68M193.54 321.06h0.68M194 316.04h0.68M208.83 309.09h0.68M207.32 313.46h0.68M194.7 323.27h0.68M194.45 312.45h0.68M195.2 316.17h0.68M210.67 315.13h0.68M208.93 317.04h0.68M206.5 311.92h0.68M195.03 316.69h0.68M193.45 321.21h0.68M194.39 323.62h0.68M194.07 324.82h0.68M207.53 307.4h0.68M207.04 310.68h0.68M194.35 320.27h0.68M210.68 314.08h0.68M195.76 312.11h0.68M209 316.31h0.68M204.58 307.71h0.68M194.45 323.56h0.68M195.52 320.09h0.68M194.4 315.31h0.68M193.66 324.88h0.68M194.14 324.29h0.68M194.53 325.15h0.68M193.84 316.37h0.68M193.41 316.72h0.68M197.44 308.52h0.68M197.38 309.81h0.68M195.61 312.77h0.68M194.18 321.41h0.68M209.26 312.98h0.68M199.7 308.52h0.68M194.25 315.25h0.68M194.55 323.2h0.68M201.83 307.73h0.68M210.92 311.41h0.68M194.06 323.26h0.68M197.82 309.05h0.68M193.78 320.21h0.68M194.17 322.61h0.68M194.06 321.61h0.68M195.14 320.58h0.68M208.49 313.98h0.68M195.54 316.25h0.68M195.45 315.11h0.68M209.89 315.61h0.68M212.09 316.25h0.68M203.45 306.36h0.68M197.15 311.8h0.68M208.59 311.41h0.68M207.31 309.69h0.68M195.38 316.56h0.68M210.36 313.52h0.68M193.95 324.52h0.68M204.25 308.19h0.68M194.79 320.15h0.68M208.03 311h0.68M206.51 308.52h0.68M201.4 309.07h0.68M202.26 307.88h0.68M193.68 324.51h0.68M199.25 307.56h0.68M194.25 324.79h0.68M194.27 323.96h0.68M198.68 308.68h0.68M194.27 324.22h0.68M204.82 307.06h0.68M194.63 318.16h0.68M193.93 321.96h0.68M194.81 324.24h0.68M195.29 320.44h0.68M207.99 312.44h0.68M194.43 318.3h0.68M210.2 314.47h0.68M210.96 315.32h0.68M207.77 308.98h0.68M208.11 309.73h0.68M194.48 317.49h0.68M194.82 320.9h0.68M199.75 305.87h0.68M196.88 309.38h0.68M194.17 318.85h0.68M208.47 309.34h0.68M193.68 315.79h0.68M200.8 310.29h0.68M193.2 320.78h0.68M207.54 311.25h0.68M202.41 307.15h0.68M197.07 311.2h0.68M194.43 321.74h0.68M199.29 306.95h0.68M205.33 309.04h0.68M194.8 314.46h0.68M206.2 308.41h0.68M194.41 322.43h0.68M199.1 308.09h0.68M203.59 306.95h0.68M194.59 317.26h0.68M196.71 314.05h0.68M194.38 311.15h0.68M193.82 321.71h0.68M199.19 306.65h0.68M197.05 309.17h0.68M196.27 309.56h0.68M193.12 316.86h0.68M206.58 308.27h0.68M194.61 324.62h0.68M194.79 317.53h0.68M194.17 315.91h0.68M195.46 307.94h0.68M195.39 315.43h0.68M194.81 323.47h0.68M195.27 312.66h0.68M208.36 310.6h0.68M194.21 324.13h0.68M202.14 309.56h0.68M206.9 306.44h0.68M194.7 321.57h0.68M195.01 316.58h0.68M194.52 316.01h0.68M208.84 317.04h0.68M209.57 314.87h0.68M207.51 308.25h0.68M203.24 308.54h0.68M194 323.97h0.68M207.96 306.03h0.68M194.46 323.4h0.68M199.81 307.64h0.68M193.76 321.76h0.68M207.82 308.78h0.68M194.04 324.9h0.68M203.52 308.62h0.68M211.14 314.25h0.68M193.87 315.33h0.68M194.33 325.41h0.68M193.88 321.29h0.68M207.48 310.43h0.68M193.48 323.82h0.68M193.88 323.92h0.68M194.47 316.23h0.68M194.56 316.41h0.68M194.38 322.52h0.68M193.64 319.14h0.68M202.29 308.49h0.68M199.52 307.01h0.68M194.13 323.94h0.68M194.26 324.56h0.68M196.1 310.72h0.68M202.7 306.73h0.68M204.41 307.14h0.68M204.23 309.24h0.68M209.56 314.35h0.68M193.97 316.62h0.68M203.65 307.38h0.68M194.54 316.61h0.68M194.78 324.29h0.68M194.06 318.21h0.68M195.07 318.62h0.68M194.9 324.66h0.68M194.04 314.25h0.68M195.11 316.84h0.68M194.01 324.7h0.68M194.37 321.77h0.68M206.31 307.11h0.68M194.51 322.03h0.68M194.55 324.58h0.68M194.83 314.8h0.68M206.13 308.49h0.68M204.03 308.57h0.68M194.5 323.15h0.68M194.57 311.59h0.68M194.33 322.23h0.68M205.46 308.35h0.68M201.22 305.38h0.68M203.44 307.83h0.68M193.22 323.81h0.68M194.36 325.1h0.68M197.71 308.12h0.68M198.39 308.29h0.68M194.72 323.79h0.68M196.94 309.38h0.68M194.85 323.9h0.68M194.01 315.85h0.68M194.87 320.12h0.68M206.63 305.46h0.68M194.5 319.05h0.68M194.01 319.86h0.68M210.63 309.71h0.68M211.24 314.7h0.68M194.52 322.3h0.68M194.47 318.49h0.68M193.94 323.6h0.68M206.92 311.36h0.68M204.2 307.73h0.68M202.79 309.73h0.68M196.89 313.1h0.68M194.47 323.08h0.68M198.26 308.42h0.68M210.49 317.96h0.68M194.03 322.71h0.68M198.83 310.1h0.68M194.71 311.51h0.68M194.1 316.56h0.68M203.79 308.1h0.68M206.82 308.2h0.68M194.06 312.07h0.68M198.42 309.97h0.68M193.88 318.18h0.68M201.9 307.48h0.68M195.08 317.92h0.68M201.01 308.14h0.68M204.12 309.82h0.68M196.36 311.71h0.68M194.5 319.26h0.68M207.22 310.35h0.68M195.78 316.13h0.68M194.35 319.12h0.68M200.53 306.2h0.68M194.39 321.56h0.68M209.54 312.98h0.68M194.64 324.27h0.68M194.14 324.12h0.68M197.6 310.89h0.68M193.84 324.84h0.68M194.1 323.14h0.68M210.79 316.18h0.68M201.7 307.18h0.68M195.28 312.54h0.68M196.19 311.77h0.68M201.33 307.84h0.68M194.44 320.56h0.68M194.6 319.78h0.68M195.05 318.51h0.68M195.84 312.53h0.68M194.86 321.49h0.68M194.36 323.96h0.68M194.46 323.23h0.68M202.5 307.59h0.68M195.16 317.63h0.68M196.01 309.28h0.68M194.05 324.35h0.68M195.12 316.69h0.68M197.79 309.86h0.68M194.51 318.72h0.68M194.3 323.92h0.68M194.1 324.09h0.68M194.8 314.46h0.68M209.64 311.68h0.68M194.16 323.51h0.68M198.2 308.15h0.68M194.52 313.29h0.68M211.17 314.88h0.68M197.69 310.41h0.68M195.95 309.12h0.68M194.43 324.64h0.68M211.9 317.38h0.68M195.27 324.51h0.68M202.16 308.68h0.68M197.93 308.53h0.68M197.55 311.45h0.68M193.63 321.11h0.68M194.06 323.73h0.68M196.59 309.23h0.68M193.98 324.35h0.68M194.47 321.03h0.68M196.55 310.69h0.68M199.18 309.41h0.68M193.65 319.4h0.68M200.67 306.6h0.68M194.48 324.81h0.68M207.38 318.89h0.68M194.64 323.36h0.68M194.9 321.03h0.68M194.62 310.96h0.68M193.79 317.18h0.68M194.21 323.58h0.68M193.85 320.38h0.68M204.91 307.58h0.68M195.06 319.54h0.68M193.91 324.89h0.68M201.77 306.55h0.68M193.97 323.27h0.68M197.33 309.41h0.68M194.05 320.68h0.68M208.59 310.26h0.68M214.26 314.96h0.68M194.44 321.1h0.68M198.27 308.09h0.68M194.26 323.96h0.68M195.02 324h0.68M194.46 321.16h0.68M197.56 307.62h0.68M194.21 324.67h0.68M194.68 322.85h0.68M194.92 317.82h0.68M195.46 316.95h0.68M194.78 323.65h0.68M194.28 323.07h0.68M208.06 309.09h0.68M209.65 313.49h0.68M193.8 323.47h0.68M194.64 314.51h0.68M195.14 312.23h0.68M193.86 323.87h0.68M202.49 307.6h0.68M208.99 312.48h0.68M201.82 305.81h0.68M197.86 309.4h0.68M194.15 318.76h0.68M201.46 308.55h0.68M194.34 321.03h0.68M194.18 322.82h0.68M193.48 324.16h0.68M194.36 323.53h0.68M210.48 313.87h0.68M207.27 315.32h0.68M194.32 320.22h0.68M208.82 312.22h0.68M206.51 305.78h0.68M208.96 313.46h0.68M194.48 318.87h0.68M196.25 312.41h0.68M206.86 310.3h0.68M194.55 315.93h0.68M194.81 323.02h0.68M202.07 307.12h0.68M194.82 314.57h0.68M204.73 308.45h0.68M194.2 323.75h0.68M194.71 320.89h0.68M203.7 308.46h0.68M194.14 322.53h0.68M198.19 308.67h0.68M194.02 322.21h0.68M195.52 316.74h0.68M194.34 318.85h0.68M194.51 323.74h0.68M194.17 322.3h0.68M194.13 324.46h0.68M194.72 310.16h0.68M194.17 323.54h0.68M210.59 314.62h0.68M193.66 324.54h0.68M194.99 322.33h0.68M195.61 309.29h0.68M195.22 316.84h0.68M194.42 324.84h0.68M206.49 309.95h0.68M194.25 324.27h0.68M194.13 308.99h0.68M204.52 307.92h0.68M195.37 317.37h0.68M208.28 308.64h0.68M194.19 323.77h0.68M193.47 322.34h0.68M193.12 317.65h0.68M200.71 308.55h0.68M194.44 312.89h0.68M194.37 322.37h0.68M194.58 325.19h0.68M201.9 307.45h0.68M197.03 310.28h0.68M200.97 307.59h0.68M207.95 310.03h0.68M202.89 307.38h0.68M194.36 325h0.68M197.07 309.67h0.68M209.02 314.09h0.68M202.04 307.41h0.68M193.91 321.51h0.68M195.28 315.8h0.68M193.62 321.02h0.68M206.71 310.21h0.68M195.8 309.13h0.68M193.54 324.11h0.68M193.75 318.2h0.68M199.55 309.36h0.68M206.12 306.18h0.68M196.72 309.81h0.68M194.11 321.78h0.68M209 313.79h0.68M201.9 307.11h0.68M194.5 317.73h0.68M207.72 310.77h0.68M207.16 308.85h0.68M194.37 324.3h0.68M194.21 319.53h0.68M195.31 314.86h0.68M194.55 321.36h0.68M211.98 312.74h0.68M194.34 324.41h0.68M206.24 308.75h0.68M194.25 323.96h0.68M209.25 308.99h0.68M195 315.63h0.68M208.09 306.27h0.68M206.93 313.39h0.68M194.38 317.57h0.68M194.4 324.3h0.68M210 316.51h0.68M193.87 320.94h0.68M197.55 308.68h0.68M195.75 316.25h0.68M194.93 315.24h0.68M194.08 324.13h0.68M203.67 308.27h0.68M208.62 314.46h0.68M203.96 308.64h0.68M206.93 306.52h0.68M208.33 308.67h0.68M194.45 319.38h0.68M194.25 321.82h0.68M208.05 310.93h0.68M195.71 312.31h0.68M195.49 310.65h0.68M194.48 320.64h0.68M199.74 307.97h0.68M200.44 306.07h0.68M193.76 318.13h0.68M204.8 306.56h0.68M206.2 311.71h0.68M195.05 312.44h0.68M194.44 319.47h0.68M194.02 323.83h0.68M195.43 310.25h0.68M199.16 307.23h0.68M211.05 311.93h0.68M211.04 316h0.68M208.7 313.12h0.68M194.61 324.54h0.68M194.07 324.31h0.68M194.7 313.07h0.68M198.37 309.25h0.68M202.06 308.41h0.68M193.98 318.19h0.68M206.8 310.35h0.68M195.08 313.55h0.68M195.16 317.28h0.68M207.11 307.23h0.68M209.37 318.44h0.68M194.75 319.85h0.68M201.67 307.88h0.68M202.05 308.01h0.68M193.91 321.54h0.68M195.07 316.17h0.68M197.54 309.22h0.68M197.96 308.66h0.68M207.18 312.71h0.68M194.54 319.62h0.68M198.03 309.43h0.68M194.05 318.72h0.68M212.29 315.15h0.68M201.14 307.91h0.68M196.15 311.51h0.68M205.21 309.76h0.68M195.94 312.81h0.68M194.17 318.93h0.68M197.21 312.98h0.68M194.76 313.46h0.68M193.89 323.12h0.68M194.08 318.26h0.68M194.27 321.25h0.68M194.31 325.11h0.68M194.83 313.97h0.68M207.14 309.46h0.68M193.86 322.07h0.68M194.51 318.78h0.68M209.89 311.76h0.68M194.49 320.34h0.68M195.15 321.07h0.68M194.11 316.87h0.68M194.21 318.4h0.68M194.78 324.82h0.68M196.14 308.51h0.68M194.48 323.99h0.68M194.24 324.44h0.68M194.85 314.19h0.68M209.66 311.27h0.68M199.82 308.37h0.68M195.09 318.55h0.68M197.56 310.93h0.68M210.08 307.58h0.68M208.58 311.97h0.68M199.39 306.84h0.68M195.1 320.71h0.68M195.67 310.37h0.68M196.13 310.38h0.68M193.48 315.92h0.68M209.38 316.57h0.68M193.75 320.38h0.68M195.08 313.54h0.68M194.27 319.63h0.68M196.7 311.78h0.68M195.96 313.39h0.68M192.74 324.14h0.68M206.59 307.78h0.68M196.65 307.66h0.68M195.87 309.25h0.68M204.04 307.58h0.68M195.78 312.3h0.68M194.01 320.42h0.68M194.26 321.65h0.68M194.03 315.88h0.68M196.79 310.73h0.68M212.69 315.61h0.68M209.46 315.32h0.68M194.29 323.43h0.68M207.5 311.23h0.68M200.16 309.12h0.68M194.05 324.69h0.68M193.77 320.01h0.68M194.69 319.77h0.68M194.67 322.45h0.68M194.42 315.28h0.68M194.65 323.61h0.68M196.22 317.91h0.68M194.34 324.32h0.68M209.62 313.46h0.68M194.14 317.68h0.68M198.75 308.77h0.68M196.94 312.52h0.68M201.32 307.22h0.68M194.54 311.85h0.68M196.6 307.34h0.68M209.98 315.92h0.68M195.36 320.54h0.68M193.73 316.25h0.68M193.48 317.16h0.68M194.26 322.99h0.68M194.23 323.46h0.68M207.07 308.91h0.68M209.12 311.01h0.68M195.23 315.03h0.68M196.62 310.49h0.68M193.14 322.2h0.68M202.07 309.68h0.68M194 319.21h0.68M209.46 316.93h0.68M206.6 310.43h0.68M194.22 324.56h0.68M208.86 310.22h0.68M194.55 311.98h0.68M210.05 311.83h0.68M211.03 315.06h0.68M210.07 311.09h0.68M197.13 311.07h0.68M201.47 305.84h0.68M207.94 312.55h0.68M194.09 319.69h0.68M195.38 313.54h0.68M194 320.08h0.68M201.56 310.3h0.68M195.17 311.14h0.68M194.45 324.55h0.68M194.63 324.65h0.68M203.94 306.86h0.68M197.86 323.21h0.68M208.78 314.46h0.68M193.33 319.99h0.68M193.33 326.37h0.68M193.06 321.36h0.68M188.49 321.33h0.68M197.8 306.26h0.68M212.06 315.62h0.68M202.77 308.67h0.68M209.76 311.54h0.68M204.43 307.02h0.68M193.35 316.73h0.68M191.15 314.69h0.68M193.11 309.64h0.68M210.86 307.17h0.68M200.16 309.76h0.68M205.27 310.67h0.68M203.38 308.79h0.68M194.76 328.58h0.68M200.54 308.12h0.68M193.02 312.07h0.68M196.42 316.19h0.68M207.56 307.81h0.68M209.86 310.67h0.68M195.15 315.3h0.68M210.66 316.47h0.68M190.65 318.7h0.68M192.29 320.29h0.68M190.58 313.1h0.68M195.79 322.42h0.68M193.7 314.57h0.68M190.94 318.21h0.68M205.8 307.73h0.68M202.12 308.05h0.68M192.79 312.11h0.68M194.02 323.47h0.68M197.1 308.25h0.68M193.81 321.57h0.68M210.3 309.65h0.68M199.9 306.57h0.68" stroke="#c01020" stroke-opacity="0.6" stroke-width="0.68" fill="none"/><text x="224.2" y="305.2" font-size="5.2" text-anchor="end" font-weight="normal" fill="#222">9.6%</text><rect x="60.7" y="336.7" width="20.5" height="8.6" fill="#fff" stroke="#aaa" stroke-width="0.6"/><text x="63.8" y="343.2" font-size="5.2" text-anchor="start" font-weight="normal" fill="#111" textLength="13.2" lengthAdjust="spacingAndGlyphs">+ Epo</text><rect x="134.2" y="336.7" width="20.5" height="8.6" fill="#fff" stroke="#aaa" stroke-width="0.6"/><text x="137.3" y="343.2" font-size="5.2" text-anchor="start" font-weight="normal" fill="#111" textLength="13.2" lengthAdjust="spacingAndGlyphs">+ Epo</text><rect x="207.8" y="336.7" width="20.5" height="8.6" fill="#fff" stroke="#aaa" stroke-width="0.6"/><text x="210.9" y="343.2" font-size="5.2" text-anchor="start" font-weight="normal" fill="#111" textLength="13.2" lengthAdjust="spacingAndGlyphs">+ Epo</text><text x="55.8" y="221.2" font-size="7.3" text-anchor="middle" font-weight="normal" fill="#000" textLength="26.9" lengthAdjust="spacingAndGlyphs">GFP only</text><text x="129.8" y="221.2" font-size="7.3" text-anchor="middle" font-weight="normal" fill="#000" textLength="15.8" lengthAdjust="spacingAndGlyphs">EpoR</text><text x="203.3" y="221.2" font-size="7.3" text-anchor="middle" font-weight="normal" fill="#000" textLength="21.4" lengthAdjust="spacingAndGlyphs">EpoRm</text><line x1="10.5" y1="240" x2="10.5" y2="263.7" stroke="#222" stroke-width="1.2"/><path d="M10.5 235.8 L8.2 241.8 L12.8 241.8 Z" fill="#111"/><text x="13" y="286" font-size="6.8" text-anchor="middle" font-weight="normal" fill="#333" textLength="26" lengthAdjust="spacingAndGlyphs" transform="rotate(-90 13 286)">Edu AF647</text><line x1="10.3" y1="307.2" x2="10.3" y2="334.7" stroke="#222" stroke-width="1.2"/><line x1="58" y1="371.5" x2="102.6" y2="371.5" stroke="#333" stroke-width="1.3"/><text x="129.7" y="374.2" font-size="6.6" text-anchor="middle" font-weight="normal" fill="#333" textLength="31.7" lengthAdjust="spacingAndGlyphs">FxCycle violet</text><line x1="156" y1="371.6" x2="197.5" y2="371.6" stroke="#333" stroke-width="1.3"/><path d="M202 371.6 L196 369.2 L196 374 Z" fill="#111"/><line x1="282.3" y1="174.2" x2="282.3" y2="242.1" stroke="#000" stroke-width="1.1"/><line x1="281.8" y1="241.6" x2="325.8" y2="241.6" stroke="#000" stroke-width="1.1"/><line x1="279.1" y1="241.6" x2="282.3" y2="241.6" stroke="#000" stroke-width="0.9"/><text x="277.3" y="243.8" font-size="6.4" text-anchor="end" font-weight="normal" fill="#111" textLength="3.4" lengthAdjust="spacingAndGlyphs">0</text><line x1="279.1" y1="226.31" x2="282.3" y2="226.31" stroke="#000" stroke-width="0.9"/><text x="277.3" y="228.51" font-size="6.4" text-anchor="end" font-weight="normal" fill="#111" textLength="6.8" lengthAdjust="spacingAndGlyphs">25</text><line x1="279.1" y1="211.02" x2="282.3" y2="211.02" stroke="#000" stroke-width="0.9"/><text x="277.3" y="213.22" font-size="6.4" text-anchor="end" font-weight="normal" fill="#111" textLength="6.8" lengthAdjust="spacingAndGlyphs">50</text><line x1="279.1" y1="195.73" x2="282.3" y2="195.73" stroke="#000" stroke-width="0.9"/><text x="277.3" y="197.93" font-size="6.4" text-anchor="end" font-weight="normal" fill="#111" textLength="6.8" lengthAdjust="spacingAndGlyphs">75</text><line x1="279.1" y1="180.44" x2="282.3" y2="180.44" stroke="#000" stroke-width="0.9"/><text x="277.3" y="182.64" font-size="6.4" text-anchor="end" font-weight="normal" fill="#111" textLength="10.2" lengthAdjust="spacingAndGlyphs">100</text><line x1="282.3" y1="241.6" x2="282.3" y2="244.5" stroke="#000" stroke-width="0.9"/><text x="282.3" y="254" font-size="6.6" text-anchor="middle" font-weight="normal" fill="#111">0</text><line x1="296.7" y1="241.6" x2="296.7" y2="244.5" stroke="#000" stroke-width="0.9"/><text x="296.7" y="254" font-size="6.6" text-anchor="middle" font-weight="normal" fill="#111">8</text><line x1="309.3" y1="241.6" x2="309.3" y2="244.5" stroke="#000" stroke-width="0.9"/><text x="309.3" y="254" font-size="6.6" text-anchor="middle" font-weight="normal" fill="#111">15</text><line x1="321.9" y1="241.6" x2="321.9" y2="244.5" stroke="#000" stroke-width="0.9"/><text x="321.9" y="254" font-size="6.6" text-anchor="middle" font-weight="normal" fill="#111">22</text><line x1="339.3" y1="174.2" x2="339.3" y2="242.1" stroke="#000" stroke-width="1.1"/><line x1="338.8" y1="241.6" x2="382.8" y2="241.6" stroke="#000" stroke-width="1.1"/><line x1="336.1" y1="241.6" x2="339.3" y2="241.6" stroke="#000" stroke-width="0.9"/><line x1="336.1" y1="226.31" x2="339.3" y2="226.31" stroke="#000" stroke-width="0.9"/><line x1="336.1" y1="211.02" x2="339.3" y2="211.02" stroke="#000" stroke-width="0.9"/><line x1="336.1" y1="195.73" x2="339.3" y2="195.73" stroke="#000" stroke-width="0.9"/><line x1="336.1" y1="180.44" x2="339.3" y2="180.44" stroke="#000" stroke-width="0.9"/><line x1="339.3" y1="241.6" x2="339.3" y2="244.5" stroke="#000" stroke-width="0.9"/><text x="339.3" y="254" font-size="6.6" text-anchor="middle" font-weight="normal" fill="#111">0</text><line x1="353.7" y1="241.6" x2="353.7" y2="244.5" stroke="#000" stroke-width="0.9"/><text x="353.7" y="254" font-size="6.6" text-anchor="middle" font-weight="normal" fill="#111">8</text><line x1="366.3" y1="241.6" x2="366.3" y2="244.5" stroke="#000" stroke-width="0.9"/><text x="366.3" y="254" font-size="6.6" text-anchor="middle" font-weight="normal" fill="#111">15</text><line x1="378.9" y1="241.6" x2="378.9" y2="244.5" stroke="#000" stroke-width="0.9"/><text x="378.9" y="254" font-size="6.6" text-anchor="middle" font-weight="normal" fill="#111">22</text><text x="261.2" y="208" font-size="9.2" text-anchor="middle" font-weight="normal" fill="#111" textLength="47.5" lengthAdjust="spacingAndGlyphs" transform="rotate(-90 261.2 208)">% of input cells</text><text x="332.3" y="266" font-size="9.4" text-anchor="middle" font-weight="normal" fill="#111" textLength="45" lengthAdjust="spacingAndGlyphs">Days in culture</text><text x="303.9" y="169.4" font-size="9" text-anchor="middle" font-weight="normal" fill="#000" textLength="30.2" lengthAdjust="spacingAndGlyphs">No Epo</text><text x="361.2" y="169.4" font-size="9" text-anchor="middle" font-weight="normal" fill="#000" textLength="15.5" lengthAdjust="spacingAndGlyphs">Epo</text><path d="M282.3 180.44 L296.7 233.95 L309.3 240.38 L321.9 241.29" fill="none" stroke="#111" stroke-width="1.1"/><circle cx="282.3" cy="180.44" r="1.75" fill="#7dc243" stroke="#111" stroke-width="0.7"/><circle cx="296.7" cy="233.95" r="1.75" fill="#7dc243" stroke="#111" stroke-width="0.7"/><circle cx="309.3" cy="240.38" r="1.75" fill="#7dc243" stroke="#111" stroke-width="0.7"/><circle cx="321.9" cy="241.29" r="1.75" fill="#7dc243" stroke="#111" stroke-width="0.7"/><path d="M282.3 180.44 L296.7 233.04 L309.3 239.77 L321.9 241.29" fill="none" stroke="#111" stroke-width="1.1"/><circle cx="282.3" cy="180.44" r="1.75" fill="#cc0a2f" stroke="#111" stroke-width="0.7"/><circle cx="296.7" cy="233.04" r="1.75" fill="#cc0a2f" stroke="#111" stroke-width="0.7"/><circle cx="309.3" cy="239.77" r="1.75" fill="#cc0a2f" stroke="#111" stroke-width="0.7"/><circle cx="321.9" cy="241.29" r="1.75" fill="#cc0a2f" stroke="#111" stroke-width="0.7"/><path d="M282.3 180.44 L296.7 226.92 L309.3 237.93 L321.9 240.99" fill="none" stroke="#111" stroke-width="1.1"/><circle cx="282.3" cy="180.44" r="1.75" fill="#5b2281" stroke="#111" stroke-width="0.7"/><circle cx="296.7" cy="226.92" r="1.75" fill="#5b2281" stroke="#111" stroke-width="0.7"/><circle cx="309.3" cy="237.93" r="1.75" fill="#5b2281" stroke="#111" stroke-width="0.7"/><circle cx="321.9" cy="240.99" r="1.75" fill="#5b2281" stroke="#111" stroke-width="0.7"/><line x1="296.7" y1="223.25" x2="296.7" y2="229.98" stroke="#000" stroke-width="0.7"/><line x1="295.7" y1="223.25" x2="297.7" y2="223.25" stroke="#000" stroke-width="0.7"/><line x1="353.7" y1="185.94" x2="353.7" y2="192.67" stroke="#000" stroke-width="0.8"/><line x1="352.6" y1="185.94" x2="354.8" y2="185.94" stroke="#000" stroke-width="0.8"/><line x1="352.6" y1="192.67" x2="354.8" y2="192.67" stroke="#000" stroke-width="0.8"/><line x1="366.3" y1="214.08" x2="366.3" y2="219.58" stroke="#000" stroke-width="0.8"/><line x1="365.2" y1="214.08" x2="367.4" y2="214.08" stroke="#000" stroke-width="0.8"/><line x1="365.2" y1="219.58" x2="367.4" y2="219.58" stroke="#000" stroke-width="0.8"/><line x1="378.9" y1="228.76" x2="378.9" y2="234.26" stroke="#000" stroke-width="0.8"/><line x1="377.8" y1="228.76" x2="380" y2="228.76" stroke="#000" stroke-width="0.8"/><line x1="377.8" y1="234.26" x2="380" y2="234.26" stroke="#000" stroke-width="0.8"/><line x1="353.7" y1="176.46" x2="353.7" y2="179.83" stroke="#000" stroke-width="0.8"/><line x1="352.6" y1="176.46" x2="354.8" y2="176.46" stroke="#000" stroke-width="0.8"/><line x1="352.6" y1="179.83" x2="354.8" y2="179.83" stroke="#000" stroke-width="0.8"/><path d="M339.3 180.44 L353.7 236.22 L366.3 241.11 L378.9 241.36" fill="none" stroke="#111" stroke-width="1.1"/><circle cx="339.3" cy="180.44" r="1.75" fill="#7dc243" stroke="#111" stroke-width="0.7"/><circle cx="353.7" cy="236.22" r="1.75" fill="#7dc243" stroke="#111" stroke-width="0.7"/><circle cx="366.3" cy="241.11" r="1.75" fill="#7dc243" stroke="#111" stroke-width="0.7"/><circle cx="378.9" cy="241.36" r="1.75" fill="#7dc243" stroke="#111" stroke-width="0.7"/><path d="M339.3 180.44 L353.7 189.31 L366.3 216.83 L378.9 231.51" fill="none" stroke="#111" stroke-width="1.1"/><circle cx="339.3" cy="180.44" r="1.75" fill="#cc0a2f" stroke="#111" stroke-width="0.7"/><circle cx="353.7" cy="189.31" r="1.75" fill="#cc0a2f" stroke="#111" stroke-width="0.7"/><circle cx="366.3" cy="216.83" r="1.75" fill="#cc0a2f" stroke="#111" stroke-width="0.7"/><circle cx="378.9" cy="231.51" r="1.75" fill="#cc0a2f" stroke="#111" stroke-width="0.7"/><path d="M339.3 180.44 L353.7 178.3 L366.3 207.04 L378.9 226.62" fill="none" stroke="#111" stroke-width="1.1"/><circle cx="339.3" cy="180.44" r="1.75" fill="#5b2281" stroke="#111" stroke-width="0.7"/><circle cx="353.7" cy="178.3" r="1.75" fill="#5b2281" stroke="#111" stroke-width="0.7"/><circle cx="366.3" cy="207.04" r="1.75" fill="#5b2281" stroke="#111" stroke-width="0.7"/><circle cx="378.9" cy="226.62" r="1.75" fill="#5b2281" stroke="#111" stroke-width="0.7"/><circle cx="350.95" cy="213.9" r="0.7" fill="#222"/><circle cx="353.25" cy="213.9" r="0.7" fill="#222"/><circle cx="355.55" cy="213.9" r="0.7" fill="#222"/><circle cx="357.85" cy="213.9" r="0.7" fill="#222"/><circle cx="362.95" cy="232.1" r="0.7" fill="#222"/><circle cx="365.25" cy="232.1" r="0.7" fill="#222"/><circle cx="367.55" cy="232.1" r="0.7" fill="#222"/><circle cx="369.85" cy="232.1" r="0.7" fill="#222"/><circle cx="377.45" cy="237.7" r="0.7" fill="#222"/><circle cx="379.75" cy="237.7" r="0.7" fill="#222"/><circle cx="352.55" cy="183.2" r="0.7" fill="#222"/><circle cx="354.85" cy="183.2" r="0.7" fill="#222"/><circle cx="287.4" cy="280.8" r="1.75" fill="#7dc243" stroke="#111" stroke-width="0.7"/><text x="292" y="282.8" font-size="6.1" text-anchor="start" font-weight="normal" fill="#111" textLength="23" lengthAdjust="spacingAndGlyphs">GFP only</text><circle cx="326.2" cy="280.8" r="1.75" fill="#cc0a2f" stroke="#111" stroke-width="0.7"/><text x="331.3" y="282.8" font-size="6.1" text-anchor="start" font-weight="normal" fill="#111" textLength="13.8" lengthAdjust="spacingAndGlyphs">EpoR</text><circle cx="355.8" cy="280.8" r="1.75" fill="#5b2281" stroke="#111" stroke-width="0.7"/><text x="360.8" y="282.8" font-size="6.1" text-anchor="start" font-weight="normal" fill="#111" textLength="18.6" lengthAdjust="spacingAndGlyphs">EpoRm</text><line x1="427.8" y1="171.8" x2="427.8" y2="241.4" stroke="#000" stroke-width="1.1"/><line x1="427.3" y1="241.3" x2="509.5" y2="241.3" stroke="#000" stroke-width="1.1"/><line x1="424.6" y1="240.9" x2="427.8" y2="240.9" stroke="#000" stroke-width="0.9"/><text x="422.6" y="243.1" font-size="6.4" text-anchor="end" font-weight="normal" fill="#111" textLength="3.4" lengthAdjust="spacingAndGlyphs">0</text><line x1="424.6" y1="229.9" x2="427.8" y2="229.9" stroke="#000" stroke-width="0.9"/><text x="422.6" y="232.1" font-size="6.4" text-anchor="end" font-weight="normal" fill="#111" textLength="10.3" lengthAdjust="spacingAndGlyphs">100</text><line x1="424.6" y1="218.9" x2="427.8" y2="218.9" stroke="#000" stroke-width="0.9"/><text x="422.6" y="221.1" font-size="6.4" text-anchor="end" font-weight="normal" fill="#111" textLength="10.3" lengthAdjust="spacingAndGlyphs">200</text><line x1="424.6" y1="207.9" x2="427.8" y2="207.9" stroke="#000" stroke-width="0.9"/><text x="422.6" y="210.1" font-size="6.4" text-anchor="end" font-weight="normal" fill="#111" textLength="10.3" lengthAdjust="spacingAndGlyphs">300</text><line x1="424.6" y1="196.9" x2="427.8" y2="196.9" stroke="#000" stroke-width="0.9"/><text x="422.6" y="199.1" font-size="6.4" text-anchor="end" font-weight="normal" fill="#111" textLength="10.3" lengthAdjust="spacingAndGlyphs">400</text><line x1="424.6" y1="185.9" x2="427.8" y2="185.9" stroke="#000" stroke-width="0.9"/><text x="422.6" y="188.1" font-size="6.4" text-anchor="end" font-weight="normal" fill="#111" textLength="10.3" lengthAdjust="spacingAndGlyphs">500</text><line x1="424.6" y1="174.9" x2="427.8" y2="174.9" stroke="#000" stroke-width="0.9"/><text x="422.6" y="177.1" font-size="6.4" text-anchor="end" font-weight="normal" fill="#111" textLength="10.3" lengthAdjust="spacingAndGlyphs">600</text><line x1="439" y1="241.3" x2="439" y2="243.8" stroke="#000" stroke-width="0.9"/><line x1="468.4" y1="241.3" x2="468.4" y2="243.8" stroke="#000" stroke-width="0.9"/><line x1="497.3" y1="241.3" x2="497.3" y2="243.8" stroke="#000" stroke-width="0.9"/><text x="405.8" y="207.6" font-size="9.2" text-anchor="middle" font-weight="normal" fill="#111" textLength="46.8" lengthAdjust="spacingAndGlyphs" transform="rotate(-90 405.8 207.6)">% of input cells</text><text x="438.8" y="250.6" font-size="7.2" text-anchor="middle" font-weight="normal" fill="#111" textLength="13.5" lengthAdjust="spacingAndGlyphs">GFP</text><text x="467" y="250.6" font-size="7.2" text-anchor="middle" font-weight="normal" fill="#111" textLength="16.8" lengthAdjust="spacingAndGlyphs">EpoR</text><text x="495.3" y="250.6" font-size="7.2" text-anchor="middle" font-weight="normal" fill="#111" textLength="22.4" lengthAdjust="spacingAndGlyphs">EpoRm</text><line x1="431.9" y1="235" x2="438.8" y2="211.5" stroke="#111" stroke-width="1"/><line x1="431.9" y1="235" x2="438.8" y2="215.6" stroke="#111" stroke-width="1"/><line x1="431.9" y1="239.7" x2="438.8" y2="218.9" stroke="#111" stroke-width="1"/><line x1="431.9" y1="239.7" x2="438.8" y2="226.8" stroke="#111" stroke-width="1"/><line x1="431.9" y1="235" x2="438.8" y2="226.8" stroke="#111" stroke-width="1"/><line x1="438.8" y1="211.5" x2="446.5" y2="207.4" stroke="#111" stroke-width="1"/><line x1="438.8" y1="215.6" x2="446.5" y2="218.2" stroke="#111" stroke-width="1"/><line x1="438.8" y1="218.9" x2="446.5" y2="218.2" stroke="#111" stroke-width="1"/><line x1="438.8" y1="226.8" x2="446.5" y2="226.8" stroke="#111" stroke-width="1"/><circle cx="431.9" cy="239.7" r="1.7" fill="#cc0a2f" stroke="#111" stroke-width="0.7"/><circle cx="431.9" cy="235" r="1.7" fill="#cc0a2f" stroke="#111" stroke-width="0.7"/><circle cx="438.8" cy="211.5" r="1.7" fill="#2b5aa6" stroke="#111" stroke-width="0.7"/><circle cx="438.8" cy="215.6" r="1.7" fill="#2b5aa6" stroke="#111" stroke-width="0.7"/><circle cx="438.8" cy="218.9" r="1.7" fill="#2b5aa6" stroke="#111" stroke-width="0.7"/><circle cx="438.8" cy="226.8" r="1.7" fill="#2b5aa6" stroke="#111" stroke-width="0.7"/><circle cx="446.5" cy="207.4" r="1.7" fill="#7dc243" stroke="#111" stroke-width="0.7"/><circle cx="446.5" cy="218.2" r="1.7" fill="#7dc243" stroke="#111" stroke-width="0.7"/><circle cx="446.5" cy="226.8" r="1.7" fill="#7dc243" stroke="#111" stroke-width="0.7"/><line x1="461" y1="233" x2="468.4" y2="208.4" stroke="#111" stroke-width="1"/><line x1="461" y1="238.5" x2="468.4" y2="215.8" stroke="#111" stroke-width="1"/><line x1="461" y1="240.4" x2="468.4" y2="219.6" stroke="#111" stroke-width="1"/><line x1="461" y1="233" x2="468.4" y2="223" stroke="#111" stroke-width="1"/><line x1="461" y1="240.4" x2="468.4" y2="223" stroke="#111" stroke-width="1"/><line x1="468.4" y1="208.4" x2="475.9" y2="189.3" stroke="#111" stroke-width="1"/><line x1="468.4" y1="215.8" x2="475.9" y2="205.7" stroke="#111" stroke-width="1"/><line x1="468.4" y1="219.6" x2="475.9" y2="210.6" stroke="#111" stroke-width="1"/><line x1="468.4" y1="223" x2="475.9" y2="218.5" stroke="#111" stroke-width="1"/><circle cx="461" cy="240.4" r="1.7" fill="#cc0a2f" stroke="#111" stroke-width="0.7"/><circle cx="461" cy="238.5" r="1.7" fill="#cc0a2f" stroke="#111" stroke-width="0.7"/><circle cx="461" cy="233" r="1.7" fill="#cc0a2f" stroke="#111" stroke-width="0.7"/><circle cx="468.4" cy="208.4" r="1.7" fill="#2b5aa6" stroke="#111" stroke-width="0.7"/><circle cx="468.4" cy="215.8" r="1.7" fill="#2b5aa6" stroke="#111" stroke-width="0.7"/><circle cx="468.4" cy="219.6" r="1.7" fill="#2b5aa6" stroke="#111" stroke-width="0.7"/><circle cx="468.4" cy="223" r="1.7" fill="#2b5aa6" stroke="#111" stroke-width="0.7"/><circle cx="475.9" cy="189.3" r="1.7" fill="#7dc243" stroke="#111" stroke-width="0.7"/><circle cx="475.9" cy="205.7" r="1.7" fill="#7dc243" stroke="#111" stroke-width="0.7"/><circle cx="475.9" cy="210.6" r="1.7" fill="#7dc243" stroke="#111" stroke-width="0.7"/><circle cx="475.9" cy="218.5" r="1.7" fill="#7dc243" stroke="#111" stroke-width="0.7"/><line x1="490.3" y1="232.6" x2="497.8" y2="210.3" stroke="#111" stroke-width="1"/><line x1="490.3" y1="238.8" x2="497.8" y2="218.5" stroke="#111" stroke-width="1"/><line x1="490.3" y1="240.4" x2="497.8" y2="225.4" stroke="#111" stroke-width="1"/><line x1="490.3" y1="232.6" x2="497.8" y2="225.4" stroke="#111" stroke-width="1"/><line x1="497.8" y1="210.3" x2="505.2" y2="181.9" stroke="#111" stroke-width="1"/><line x1="497.8" y1="210.3" x2="505.2" y2="197.6" stroke="#111" stroke-width="1"/><line x1="497.8" y1="218.5" x2="505.2" y2="207.7" stroke="#111" stroke-width="1"/><line x1="497.8" y1="225.4" x2="505.2" y2="212.8" stroke="#111" stroke-width="1"/><circle cx="490.3" cy="240.4" r="1.7" fill="#cc0a2f" stroke="#111" stroke-width="0.7"/><circle cx="490.3" cy="238.8" r="1.7" fill="#cc0a2f" stroke="#111" stroke-width="0.7"/><circle cx="490.3" cy="232.6" r="1.7" fill="#cc0a2f" stroke="#111" stroke-width="0.7"/><circle cx="497.8" cy="210.3" r="1.7" fill="#2b5aa6" stroke="#111" stroke-width="0.7"/><circle cx="497.8" cy="218.5" r="1.7" fill="#2b5aa6" stroke="#111" stroke-width="0.7"/><circle cx="497.8" cy="225.4" r="1.7" fill="#2b5aa6" stroke="#111" stroke-width="0.7"/><circle cx="505.2" cy="181.9" r="1.7" fill="#7dc243" stroke="#111" stroke-width="0.7"/><circle cx="505.2" cy="197.6" r="1.7" fill="#7dc243" stroke="#111" stroke-width="0.7"/><circle cx="505.2" cy="207.7" r="1.7" fill="#7dc243" stroke="#111" stroke-width="0.7"/><circle cx="505.2" cy="212.8" r="1.7" fill="#7dc243" stroke="#111" stroke-width="0.7"/><path d="M445.5 186.6 V184.5 H475.9 V186.6" fill="none" stroke="#111" stroke-width="0.9"/><path d="M475.3 173.6 V171.6 H505.7 V173.8" fill="none" stroke="#111" stroke-width="0.9"/><path d="M497.3 178.4 V176.4 H505.7 V178.4" fill="none" stroke="#111" stroke-width="0.9"/><circle cx="461.1" cy="182.3" r="0.7" fill="#222"/><circle cx="490.4" cy="169.3" r="0.7" fill="#222"/><circle cx="501.5" cy="174.1" r="0.7" fill="#222"/><circle cx="426.3" cy="264.2" r="1.75" fill="#cc0a2f" stroke="#111" stroke-width="0.7"/><text x="431.5" y="266.2" font-size="6.1" text-anchor="start" font-weight="normal" fill="#111" textLength="13.5" lengthAdjust="spacingAndGlyphs">None</text><circle cx="456" cy="264.2" r="1.75" fill="#2b5aa6" stroke="#111" stroke-width="0.7"/><text x="461.3" y="266.2" font-size="6.1" text-anchor="start" font-weight="normal" fill="#111" textLength="9.3" lengthAdjust="spacingAndGlyphs">IL-2</text><circle cx="481.9" cy="264.2" r="1.75" fill="#7dc243" stroke="#111" stroke-width="0.7"/><text x="486.9" y="266.2" font-size="6.1" text-anchor="start" font-weight="normal" fill="#111" textLength="26" lengthAdjust="spacingAndGlyphs">IL-2 + Epo</text><line x1="284" y1="324.8" x2="284" y2="395.5" stroke="#000" stroke-width="1.1"/><line x1="283.5" y1="395" x2="350.2" y2="395" stroke="#000" stroke-width="1.1"/><line x1="280.8" y1="395" x2="284" y2="395" stroke="#000" stroke-width="0.9"/><text x="278.6" y="397.2" font-size="6.4" text-anchor="end" font-weight="normal" fill="#111" textLength="3.4" lengthAdjust="spacingAndGlyphs">0</text><line x1="280.8" y1="383.79" x2="284" y2="383.79" stroke="#000" stroke-width="0.9"/><text x="278.6" y="385.99" font-size="6.4" text-anchor="end" font-weight="normal" fill="#111" textLength="6.8" lengthAdjust="spacingAndGlyphs">50</text><line x1="280.8" y1="372.57" x2="284" y2="372.57" stroke="#000" stroke-width="0.9"/><text x="278.6" y="374.77" font-size="6.4" text-anchor="end" font-weight="normal" fill="#111" textLength="10.3" lengthAdjust="spacingAndGlyphs">100</text><line x1="280.8" y1="361.36" x2="284" y2="361.36" stroke="#000" stroke-width="0.9"/><text x="278.6" y="363.56" font-size="6.4" text-anchor="end" font-weight="normal" fill="#111" textLength="10.3" lengthAdjust="spacingAndGlyphs">150</text><line x1="280.8" y1="350.14" x2="284" y2="350.14" stroke="#000" stroke-width="0.9"/><text x="278.6" y="352.34" font-size="6.4" text-anchor="end" font-weight="normal" fill="#111" textLength="10.3" lengthAdjust="spacingAndGlyphs">200</text><line x1="280.8" y1="338.93" x2="284" y2="338.93" stroke="#000" stroke-width="0.9"/><text x="278.6" y="341.12" font-size="6.4" text-anchor="end" font-weight="normal" fill="#111" textLength="10.3" lengthAdjust="spacingAndGlyphs">250</text><line x1="280.8" y1="327.71" x2="284" y2="327.71" stroke="#000" stroke-width="0.9"/><text x="278.6" y="329.91" font-size="6.4" text-anchor="end" font-weight="normal" fill="#111" textLength="10.3" lengthAdjust="spacingAndGlyphs">300</text><line x1="284" y1="395" x2="284" y2="397.8" stroke="#000" stroke-width="0.9"/><text x="284" y="407.2" font-size="6.6" text-anchor="middle" font-weight="normal" fill="#111">0</text><line x1="292.92" y1="395" x2="292.92" y2="397.8" stroke="#000" stroke-width="0.9"/><text x="292.92" y="407.2" font-size="6.6" text-anchor="middle" font-weight="normal" fill="#111">2</text><line x1="301.84" y1="395" x2="301.84" y2="397.8" stroke="#000" stroke-width="0.9"/><text x="301.84" y="407.2" font-size="6.6" text-anchor="middle" font-weight="normal" fill="#111">4</text><line x1="310.76" y1="395" x2="310.76" y2="397.8" stroke="#000" stroke-width="0.9"/><text x="310.76" y="407.2" font-size="6.6" text-anchor="middle" font-weight="normal" fill="#111">6</text><line x1="319.68" y1="395" x2="319.68" y2="397.8" stroke="#000" stroke-width="0.9"/><text x="319.68" y="407.2" font-size="6.6" text-anchor="middle" font-weight="normal" fill="#111">8</text><line x1="328.6" y1="395" x2="328.6" y2="397.8" stroke="#000" stroke-width="0.9"/><text x="328.6" y="407.2" font-size="6.6" text-anchor="middle" font-weight="normal" fill="#111">10</text><line x1="337.52" y1="395" x2="337.52" y2="397.8" stroke="#000" stroke-width="0.9"/><text x="337.52" y="407.2" font-size="6.6" text-anchor="middle" font-weight="normal" fill="#111">12</text><line x1="346.44" y1="395" x2="346.44" y2="397.8" stroke="#000" stroke-width="0.9"/><text x="346.44" y="407.2" font-size="6.6" text-anchor="middle" font-weight="normal" fill="#111">14</text><line x1="367.3" y1="324.8" x2="367.3" y2="395.5" stroke="#000" stroke-width="1.1"/><line x1="366.8" y1="395" x2="433.5" y2="395" stroke="#000" stroke-width="1.1"/><line x1="364.1" y1="395" x2="367.3" y2="395" stroke="#000" stroke-width="0.9"/><line x1="364.1" y1="383.79" x2="367.3" y2="383.79" stroke="#000" stroke-width="0.9"/><line x1="364.1" y1="372.57" x2="367.3" y2="372.57" stroke="#000" stroke-width="0.9"/><line x1="364.1" y1="361.36" x2="367.3" y2="361.36" stroke="#000" stroke-width="0.9"/><line x1="364.1" y1="350.14" x2="367.3" y2="350.14" stroke="#000" stroke-width="0.9"/><line x1="364.1" y1="338.93" x2="367.3" y2="338.93" stroke="#000" stroke-width="0.9"/><line x1="364.1" y1="327.71" x2="367.3" y2="327.71" stroke="#000" stroke-width="0.9"/><line x1="367.3" y1="395" x2="367.3" y2="397.8" stroke="#000" stroke-width="0.9"/><text x="367.3" y="407.2" font-size="6.6" text-anchor="middle" font-weight="normal" fill="#111">0</text><line x1="376.22" y1="395" x2="376.22" y2="397.8" stroke="#000" stroke-width="0.9"/><text x="376.22" y="407.2" font-size="6.6" text-anchor="middle" font-weight="normal" fill="#111">2</text><line x1="385.14" y1="395" x2="385.14" y2="397.8" stroke="#000" stroke-width="0.9"/><text x="385.14" y="407.2" font-size="6.6" text-anchor="middle" font-weight="normal" fill="#111">4</text><line x1="394.06" y1="395" x2="394.06" y2="397.8" stroke="#000" stroke-width="0.9"/><text x="394.06" y="407.2" font-size="6.6" text-anchor="middle" font-weight="normal" fill="#111">6</text><line x1="402.98" y1="395" x2="402.98" y2="397.8" stroke="#000" stroke-width="0.9"/><text x="402.98" y="407.2" font-size="6.6" text-anchor="middle" font-weight="normal" fill="#111">8</text><line x1="411.9" y1="395" x2="411.9" y2="397.8" stroke="#000" stroke-width="0.9"/><text x="411.9" y="407.2" font-size="6.6" text-anchor="middle" font-weight="normal" fill="#111">10</text><line x1="420.82" y1="395" x2="420.82" y2="397.8" stroke="#000" stroke-width="0.9"/><text x="420.82" y="407.2" font-size="6.6" text-anchor="middle" font-weight="normal" fill="#111">12</text><line x1="429.74" y1="395" x2="429.74" y2="397.8" stroke="#000" stroke-width="0.9"/><text x="429.74" y="407.2" font-size="6.6" text-anchor="middle" font-weight="normal" fill="#111">14</text><text x="260.9" y="359.8" font-size="9.2" text-anchor="middle" font-weight="normal" fill="#111" textLength="47.8" lengthAdjust="spacingAndGlyphs" transform="rotate(-90 260.9 359.8)">% of input cells</text><text x="359.2" y="419.6" font-size="9.4" text-anchor="middle" font-weight="normal" fill="#111" textLength="45" lengthAdjust="spacingAndGlyphs">Days in culture</text><text x="317" y="323.75" font-size="9" text-anchor="middle" font-weight="normal" fill="#000" textLength="30" lengthAdjust="spacingAndGlyphs">No Epo</text><text x="396" y="323.75" font-size="9" text-anchor="middle" font-weight="normal" fill="#000" textLength="15.5" lengthAdjust="spacingAndGlyphs">Epo</text><path d="M284 372.57 L292.92 365.17 L301.84 360.91 L310.76 357.09 L319.68 364.27 L328.6 367.41 L337.52 371.45 L346.44 374.81" fill="none" stroke="#111" stroke-width="1"/><circle cx="284" cy="372.57" r="1.75" fill="#cc0a2f" stroke="#111" stroke-width="0.7"/><circle cx="292.92" cy="365.17" r="1.75" fill="#cc0a2f" stroke="#111" stroke-width="0.7"/><circle cx="301.84" cy="360.91" r="1.75" fill="#cc0a2f" stroke="#111" stroke-width="0.7"/><circle cx="310.76" cy="357.09" r="1.75" fill="#cc0a2f" stroke="#111" stroke-width="0.7"/><circle cx="319.68" cy="364.27" r="1.75" fill="#cc0a2f" stroke="#111" stroke-width="0.7"/><circle cx="328.6" cy="367.41" r="1.75" fill="#cc0a2f" stroke="#111" stroke-width="0.7"/><circle cx="337.52" cy="371.45" r="1.75" fill="#cc0a2f" stroke="#111" stroke-width="0.7"/><circle cx="346.44" cy="374.81" r="1.75" fill="#cc0a2f" stroke="#111" stroke-width="0.7"/><path d="M284 372.57 L292.92 366.96 L301.84 363.6 L310.76 362.48 L319.68 369.88 L328.6 371.67 L337.52 371.67 L346.44 372.57" fill="none" stroke="#111" stroke-width="1"/><circle cx="284" cy="372.57" r="1.75" fill="#5b2281" stroke="#111" stroke-width="0.7"/><circle cx="292.92" cy="366.96" r="1.75" fill="#5b2281" stroke="#111" stroke-width="0.7"/><circle cx="301.84" cy="363.6" r="1.75" fill="#5b2281" stroke="#111" stroke-width="0.7"/><circle cx="310.76" cy="362.48" r="1.75" fill="#5b2281" stroke="#111" stroke-width="0.7"/><circle cx="319.68" cy="369.88" r="1.75" fill="#5b2281" stroke="#111" stroke-width="0.7"/><circle cx="328.6" cy="371.67" r="1.75" fill="#5b2281" stroke="#111" stroke-width="0.7"/><circle cx="337.52" cy="371.67" r="1.75" fill="#5b2281" stroke="#111" stroke-width="0.7"/><circle cx="346.44" cy="372.57" r="1.75" fill="#5b2281" stroke="#111" stroke-width="0.7"/><path d="M284 372.57 L292.92 370.33 L301.84 365.62 L310.76 364.5 L319.68 373.69 L328.6 378.4 L337.52 380.87 L346.44 382.66" fill="none" stroke="#111" stroke-width="1"/><circle cx="284" cy="372.57" r="1.75" fill="#7dc243" stroke="#111" stroke-width="0.7"/><circle cx="292.92" cy="370.33" r="1.75" fill="#7dc243" stroke="#111" stroke-width="0.7"/><circle cx="301.84" cy="365.62" r="1.75" fill="#7dc243" stroke="#111" stroke-width="0.7"/><circle cx="310.76" cy="364.5" r="1.75" fill="#7dc243" stroke="#111" stroke-width="0.7"/><circle cx="319.68" cy="373.69" r="1.75" fill="#7dc243" stroke="#111" stroke-width="0.7"/><circle cx="328.6" cy="378.4" r="1.75" fill="#7dc243" stroke="#111" stroke-width="0.7"/><circle cx="337.52" cy="380.87" r="1.75" fill="#7dc243" stroke="#111" stroke-width="0.7"/><circle cx="346.44" cy="382.66" r="1.75" fill="#7dc243" stroke="#111" stroke-width="0.7"/><path d="M367.3 372.57 L376.22 365.17 L385.14 348.57 L394.06 336.23 L402.98 341.39 L411.9 340.72 L420.82 340.72 L429.74 341.17" fill="none" stroke="#111" stroke-width="1"/><circle cx="367.3" cy="372.57" r="1.75" fill="#5b2281" stroke="#111" stroke-width="0.7"/><circle cx="376.22" cy="365.17" r="1.75" fill="#5b2281" stroke="#111" stroke-width="0.7"/><circle cx="385.14" cy="348.57" r="1.75" fill="#5b2281" stroke="#111" stroke-width="0.7"/><circle cx="394.06" cy="336.23" r="1.75" fill="#5b2281" stroke="#111" stroke-width="0.7"/><circle cx="402.98" cy="341.39" r="1.75" fill="#5b2281" stroke="#111" stroke-width="0.7"/><circle cx="411.9" cy="340.72" r="1.75" fill="#5b2281" stroke="#111" stroke-width="0.7"/><circle cx="420.82" cy="340.72" r="1.75" fill="#5b2281" stroke="#111" stroke-width="0.7"/><circle cx="429.74" cy="341.17" r="1.75" fill="#5b2281" stroke="#111" stroke-width="0.7"/><path d="M367.3 372.57 L376.22 366.96 L385.14 356.87 L394.06 347.9 L402.98 355.3 L411.9 357.32 L420.82 363.15 L429.74 364.72" fill="none" stroke="#111" stroke-width="1"/><circle cx="367.3" cy="372.57" r="1.75" fill="#cc0a2f" stroke="#111" stroke-width="0.7"/><circle cx="376.22" cy="366.96" r="1.75" fill="#cc0a2f" stroke="#111" stroke-width="0.7"/><circle cx="385.14" cy="356.87" r="1.75" fill="#cc0a2f" stroke="#111" stroke-width="0.7"/><circle cx="394.06" cy="347.9" r="1.75" fill="#cc0a2f" stroke="#111" stroke-width="0.7"/><circle cx="402.98" cy="355.3" r="1.75" fill="#cc0a2f" stroke="#111" stroke-width="0.7"/><circle cx="411.9" cy="357.32" r="1.75" fill="#cc0a2f" stroke="#111" stroke-width="0.7"/><circle cx="420.82" cy="363.15" r="1.75" fill="#cc0a2f" stroke="#111" stroke-width="0.7"/><circle cx="429.74" cy="364.72" r="1.75" fill="#cc0a2f" stroke="#111" stroke-width="0.7"/><path d="M367.3 372.57 L376.22 369.43 L385.14 365.17 L394.06 365.17 L402.98 372.12 L411.9 377.95 L420.82 379.97 L429.74 381.32" fill="none" stroke="#111" stroke-width="1"/><circle cx="367.3" cy="372.57" r="1.75" fill="#7dc243" stroke="#111" stroke-width="0.7"/><circle cx="376.22" cy="369.43" r="1.75" fill="#7dc243" stroke="#111" stroke-width="0.7"/><circle cx="385.14" cy="365.17" r="1.75" fill="#7dc243" stroke="#111" stroke-width="0.7"/><circle cx="394.06" cy="365.17" r="1.75" fill="#7dc243" stroke="#111" stroke-width="0.7"/><circle cx="402.98" cy="372.12" r="1.75" fill="#7dc243" stroke="#111" stroke-width="0.7"/><circle cx="411.9" cy="377.95" r="1.75" fill="#7dc243" stroke="#111" stroke-width="0.7"/><circle cx="420.82" cy="379.97" r="1.75" fill="#7dc243" stroke="#111" stroke-width="0.7"/><circle cx="429.74" cy="381.32" r="1.75" fill="#7dc243" stroke="#111" stroke-width="0.7"/><circle cx="440.5" cy="338.8" r="1.75" fill="#7dc243" stroke="#111" stroke-width="0.7"/><text x="445.4" y="340.8" font-size="6.1" text-anchor="start" font-weight="normal" fill="#111" textLength="23.5" lengthAdjust="spacingAndGlyphs">GFP only</text><circle cx="440.5" cy="346.3" r="1.75" fill="#cc0a2f" stroke="#111" stroke-width="0.7"/><text x="445.4" y="348.3" font-size="6.1" text-anchor="start" font-weight="normal" fill="#111" textLength="13.8" lengthAdjust="spacingAndGlyphs">EpoR</text><circle cx="440.5" cy="353.9" r="1.75" fill="#5b2281" stroke="#111" stroke-width="0.7"/><text x="445.4" y="355.9" font-size="6.1" text-anchor="start" font-weight="normal" fill="#111" textLength="18.6" lengthAdjust="spacingAndGlyphs">EpoRm</text></svg></body></html>
